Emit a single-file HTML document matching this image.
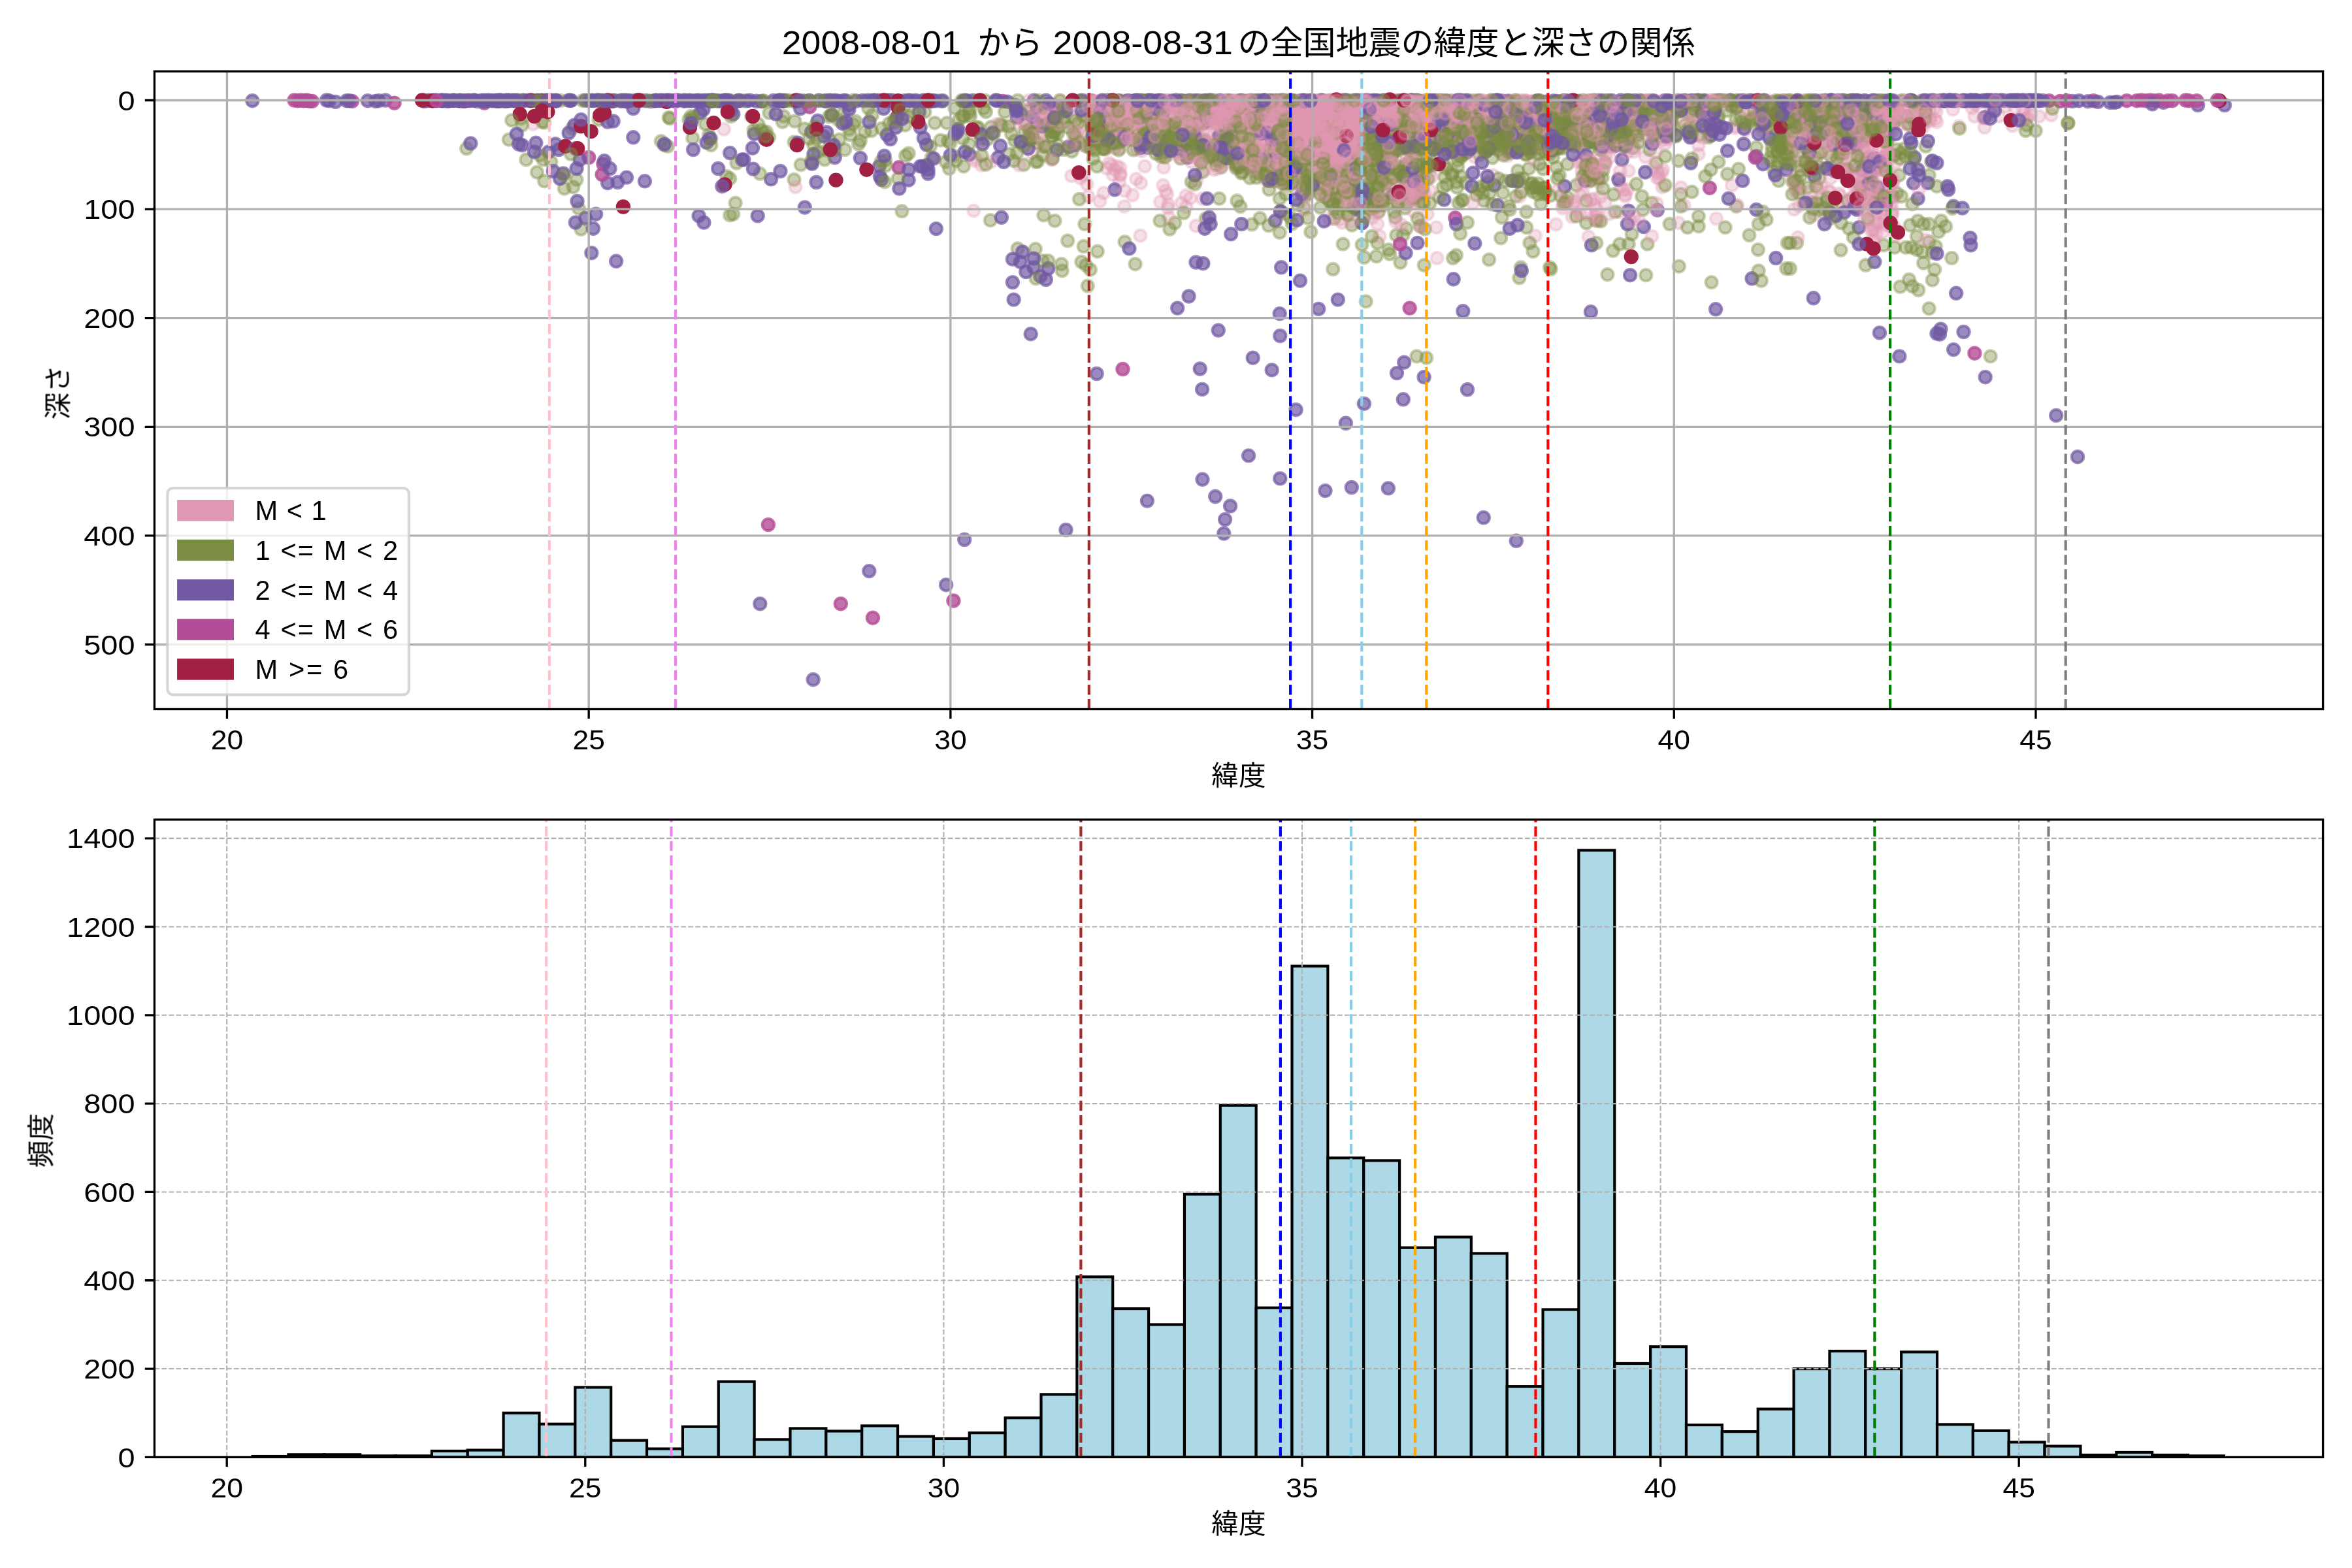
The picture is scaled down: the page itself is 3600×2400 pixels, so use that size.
<!DOCTYPE html>
<html lang="ja"><head><meta charset="utf-8"><title>全国地震の緯度と深さの関係</title>
<style>html,body{margin:0;padding:0;background:#fff}svg{display:block}text{font-family:"Liberation Sans","Noto Sans CJK JP",sans-serif;fill:#000}.t{font-size:41.67px}.tt{font-size:50.00px}circle{stroke-width:4.17px}.k{fill:#e198b4;stroke:#e198b4;fill-opacity:.3;stroke-opacity:.3}.g{fill:#7b8d42;stroke:#7b8d42;fill-opacity:.4;stroke-opacity:.4}.p{fill:#7058a3;stroke:#7058a3;fill-opacity:.7;stroke-opacity:.7}.m{fill:#b44c97;stroke:#b44c97;fill-opacity:.8;stroke-opacity:.8}.r{fill:#a22041;stroke:#a22041}.gr{stroke:#b0b0b0;stroke-width:3.33;fill:none}.gd{stroke:#b0b0b0;stroke-width:2.08;fill:none;stroke-dasharray:7.71 3.33}.vl{stroke-width:4.17;fill:none;stroke-dasharray:15.42 6.67}.sp{stroke:#000;stroke-width:3.33;fill:none}.bar{fill:#add8e6;stroke:#000;stroke-width:4.17;stroke-linejoin:miter}</style></head><body>
<svg width="3600" height="2400" viewBox="0 0 3600 2400">
<rect width="3600" height="2400" fill="#fff"/>
<defs><circle id="k" class="k" r="9.1"/><circle id="g" class="g" r="9.1"/><circle id="p" class="p" r="9.1"/><circle id="m" class="m" r="9.1"/><circle id="r" class="r" r="9.1"/><clipPath id="c1"><rect x="236.4" y="109.2" width="3319.2" height="976.3"/></clipPath><clipPath id="c2"><rect x="236.4" y="1254.4" width="3319.2" height="976"/></clipPath></defs>
<g clip-path="url(#c1)">
<g>
<use href="#g" x="2397.7" y="308.7"/>
<use href="#k" x="1879.7" y="164.9"/>
<use href="#p" x="1645.1" y="222.2"/>
<use href="#g" x="2039.3" y="232.6"/>
<use href="#k" x="1719.2" y="187.3"/>
<use href="#k" x="2184.9" y="327.7"/>
<use href="#k" x="2505.5" y="165.3"/>
<use href="#k" x="2085.4" y="168.8"/>
<use href="#g" x="2096.5" y="320.9"/>
<use href="#p" x="2174.8" y="165.4"/>
<use href="#g" x="1991.1" y="228.7"/>
<use href="#k" x="2030.4" y="159.8"/>
<use href="#g" x="2521.8" y="159.3"/>
<use href="#k" x="1721.4" y="213.7"/>
<use href="#k" x="1996.1" y="235.3"/>
<use href="#g" x="2510.6" y="175"/>
<use href="#k" x="2099.6" y="190.7"/>
<use href="#p" x="855.3" y="229"/>
<use href="#p" x="1758.3" y="154"/>
<use href="#k" x="2110" y="315.7"/>
<use href="#p" x="2385.3" y="175.7"/>
<use href="#k" x="1783.8" y="154.5"/>
<use href="#k" x="2002.4" y="194.2"/>
<use href="#g" x="2174.9" y="190.9"/>
<use href="#p" x="1935.7" y="154"/>
<use href="#k" x="2011.5" y="237.5"/>
<use href="#k" x="2899.9" y="168"/>
<use href="#k" x="1597" y="176.3"/>
<use href="#g" x="2308.2" y="191.2"/>
<use href="#g" x="1673.3" y="242.7"/>
<use href="#k" x="1601.6" y="202.9"/>
<use href="#k" x="2794.1" y="200"/>
<use href="#g" x="2774.3" y="164.9"/>
<use href="#g" x="2182.1" y="187.9"/>
<use href="#k" x="2107.1" y="176.6"/>
<use href="#k" x="1492.9" y="242"/>
<use href="#p" x="2196.3" y="154"/>
<use href="#k" x="2054.1" y="176.6"/>
<use href="#k" x="2043.7" y="203.9"/>
<use href="#g" x="2127.4" y="238.4"/>
<use href="#k" x="2183" y="163.8"/>
<use href="#k" x="2023.8" y="222.3"/>
<use href="#g" x="1216.5" y="185.5"/>
<use href="#g" x="2246.9" y="220.9"/>
<use href="#k" x="1872.7" y="163.1"/>
<use href="#k" x="2051.3" y="199"/>
<use href="#k" x="1746.6" y="213.8"/>
<use href="#k" x="2497.9" y="155.7"/>
<use href="#k" x="1891.8" y="258.1"/>
<use href="#g" x="2084.6" y="341.3"/>
<use href="#g" x="1920.1" y="256.6"/>
<use href="#k" x="2167.9" y="173.4"/>
<use href="#k" x="2096.9" y="246.6"/>
<use href="#k" x="2044.1" y="161.1"/>
<use href="#g" x="1962" y="280.4"/>
<use href="#k" x="2305" y="188"/>
<use href="#g" x="2279" y="166.9"/>
<use href="#g" x="1775.3" y="154.1"/>
<use href="#p" x="1273.3" y="176.3"/>
<use href="#k" x="1752.2" y="221.8"/>
<use href="#k" x="1787.9" y="163.6"/>
<use href="#k" x="2379.3" y="158.4"/>
<use href="#k" x="2144" y="193.6"/>
<use href="#k" x="2107.4" y="175.8"/>
<use href="#k" x="2785.4" y="312.4"/>
<use href="#g" x="2369.6" y="175.1"/>
<use href="#g" x="2039.9" y="279.3"/>
<use href="#k" x="2396.9" y="200.7"/>
<use href="#k" x="2788.7" y="181"/>
<use href="#p" x="2245.2" y="215.1"/>
<use href="#k" x="2839.3" y="164.2"/>
<use href="#g" x="2862.9" y="161.5"/>
<use href="#k" x="2116.9" y="160.1"/>
<use href="#g" x="2354.6" y="154.1"/>
<use href="#g" x="1036.9" y="153.5"/>
<use href="#k" x="2016.3" y="154.4"/>
<use href="#k" x="1944.3" y="191.6"/>
<use href="#k" x="2142.5" y="188.5"/>
<use href="#k" x="2135.1" y="156.3"/>
<use href="#k" x="2521.9" y="154.1"/>
<use href="#k" x="2077.3" y="291.9"/>
<use href="#k" x="2899.5" y="154.4"/>
<use href="#k" x="2040.7" y="185.6"/>
<use href="#k" x="2083.1" y="180.2"/>
<use href="#g" x="2066.1" y="175.2"/>
<use href="#g" x="1774.9" y="155.5"/>
<use href="#k" x="2063.2" y="215.7"/>
<use href="#g" x="2028.9" y="259.9"/>
<use href="#k" x="2511.2" y="159.3"/>
<use href="#g" x="2118.5" y="165.7"/>
<use href="#p" x="2630.9" y="153.6"/>
<use href="#k" x="2895.3" y="329"/>
<use href="#k" x="2071.4" y="192.3"/>
<use href="#k" x="2071.9" y="156.3"/>
<use href="#g" x="2210.5" y="203.5"/>
<use href="#p" x="1310.6" y="154.5"/>
<use href="#k" x="2027.7" y="199.8"/>
<use href="#k" x="2385.9" y="224.8"/>
<use href="#g" x="2078.6" y="322.5"/>
<use href="#g" x="1544.8" y="235.9"/>
<use href="#p" x="1198.6" y="154.7"/>
<use href="#p" x="2817.3" y="176.9"/>
<use href="#g" x="2490" y="202"/>
<use href="#k" x="1943.4" y="185.3"/>
<use href="#k" x="2895.4" y="166"/>
<use href="#k" x="2179.7" y="215.2"/>
<use href="#g" x="1727.8" y="154.1"/>
<use href="#p" x="1151.9" y="226.7"/>
<use href="#g" x="2517.1" y="177"/>
<use href="#g" x="2810.8" y="304.3"/>
<use href="#k" x="2083.1" y="175.8"/>
<use href="#p" x="2214.6" y="154.7"/>
<use href="#g" x="918.9" y="154.5"/>
<use href="#g" x="2802.1" y="154.7"/>
<use href="#g" x="1971.3" y="225"/>
<use href="#g" x="1869.3" y="256.1"/>
<use href="#p" x="1582.2" y="409.3"/>
<use href="#g" x="2412.8" y="283.5"/>
<use href="#k" x="2796.8" y="179.8"/>
<use href="#g" x="863.8" y="288.6"/>
<use href="#g" x="2087.1" y="246.4"/>
<use href="#k" x="2609.5" y="153.6"/>
<use href="#k" x="2258.1" y="172.4"/>
<use href="#k" x="2943.3" y="185.5"/>
<use href="#k" x="2080.2" y="170.5"/>
<use href="#g" x="2320.4" y="300.4"/>
<use href="#k" x="2012" y="201.6"/>
<use href="#p" x="2383" y="163.2"/>
<use href="#k" x="1999.4" y="285.6"/>
<use href="#k" x="2074.8" y="195.2"/>
<use href="#k" x="2025.3" y="212.9"/>
<use href="#g" x="1697.1" y="198.2"/>
<use href="#k" x="2075.2" y="190"/>
<use href="#k" x="2812" y="216.2"/>
<use href="#k" x="2193.6" y="159.7"/>
<use href="#m" x="3291" y="153.5"/>
<use href="#p" x="1674.8" y="192.4"/>
<use href="#k" x="2207.9" y="165.4"/>
<use href="#p" x="2835.2" y="153.8"/>
<use href="#k" x="2037.8" y="244.3"/>
<use href="#p" x="2121.1" y="176.9"/>
<use href="#k" x="2121.2" y="179.2"/>
<use href="#k" x="2554.2" y="201.8"/>
<use href="#g" x="2160.2" y="194.2"/>
<use href="#k" x="1794.3" y="155.2"/>
<use href="#k" x="2244" y="176.1"/>
<use href="#k" x="2039.3" y="160"/>
<use href="#g" x="1780.7" y="154.2"/>
<use href="#k" x="1890.8" y="249.9"/>
<use href="#g" x="2210.1" y="251.3"/>
<use href="#k" x="1644.4" y="199.8"/>
<use href="#g" x="1941.6" y="193.9"/>
<use href="#k" x="2242.2" y="154.1"/>
<use href="#k" x="1606" y="167.8"/>
<use href="#k" x="2422.1" y="246.9"/>
<use href="#k" x="2083.8" y="175.5"/>
<use href="#k" x="1926.5" y="156.4"/>
<use href="#g" x="1955.1" y="211.3"/>
<use href="#k" x="1811.3" y="159"/>
<use href="#p" x="3405" y="161"/>
<use href="#k" x="2094.3" y="182"/>
<use href="#k" x="2814.6" y="296.1"/>
<use href="#p" x="2969.3" y="154.3"/>
<use href="#g" x="2548.8" y="239.3"/>
<use href="#k" x="1996.4" y="164.9"/>
<use href="#k" x="2392.5" y="198.7"/>
<use href="#g" x="1952.7" y="227.6"/>
<use href="#k" x="2041.9" y="166.7"/>
<use href="#p" x="1180.1" y="274.3"/>
<use href="#k" x="2007.9" y="232.2"/>
<use href="#g" x="1871.3" y="161.5"/>
<use href="#p" x="1549.9" y="432.1"/>
<use href="#g" x="2073.5" y="318.3"/>
<use href="#k" x="2054.7" y="166"/>
<use href="#k" x="2066.8" y="220"/>
<use href="#g" x="2140.7" y="181.3"/>
<use href="#k" x="2000.1" y="161.9"/>
<use href="#g" x="2803.3" y="187.2"/>
<use href="#k" x="2001.3" y="201.2"/>
<use href="#k" x="2123.7" y="176.2"/>
<use href="#k" x="1824.7" y="226.3"/>
<use href="#k" x="2547.5" y="164.7"/>
<use href="#k" x="2113.8" y="155.1"/>
<use href="#k" x="2205.8" y="164"/>
<use href="#k" x="2029.8" y="197.9"/>
<use href="#k" x="2844.7" y="282.9"/>
<use href="#p" x="2263.2" y="154.9"/>
<use href="#k" x="2127.8" y="186.6"/>
<use href="#g" x="2434.2" y="196.2"/>
<use href="#g" x="1750.4" y="203.2"/>
<use href="#p" x="2570.4" y="169.6"/>
<use href="#g" x="2249.2" y="165"/>
<use href="#g" x="2373.1" y="215.5"/>
<use href="#g" x="1763" y="182.2"/>
<use href="#k" x="2426.3" y="165.1"/>
<use href="#k" x="2297.8" y="184.3"/>
<use href="#g" x="2099.4" y="304.1"/>
<use href="#p" x="1855.3" y="179.8"/>
<use href="#k" x="2043" y="158.7"/>
<use href="#g" x="2093.2" y="223"/>
<use href="#g" x="2630.3" y="177.5"/>
<use href="#k" x="1978.4" y="154.3"/>
<use href="#k" x="2067.1" y="216.7"/>
<use href="#p" x="862.1" y="265.4"/>
<use href="#k" x="1831.9" y="155.8"/>
<use href="#k" x="1798.9" y="164.1"/>
<use href="#k" x="2023" y="230.2"/>
<use href="#g" x="1804.8" y="228.3"/>
<use href="#k" x="2067.4" y="189.7"/>
<use href="#g" x="1988.1" y="200.6"/>
<use href="#g" x="2201.4" y="221.7"/>
<use href="#g" x="2062.5" y="314.5"/>
<use href="#g" x="2301.8" y="175.1"/>
<use href="#k" x="1990.9" y="155.7"/>
<use href="#p" x="2511.7" y="154.2"/>
<use href="#g" x="2340.8" y="208.7"/>
<use href="#k" x="1787.6" y="318.3"/>
<use href="#k" x="3004.1" y="154.3"/>
<use href="#k" x="1837.2" y="223.5"/>
<use href="#g" x="2027.2" y="154.8"/>
<use href="#k" x="2780.6" y="189.8"/>
<use href="#g" x="2326.5" y="192.6"/>
<use href="#p" x="896.1" y="333.8"/>
<use href="#k" x="2419.1" y="298.2"/>
<use href="#k" x="1999.8" y="155.3"/>
<use href="#k" x="2135.4" y="167.9"/>
<use href="#g" x="2335.9" y="177.5"/>
<use href="#k" x="2054.8" y="205"/>
<use href="#p" x="2681.5" y="426.3"/>
<use href="#k" x="2865.1" y="281.6"/>
<use href="#k" x="2017.8" y="192.9"/>
<use href="#g" x="2670.6" y="154"/>
<use href="#k" x="2010" y="233.3"/>
<use href="#k" x="1825.3" y="182.4"/>
<use href="#k" x="1988.8" y="226.9"/>
<use href="#k" x="1852.8" y="159.5"/>
<use href="#k" x="2006" y="211.6"/>
<use href="#g" x="1460.6" y="238.8"/>
<use href="#k" x="1988" y="156.7"/>
<use href="#p" x="2095.1" y="222.4"/>
<use href="#k" x="2955.2" y="154"/>
<use href="#g" x="1116.3" y="154.1"/>
<use href="#k" x="2004.8" y="184.6"/>
<use href="#k" x="3087.4" y="153.7"/>
<use href="#k" x="3080.1" y="153.7"/>
<use href="#g" x="2530.1" y="184.9"/>
<use href="#k" x="1731.8" y="178.3"/>
<use href="#p" x="2845.4" y="348.1"/>
<use href="#g" x="1844.7" y="228.5"/>
<use href="#k" x="2892.8" y="341.2"/>
<use href="#k" x="1958.8" y="172.9"/>
<use href="#p" x="2295.6" y="186.9"/>
<use href="#p" x="2133.1" y="232.8"/>
<use href="#g" x="1932.5" y="237.5"/>
<use href="#g" x="2071.7" y="154.1"/>
<use href="#k" x="2043.9" y="187.8"/>
<use href="#k" x="2066.4" y="156"/>
<use href="#k" x="1947" y="218.7"/>
<use href="#k" x="1725.9" y="165.8"/>
<use href="#k" x="1768.9" y="215.1"/>
<use href="#k" x="2047.8" y="186"/>
<use href="#k" x="2041.7" y="227.4"/>
<use href="#k" x="2185.5" y="165.1"/>
<use href="#k" x="2300.3" y="188.9"/>
<use href="#k" x="2553.2" y="212.8"/>
<use href="#g" x="2379.5" y="229.3"/>
<use href="#g" x="1858.8" y="183.6"/>
<use href="#g" x="1037.5" y="153.6"/>
<use href="#g" x="1380.5" y="323.3"/>
<use href="#g" x="2311.1" y="185.4"/>
<use href="#k" x="2804.7" y="249.1"/>
<use href="#k" x="2426.3" y="201.5"/>
<use href="#k" x="2087.2" y="176.2"/>
<use href="#k" x="2051.2" y="195.4"/>
<use href="#g" x="2148" y="256.5"/>
<use href="#k" x="2159.4" y="166.4"/>
<use href="#g" x="2933.9" y="382.1"/>
<use href="#k" x="2051.1" y="206.5"/>
<use href="#k" x="2196" y="160.1"/>
<use href="#p" x="2718.2" y="395"/>
<use href="#p" x="1402.6" y="155.1"/>
<use href="#k" x="2821.4" y="153.6"/>
<use href="#g" x="2435" y="264.7"/>
<use href="#k" x="2162.7" y="244.6"/>
<use href="#k" x="2354.5" y="175.9"/>
<use href="#g" x="1823.7" y="278.4"/>
<use href="#p" x="1817.3" y="241.2"/>
<use href="#g" x="1199.5" y="178"/>
<use href="#k" x="2051.7" y="188.7"/>
<use href="#p" x="2849.9" y="260.4"/>
<use href="#k" x="2351" y="166.8"/>
<use href="#k" x="1683.4" y="307.9"/>
<use href="#k" x="2896.5" y="321.7"/>
<use href="#k" x="2007.1" y="208.7"/>
<use href="#k" x="1786.2" y="153.8"/>
<use href="#p" x="2107.5" y="180.7"/>
<use href="#p" x="2990" y="315.8"/>
<use href="#k" x="2010.9" y="219.5"/>
<use href="#p" x="2329.8" y="215.3"/>
<use href="#p" x="2422.3" y="170.4"/>
<use href="#g" x="2401.7" y="166.3"/>
<use href="#p" x="1702.1" y="153.5"/>
<use href="#p" x="2944.2" y="154.1"/>
<use href="#k" x="1741.6" y="181.6"/>
<use href="#k" x="2316.3" y="230.6"/>
<use href="#k" x="2069.3" y="206.3"/>
<use href="#m" x="901.2" y="241"/>
<use href="#g" x="2196.2" y="214.6"/>
<use href="#k" x="2375.5" y="189.1"/>
<use href="#g" x="1530.6" y="190.5"/>
<use href="#g" x="2058.1" y="289.9"/>
<use href="#p" x="1882.5" y="154.2"/>
<use href="#k" x="2170.5" y="160.8"/>
<use href="#g" x="2121.5" y="175.5"/>
<use href="#g" x="1025.4" y="181.4"/>
<use href="#g" x="2370.6" y="193.5"/>
<use href="#p" x="2344.8" y="199.2"/>
<use href="#p" x="821.8" y="153.8"/>
<use href="#k" x="2877" y="174.5"/>
<use href="#g" x="2174.6" y="175.6"/>
<use href="#k" x="2010.3" y="216.4"/>
<use href="#k" x="2025.2" y="197.7"/>
<use href="#g" x="2817.6" y="382.8"/>
<use href="#k" x="1830" y="157.6"/>
<use href="#k" x="2064.3" y="167.4"/>
<use href="#k" x="2169.2" y="300.2"/>
<use href="#g" x="2129.8" y="267.4"/>
<use href="#k" x="1714.6" y="226.9"/>
<use href="#g" x="2170.8" y="278.6"/>
<use href="#k" x="2072.8" y="275.6"/>
<use href="#g" x="2108.4" y="371.9"/>
<use href="#p" x="1407" y="171.2"/>
<use href="#k" x="1885.9" y="239.6"/>
<use href="#g" x="1809.3" y="173.3"/>
<use href="#k" x="1993.4" y="163.5"/>
<use href="#p" x="1117.2" y="234.1"/>
<use href="#g" x="2143.4" y="401.8"/>
<use href="#g" x="2664.5" y="179.8"/>
<use href="#k" x="2045.2" y="202.9"/>
<use href="#k" x="2371.1" y="207.6"/>
<use href="#k" x="2447.4" y="155.8"/>
<use href="#g" x="2462.7" y="175.3"/>
<use href="#k" x="1623.5" y="154.3"/>
<use href="#k" x="2852.6" y="309"/>
<use href="#g" x="2923.7" y="344.7"/>
<use href="#g" x="1919.3" y="254.5"/>
<use href="#k" x="2045.5" y="204.7"/>
<use href="#k" x="1701.2" y="252.9"/>
<use href="#p" x="3068" y="154"/>
<use href="#g" x="2137" y="197.9"/>
<use href="#g" x="1252.2" y="232.4"/>
<use href="#g" x="2281.2" y="175.2"/>
<use href="#g" x="2296.7" y="192.3"/>
<use href="#p" x="2950.9" y="154.2"/>
<use href="#k" x="2040.4" y="213.3"/>
<use href="#g" x="2224.4" y="194.3"/>
<use href="#g" x="2231.1" y="255.3"/>
<use href="#k" x="1654.7" y="222.4"/>
<use href="#k" x="2051.7" y="203.7"/>
<use href="#k" x="2059.1" y="273.3"/>
<use href="#k" x="1831.7" y="276.3"/>
<use href="#k" x="3044" y="153.7"/>
<use href="#g" x="1958.7" y="303.9"/>
<use href="#p" x="2094.7" y="154"/>
<use href="#k" x="2376.8" y="173.1"/>
<use href="#k" x="2090" y="169.7"/>
<use href="#k" x="1711.6" y="153.6"/>
<use href="#k" x="2374.5" y="177"/>
<use href="#k" x="1825.2" y="186.6"/>
<use href="#g" x="3115.9" y="200.1"/>
<use href="#k" x="2224.4" y="154.2"/>
<use href="#g" x="1617.6" y="166.8"/>
<use href="#g" x="2274.4" y="228.3"/>
<use href="#k" x="2181" y="157.8"/>
<use href="#k" x="2009.2" y="169.1"/>
<use href="#k" x="2014.5" y="170.5"/>
<use href="#k" x="2039.8" y="186.1"/>
<use href="#k" x="2453.2" y="208.5"/>
<use href="#g" x="2882.9" y="375.3"/>
<use href="#k" x="1893.5" y="163.4"/>
<use href="#k" x="1991.4" y="193.7"/>
<use href="#g" x="2297.1" y="364.4"/>
<use href="#g" x="2818.7" y="227.6"/>
<use href="#g" x="2078.3" y="227.7"/>
<use href="#g" x="2098.4" y="214.9"/>
<use href="#k" x="2004.9" y="231"/>
<use href="#g" x="1016.9" y="222.2"/>
<use href="#k" x="2032.9" y="235.8"/>
<use href="#k" x="1986.3" y="156.1"/>
<use href="#g" x="2846.8" y="165.4"/>
<use href="#g" x="2494.2" y="210.4"/>
<use href="#p" x="1748.4" y="154.6"/>
<use href="#k" x="2013.3" y="200.7"/>
<use href="#p" x="1245.4" y="235.9"/>
<use href="#g" x="2075.5" y="227.8"/>
<use href="#k" x="1989" y="154.6"/>
<use href="#g" x="1977.1" y="221.7"/>
<use href="#g" x="2771.1" y="153.8"/>
<use href="#g" x="714.1" y="227.3"/>
<use href="#g" x="1011.8" y="216.1"/>
<use href="#g" x="2500.4" y="177"/>
<use href="#g" x="2783" y="186.3"/>
<use href="#p" x="1586.4" y="188.8"/>
<use href="#p" x="2120.7" y="204.2"/>
<use href="#k" x="2734.2" y="207.1"/>
<use href="#g" x="1975.3" y="153.5"/>
<use href="#k" x="2030.4" y="208.7"/>
<use href="#k" x="2014.7" y="204.3"/>
<use href="#k" x="2047.3" y="174.3"/>
<use href="#g" x="2229.1" y="390.6"/>
<use href="#k" x="2143.5" y="157.2"/>
<use href="#g" x="1485.2" y="178"/>
<use href="#g" x="2174.7" y="261.7"/>
<use href="#g" x="2729.1" y="219.6"/>
<use href="#g" x="2003.3" y="295.4"/>
<use href="#g" x="2571.2" y="153.7"/>
<use href="#g" x="2886" y="208.1"/>
<use href="#k" x="1828.8" y="224.4"/>
<use href="#k" x="3061.3" y="154.2"/>
<use href="#k" x="2527.6" y="198.5"/>
<use href="#k" x="2639.9" y="160.4"/>
<use href="#p" x="708.8" y="154.3"/>
<use href="#g" x="1777.2" y="239.8"/>
<use href="#g" x="1812.4" y="171.5"/>
<use href="#g" x="2382.8" y="192.8"/>
<use href="#k" x="2487.6" y="300.5"/>
<use href="#g" x="2058.2" y="188.1"/>
<use href="#p" x="2129" y="225"/>
<use href="#k" x="1994.2" y="185"/>
<use href="#k" x="2016.4" y="220.7"/>
<use href="#p" x="2984.1" y="153.6"/>
<use href="#p" x="2076.8" y="320.4"/>
<use href="#k" x="2182.3" y="186.6"/>
<use href="#p" x="1635.8" y="224.8"/>
<use href="#g" x="2154.1" y="311.4"/>
<use href="#g" x="2227.2" y="170.1"/>
<use href="#g" x="1834.2" y="223.5"/>
<use href="#g" x="1958.4" y="254.9"/>
<use href="#k" x="2034.1" y="228.8"/>
<use href="#g" x="2307.1" y="213.1"/>
<use href="#k" x="2358" y="159.8"/>
<use href="#k" x="2056.8" y="161.2"/>
<use href="#g" x="1386.1" y="238.5"/>
<use href="#g" x="2158.5" y="194.5"/>
<use href="#g" x="2106.7" y="392.3"/>
<use href="#k" x="2024.1" y="210.1"/>
<use href="#k" x="2472.4" y="171.6"/>
<use href="#k" x="2013.2" y="213.8"/>
<use href="#k" x="2009.8" y="265.6"/>
<use href="#g" x="2000.1" y="288.9"/>
<use href="#g" x="2342.3" y="228.7"/>
<use href="#k" x="2158.2" y="167"/>
<use href="#g" x="2119.7" y="226.6"/>
<use href="#k" x="1873" y="172.6"/>
<use href="#g" x="2455.9" y="186.2"/>
<use href="#g" x="1879.4" y="235.7"/>
<use href="#g" x="2303.1" y="189.3"/>
<use href="#g" x="2497.8" y="358.3"/>
<use href="#p" x="2286.9" y="283.5"/>
<use href="#g" x="1676.9" y="213.6"/>
<use href="#g" x="2342" y="232.2"/>
<use href="#p" x="3172" y="154.9"/>
<use href="#k" x="1633.2" y="171.2"/>
<use href="#p" x="1355.4" y="154.6"/>
<use href="#g" x="1060.4" y="211.4"/>
<use href="#p" x="2624.8" y="166.8"/>
<use href="#p" x="2751.7" y="154"/>
<use href="#k" x="2105.4" y="172.4"/>
<use href="#k" x="1992.9" y="273.7"/>
<use href="#p" x="2124.4" y="154.1"/>
<use href="#k" x="2963.9" y="170.9"/>
<use href="#k" x="2045.9" y="174.7"/>
<use href="#k" x="2866" y="244.8"/>
<use href="#p" x="2197.1" y="171.9"/>
<use href="#k" x="2160.7" y="179.4"/>
<use href="#k" x="2470.8" y="168.2"/>
<use href="#g" x="1959.9" y="323"/>
<use href="#p" x="930.1" y="280.1"/>
<use href="#k" x="2453.1" y="176.1"/>
<use href="#g" x="2372.8" y="220.6"/>
<use href="#p" x="2618.7" y="207.3"/>
<use href="#g" x="2857.8" y="154.9"/>
<use href="#g" x="1760.3" y="169.6"/>
<use href="#g" x="2452.5" y="271.9"/>
<use href="#k" x="2380.4" y="215"/>
<use href="#p" x="1200.6" y="153.7"/>
<use href="#g" x="2599.5" y="207.4"/>
<use href="#g" x="2312.2" y="234.2"/>
<use href="#g" x="2323.1" y="261.4"/>
<use href="#k" x="2000.4" y="169.6"/>
<use href="#k" x="1694.1" y="257.6"/>
<use href="#k" x="2079.6" y="194.8"/>
<use href="#g" x="885.9" y="319.2"/>
<use href="#g" x="2008.2" y="250.9"/>
<use href="#k" x="2463.2" y="172.2"/>
<use href="#g" x="1679.8" y="384.8"/>
<use href="#p" x="1957" y="154.5"/>
<use href="#k" x="2025.7" y="217.4"/>
<use href="#g" x="2022.1" y="249.1"/>
<use href="#k" x="2890.5" y="210.4"/>
<use href="#p" x="1193.5" y="154"/>
<use href="#k" x="2058.1" y="155"/>
<use href="#k" x="2170.3" y="269.3"/>
<use href="#k" x="1914.2" y="256.2"/>
<use href="#k" x="3038" y="154.3"/>
<use href="#k" x="1726.3" y="199.5"/>
<use href="#k" x="2902.4" y="248.2"/>
<use href="#p" x="1587.1" y="164.2"/>
<use href="#p" x="1978.2" y="165.7"/>
<use href="#k" x="1991.1" y="166.5"/>
<use href="#k" x="2201.8" y="185"/>
<use href="#p" x="3364.1" y="161"/>
<use href="#k" x="2480.1" y="285.4"/>
<use href="#p" x="943.1" y="399.8"/>
<use href="#k" x="1713.6" y="197.8"/>
<use href="#k" x="2038.7" y="203.6"/>
<use href="#k" x="2163.4" y="153.5"/>
<use href="#p" x="2116.2" y="248.3"/>
<use href="#k" x="2180.2" y="167"/>
<use href="#k" x="1999.9" y="173.9"/>
<use href="#k" x="2025.3" y="164.1"/>
<use href="#k" x="2193.4" y="172.3"/>
<use href="#k" x="2058.6" y="193.9"/>
<use href="#g" x="2149.7" y="153.8"/>
<use href="#k" x="1836.1" y="158"/>
<use href="#k" x="2140.4" y="209.9"/>
<use href="#k" x="2027.1" y="183.2"/>
<use href="#k" x="2293.1" y="188.5"/>
<use href="#g" x="2275.2" y="185.9"/>
<use href="#k" x="1858.8" y="176.1"/>
<use href="#k" x="2253" y="225.4"/>
<use href="#k" x="2083.3" y="158.9"/>
<use href="#k" x="1781.5" y="168.1"/>
<use href="#g" x="1958" y="229.7"/>
<use href="#p" x="2260.9" y="210.4"/>
<use href="#g" x="2352.2" y="154.7"/>
<use href="#g" x="2330.3" y="206.8"/>
<use href="#k" x="1711.8" y="211.5"/>
<use href="#k" x="2071" y="171.7"/>
<use href="#k" x="2493.8" y="210.9"/>
<use href="#p" x="1357.4" y="153.8"/>
<use href="#g" x="1783.1" y="222.3"/>
<use href="#k" x="2155.6" y="157.3"/>
<use href="#k" x="2065.4" y="204"/>
<use href="#g" x="2405.7" y="194.4"/>
<use href="#p" x="840" y="232.4"/>
<use href="#g" x="2241.7" y="202.2"/>
<use href="#k" x="2024.2" y="183.8"/>
<use href="#g" x="2708.7" y="184.5"/>
<use href="#g" x="2308.8" y="194.6"/>
<use href="#k" x="2031.7" y="202.5"/>
<use href="#k" x="2206.1" y="212.7"/>
<use href="#k" x="2467.7" y="208.9"/>
<use href="#p" x="2054.3" y="153.6"/>
<use href="#k" x="1785.6" y="202"/>
<use href="#g" x="2104" y="262.7"/>
<use href="#g" x="2016.6" y="236.2"/>
<use href="#k" x="2043.6" y="210.2"/>
<use href="#g" x="1865.8" y="208.3"/>
<use href="#g" x="2733" y="235.6"/>
<use href="#p" x="2476.9" y="165.1"/>
<use href="#k" x="2051.2" y="335.8"/>
<use href="#p" x="1696.1" y="153.5"/>
<use href="#g" x="2524.4" y="185.6"/>
<use href="#k" x="2375.7" y="184.1"/>
<use href="#g" x="1087.3" y="154.1"/>
<use href="#p" x="2992.8" y="154.2"/>
<use href="#g" x="2735.1" y="227.7"/>
<use href="#k" x="2962.5" y="154"/>
<use href="#k" x="2026.5" y="191.6"/>
<use href="#k" x="2048.5" y="175.6"/>
<use href="#k" x="2037.6" y="158.2"/>
<use href="#g" x="1716.5" y="197.4"/>
<use href="#g" x="2087.2" y="303.9"/>
<use href="#k" x="2052.6" y="186.4"/>
<use href="#p" x="1821" y="153.8"/>
<use href="#k" x="2828.8" y="263.7"/>
<use href="#k" x="2181" y="185.9"/>
<use href="#k" x="2019.7" y="154"/>
<use href="#g" x="2343.1" y="281.8"/>
<use href="#k" x="2028" y="199.5"/>
<use href="#g" x="2695.6" y="180.1"/>
<use href="#k" x="2124.7" y="236.2"/>
<use href="#k" x="2618.1" y="186.6"/>
<use href="#k" x="2078.7" y="207.6"/>
<use href="#p" x="3311.4" y="156.9"/>
<use href="#p" x="2209.4" y="159.6"/>
<use href="#k" x="2048.2" y="245.1"/>
<use href="#k" x="2145.8" y="179"/>
<use href="#k" x="2806.8" y="182.5"/>
<use href="#p" x="2087.5" y="171.5"/>
<use href="#k" x="2938.7" y="193.3"/>
<use href="#g" x="2089.4" y="221.1"/>
<use href="#g" x="2109.5" y="206.1"/>
<use href="#k" x="2048.7" y="202"/>
<use href="#k" x="2055.5" y="171.2"/>
<use href="#k" x="2840.1" y="173.2"/>
<use href="#k" x="1973.5" y="188.6"/>
<use href="#k" x="2098.6" y="181.8"/>
<use href="#p" x="1697.9" y="169.4"/>
<use href="#g" x="1205.9" y="153.8"/>
<use href="#g" x="1412.3" y="153.7"/>
<use href="#k" x="2051" y="194.1"/>
<use href="#k" x="2118.3" y="293"/>
<use href="#k" x="2953.1" y="169.1"/>
<use href="#g" x="2428" y="160.4"/>
<use href="#k" x="1853.4" y="153.8"/>
<use href="#k" x="2114.9" y="230.8"/>
<use href="#k" x="2149" y="168.1"/>
<use href="#g" x="2786.1" y="177.6"/>
<use href="#k" x="2184.6" y="184.8"/>
<use href="#p" x="1418.2" y="221.6"/>
<use href="#m" x="3255.3" y="154.2"/>
<use href="#k" x="2433.7" y="153.9"/>
<use href="#k" x="2948.1" y="153.6"/>
<use href="#k" x="2810.5" y="165.7"/>
<use href="#p" x="1953.4" y="153.9"/>
<use href="#k" x="2862" y="337.2"/>
<use href="#k" x="1744.9" y="192.8"/>
<use href="#k" x="2086.6" y="175.5"/>
<use href="#p" x="2777.4" y="269.9"/>
<use href="#m" x="2616.9" y="287.6"/>
<use href="#g" x="1745.9" y="212.9"/>
<use href="#p" x="1466.5" y="197.8"/>
<use href="#k" x="1996.6" y="158.7"/>
<use href="#g" x="2428.1" y="307.3"/>
<use href="#g" x="778.8" y="213.7"/>
<use href="#k" x="2119.8" y="179.1"/>
<use href="#k" x="2880.5" y="240.8"/>
<use href="#k" x="2311.6" y="169.9"/>
<use href="#p" x="1069.6" y="330.4"/>
<use href="#k" x="2788.3" y="156.2"/>
<use href="#g" x="2499.2" y="165.1"/>
<use href="#k" x="2369.8" y="217.3"/>
<use href="#g" x="1323.7" y="201.8"/>
<use href="#g" x="2506.1" y="207.3"/>
<use href="#k" x="2032.1" y="198.9"/>
<use href="#k" x="2011.1" y="182.5"/>
<use href="#g" x="2159" y="188.8"/>
<use href="#p" x="2350.6" y="204.1"/>
<use href="#g" x="2308.7" y="154.3"/>
<use href="#k" x="2051.5" y="190.7"/>
<use href="#p" x="1601.1" y="153.8"/>
<use href="#p" x="1768.2" y="199.7"/>
<use href="#k" x="2851.9" y="170"/>
<use href="#p" x="835.6" y="153.6"/>
<use href="#p" x="1098.8" y="154.5"/>
<use href="#g" x="2906.7" y="268.2"/>
<use href="#k" x="1814.6" y="234.5"/>
<use href="#k" x="2278.3" y="168.8"/>
<use href="#k" x="2131" y="178"/>
<use href="#g" x="2024.4" y="169"/>
<use href="#k" x="2036.6" y="183.7"/>
<use href="#k" x="2104.9" y="189.4"/>
<use href="#p" x="2236.5" y="153.8"/>
<use href="#g" x="2156.7" y="247.7"/>
<use href="#k" x="1855.1" y="169"/>
<use href="#k" x="2832.7" y="226.2"/>
<use href="#k" x="2141.1" y="165.2"/>
<use href="#k" x="1870.1" y="168.7"/>
<use href="#g" x="2893.4" y="187.7"/>
<use href="#k" x="2019.2" y="207.2"/>
<use href="#g" x="2156.5" y="154"/>
<use href="#k" x="2056.5" y="208.7"/>
<use href="#g" x="2470.1" y="212.3"/>
<use href="#k" x="2065.1" y="161.4"/>
<use href="#g" x="2878.6" y="298.9"/>
<use href="#k" x="2055" y="162.4"/>
<use href="#k" x="2032.7" y="198.9"/>
<use href="#g" x="2225" y="203"/>
<use href="#g" x="1570.6" y="190.9"/>
<use href="#g" x="1846.4" y="153.5"/>
<use href="#k" x="2520.6" y="211.4"/>
<use href="#p" x="2756.2" y="194.2"/>
<use href="#k" x="2036.8" y="177.5"/>
<use href="#k" x="2907.7" y="154.6"/>
<use href="#g" x="2382.2" y="170.9"/>
<use href="#k" x="2003.4" y="235.9"/>
<use href="#k" x="2005.2" y="228.2"/>
<use href="#g" x="2827.2" y="174.2"/>
<use href="#g" x="1914.5" y="153.7"/>
<use href="#p" x="784.6" y="153.6"/>
<use href="#k" x="2030.7" y="165.5"/>
<use href="#g" x="2815.9" y="204.7"/>
<use href="#g" x="2361.9" y="258.6"/>
<use href="#g" x="1533.7" y="192.4"/>
<use href="#g" x="2854.2" y="156.5"/>
<use href="#g" x="2376.6" y="163.7"/>
<use href="#p" x="725.9" y="153.5"/>
<use href="#k" x="2286.8" y="188.7"/>
<use href="#k" x="2011.4" y="179"/>
<use href="#k" x="1898.6" y="190.9"/>
<use href="#k" x="1968.7" y="191.9"/>
<use href="#g" x="1798.2" y="341.3"/>
<use href="#k" x="2181" y="183.6"/>
<use href="#p" x="981.2" y="153.7"/>
<use href="#k" x="2066.2" y="178.1"/>
<use href="#g" x="2397" y="191.9"/>
<use href="#g" x="2171.9" y="197.2"/>
<use href="#k" x="2793.1" y="164.7"/>
<use href="#k" x="1988" y="162.8"/>
<use href="#g" x="2753.9" y="232.4"/>
<use href="#g" x="2774" y="310.7"/>
<use href="#k" x="2599.9" y="235.9"/>
<use href="#g" x="2171.8" y="291.8"/>
<use href="#g" x="2357.8" y="200"/>
<use href="#k" x="2135.6" y="214.2"/>
<use href="#m" x="469.3" y="153.5"/>
<use href="#k" x="2046.2" y="280.6"/>
<use href="#k" x="2455.5" y="154"/>
<use href="#p" x="1337.5" y="153.6"/>
<use href="#k" x="2648" y="153.5"/>
<use href="#g" x="2134.3" y="164.3"/>
<use href="#k" x="2874" y="154.5"/>
<use href="#k" x="2178.3" y="173.5"/>
<use href="#k" x="2023.6" y="227.1"/>
<use href="#p" x="2924.3" y="153.8"/>
<use href="#k" x="1888.8" y="154.1"/>
<use href="#k" x="1720.1" y="154.4"/>
<use href="#k" x="2764.1" y="154.8"/>
<use href="#k" x="2015.4" y="183.1"/>
<use href="#g" x="2381.8" y="158.1"/>
<use href="#k" x="2015.4" y="174.3"/>
<use href="#p" x="2373.2" y="160.1"/>
<use href="#k" x="2671.5" y="199.7"/>
<use href="#p" x="2214.5" y="191.4"/>
<use href="#g" x="2099.5" y="245"/>
<use href="#g" x="2902.2" y="183.5"/>
<use href="#k" x="1785.4" y="194.8"/>
<use href="#p" x="2794.2" y="153.6"/>
<use href="#k" x="2197.6" y="168.7"/>
<use href="#g" x="2377.7" y="176.5"/>
<use href="#g" x="2223.5" y="216.7"/>
<use href="#k" x="2043.7" y="213.6"/>
<use href="#k" x="2000.5" y="155.8"/>
<use href="#k" x="2175" y="254.7"/>
<use href="#g" x="1237.8" y="154.5"/>
<use href="#g" x="2288.7" y="159.4"/>
<use href="#k" x="2029.8" y="191.3"/>
<use href="#k" x="1766.3" y="162.4"/>
<use href="#k" x="2872.6" y="154.6"/>
<use href="#g" x="2255.3" y="154.3"/>
<use href="#p" x="2558.6" y="176"/>
<use href="#k" x="1995.7" y="188"/>
<use href="#k" x="2096.3" y="183.3"/>
<use href="#g" x="2278" y="220.2"/>
<use href="#g" x="2583.8" y="173.8"/>
<use href="#g" x="2166.4" y="202"/>
<use href="#p" x="1372.3" y="181.4"/>
<use href="#g" x="2102.8" y="182"/>
<use href="#k" x="2792.8" y="176.9"/>
<use href="#g" x="2029.6" y="279.5"/>
<use href="#k" x="2019.8" y="242.8"/>
<use href="#k" x="1986.6" y="215.2"/>
<use href="#g" x="2298.8" y="332.8"/>
<use href="#k" x="2066" y="184.8"/>
<use href="#g" x="1919.8" y="212"/>
<use href="#k" x="2174.6" y="269"/>
<use href="#k" x="2076.9" y="191"/>
<use href="#g" x="1999.8" y="298.8"/>
<use href="#g" x="2238.4" y="173.5"/>
<use href="#k" x="2173.4" y="155.6"/>
<use href="#k" x="2162.7" y="173.2"/>
<use href="#g" x="2277" y="177.9"/>
<use href="#k" x="2042.3" y="226.9"/>
<use href="#k" x="2146" y="164.4"/>
<use href="#p" x="1829.8" y="154"/>
<use href="#k" x="2085.9" y="170"/>
<use href="#p" x="1847.8" y="231.1"/>
<use href="#p" x="2802.9" y="153.5"/>
<use href="#k" x="2785.4" y="154"/>
<use href="#k" x="2016.4" y="207.3"/>
<use href="#p" x="1003.7" y="153.8"/>
<use href="#g" x="2380" y="174.6"/>
<use href="#k" x="2022.4" y="188.9"/>
<use href="#p" x="2292" y="314.1"/>
<use href="#k" x="1900.4" y="218.6"/>
<use href="#g" x="1611.1" y="242.7"/>
<use href="#k" x="2038.2" y="183.2"/>
<use href="#k" x="2172.6" y="174.5"/>
<use href="#k" x="2377.4" y="181"/>
<use href="#k" x="2046.1" y="189.9"/>
<use href="#k" x="2544.3" y="154.1"/>
<use href="#p" x="2772" y="213.3"/>
<use href="#k" x="1790.1" y="161.7"/>
<use href="#g" x="1780.2" y="213.1"/>
<use href="#k" x="1951" y="156.3"/>
<use href="#k" x="1840.7" y="190.3"/>
<use href="#k" x="1998.2" y="228.8"/>
<use href="#g" x="2133.6" y="257.5"/>
<use href="#p" x="2373.7" y="228.9"/>
<use href="#k" x="1939.5" y="229.4"/>
<use href="#k" x="2009.3" y="157.7"/>
<use href="#g" x="2380.4" y="215.8"/>
<use href="#g" x="2284.3" y="312.8"/>
<use href="#k" x="1680.5" y="160.9"/>
<use href="#k" x="2022.8" y="192"/>
<use href="#k" x="2886.9" y="187.1"/>
<use href="#k" x="3028.1" y="154.4"/>
<use href="#k" x="2040.2" y="186"/>
<use href="#g" x="2240.3" y="184.4"/>
<use href="#g" x="2209.5" y="229.5"/>
<use href="#k" x="2147.7" y="184.5"/>
<use href="#k" x="2181.5" y="191.5"/>
<use href="#k" x="1913.2" y="154"/>
<use href="#g" x="2077.1" y="310.5"/>
<use href="#k" x="2029.9" y="240.4"/>
<use href="#k" x="2185.5" y="181.6"/>
<use href="#g" x="2602.9" y="172.8"/>
<use href="#k" x="2002" y="156.9"/>
<use href="#k" x="2666.9" y="153.8"/>
<use href="#g" x="2282.5" y="213.6"/>
<use href="#k" x="2438.6" y="272.5"/>
<use href="#p" x="2369.9" y="225.9"/>
<use href="#k" x="2084.5" y="182.6"/>
<use href="#k" x="2608" y="157.6"/>
<use href="#g" x="2203.4" y="154.1"/>
<use href="#g" x="2936.3" y="444"/>
<use href="#k" x="1906.9" y="170.6"/>
<use href="#k" x="2262.4" y="187.8"/>
<use href="#p" x="764.5" y="154.7"/>
<use href="#k" x="2954.4" y="185.1"/>
<use href="#g" x="1724.6" y="205.9"/>
<use href="#g" x="1169" y="202.9"/>
<use href="#g" x="2809.2" y="218.5"/>
<use href="#k" x="2072" y="155.7"/>
<use href="#g" x="2110.1" y="324.3"/>
<use href="#k" x="1995" y="169.1"/>
<use href="#g" x="2750.6" y="154.1"/>
<use href="#g" x="2881.3" y="175.1"/>
<use href="#k" x="1919" y="228.9"/>
<use href="#g" x="2677.4" y="360"/>
<use href="#k" x="2699.4" y="166.6"/>
<use href="#k" x="1674.9" y="181.6"/>
<use href="#k" x="2434.7" y="169"/>
<use href="#k" x="2094.3" y="177.5"/>
<use href="#k" x="1843.7" y="159.7"/>
<use href="#k" x="1722.5" y="162"/>
<use href="#k" x="1832.9" y="213.7"/>
<use href="#g" x="2305.7" y="213"/>
<use href="#k" x="2010.3" y="283.1"/>
<use href="#k" x="2025.9" y="176.1"/>
<use href="#k" x="2108" y="294.9"/>
<use href="#k" x="2069.9" y="187.8"/>
<use href="#k" x="2076.6" y="183.8"/>
<use href="#k" x="2081.1" y="170.8"/>
<use href="#g" x="2956" y="247.8"/>
<use href="#k" x="2303.3" y="155"/>
<use href="#p" x="1779.3" y="222.3"/>
<use href="#g" x="2384.9" y="194.6"/>
<use href="#k" x="2888.9" y="184.6"/>
<use href="#g" x="2925.4" y="378.7"/>
<use href="#k" x="2406.4" y="331.9"/>
<use href="#p" x="1609.1" y="184.9"/>
<use href="#g" x="2171" y="212.6"/>
<use href="#k" x="2012.5" y="188.6"/>
<use href="#k" x="2157.2" y="171.5"/>
<use href="#k" x="2264" y="157"/>
<use href="#k" x="2287.8" y="227"/>
<use href="#p" x="1740.6" y="153.7"/>
<use href="#k" x="2057.9" y="181.9"/>
<use href="#g" x="2467.2" y="223.1"/>
<use href="#g" x="2037" y="252.5"/>
<use href="#k" x="1839.2" y="217.9"/>
<use href="#k" x="1868.3" y="215.2"/>
<use href="#k" x="2042.6" y="235.3"/>
<use href="#k" x="2109" y="169.4"/>
<use href="#k" x="2059.8" y="186.1"/>
<use href="#k" x="2122.3" y="169.5"/>
<use href="#p" x="1242" y="201.8"/>
<use href="#p" x="2688.3" y="239.3"/>
<use href="#p" x="2373.7" y="200.3"/>
<use href="#g" x="1748.9" y="154.6"/>
<use href="#k" x="2709.5" y="183"/>
<use href="#k" x="2010.6" y="183.7"/>
<use href="#p" x="2394.8" y="285.2"/>
<use href="#g" x="2753.6" y="295.4"/>
<use href="#k" x="2751.9" y="254.6"/>
<use href="#k" x="2879.7" y="203.6"/>
<use href="#g" x="1992.9" y="185.5"/>
<use href="#k" x="2076.2" y="174.6"/>
<use href="#k" x="2549.4" y="153.9"/>
<use href="#k" x="2467.6" y="167.4"/>
<use href="#k" x="2210" y="162.2"/>
<use href="#k" x="2073.2" y="186"/>
<use href="#g" x="1888.6" y="181.6"/>
<use href="#k" x="1804.9" y="165"/>
<use href="#k" x="1911.8" y="224.4"/>
<use href="#g" x="2346.5" y="384.8"/>
<use href="#p" x="1239.1" y="153.9"/>
<use href="#p" x="1420.6" y="265.8"/>
<use href="#k" x="2042.2" y="189.8"/>
<use href="#p" x="2669" y="156.1"/>
<use href="#k" x="2007.6" y="220.4"/>
<use href="#k" x="1835.8" y="154.1"/>
<use href="#k" x="2281.1" y="185.2"/>
<use href="#p" x="794.1" y="220.5"/>
<use href="#g" x="2368.4" y="196.3"/>
<use href="#g" x="2443.1" y="177.8"/>
<use href="#k" x="2157.8" y="180.9"/>
<use href="#g" x="1475.4" y="178.3"/>
<use href="#g" x="2126.4" y="194.6"/>
<use href="#k" x="2001.4" y="208.8"/>
<use href="#g" x="2368.9" y="181.4"/>
<use href="#k" x="1932.2" y="170.9"/>
<use href="#g" x="1497.1" y="195"/>
<use href="#g" x="2459.4" y="222.8"/>
<use href="#k" x="1794.7" y="191.7"/>
<use href="#k" x="2161.5" y="167.6"/>
<use href="#p" x="1808" y="153.9"/>
<use href="#g" x="2431.5" y="269.9"/>
<use href="#k" x="2160.2" y="169.5"/>
<use href="#g" x="2922" y="428"/>
<use href="#k" x="2309.2" y="222.2"/>
<use href="#k" x="2129.3" y="190.4"/>
<use href="#p" x="1712.4" y="154.4"/>
<use href="#g" x="2067.8" y="263.1"/>
<use href="#g" x="938.8" y="153.9"/>
<use href="#g" x="2401.7" y="184.2"/>
<use href="#g" x="2246.6" y="222.4"/>
<use href="#k" x="2179.8" y="161.6"/>
<use href="#g" x="2743.2" y="233"/>
<use href="#g" x="2744.2" y="278.5"/>
<use href="#k" x="2014.5" y="197.6"/>
<use href="#k" x="1762.2" y="168.3"/>
<use href="#k" x="2008.1" y="182.1"/>
<use href="#g" x="1293.1" y="229"/>
<use href="#g" x="2110.4" y="282.6"/>
<use href="#g" x="2228.4" y="167.7"/>
<use href="#g" x="2358.5" y="155.5"/>
<use href="#g" x="1748" y="153.6"/>
<use href="#p" x="663.3" y="154.3"/>
<use href="#k" x="2050.8" y="226.3"/>
<use href="#k" x="2429.6" y="252.6"/>
<use href="#k" x="2017.5" y="179.8"/>
<use href="#g" x="1397.6" y="171.8"/>
<use href="#k" x="2042.9" y="205.1"/>
<use href="#k" x="2569.3" y="341.3"/>
<use href="#g" x="1674.2" y="186.9"/>
<use href="#g" x="2216.7" y="209.7"/>
<use href="#p" x="2206.8" y="189.1"/>
<use href="#g" x="1675.8" y="203.9"/>
<use href="#g" x="1927" y="230.7"/>
<use href="#g" x="2408" y="167.9"/>
<use href="#k" x="2673" y="155.7"/>
<use href="#p" x="2197.5" y="225.9"/>
<use href="#p" x="2339.9" y="200"/>
<use href="#p" x="2726.7" y="202.4"/>
<use href="#g" x="2717.9" y="191.4"/>
<use href="#g" x="1507.7" y="153.7"/>
<use href="#k" x="1817.1" y="165"/>
<use href="#k" x="2139.3" y="284.3"/>
<use href="#k" x="2170.8" y="163.7"/>
<use href="#k" x="2058.2" y="161.4"/>
<use href="#k" x="2872.1" y="357.3"/>
<use href="#p" x="1679.1" y="195"/>
<use href="#k" x="2440" y="314.1"/>
<use href="#k" x="2301.8" y="187.1"/>
<use href="#k" x="2045.1" y="161.8"/>
<use href="#k" x="2839.3" y="170"/>
<use href="#g" x="1607.7" y="201.8"/>
<use href="#g" x="2374.4" y="161.1"/>
<use href="#k" x="2097.6" y="238.7"/>
<use href="#g" x="863.8" y="223.9"/>
<use href="#g" x="2750.2" y="371.9"/>
<use href="#p" x="683.4" y="154.3"/>
<use href="#g" x="2433.1" y="154.3"/>
<use href="#k" x="2748.3" y="209.7"/>
<use href="#k" x="2654.6" y="162"/>
<use href="#p" x="1029.1" y="154"/>
<use href="#k" x="2935.6" y="195"/>
<use href="#k" x="2141.8" y="160.9"/>
<use href="#g" x="2172.2" y="222.7"/>
<use href="#g" x="2768.9" y="220"/>
<use href="#p" x="1135.9" y="244.4"/>
<use href="#g" x="2391.7" y="198"/>
<use href="#k" x="2074" y="206.2"/>
<use href="#k" x="2843.4" y="316"/>
<use href="#k" x="2203.6" y="162.2"/>
<use href="#g" x="2405.1" y="193.5"/>
<use href="#k" x="3110.5" y="153.6"/>
<use href="#k" x="2010.7" y="233.1"/>
<use href="#g" x="1668.9" y="412.7"/>
<use href="#g" x="2412.6" y="207.6"/>
<use href="#k" x="2010.3" y="205.7"/>
<use href="#g" x="2170.4" y="222.8"/>
<use href="#k" x="1672.9" y="170.7"/>
<use href="#p" x="2210.4" y="305.6"/>
<use href="#k" x="2556.8" y="188.2"/>
<use href="#k" x="2370.1" y="178.1"/>
<use href="#g" x="2311.3" y="219.7"/>
<use href="#k" x="1929.1" y="154.9"/>
<use href="#g" x="2054.4" y="242.1"/>
<use href="#k" x="2133.1" y="174.3"/>
<use href="#k" x="1726.7" y="215"/>
<use href="#p" x="2411.1" y="195.1"/>
<use href="#p" x="1373.9" y="178.1"/>
<use href="#k" x="1795.8" y="157.7"/>
<use href="#k" x="2260" y="194.4"/>
<use href="#k" x="2024.2" y="224.8"/>
<use href="#g" x="2388.3" y="225.3"/>
<use href="#k" x="1744.8" y="184.7"/>
<use href="#g" x="2771" y="186.9"/>
<use href="#k" x="2003.2" y="192.1"/>
<use href="#g" x="1195.9" y="154.8"/>
<use href="#k" x="2768.1" y="185.7"/>
<use href="#k" x="2080" y="189.1"/>
<use href="#p" x="1563.6" y="174.3"/>
<use href="#k" x="2054.8" y="227.8"/>
<use href="#p" x="2507" y="187.6"/>
<use href="#g" x="2283.7" y="163.4"/>
<use href="#g" x="1088.3" y="212"/>
<use href="#g" x="1801.8" y="167.3"/>
<use href="#k" x="1879.8" y="200.4"/>
<use href="#g" x="2518.6" y="156.2"/>
<use href="#g" x="2189.5" y="176.6"/>
<use href="#p" x="1735.3" y="177.6"/>
<use href="#k" x="2018.3" y="217.4"/>
<use href="#g" x="2129.6" y="165.8"/>
<use href="#g" x="2312.5" y="197.7"/>
<use href="#k" x="1582.2" y="191.6"/>
<use href="#k" x="2016.4" y="183.2"/>
<use href="#k" x="2782.5" y="172.8"/>
<use href="#g" x="1926.7" y="247.2"/>
<use href="#g" x="1276.5" y="229.8"/>
<use href="#g" x="1934.9" y="167.4"/>
<use href="#g" x="1424" y="223.9"/>
<use href="#k" x="2076.7" y="196.9"/>
<use href="#k" x="1789" y="332.8"/>
<use href="#k" x="2834.8" y="302.2"/>
<use href="#k" x="2374.5" y="213.8"/>
<use href="#k" x="1960.7" y="240.6"/>
<use href="#k" x="2090.6" y="189"/>
<use href="#g" x="2262.7" y="165.7"/>
<use href="#g" x="2767.8" y="154.6"/>
<use href="#g" x="1692.8" y="197.3"/>
<use href="#k" x="1951.9" y="164.2"/>
<use href="#k" x="2185" y="178.1"/>
<use href="#k" x="2053.9" y="173.4"/>
<use href="#k" x="1989.8" y="154.4"/>
<use href="#k" x="2481.7" y="180.3"/>
<use href="#p" x="1358" y="154.4"/>
<use href="#k" x="2167.4" y="167"/>
<use href="#k" x="1824" y="248.1"/>
<use href="#k" x="2083.1" y="187.6"/>
<use href="#g" x="2120.6" y="205"/>
<use href="#k" x="2042" y="186.1"/>
<use href="#g" x="2072.1" y="153.7"/>
<use href="#p" x="950.1" y="154.7"/>
<use href="#g" x="2625.6" y="153.7"/>
<use href="#k" x="2162.3" y="178.6"/>
<use href="#k" x="2062.7" y="192"/>
<use href="#p" x="1553.3" y="161"/>
<use href="#g" x="2848.1" y="216.7"/>
<use href="#k" x="1761" y="205.5"/>
<use href="#g" x="1163.1" y="265.8"/>
<use href="#k" x="2866.3" y="351.1"/>
<use href="#k" x="2010.6" y="225.8"/>
<use href="#g" x="1837.1" y="173.5"/>
<use href="#g" x="829.8" y="186.5"/>
<use href="#g" x="2285.8" y="185.9"/>
<use href="#k" x="2040.9" y="237.7"/>
<use href="#p" x="1757" y="225.9"/>
<use href="#k" x="2029.4" y="189.7"/>
<use href="#k" x="1912.7" y="192.8"/>
<use href="#g" x="2399.2" y="251.2"/>
<use href="#k" x="2844.9" y="292.1"/>
<use href="#g" x="1116.6" y="153.5"/>
<use href="#k" x="2542.8" y="185.2"/>
<use href="#k" x="2919.7" y="160.5"/>
<use href="#k" x="2169.6" y="156.5"/>
<use href="#k" x="1713.3" y="278.5"/>
<use href="#g" x="2150.6" y="252.2"/>
<use href="#k" x="2743.7" y="210.8"/>
<use href="#k" x="2178.4" y="170.4"/>
<use href="#p" x="702.4" y="154.3"/>
<use href="#g" x="2122.7" y="208.7"/>
<use href="#k" x="2036.6" y="243.6"/>
<use href="#k" x="2336.5" y="192.1"/>
<use href="#p" x="703.9" y="154"/>
<use href="#g" x="2794.7" y="154.1"/>
<use href="#p" x="2216.7" y="168.3"/>
<use href="#k" x="2433.6" y="163.9"/>
<use href="#p" x="712.1" y="154.3"/>
<use href="#k" x="1815.4" y="299.3"/>
<use href="#k" x="2120.6" y="277.3"/>
<use href="#k" x="1730.8" y="178.3"/>
<use href="#k" x="2661.6" y="155.1"/>
<use href="#p" x="2451.5" y="199.3"/>
<use href="#p" x="2527.1" y="171.4"/>
<use href="#k" x="2130" y="192.8"/>
<use href="#g" x="2103.7" y="316.3"/>
<use href="#k" x="2893.7" y="346.7"/>
<use href="#g" x="2271.6" y="307.3"/>
<use href="#k" x="2025.9" y="241.6"/>
<use href="#k" x="1571" y="188.9"/>
<use href="#p" x="1265.2" y="202.5"/>
<use href="#g" x="2806" y="209.7"/>
<use href="#k" x="3101.3" y="181.4"/>
<use href="#k" x="2064.6" y="162.7"/>
<use href="#g" x="1463.1" y="246.1"/>
<use href="#g" x="2139.3" y="207.8"/>
<use href="#g" x="2817.5" y="188.9"/>
<use href="#p" x="1925.9" y="154.3"/>
<use href="#g" x="2732.4" y="250.1"/>
<use href="#k" x="1928.7" y="190.1"/>
<use href="#k" x="1594.1" y="181.2"/>
<use href="#k" x="2152.2" y="243.3"/>
<use href="#k" x="1959.6" y="169.4"/>
<use href="#p" x="2135.9" y="181.8"/>
<use href="#p" x="2871" y="258"/>
<use href="#k" x="1735.5" y="202.5"/>
<use href="#k" x="2949.3" y="160.7"/>
<use href="#k" x="2799.1" y="220.3"/>
<use href="#g" x="1826.7" y="190"/>
<use href="#k" x="2006.6" y="187.4"/>
<use href="#k" x="1959.1" y="179.2"/>
<use href="#g" x="2266.9" y="214.3"/>
<use href="#k" x="2431.5" y="362.4"/>
<use href="#p" x="2306.9" y="200.6"/>
<use href="#k" x="1845.3" y="216"/>
<use href="#k" x="2010.2" y="175.1"/>
<use href="#k" x="1992.7" y="173.2"/>
<use href="#p" x="976.8" y="153.6"/>
<use href="#g" x="1976.6" y="281.7"/>
<use href="#g" x="2599.9" y="154.3"/>
<use href="#k" x="2038.6" y="198.6"/>
<use href="#g" x="1745.4" y="153.9"/>
<use href="#k" x="2048.5" y="170.1"/>
<use href="#g" x="1195.2" y="153.8"/>
<use href="#k" x="2495.4" y="210.3"/>
<use href="#p" x="2327.1" y="221.2"/>
<use href="#p" x="1582.7" y="153.6"/>
<use href="#k" x="2319.1" y="153.6"/>
<use href="#k" x="3083.9" y="165.3"/>
<use href="#g" x="1897" y="176.5"/>
<use href="#g" x="1454.6" y="218.8"/>
<use href="#k" x="1908.5" y="253.4"/>
<use href="#k" x="2131.6" y="177.4"/>
<use href="#k" x="2175.7" y="154.9"/>
<use href="#p" x="1555" y="164.4"/>
<use href="#g" x="2557.8" y="200.7"/>
<use href="#g" x="2107.9" y="236.6"/>
<use href="#k" x="1749.6" y="192.8"/>
<use href="#k" x="2620" y="193.3"/>
<use href="#k" x="2857" y="243.9"/>
<use href="#k" x="2436" y="185.1"/>
<use href="#g" x="2859.9" y="291.2"/>
<use href="#k" x="1650.2" y="201.8"/>
<use href="#k" x="2780.3" y="243"/>
<use href="#k" x="2026.1" y="210.1"/>
<use href="#k" x="2876" y="305.2"/>
<use href="#k" x="1695.8" y="221"/>
<use href="#k" x="2068.4" y="214.9"/>
<use href="#k" x="2125.1" y="181.4"/>
<use href="#g" x="2362.6" y="206.1"/>
<use href="#k" x="2004.9" y="212.5"/>
<use href="#g" x="2231.3" y="245.5"/>
<use href="#g" x="2784.5" y="273.1"/>
<use href="#k" x="2824.4" y="182.5"/>
<use href="#k" x="2115.5" y="173"/>
<use href="#k" x="2890" y="186.1"/>
<use href="#k" x="1983.1" y="154"/>
<use href="#g" x="2462.4" y="153.8"/>
<use href="#k" x="1991.9" y="202"/>
<use href="#g" x="1823" y="214.5"/>
<use href="#k" x="2832.5" y="157.1"/>
<use href="#g" x="2273.2" y="219"/>
<use href="#p" x="2234.9" y="215.7"/>
<use href="#p" x="799.2" y="222.2"/>
<use href="#k" x="2005.8" y="243.2"/>
<use href="#k" x="2166.6" y="273"/>
<use href="#k" x="2005" y="206"/>
<use href="#g" x="2492.2" y="196.3"/>
<use href="#k" x="2036.7" y="224.7"/>
<use href="#g" x="2336.1" y="193.7"/>
<use href="#g" x="2309.4" y="315.4"/>
<use href="#g" x="2384.8" y="227.4"/>
<use href="#g" x="2563.7" y="157.9"/>
<use href="#g" x="2846.2" y="174.8"/>
<use href="#g" x="1367.9" y="188.2"/>
<use href="#k" x="2045.8" y="157.3"/>
<use href="#g" x="818.3" y="154.3"/>
<use href="#m" x="923.3" y="251.2"/>
<use href="#g" x="2209.2" y="218.2"/>
<use href="#k" x="2776.8" y="328.5"/>
<use href="#p" x="2797.6" y="258"/>
<use href="#k" x="1943.2" y="188.4"/>
<use href="#p" x="912.1" y="327.7"/>
<use href="#k" x="1669.4" y="190.8"/>
<use href="#g" x="2847.4" y="244.4"/>
<use href="#g" x="1333.9" y="200.1"/>
<use href="#k" x="1997.2" y="181.2"/>
<use href="#k" x="2112" y="166.7"/>
<use href="#k" x="2073.2" y="187"/>
<use href="#k" x="2094" y="170.1"/>
<use href="#k" x="2130.8" y="181.7"/>
<use href="#k" x="1716.7" y="168.4"/>
<use href="#k" x="3139.7" y="176.3"/>
<use href="#k" x="2723.3" y="154.4"/>
<use href="#g" x="1907.6" y="220.6"/>
<use href="#k" x="2543.4" y="264.5"/>
<use href="#k" x="1707.6" y="155.8"/>
<use href="#k" x="2843.7" y="269.9"/>
<use href="#k" x="2791.7" y="179.4"/>
<use href="#p" x="725.4" y="153.6"/>
<use href="#k" x="2539.3" y="272"/>
<use href="#k" x="2080.2" y="208.5"/>
<use href="#k" x="2554" y="196.3"/>
<use href="#p" x="2648.5" y="153.6"/>
<use href="#p" x="2203.3" y="224.5"/>
<use href="#k" x="2044.9" y="208.8"/>
<use href="#g" x="2317" y="201.6"/>
<use href="#g" x="2480.3" y="160.3"/>
<use href="#k" x="1574.2" y="154"/>
<use href="#k" x="1919.7" y="163.8"/>
<use href="#k" x="2061.1" y="188.6"/>
<use href="#g" x="2178.9" y="226.4"/>
<use href="#g" x="1954.8" y="245"/>
<use href="#k" x="2197.3" y="182.7"/>
<use href="#k" x="2038" y="181.3"/>
<use href="#p" x="2299" y="154.5"/>
<use href="#k" x="2211.7" y="232.1"/>
<use href="#k" x="2484.6" y="156.1"/>
<use href="#k" x="1938.2" y="155.5"/>
<use href="#k" x="2046.7" y="155.5"/>
<use href="#k" x="2238.2" y="192.3"/>
<use href="#k" x="2008.3" y="168.9"/>
<use href="#k" x="1779.9" y="201.9"/>
<use href="#g" x="2774.4" y="201"/>
<use href="#g" x="1902.2" y="166"/>
<use href="#p" x="1944.2" y="154.3"/>
<use href="#g" x="1613.7" y="201.2"/>
<use href="#k" x="2183.1" y="173.6"/>
<use href="#g" x="1718.5" y="206.1"/>
<use href="#p" x="2801.8" y="189.6"/>
<use href="#k" x="1859.5" y="154.3"/>
<use href="#k" x="2544.4" y="286.4"/>
<use href="#k" x="2752.2" y="183"/>
<use href="#g" x="2787.4" y="233.5"/>
<use href="#k" x="2073.6" y="154.6"/>
<use href="#g" x="1840.7" y="263.1"/>
<use href="#g" x="1473.4" y="177.2"/>
<use href="#k" x="2847.6" y="160.6"/>
<use href="#g" x="2941.3" y="154.6"/>
<use href="#g" x="2535.2" y="249.5"/>
<use href="#k" x="2007" y="204"/>
<use href="#k" x="1732.3" y="156.7"/>
<use href="#k" x="1783.3" y="201.8"/>
<use href="#k" x="2385.1" y="211.8"/>
<use href="#k" x="2026.8" y="239.5"/>
<use href="#k" x="2137" y="157.3"/>
<use href="#g" x="2196" y="193.1"/>
<use href="#g" x="2159.7" y="197.9"/>
<use href="#g" x="2494.9" y="158.1"/>
<use href="#k" x="2657.3" y="193.8"/>
<use href="#k" x="1879.1" y="218.1"/>
<use href="#p" x="1088.8" y="153.8"/>
<use href="#k" x="2543.5" y="192.3"/>
<use href="#k" x="1839" y="157"/>
<use href="#p" x="2508.7" y="171.3"/>
<use href="#k" x="2519.9" y="154.5"/>
<use href="#k" x="3107.3" y="161"/>
<use href="#k" x="1996.5" y="200.1"/>
<use href="#k" x="1986.1" y="193.9"/>
<use href="#g" x="2490.9" y="187.2"/>
<use href="#k" x="2107.6" y="266.7"/>
<use href="#k" x="2650.7" y="162.8"/>
<use href="#k" x="2007" y="215"/>
<use href="#g" x="2555.5" y="191.1"/>
<use href="#k" x="2352" y="167"/>
<use href="#m" x="1033.9" y="154.9"/>
<use href="#k" x="2759.2" y="189.2"/>
<use href="#k" x="2036.5" y="244.5"/>
<use href="#g" x="1509" y="171.2"/>
<use href="#g" x="2150.6" y="226.6"/>
<use href="#g" x="1695" y="208.8"/>
<use href="#k" x="2751.9" y="363.4"/>
<use href="#m" x="741.4" y="157.6"/>
<use href="#p" x="2381.9" y="186.4"/>
<use href="#k" x="2048.1" y="164.7"/>
<use href="#g" x="1773.1" y="216"/>
<use href="#p" x="1531.2" y="223.3"/>
<use href="#k" x="2021.3" y="197.3"/>
<use href="#p" x="1345.8" y="254.6"/>
<use href="#g" x="2376.5" y="219.1"/>
<use href="#k" x="2070.1" y="165.9"/>
<use href="#k" x="2287.4" y="184.2"/>
<use href="#g" x="2755.7" y="180.1"/>
<use href="#p" x="1958.7" y="480.1"/>
<use href="#m" x="465.2" y="154.2"/>
<use href="#k" x="2137.5" y="172.7"/>
<use href="#k" x="2177.1" y="308.5"/>
<use href="#k" x="2077.8" y="175"/>
<use href="#k" x="1733.5" y="298.8"/>
<use href="#g" x="1996.1" y="317.5"/>
<use href="#k" x="1935.4" y="197.3"/>
<use href="#k" x="2830.5" y="170.1"/>
<use href="#g" x="1595.8" y="399.1"/>
<use href="#k" x="2059.5" y="218"/>
<use href="#g" x="2754.3" y="288.6"/>
<use href="#p" x="870.4" y="153.6"/>
<use href="#k" x="2038.3" y="163.8"/>
<use href="#p" x="3003.9" y="154"/>
<use href="#p" x="2688.3" y="320.9"/>
<use href="#p" x="2548.5" y="154"/>
<use href="#k" x="2087.4" y="182.5"/>
<use href="#g" x="2566.4" y="153.5"/>
<use href="#k" x="2947.4" y="175.4"/>
<use href="#p" x="2890.5" y="180.3"/>
<use href="#g" x="2305.9" y="190.8"/>
<use href="#p" x="2200.8" y="166.3"/>
<use href="#k" x="1671.4" y="154.1"/>
<use href="#k" x="2065.9" y="163.9"/>
<use href="#p" x="2426.4" y="276.7"/>
<use href="#k" x="2061.8" y="173.6"/>
<use href="#g" x="2952.6" y="268.2"/>
<use href="#p" x="1814.7" y="154.6"/>
<use href="#g" x="2241.6" y="185.9"/>
<use href="#g" x="1845.8" y="334.5"/>
<use href="#k" x="2051.4" y="239.5"/>
<use href="#g" x="1775.4" y="337.9"/>
<use href="#p" x="2835.8" y="207.6"/>
<use href="#p" x="677.2" y="153.5"/>
<use href="#p" x="908.4" y="154.1"/>
<use href="#g" x="2177.7" y="208.5"/>
<use href="#k" x="816.2" y="189.9"/>
<use href="#k" x="2012.7" y="201.3"/>
<use href="#k" x="2069.1" y="172.2"/>
<use href="#g" x="1726.5" y="154.5"/>
<use href="#g" x="2039.2" y="222"/>
<use href="#g" x="1818.5" y="233.1"/>
<use href="#g" x="1299.5" y="198.1"/>
<use href="#g" x="1986.3" y="174.7"/>
<use href="#g" x="2245" y="208.1"/>
<use href="#k" x="2001.2" y="204.9"/>
<use href="#k" x="2101.4" y="207.4"/>
<use href="#k" x="2165.2" y="171.9"/>
<use href="#g" x="2340.2" y="257.9"/>
<use href="#g" x="2154.1" y="220.7"/>
<use href="#k" x="2029.2" y="156.7"/>
<use href="#k" x="2162.9" y="158"/>
<use href="#g" x="2339.9" y="205.9"/>
<use href="#p" x="2578.8" y="154.7"/>
<use href="#k" x="2041.2" y="218.9"/>
<use href="#g" x="2023.2" y="263.1"/>
<use href="#k" x="1749.7" y="193.2"/>
<use href="#k" x="2172.1" y="176.3"/>
<use href="#k" x="1983.2" y="190"/>
<use href="#g" x="1707.1" y="204.5"/>
<use href="#g" x="2280.5" y="192.5"/>
<use href="#g" x="2821.7" y="174.4"/>
<use href="#g" x="2644.1" y="266.5"/>
<use href="#g" x="2047.2" y="258"/>
<use href="#p" x="2154.1" y="224.3"/>
<use href="#k" x="1939.6" y="177.4"/>
<use href="#k" x="2189.7" y="171.4"/>
<use href="#g" x="2896.7" y="300.5"/>
<use href="#k" x="2599.9" y="222.2"/>
<use href="#k" x="1999.7" y="235.3"/>
<use href="#k" x="1783.9" y="292"/>
<use href="#g" x="2092" y="298.4"/>
<use href="#p" x="2118.7" y="218.6"/>
<use href="#k" x="1806" y="168.4"/>
<use href="#g" x="2492.3" y="165.9"/>
<use href="#k" x="2106.4" y="181.8"/>
<use href="#k" x="2834.6" y="236.4"/>
<use href="#p" x="1901.4" y="154.1"/>
<use href="#k" x="2445.7" y="272"/>
<use href="#m" x="1375.7" y="256.3"/>
<use href="#g" x="792.1" y="154.2"/>
<use href="#g" x="1974.7" y="254.2"/>
<use href="#k" x="1687.8" y="157.8"/>
<use href="#g" x="2492.1" y="189.1"/>
<use href="#k" x="2054.5" y="277.3"/>
<use href="#k" x="1603.3" y="162.3"/>
<use href="#p" x="2131" y="195.6"/>
<use href="#k" x="2376.2" y="220.6"/>
<use href="#p" x="1420.6" y="259.7"/>
<use href="#p" x="2778.5" y="175.1"/>
<use href="#p" x="1075.2" y="154.3"/>
<use href="#p" x="1071.3" y="172.9"/>
<use href="#g" x="2541.3" y="191.6"/>
<use href="#g" x="2871.2" y="156.5"/>
<use href="#k" x="2336" y="219.1"/>
<use href="#k" x="1997.6" y="236.3"/>
<use href="#k" x="2030.6" y="170.5"/>
<use href="#p" x="2260.5" y="168.9"/>
<use href="#k" x="2184" y="194.1"/>
<use href="#p" x="2122.9" y="177.6"/>
<use href="#k" x="2867.2" y="345.7"/>
<use href="#k" x="1982" y="233.1"/>
<use href="#p" x="1391" y="259.7"/>
<use href="#k" x="2035.6" y="235.9"/>
<use href="#g" x="1557.7" y="380.4"/>
<use href="#g" x="2318.7" y="160.5"/>
<use href="#p" x="1277.8" y="241"/>
<use href="#k" x="2034.7" y="155.3"/>
<use href="#k" x="2074.3" y="194.7"/>
<use href="#p" x="1669.2" y="154"/>
<use href="#k" x="2522.8" y="154.6"/>
<use href="#g" x="2355" y="196.3"/>
<use href="#k" x="2045" y="231.7"/>
<use href="#g" x="2032.6" y="258.6"/>
<use href="#g" x="2469.4" y="158.2"/>
<use href="#g" x="2385.3" y="164.6"/>
<use href="#g" x="2335.8" y="226.6"/>
<use href="#g" x="2711.2" y="246.1"/>
<use href="#k" x="1846.9" y="205.4"/>
<use href="#k" x="3053.4" y="153.7"/>
<use href="#p" x="2234.5" y="209.4"/>
<use href="#g" x="2369.8" y="201.4"/>
<use href="#k" x="2008.4" y="201.5"/>
<use href="#p" x="2843" y="198.9"/>
<use href="#g" x="2722.3" y="154.8"/>
<use href="#k" x="2055.2" y="220.2"/>
<use href="#g" x="2021" y="317.5"/>
<use href="#k" x="1923" y="249.9"/>
<use href="#k" x="2025.6" y="164.1"/>
<use href="#k" x="2048.8" y="199.7"/>
<use href="#g" x="2334.9" y="195.4"/>
<use href="#k" x="2074.3" y="176.9"/>
<use href="#k" x="2047.6" y="176.2"/>
<use href="#k" x="1981" y="216.9"/>
<use href="#m" x="1534.6" y="154.9"/>
<use href="#k" x="2077.4" y="211.2"/>
<use href="#g" x="1197.8" y="186.5"/>
<use href="#k" x="2468.5" y="210.1"/>
<use href="#g" x="2239" y="212.6"/>
<use href="#p" x="1595.8" y="193.3"/>
<use href="#k" x="2041.6" y="154.4"/>
<use href="#g" x="1671.5" y="198.7"/>
<use href="#k" x="2335.8" y="183.8"/>
<use href="#k" x="2031.2" y="161"/>
<use href="#k" x="1997.2" y="233.3"/>
<use href="#k" x="2327.5" y="220.4"/>
<use href="#k" x="2380.6" y="217.9"/>
<use href="#g" x="2587.3" y="194.5"/>
<use href="#k" x="2076.1" y="203.8"/>
<use href="#k" x="1798.8" y="154.8"/>
<use href="#p" x="2022.5" y="153.5"/>
<use href="#g" x="2774" y="165.4"/>
<use href="#k" x="1923.9" y="167.4"/>
<use href="#k" x="2477.2" y="273.1"/>
<use href="#p" x="2568.2" y="164"/>
<use href="#p" x="1009.7" y="153.9"/>
<use href="#k" x="2061.4" y="171.8"/>
<use href="#g" x="2139.6" y="254.9"/>
<use href="#k" x="2062.4" y="159"/>
<use href="#k" x="2197.4" y="206.8"/>
<use href="#k" x="1765.1" y="163.3"/>
<use href="#g" x="2961.1" y="412.7"/>
<use href="#p" x="3088.7" y="153.7"/>
<use href="#k" x="1840.4" y="304.1"/>
<use href="#k" x="2873" y="200.8"/>
<use href="#g" x="2150.6" y="318.5"/>
<use href="#k" x="2210.6" y="178.5"/>
<use href="#p" x="1141.9" y="154.4"/>
<use href="#p" x="2274" y="232"/>
<use href="#k" x="1963.1" y="164.1"/>
<use href="#g" x="2389.8" y="173.6"/>
<use href="#g" x="2104.4" y="273.8"/>
<use href="#k" x="2018.8" y="206.7"/>
<use href="#k" x="2006.2" y="227.7"/>
<use href="#p" x="1152.9" y="258.6"/>
<use href="#k" x="2022.9" y="199.2"/>
<use href="#k" x="2066.9" y="214.2"/>
<use href="#g" x="2142.2" y="259.8"/>
<use href="#k" x="2061.8" y="193.3"/>
<use href="#k" x="2577.8" y="314.1"/>
<use href="#k" x="2308.8" y="154"/>
<use href="#k" x="2271.2" y="168.3"/>
<use href="#k" x="2026" y="165.1"/>
<use href="#p" x="2331" y="191.5"/>
<use href="#k" x="2060.3" y="162.7"/>
<use href="#k" x="2006.9" y="172.5"/>
<use href="#k" x="3063.4" y="153.7"/>
<use href="#k" x="1888.3" y="216.7"/>
<use href="#g" x="2056.5" y="158.4"/>
<use href="#k" x="2016.2" y="182.6"/>
<use href="#k" x="2147.6" y="172.1"/>
<use href="#p" x="1757.4" y="153.7"/>
<use href="#p" x="850.6" y="154.7"/>
<use href="#k" x="2381.9" y="186.4"/>
<use href="#g" x="1698.5" y="199.7"/>
<use href="#k" x="1785.3" y="154.3"/>
<use href="#g" x="2418.6" y="194"/>
<use href="#g" x="2108.6" y="194.7"/>
<use href="#g" x="1716.7" y="214.8"/>
<use href="#k" x="2867.1" y="368.4"/>
<use href="#k" x="2055" y="222.4"/>
<use href="#k" x="2006.6" y="158.4"/>
<use href="#k" x="2458.8" y="158.9"/>
<use href="#p" x="3101.8" y="154.3"/>
<use href="#p" x="2472.6" y="223.2"/>
<use href="#k" x="2164.3" y="160"/>
<use href="#g" x="2438.5" y="260.7"/>
<use href="#k" x="1995.6" y="205.7"/>
<use href="#g" x="2318.9" y="208.5"/>
<use href="#k" x="2242.4" y="193.7"/>
<use href="#k" x="1641.3" y="178.9"/>
<use href="#k" x="2410.4" y="158.8"/>
<use href="#g" x="2443.4" y="337.9"/>
<use href="#k" x="2034.4" y="188.7"/>
<use href="#k" x="2787.5" y="304.5"/>
<use href="#p" x="959" y="271.6"/>
<use href="#g" x="1862.8" y="220.5"/>
<use href="#g" x="2070.6" y="245.6"/>
<use href="#k" x="2310.8" y="158.2"/>
<use href="#p" x="778.1" y="153.7"/>
<use href="#k" x="1984.9" y="222.3"/>
<use href="#k" x="1836.4" y="154"/>
<use href="#p" x="2047.8" y="458.6"/>
<use href="#k" x="2216.2" y="159"/>
<use href="#k" x="2848.4" y="278.5"/>
<use href="#k" x="2887.6" y="218.8"/>
<use href="#m" x="3163.5" y="154.2"/>
<use href="#k" x="1780.1" y="166.4"/>
<use href="#k" x="2032.5" y="215.3"/>
<use href="#p" x="2547.3" y="204.2"/>
<use href="#k" x="2051.1" y="204.9"/>
<use href="#g" x="2039" y="181.3"/>
<use href="#k" x="2202" y="162.5"/>
<use href="#k" x="2138.3" y="202"/>
<use href="#k" x="2872" y="259.9"/>
<use href="#k" x="1887.4" y="165.7"/>
<use href="#g" x="2042.2" y="319.8"/>
<use href="#g" x="2761.2" y="311.2"/>
<use href="#g" x="2452.3" y="180.4"/>
<use href="#k" x="2035" y="183.2"/>
<use href="#g" x="2098" y="193.5"/>
<use href="#g" x="1177.2" y="210.1"/>
<use href="#k" x="2235.7" y="172.1"/>
<use href="#k" x="2008.5" y="164.6"/>
<use href="#k" x="2840.2" y="307.4"/>
<use href="#g" x="2221.6" y="154.1"/>
<use href="#g" x="1733.7" y="184.3"/>
<use href="#k" x="2134.8" y="159.2"/>
<use href="#g" x="2283.6" y="218.3"/>
<use href="#g" x="1964.3" y="154.5"/>
<use href="#g" x="2460.7" y="154.4"/>
<use href="#k" x="2027.2" y="250.3"/>
<use href="#k" x="2813.1" y="313.4"/>
<use href="#p" x="1899.1" y="153.8"/>
<use href="#k" x="2184.8" y="154.1"/>
<use href="#m" x="921.6" y="267.1"/>
<use href="#k" x="2154.2" y="172.5"/>
<use href="#k" x="2059.4" y="161.4"/>
<use href="#g" x="2064.5" y="263.8"/>
<use href="#g" x="1867.8" y="248.8"/>
<use href="#p" x="1483.5" y="236.5"/>
<use href="#k" x="1728.3" y="176.6"/>
<use href="#k" x="2579.8" y="154"/>
<use href="#k" x="2203.3" y="202"/>
<use href="#g" x="2622.2" y="173.6"/>
<use href="#k" x="2060.4" y="191.3"/>
<use href="#g" x="2365.1" y="294.2"/>
<use href="#k" x="2038.1" y="201.8"/>
<use href="#k" x="760.1" y="154.2"/>
<use href="#g" x="2042" y="334.5"/>
<use href="#k" x="1948.2" y="172.8"/>
<use href="#k" x="2147" y="292.2"/>
<use href="#k" x="2076" y="220.2"/>
<use href="#k" x="1671.2" y="167.2"/>
<use href="#g" x="2335.3" y="183.1"/>
<use href="#p" x="920.1" y="153.9"/>
<use href="#g" x="2377.1" y="241"/>
<use href="#k" x="2035.6" y="186.5"/>
<use href="#g" x="1548.2" y="205.2"/>
<use href="#k" x="2112.4" y="218.2"/>
<use href="#p" x="1349.2" y="275"/>
<use href="#k" x="1983.6" y="182.3"/>
<use href="#g" x="2157.4" y="284.8"/>
<use href="#k" x="2275.5" y="161.6"/>
<use href="#k" x="2115.4" y="207.3"/>
<use href="#k" x="2040.1" y="260.4"/>
<use href="#k" x="2071" y="284.9"/>
<use href="#p" x="2808.4" y="261.9"/>
<use href="#k" x="2142" y="154.5"/>
<use href="#p" x="2536.9" y="321.6"/>
<use href="#k" x="2349.9" y="361"/>
<use href="#g" x="1596.5" y="165.1"/>
<use href="#k" x="2383.1" y="179.7"/>
<use href="#k" x="2067.7" y="231.2"/>
<use href="#k" x="2068.6" y="193.4"/>
<use href="#k" x="1857.7" y="259.7"/>
<use href="#p" x="1842.8" y="154.8"/>
<use href="#k" x="2023.3" y="195.6"/>
<use href="#k" x="2053.7" y="228.7"/>
<use href="#p" x="901.5" y="154.1"/>
<use href="#g" x="2170.7" y="194.2"/>
<use href="#g" x="2356.2" y="288.7"/>
<use href="#p" x="973.9" y="153.9"/>
<use href="#g" x="2548.8" y="283.5"/>
<use href="#k" x="2040.3" y="226.1"/>
<use href="#k" x="2099.7" y="202.1"/>
<use href="#g" x="2685.5" y="178.4"/>
<use href="#k" x="2181.8" y="180.9"/>
<use href="#k" x="2007.8" y="169.7"/>
<use href="#k" x="2004.8" y="182.5"/>
<use href="#k" x="2111.8" y="361.7"/>
<use href="#k" x="1985.8" y="191.7"/>
<use href="#k" x="1785.4" y="221.1"/>
<use href="#k" x="2826.6" y="165.1"/>
<use href="#p" x="1884.9" y="208.2"/>
<use href="#g" x="2660.5" y="153.6"/>
<use href="#m" x="3297.8" y="154.2"/>
<use href="#g" x="857.9" y="154"/>
<use href="#k" x="2067.9" y="160.2"/>
<use href="#g" x="2507.1" y="161.3"/>
<use href="#k" x="2003.6" y="194"/>
<use href="#g" x="1515.9" y="337.2"/>
<use href="#k" x="2180.8" y="296.5"/>
<use href="#g" x="2739.9" y="186"/>
<use href="#k" x="2994.4" y="154"/>
<use href="#k" x="1781.4" y="174.2"/>
<use href="#p" x="895.7" y="153.6"/>
<use href="#k" x="2219.2" y="165.4"/>
<use href="#p" x="2058.8" y="155.2"/>
<use href="#k" x="2057.8" y="211.8"/>
<use href="#p" x="800.9" y="154"/>
<use href="#p" x="2391.8" y="214.4"/>
<use href="#k" x="2030.5" y="157.6"/>
<use href="#p" x="1728.9" y="154.8"/>
<use href="#k" x="2021.2" y="212.8"/>
<use href="#g" x="1917.7" y="154.6"/>
<use href="#p" x="2186.4" y="251.9"/>
<use href="#g" x="2025.6" y="284.2"/>
<use href="#p" x="1604.3" y="411"/>
<use href="#g" x="2391.2" y="156.6"/>
<use href="#g" x="2572.7" y="166.2"/>
<use href="#k" x="2830.8" y="277.4"/>
<use href="#k" x="2159.7" y="154.8"/>
<use href="#p" x="2230.6" y="154.2"/>
<use href="#g" x="2569.9" y="407.6"/>
<use href="#k" x="2107.9" y="184.3"/>
<use href="#g" x="2162.2" y="297"/>
<use href="#k" x="2060.7" y="207.5"/>
<use href="#k" x="1989.4" y="265.4"/>
<use href="#k" x="2120.2" y="159.2"/>
<use href="#k" x="2063.1" y="168.2"/>
<use href="#g" x="1960.7" y="267"/>
<use href="#k" x="2037.2" y="208.1"/>
<use href="#p" x="2373.2" y="169.5"/>
<use href="#g" x="2100.1" y="296.2"/>
<use href="#k" x="2423" y="295.4"/>
<use href="#g" x="2284.5" y="188.1"/>
<use href="#k" x="2230.9" y="174.4"/>
<use href="#k" x="2769.5" y="308"/>
<use href="#g" x="2274.5" y="231.5"/>
<use href="#k" x="2210.6" y="153.8"/>
<use href="#k" x="2961.9" y="182.7"/>
<use href="#k" x="1953.8" y="186.2"/>
<use href="#k" x="1669" y="177.6"/>
<use href="#g" x="2040.5" y="209.5"/>
<use href="#k" x="1725.3" y="169.8"/>
<use href="#p" x="2893.2" y="154.1"/>
<use href="#k" x="1706.3" y="259.7"/>
<use href="#p" x="937.4" y="155.1"/>
<use href="#p" x="2322.7" y="277.7"/>
<use href="#k" x="1896.6" y="157.8"/>
<use href="#k" x="1985.8" y="173"/>
<use href="#p" x="2882.9" y="195.2"/>
<use href="#k" x="2096.4" y="155"/>
<use href="#g" x="2468.9" y="383.8"/>
<use href="#g" x="1942.7" y="153.8"/>
<use href="#k" x="1993.5" y="201.7"/>
<use href="#k" x="1985" y="176.1"/>
<use href="#k" x="2442.1" y="153.9"/>
<use href="#k" x="2144.5" y="165"/>
<use href="#g" x="2419" y="218.3"/>
<use href="#g" x="2889" y="216.2"/>
<use href="#g" x="1689.1" y="153.9"/>
<use href="#k" x="2067.7" y="158"/>
<use href="#k" x="2113.8" y="158.5"/>
<use href="#g" x="2391.5" y="190.9"/>
<use href="#g" x="1245.4" y="222.2"/>
<use href="#g" x="1291.4" y="172.9"/>
<use href="#k" x="1661.3" y="183.1"/>
<use href="#k" x="2544.6" y="169.1"/>
<use href="#k" x="2327.8" y="153.9"/>
<use href="#g" x="2884.2" y="202.1"/>
<use href="#g" x="1023.4" y="153.6"/>
<use href="#k" x="1990.2" y="175.9"/>
<use href="#k" x="2011.9" y="213.3"/>
<use href="#k" x="2050.4" y="158.2"/>
<use href="#k" x="2054.4" y="203.6"/>
<use href="#g" x="1772.3" y="177.3"/>
<use href="#k" x="2467.2" y="201.4"/>
<use href="#k" x="2017.7" y="177"/>
<use href="#g" x="1783.5" y="223.2"/>
<use href="#g" x="2236.4" y="240.4"/>
<use href="#g" x="2580.9" y="199.5"/>
<use href="#g" x="1678.4" y="204.2"/>
<use href="#g" x="1983.1" y="253.1"/>
<use href="#p" x="2604.3" y="155.3"/>
<use href="#k" x="1668.9" y="173.4"/>
<use href="#k" x="2160.9" y="171.2"/>
<use href="#k" x="2326.1" y="300.5"/>
<use href="#k" x="2210.6" y="172.3"/>
<use href="#p" x="2307.7" y="155.1"/>
<use href="#p" x="2556.3" y="154.6"/>
<use href="#k" x="1834.1" y="185"/>
<use href="#k" x="1720.9" y="315.9"/>
<use href="#k" x="2019.8" y="199.8"/>
<use href="#k" x="1931.5" y="214.5"/>
<use href="#g" x="1909.1" y="239.8"/>
<use href="#g" x="1906.8" y="154.9"/>
<use href="#k" x="2076.3" y="184.8"/>
<use href="#g" x="1824" y="232.9"/>
<use href="#k" x="2225.4" y="165.5"/>
<use href="#g" x="2320.5" y="185"/>
<use href="#g" x="2042.6" y="269.9"/>
<use href="#g" x="2215.1" y="187.6"/>
<use href="#g" x="2135.6" y="332.8"/>
<use href="#k" x="2500.7" y="208.2"/>
<use href="#k" x="1995.5" y="168"/>
<use href="#p" x="2161.8" y="153.7"/>
<use href="#k" x="1678.9" y="167.5"/>
<use href="#g" x="2173.4" y="346"/>
<use href="#p" x="2800.4" y="324.6"/>
<use href="#g" x="2872.8" y="203.4"/>
<use href="#k" x="2889.7" y="300.5"/>
<use href="#k" x="1934.9" y="179.1"/>
<use href="#p" x="2166.2" y="213.9"/>
<use href="#p" x="1710.3" y="209"/>
<use href="#k" x="2050.7" y="196.7"/>
<use href="#g" x="2856.9" y="242"/>
<use href="#g" x="1427.1" y="154.2"/>
<use href="#k" x="1999.5" y="201.2"/>
<use href="#g" x="1886.8" y="235.8"/>
<use href="#k" x="2109.2" y="184.4"/>
<use href="#k" x="2019.8" y="208.2"/>
<use href="#g" x="2331.2" y="273.3"/>
<use href="#k" x="1680.2" y="191"/>
<use href="#k" x="2420.2" y="200.4"/>
<use href="#g" x="2580.7" y="159.2"/>
<use href="#p" x="761.1" y="153.8"/>
<use href="#p" x="1194.4" y="262"/>
<use href="#p" x="2515.9" y="347.1"/>
<use href="#k" x="2063.7" y="174.7"/>
<use href="#p" x="2988.5" y="154"/>
<use href="#g" x="1597.5" y="329.4"/>
<use href="#k" x="2858.9" y="251.1"/>
<use href="#k" x="1749.3" y="188.6"/>
<use href="#k" x="2033.3" y="161.9"/>
<use href="#p" x="829.1" y="153.6"/>
<use href="#g" x="1896.5" y="153.9"/>
<use href="#p" x="513.5" y="155.9"/>
<use href="#g" x="1803" y="230.4"/>
<use href="#k" x="2736.1" y="153.7"/>
<use href="#k" x="2087.8" y="165"/>
<use href="#g" x="1609.3" y="208.5"/>
<use href="#k" x="1592.3" y="181.8"/>
<use href="#k" x="1910" y="201.4"/>
<use href="#k" x="2018.1" y="158.6"/>
<use href="#g" x="1956.9" y="268.6"/>
<use href="#k" x="2050.3" y="189.5"/>
<use href="#k" x="2086.9" y="176.7"/>
<use href="#g" x="2179.8" y="405.9"/>
<use href="#k" x="1776.5" y="234.6"/>
<use href="#g" x="1589.9" y="153.7"/>
<use href="#g" x="2575.2" y="157.6"/>
<use href="#k" x="1991.8" y="203.8"/>
<use href="#k" x="2298.2" y="161.2"/>
<use href="#g" x="1713.8" y="216.2"/>
<use href="#k" x="2070.2" y="168.8"/>
<use href="#p" x="1454.6" y="237.6"/>
<use href="#g" x="2390.2" y="206.3"/>
<use href="#g" x="2446.7" y="157.9"/>
<use href="#g" x="2703.6" y="336.2"/>
<use href="#k" x="1907.9" y="165.9"/>
<use href="#k" x="1781.3" y="171.4"/>
<use href="#k" x="3080.4" y="192.5"/>
<use href="#k" x="2014.1" y="248"/>
<use href="#g" x="2501.3" y="156.4"/>
<use href="#k" x="2460.5" y="155"/>
<use href="#p" x="1931.6" y="243.6"/>
<use href="#g" x="1836" y="183.2"/>
<use href="#k" x="1984.4" y="182.5"/>
<use href="#k" x="2481" y="153.5"/>
<use href="#g" x="2347.2" y="224.4"/>
<use href="#g" x="2141.6" y="262.5"/>
<use href="#k" x="1933.1" y="157.9"/>
<use href="#k" x="2064.2" y="185.3"/>
<use href="#g" x="1977.8" y="342.6"/>
<use href="#g" x="2872.9" y="188.9"/>
<use href="#g" x="2545.8" y="180.1"/>
<use href="#g" x="2121.7" y="188.7"/>
<use href="#k" x="2387.9" y="171.4"/>
<use href="#g" x="1475" y="254.6"/>
<use href="#k" x="2196.7" y="197"/>
<use href="#g" x="1829.6" y="218"/>
<use href="#k" x="2060.1" y="224.5"/>
<use href="#g" x="2314.6" y="188.3"/>
<use href="#p" x="2477.4" y="275"/>
<use href="#k" x="2022.4" y="218.8"/>
<use href="#p" x="2132.6" y="298.1"/>
<use href="#p" x="2314.1" y="276.7"/>
<use href="#k" x="2073.5" y="209.2"/>
<use href="#k" x="1849.4" y="177.2"/>
<use href="#k" x="2837.4" y="211.8"/>
<use href="#g" x="1516.9" y="194.4"/>
<use href="#g" x="2851.9" y="180.5"/>
<use href="#g" x="2032.2" y="278.8"/>
<use href="#g" x="1842.6" y="214.9"/>
<use href="#g" x="1838.2" y="246.1"/>
<use href="#k" x="1999.5" y="225"/>
<use href="#g" x="1903.5" y="223"/>
<use href="#g" x="2009.5" y="277.4"/>
<use href="#g" x="2030.4" y="243.1"/>
<use href="#k" x="2864.9" y="229.3"/>
<use href="#k" x="2008.2" y="220.6"/>
<use href="#g" x="2204.3" y="153.8"/>
<use href="#k" x="2040.2" y="169.2"/>
<use href="#g" x="2172.6" y="193.2"/>
<use href="#g" x="2019.9" y="240.8"/>
<use href="#k" x="2360.4" y="164.4"/>
<use href="#k" x="1799.7" y="202.8"/>
<use href="#g" x="1866" y="224.1"/>
<use href="#k" x="2043.2" y="244.3"/>
<use href="#g" x="2144.5" y="293.1"/>
<use href="#p" x="959.2" y="153.8"/>
<use href="#k" x="1580.1" y="234.7"/>
<use href="#k" x="1718.2" y="161.8"/>
<use href="#k" x="3040.9" y="153.7"/>
<use href="#g" x="2102.2" y="271.4"/>
<use href="#g" x="2311.2" y="200.4"/>
<use href="#k" x="2172" y="170.9"/>
<use href="#g" x="2403.7" y="174.8"/>
<use href="#k" x="1988" y="196.9"/>
<use href="#k" x="2016.6" y="153.9"/>
<use href="#k" x="2068.2" y="159.4"/>
<use href="#k" x="2048.2" y="305.4"/>
<use href="#k" x="2023.1" y="210.3"/>
<use href="#k" x="2898.9" y="275.7"/>
<use href="#g" x="1324.7" y="154.6"/>
<use href="#g" x="2060.2" y="298.4"/>
<use href="#g" x="2555.5" y="171"/>
<use href="#p" x="2668.9" y="220.5"/>
<use href="#k" x="2454" y="161.8"/>
<use href="#k" x="2061.9" y="191.4"/>
<use href="#k" x="2156.4" y="176.6"/>
<use href="#p" x="1527.8" y="241"/>
<use href="#m" x="3304.6" y="153.5"/>
<use href="#g" x="2767.2" y="286.9"/>
<use href="#p" x="1003.3" y="154.3"/>
<use href="#g" x="2222.1" y="167.2"/>
<use href="#p" x="1346.8" y="269.9"/>
<use href="#k" x="2022.7" y="275"/>
<use href="#k" x="2494" y="192.7"/>
<use href="#p" x="2238.8" y="197.6"/>
<use href="#k" x="1987.5" y="185.5"/>
<use href="#k" x="2020.8" y="202.3"/>
<use href="#k" x="2445.6" y="155.5"/>
<use href="#k" x="2050.1" y="188"/>
<use href="#k" x="1760.3" y="153.8"/>
<use href="#g" x="2602.3" y="166.4"/>
<use href="#k" x="1996.9" y="165"/>
<use href="#k" x="2857.5" y="278.9"/>
<use href="#p" x="2462.6" y="206.1"/>
<use href="#g" x="2399.2" y="302.2"/>
<use href="#k" x="2009.1" y="154.6"/>
<use href="#g" x="2381.3" y="187"/>
<use href="#k" x="2282.9" y="165.8"/>
<use href="#k" x="1930.4" y="176.1"/>
<use href="#g" x="2370" y="204"/>
<use href="#g" x="2107" y="243.4"/>
<use href="#g" x="2870" y="199.1"/>
<use href="#k" x="2158.3" y="306.2"/>
<use href="#p" x="1413.8" y="211.4"/>
<use href="#k" x="1978.8" y="201.4"/>
<use href="#g" x="2053" y="259.9"/>
<use href="#k" x="2068.7" y="189.9"/>
<use href="#k" x="1917.3" y="259.4"/>
<use href="#p" x="2924.7" y="153.8"/>
<use href="#k" x="2008.2" y="170.2"/>
<use href="#g" x="2808.9" y="187.8"/>
<use href="#k" x="2012.1" y="241.2"/>
<use href="#k" x="1793.8" y="204.8"/>
<use href="#k" x="2167.2" y="164.7"/>
<use href="#k" x="2378.2" y="185.1"/>
<use href="#k" x="1877.2" y="160"/>
<use href="#g" x="2343.4" y="200.4"/>
<use href="#k" x="2019.8" y="197.9"/>
<use href="#k" x="2019.1" y="167.4"/>
<use href="#g" x="2026.1" y="276.8"/>
<use href="#k" x="2008.8" y="155.7"/>
<use href="#g" x="1866.2" y="303.9"/>
<use href="#k" x="2010.7" y="230"/>
<use href="#k" x="2060.6" y="174"/>
<use href="#k" x="1610.2" y="178.2"/>
<use href="#k" x="1983" y="189.9"/>
<use href="#k" x="2109.9" y="179"/>
<use href="#k" x="1758" y="185.8"/>
<use href="#k" x="2394.9" y="171.3"/>
<use href="#g" x="2028.9" y="301.7"/>
<use href="#k" x="2133.3" y="171.2"/>
<use href="#k" x="2319.1" y="153.5"/>
<use href="#k" x="2889.4" y="202.9"/>
<use href="#k" x="1860.1" y="216"/>
<use href="#g" x="2877.6" y="175.9"/>
<use href="#k" x="1676.1" y="205.5"/>
<use href="#k" x="2043.4" y="236.3"/>
<use href="#g" x="1627.5" y="167.8"/>
<use href="#p" x="1262" y="154.4"/>
<use href="#k" x="2056.3" y="314.3"/>
<use href="#k" x="2049.6" y="173.8"/>
<use href="#p" x="1985.2" y="336.9"/>
<use href="#g" x="2846" y="166.8"/>
<use href="#k" x="2381.5" y="343.5"/>
<use href="#k" x="2447.3" y="278.5"/>
<use href="#k" x="2189.1" y="203.1"/>
<use href="#k" x="1996" y="177.8"/>
<use href="#k" x="2939.3" y="170.9"/>
<use href="#k" x="2746.1" y="320.6"/>
<use href="#p" x="916.4" y="153.6"/>
<use href="#k" x="1992.8" y="166.1"/>
<use href="#p" x="1951.9" y="337.9"/>
<use href="#k" x="2067.4" y="195"/>
<use href="#g" x="2726.9" y="227.8"/>
<use href="#k" x="2136.4" y="153.6"/>
<use href="#g" x="2243.2" y="279.5"/>
<use href="#g" x="2434.9" y="186.9"/>
<use href="#g" x="2838.8" y="201.1"/>
<use href="#k" x="1991.2" y="200.2"/>
<use href="#g" x="2334.7" y="186.7"/>
<use href="#k" x="1918.5" y="178.8"/>
<use href="#k" x="1786.3" y="297.1"/>
<use href="#g" x="2387.4" y="172.5"/>
<use href="#k" x="2055.1" y="171.3"/>
<use href="#k" x="1993.2" y="213.9"/>
<use href="#k" x="2133" y="206.3"/>
<use href="#p" x="1961.2" y="194.3"/>
<use href="#k" x="2057.1" y="165.8"/>
<use href="#k" x="2445.5" y="271"/>
<use href="#p" x="2168.2" y="153.6"/>
<use href="#k" x="2094.4" y="154.2"/>
<use href="#g" x="1953.1" y="268.2"/>
<use href="#k" x="2070.6" y="210.6"/>
<use href="#g" x="2061.4" y="272.2"/>
<use href="#g" x="1022" y="223.9"/>
<use href="#k" x="2509.4" y="203.1"/>
<use href="#g" x="2074.1" y="219.3"/>
<use href="#k" x="1910.4" y="156.4"/>
<use href="#k" x="2061.9" y="169.3"/>
<use href="#k" x="2486.2" y="190.3"/>
<use href="#k" x="2433.9" y="271.4"/>
<use href="#p" x="1357.7" y="206.3"/>
<use href="#g" x="1628" y="180.7"/>
<use href="#k" x="2003.2" y="205.6"/>
<use href="#g" x="2752.2" y="168.3"/>
<use href="#k" x="1704.6" y="212.7"/>
<use href="#k" x="3011.5" y="154.5"/>
<use href="#k" x="2149.9" y="155.9"/>
<use href="#k" x="2116.4" y="182.8"/>
<use href="#k" x="2153.1" y="171.5"/>
<use href="#k" x="2136" y="188.4"/>
<use href="#k" x="2021.7" y="183.8"/>
<use href="#k" x="2251.6" y="196.2"/>
<use href="#k" x="2074.1" y="159.8"/>
<use href="#g" x="2768.4" y="261.1"/>
<use href="#k" x="1815.5" y="317"/>
<use href="#g" x="2589.2" y="172.9"/>
<use href="#g" x="1883.2" y="229.2"/>
<use href="#p" x="2393.6" y="153.9"/>
<use href="#g" x="1316.9" y="215.4"/>
<use href="#g" x="2962.8" y="377"/>
<use href="#g" x="1437.9" y="154.3"/>
<use href="#g" x="2584.9" y="154.7"/>
<use href="#k" x="2094.2" y="174.3"/>
<use href="#k" x="2026" y="181"/>
<use href="#k" x="2177.6" y="163.7"/>
<use href="#k" x="2034.4" y="200"/>
<use href="#g" x="2304.7" y="187"/>
<use href="#p" x="2433" y="217.1"/>
<use href="#k" x="1526.1" y="189.9"/>
<use href="#k" x="1674.3" y="154.1"/>
<use href="#g" x="2260.7" y="202.6"/>
<use href="#g" x="1861.4" y="252.2"/>
<use href="#g" x="2735.9" y="371.9"/>
<use href="#p" x="2124.3" y="175.7"/>
<use href="#k" x="2066.6" y="178.2"/>
<use href="#k" x="1946.9" y="185.1"/>
<use href="#p" x="2534.5" y="181"/>
<use href="#p" x="2090.1" y="154.4"/>
<use href="#g" x="2537.4" y="166"/>
<use href="#g" x="2121.2" y="178.6"/>
<use href="#g" x="2113.1" y="219.9"/>
<use href="#k" x="1668.2" y="197.2"/>
<use href="#k" x="2892.8" y="163.1"/>
<use href="#g" x="2810.6" y="216.3"/>
<use href="#k" x="1852.6" y="164.5"/>
<use href="#g" x="1449.5" y="188.2"/>
<use href="#g" x="2903.3" y="295.4"/>
<use href="#k" x="2821.2" y="214.4"/>
<use href="#k" x="1885.3" y="157.3"/>
<use href="#p" x="2935.6" y="303.9"/>
<use href="#k" x="2296.7" y="233.9"/>
<use href="#k" x="2271.6" y="187.4"/>
<use href="#k" x="2864.3" y="263.7"/>
<use href="#g" x="2432.4" y="164.1"/>
<use href="#k" x="3066.1" y="153.6"/>
<use href="#k" x="2058.6" y="159.5"/>
<use href="#g" x="1225.7" y="252.2"/>
<use href="#k" x="2841.5" y="175.9"/>
<use href="#g" x="2203" y="301.9"/>
<use href="#k" x="2050.9" y="169.9"/>
<use href="#k" x="2095.1" y="200"/>
<use href="#k" x="2040.3" y="178.4"/>
<use href="#k" x="2025.6" y="166.4"/>
<use href="#p" x="2006.1" y="154.1"/>
<use href="#g" x="1966.8" y="190.5"/>
<use href="#p" x="2089" y="172.9"/>
<use href="#k" x="2036.3" y="236.6"/>
<use href="#p" x="1338.1" y="153.9"/>
<use href="#g" x="1724.6" y="203.6"/>
<use href="#k" x="2421.3" y="262.3"/>
<use href="#k" x="2378.7" y="167.9"/>
<use href="#k" x="2211.7" y="175.5"/>
<use href="#k" x="2049.8" y="240.3"/>
<use href="#g" x="2783.6" y="234.2"/>
<use href="#k" x="2038.8" y="213.6"/>
<use href="#k" x="2021" y="166"/>
<use href="#g" x="2097.9" y="243.9"/>
<use href="#g" x="1928.5" y="334"/>
<use href="#p" x="1251.6" y="184.8"/>
<use href="#g" x="2393.3" y="154.2"/>
<use href="#k" x="2186.5" y="164.9"/>
<use href="#k" x="2155.3" y="286.5"/>
<use href="#k" x="2079.4" y="202.2"/>
<use href="#k" x="2056" y="194.5"/>
<use href="#k" x="2002.8" y="187.1"/>
<use href="#k" x="1909.5" y="180.7"/>
<use href="#k" x="2427.4" y="327.9"/>
<use href="#g" x="2123.4" y="180.5"/>
<use href="#k" x="2134" y="159.5"/>
<use href="#k" x="2582.4" y="154.6"/>
<use href="#g" x="2861.4" y="279.1"/>
<use href="#g" x="2220.1" y="224.9"/>
<use href="#k" x="1716.7" y="201.8"/>
<use href="#g" x="1969.7" y="279.1"/>
<use href="#p" x="2435.9" y="375.3"/>
<use href="#k" x="1876.8" y="154.4"/>
<use href="#g" x="2183.4" y="171.6"/>
<use href="#k" x="2898.7" y="302.7"/>
<use href="#g" x="2662" y="154.7"/>
<use href="#k" x="2200" y="180.1"/>
<use href="#g" x="2049.2" y="232.6"/>
<use href="#k" x="2011.9" y="156.9"/>
<use href="#g" x="2908.4" y="438.9"/>
<use href="#g" x="2394.2" y="170.7"/>
<use href="#k" x="2041.1" y="187.5"/>
<use href="#k" x="2029.5" y="233.1"/>
<use href="#g" x="1165.5" y="199.1"/>
<use href="#p" x="1264.6" y="154.8"/>
<use href="#k" x="2019.2" y="156.4"/>
<use href="#g" x="1355.2" y="245.3"/>
<use href="#k" x="2055" y="219.7"/>
<use href="#g" x="1663" y="224.1"/>
<use href="#k" x="2083.8" y="171.8"/>
<use href="#p" x="1927.7" y="163.1"/>
<use href="#k" x="2867.8" y="322.4"/>
<use href="#k" x="2145.9" y="183.7"/>
<use href="#k" x="2057.8" y="154.2"/>
<use href="#k" x="2198.1" y="159.8"/>
<use href="#g" x="1749.6" y="212.6"/>
<use href="#g" x="2199.5" y="164.5"/>
<use href="#k" x="1861.6" y="233.4"/>
<use href="#p" x="1726" y="154.7"/>
<use href="#k" x="2128.2" y="286.1"/>
<use href="#p" x="1066.2" y="153.9"/>
<use href="#k" x="2028.2" y="193.1"/>
<use href="#k" x="2231.8" y="175.7"/>
<use href="#k" x="2185.1" y="171.8"/>
<use href="#g" x="2325.4" y="425.3"/>
<use href="#k" x="2116.5" y="163.5"/>
<use href="#g" x="2114.9" y="228.2"/>
<use href="#k" x="2011.2" y="175.9"/>
<use href="#g" x="1443.5" y="154"/>
<use href="#k" x="3073" y="153.9"/>
<use href="#g" x="1965.4" y="327.1"/>
<use href="#g" x="1972" y="222.3"/>
<use href="#k" x="1714.5" y="256.5"/>
<use href="#g" x="2750.8" y="278.1"/>
<use href="#p" x="2398.7" y="154.2"/>
<use href="#g" x="1781" y="167.6"/>
<use href="#k" x="2891.8" y="286.4"/>
<use href="#k" x="3046.4" y="171.2"/>
<use href="#p" x="687.8" y="154.2"/>
<use href="#g" x="2829" y="307.4"/>
<use href="#k" x="2303.8" y="155.1"/>
<use href="#g" x="2099.2" y="267.3"/>
<use href="#k" x="2039.8" y="193.5"/>
<use href="#g" x="2114.3" y="179.1"/>
<use href="#k" x="2025.6" y="203.1"/>
<use href="#k" x="2133.9" y="164.8"/>
<use href="#g" x="2457.4" y="154.5"/>
<use href="#k" x="2030" y="166.4"/>
<use href="#k" x="2103.9" y="160.5"/>
<use href="#g" x="1941.8" y="255.9"/>
<use href="#k" x="2854.6" y="228.5"/>
<use href="#p" x="1276.9" y="154.9"/>
<use href="#p" x="1037.6" y="153.7"/>
<use href="#k" x="2036.9" y="188.7"/>
<use href="#k" x="1841.7" y="218.5"/>
<use href="#g" x="2447" y="208.7"/>
<use href="#g" x="2177.6" y="212.6"/>
<use href="#g" x="1806.4" y="186.1"/>
<use href="#k" x="2676.3" y="153.7"/>
<use href="#p" x="1165.6" y="155.2"/>
<use href="#g" x="2810.4" y="202.5"/>
<use href="#k" x="2041.2" y="192.6"/>
<use href="#g" x="2649.2" y="153.7"/>
<use href="#k" x="3030.7" y="154"/>
<use href="#p" x="2169.3" y="154.3"/>
<use href="#k" x="2465.6" y="172.7"/>
<use href="#g" x="2092.5" y="290.9"/>
<use href="#k" x="2930.5" y="172.9"/>
<use href="#k" x="2010.6" y="207.6"/>
<use href="#k" x="2031" y="176.4"/>
<use href="#k" x="1998.2" y="217.5"/>
<use href="#k" x="1957.7" y="156.2"/>
<use href="#g" x="1790.3" y="350.8"/>
<use href="#k" x="1700.1" y="219"/>
<use href="#g" x="2165" y="183.9"/>
<use href="#k" x="1990.1" y="206.2"/>
<use href="#p" x="1016.9" y="220.5"/>
<use href="#p" x="2492.7" y="322.6"/>
<use href="#k" x="2036" y="194.8"/>
<use href="#g" x="2284" y="212.1"/>
<use href="#g" x="2024.9" y="228.9"/>
<use href="#k" x="1851.2" y="238.6"/>
<use href="#g" x="1858.3" y="244.5"/>
<use href="#g" x="2089.5" y="223.6"/>
<use href="#p" x="1706.3" y="290.3"/>
<use href="#k" x="1987.6" y="174.8"/>
<use href="#g" x="1657.3" y="177.1"/>
<use href="#k" x="1767.5" y="204.4"/>
<use href="#k" x="2041.7" y="217"/>
<use href="#p" x="2061.5" y="154"/>
<use href="#k" x="1948" y="230.7"/>
<use href="#k" x="1998.8" y="202.2"/>
<use href="#k" x="2877.5" y="206.2"/>
<use href="#k" x="2010.4" y="176.6"/>
<use href="#p" x="1773.9" y="153.8"/>
<use href="#k" x="1691.2" y="154.3"/>
<use href="#p" x="1253.4" y="153.7"/>
<use href="#p" x="2276.8" y="213.9"/>
<use href="#k" x="2010.5" y="193.4"/>
<use href="#k" x="2006.7" y="197.6"/>
<use href="#p" x="2980.8" y="285.2"/>
<use href="#g" x="2769.9" y="332.8"/>
<use href="#k" x="2921.7" y="192.3"/>
<use href="#k" x="1676.8" y="204.7"/>
<use href="#g" x="2796.1" y="307.3"/>
<use href="#k" x="1667.1" y="153.7"/>
<use href="#k" x="1826" y="155.7"/>
<use href="#k" x="1969.9" y="187.7"/>
<use href="#g" x="1751.8" y="207"/>
<use href="#k" x="1771.3" y="221.8"/>
<use href="#p" x="3015.5" y="364.1"/>
<use href="#k" x="2456.5" y="194.4"/>
<use href="#k" x="2053.9" y="164.4"/>
<use href="#g" x="1414.8" y="153.7"/>
<use href="#k" x="2004.2" y="190.4"/>
<use href="#g" x="2096.6" y="194.4"/>
<use href="#k" x="2306.3" y="189.7"/>
<use href="#k" x="2071.8" y="175.5"/>
<use href="#p" x="2606.7" y="160.9"/>
<use href="#g" x="2155" y="204.6"/>
<use href="#g" x="2755.4" y="157.6"/>
<use href="#k" x="2493.6" y="211.4"/>
<use href="#p" x="2885.8" y="155"/>
<use href="#g" x="1696.8" y="205.2"/>
<use href="#p" x="2626.1" y="473.3"/>
<use href="#k" x="2910.2" y="154.4"/>
<use href="#k" x="2550.3" y="169.3"/>
<use href="#g" x="2519.3" y="421.2"/>
<use href="#g" x="1824.5" y="154.5"/>
<use href="#k" x="2655.1" y="195.9"/>
<use href="#k" x="1992.4" y="163.7"/>
<use href="#k" x="2480.2" y="324.4"/>
<use href="#g" x="2473.3" y="218.4"/>
<use href="#k" x="2020.7" y="191.7"/>
<use href="#k" x="2091.5" y="256.1"/>
<use href="#k" x="2010.7" y="199.6"/>
<use href="#k" x="2034" y="227.3"/>
<use href="#k" x="2052" y="195.3"/>
<use href="#k" x="1996.5" y="222.2"/>
<use href="#p" x="996.1" y="155"/>
<use href="#k" x="1838.9" y="228.5"/>
<use href="#k" x="1578.3" y="198.7"/>
<use href="#k" x="2112.5" y="180.3"/>
<use href="#g" x="2460.4" y="420.2"/>
<use href="#k" x="1491.9" y="246"/>
<use href="#k" x="1674.3" y="211"/>
<use href="#g" x="2578.9" y="191.8"/>
<use href="#k" x="1740.3" y="170.6"/>
<use href="#k" x="2001.2" y="248.8"/>
<use href="#g" x="1270.9" y="153.8"/>
<use href="#g" x="2847.5" y="205.4"/>
<use href="#g" x="1672.4" y="207"/>
<use href="#p" x="2144.3" y="154.9"/>
<use href="#k" x="1863.5" y="189.7"/>
<use href="#k" x="2176.4" y="168.8"/>
<use href="#g" x="1361.1" y="188.9"/>
<use href="#p" x="787" y="153.9"/>
<use href="#g" x="2326.5" y="186.2"/>
<use href="#g" x="1567" y="252.2"/>
<use href="#k" x="1583.3" y="191.5"/>
<use href="#k" x="1915.2" y="203.5"/>
<use href="#k" x="2153.6" y="157.3"/>
<use href="#k" x="2015.6" y="169.5"/>
<use href="#k" x="2087.6" y="153.6"/>
<use href="#g" x="1950.2" y="226.7"/>
<use href="#g" x="2261.3" y="193"/>
<use href="#g" x="2226.9" y="234.6"/>
<use href="#g" x="2846.9" y="314.9"/>
<use href="#g" x="2346.6" y="181.3"/>
<use href="#p" x="1592.4" y="422.9"/>
<use href="#k" x="1930.6" y="264.1"/>
<use href="#g" x="799.2" y="191.6"/>
<use href="#p" x="1335.2" y="154.2"/>
<use href="#g" x="1991.6" y="256.3"/>
<use href="#k" x="1847.6" y="188.2"/>
<use href="#k" x="2006.9" y="163"/>
<use href="#k" x="2062.1" y="208.4"/>
<use href="#k" x="2242" y="192.3"/>
<use href="#g" x="1301.6" y="206.3"/>
<use href="#k" x="2023.2" y="240.6"/>
<use href="#g" x="2071.6" y="275.7"/>
<use href="#k" x="1991.2" y="232.6"/>
<use href="#g" x="1646.8" y="208.6"/>
<use href="#k" x="1941.4" y="177.4"/>
<use href="#k" x="2099.4" y="161.5"/>
<use href="#p" x="2874.4" y="286.9"/>
<use href="#g" x="2380.9" y="194.2"/>
<use href="#g" x="2234.8" y="166.9"/>
<use href="#g" x="2248.5" y="153.6"/>
<use href="#k" x="2039.7" y="242.5"/>
<use href="#k" x="1977.6" y="233.8"/>
<use href="#k" x="1996.1" y="236.8"/>
<use href="#k" x="2125.7" y="164.4"/>
<use href="#g" x="2499.3" y="226.2"/>
<use href="#g" x="2206.6" y="153.9"/>
<use href="#g" x="2018.4" y="238.6"/>
<use href="#k" x="2615.4" y="179.3"/>
<use href="#k" x="1747.7" y="231"/>
<use href="#g" x="2245.3" y="223.4"/>
<use href="#g" x="2877.6" y="160.6"/>
<use href="#g" x="1934.7" y="153.5"/>
<use href="#p" x="939.9" y="154"/>
<use href="#g" x="1646.4" y="184.2"/>
<use href="#g" x="2304.1" y="203.7"/>
<use href="#k" x="2196.6" y="160"/>
<use href="#k" x="1843.3" y="189.9"/>
<use href="#k" x="2357.3" y="174"/>
<use href="#k" x="2838" y="181.4"/>
<use href="#k" x="2009" y="194.7"/>
<use href="#g" x="2011.7" y="232.9"/>
<use href="#g" x="2268.1" y="285"/>
<use href="#g" x="1770.1" y="204.7"/>
<use href="#p" x="1852.6" y="343"/>
<use href="#g" x="2589.7" y="293.7"/>
<use href="#k" x="1982.7" y="217.3"/>
<use href="#k" x="2157.1" y="169.2"/>
<use href="#g" x="2169.2" y="153.5"/>
<use href="#k" x="1998.4" y="174"/>
<use href="#k" x="1935.6" y="214.1"/>
<use href="#g" x="2403.5" y="181.2"/>
<use href="#k" x="2139.5" y="184.5"/>
<use href="#k" x="2067.8" y="188.2"/>
<use href="#g" x="2535.9" y="176.6"/>
<use href="#g" x="1866.4" y="227.1"/>
<use href="#g" x="2211.2" y="270.6"/>
<use href="#k" x="2002.1" y="204"/>
<use href="#k" x="1852.1" y="180.1"/>
<use href="#k" x="3047.9" y="153.9"/>
<use href="#p" x="2320" y="206.5"/>
<use href="#p" x="2835.2" y="154.3"/>
<use href="#g" x="2343.7" y="288.2"/>
<use href="#p" x="3105.4" y="154.6"/>
<use href="#k" x="2518.5" y="240.1"/>
<use href="#p" x="1249.5" y="279"/>
<use href="#k" x="2114.6" y="179.8"/>
<use href="#k" x="2237.8" y="207.8"/>
<use href="#k" x="2457" y="310.7"/>
<use href="#k" x="2503" y="158.8"/>
<use href="#k" x="2584.8" y="179.3"/>
<use href="#p" x="1561.8" y="400.8"/>
<use href="#g" x="1721.6" y="370.2"/>
<use href="#g" x="1993.7" y="183.9"/>
<use href="#k" x="2009.4" y="231.6"/>
<use href="#p" x="3015.2" y="154.5"/>
<use href="#k" x="2940.9" y="154.1"/>
<use href="#g" x="1809.1" y="154.3"/>
<use href="#g" x="2118.9" y="220.7"/>
<use href="#g" x="2848.3" y="287.5"/>
<use href="#k" x="2546.9" y="177.6"/>
<use href="#k" x="1846" y="187.6"/>
<use href="#k" x="2064.9" y="190.3"/>
<use href="#p" x="2124" y="156"/>
<use href="#g" x="2236.9" y="212.5"/>
<use href="#g" x="2179.3" y="174.1"/>
<use href="#k" x="1714.6" y="160.8"/>
<use href="#g" x="2630" y="184.9"/>
<use href="#g" x="2413.1" y="186.8"/>
<use href="#g" x="1309.4" y="185.5"/>
<use href="#k" x="2055.7" y="153.6"/>
<use href="#k" x="1935.3" y="211.1"/>
<use href="#k" x="1887.6" y="197.8"/>
<use href="#p" x="2114.1" y="191.6"/>
<use href="#k" x="2003" y="179.4"/>
<use href="#k" x="1725.8" y="171.3"/>
<use href="#k" x="1920.6" y="200"/>
<use href="#k" x="2199.3" y="154.6"/>
<use href="#k" x="2012.3" y="159.3"/>
<use href="#g" x="2100.1" y="178.1"/>
<use href="#g" x="2473.8" y="208.7"/>
<use href="#p" x="1974.7" y="154.7"/>
<use href="#k" x="2016.9" y="164.4"/>
<use href="#k" x="1728.5" y="155.8"/>
<use href="#k" x="2035.7" y="171.6"/>
<use href="#g" x="1893.4" y="307.3"/>
<use href="#g" x="2167.5" y="241.4"/>
<use href="#g" x="1640.6" y="231.7"/>
<use href="#g" x="2386" y="191.7"/>
<use href="#p" x="969.3" y="166.1"/>
<use href="#k" x="1694.9" y="226.1"/>
<use href="#k" x="2059.8" y="231.5"/>
<use href="#g" x="2726.7" y="225.9"/>
<use href="#g" x="2779.5" y="176.8"/>
<use href="#k" x="2345.5" y="198.2"/>
<use href="#g" x="2455.6" y="175"/>
<use href="#k" x="1887.4" y="155.5"/>
<use href="#k" x="1691.4" y="155.1"/>
<use href="#k" x="2828.2" y="226.1"/>
<use href="#p" x="1725.9" y="154.1"/>
<use href="#p" x="1884.2" y="358.3"/>
<use href="#g" x="2148.4" y="159.9"/>
<use href="#k" x="1806.2" y="202.5"/>
<use href="#g" x="2174" y="228.3"/>
<use href="#k" x="1973.5" y="189.9"/>
<use href="#k" x="2593.3" y="174.6"/>
<use href="#g" x="1685.3" y="187.3"/>
<use href="#g" x="2822.3" y="154.3"/>
<use href="#g" x="2365.3" y="233.9"/>
<use href="#g" x="2263.1" y="153.8"/>
<use href="#k" x="2108.2" y="160.2"/>
<use href="#g" x="2064" y="286.3"/>
<use href="#k" x="2051.7" y="157.9"/>
<use href="#k" x="2175.4" y="225.1"/>
<use href="#k" x="2060.5" y="233.3"/>
<use href="#k" x="2066.8" y="154.2"/>
<use href="#p" x="1361.2" y="153.7"/>
<use href="#k" x="2355.1" y="157.5"/>
<use href="#g" x="1575.4" y="198.4"/>
<use href="#p" x="1384.4" y="154.2"/>
<use href="#g" x="2044.5" y="250.8"/>
<use href="#p" x="2101.7" y="163.8"/>
<use href="#p" x="2416.2" y="180.2"/>
<use href="#k" x="1980.7" y="201.2"/>
<use href="#g" x="2373.8" y="177.2"/>
<use href="#g" x="1059.4" y="183.1"/>
<use href="#g" x="2560.1" y="191.7"/>
<use href="#k" x="2824.8" y="258.7"/>
<use href="#p" x="2398.7" y="158.8"/>
<use href="#p" x="2246" y="232.7"/>
<use href="#g" x="1713.5" y="154"/>
<use href="#g" x="2403.1" y="177.1"/>
<use href="#k" x="2052.4" y="176"/>
<use href="#g" x="2298.7" y="176.2"/>
<use href="#g" x="2657.9" y="165.2"/>
<use href="#k" x="2846.6" y="307.8"/>
<use href="#k" x="2035.9" y="214.3"/>
<use href="#k" x="2072.2" y="184.6"/>
<use href="#g" x="1898" y="255.7"/>
<use href="#k" x="2092.6" y="306.6"/>
<use href="#k" x="2010" y="211.2"/>
<use href="#p" x="1115.7" y="154.5"/>
<use href="#m" x="3153.3" y="154.9"/>
<use href="#k" x="1682.9" y="180.1"/>
<use href="#g" x="1553.3" y="215.4"/>
<use href="#k" x="2434.6" y="248.2"/>
<use href="#k" x="2175.8" y="154.9"/>
<use href="#k" x="2837.1" y="283.5"/>
<use href="#k" x="2046.6" y="178.3"/>
<use href="#p" x="772.9" y="154.8"/>
<use href="#k" x="2048.8" y="233"/>
<use href="#k" x="2816.5" y="188.4"/>
<use href="#g" x="2291.1" y="175.2"/>
<use href="#k" x="2141.7" y="269.9"/>
<use href="#g" x="2187.1" y="182.5"/>
<use href="#k" x="2047.5" y="219"/>
<use href="#g" x="1971.2" y="255.3"/>
<use href="#k" x="2023.2" y="171.3"/>
<use href="#k" x="2896.4" y="327.3"/>
<use href="#k" x="2180.3" y="206.3"/>
<use href="#g" x="1473.7" y="211.9"/>
<use href="#k" x="1998.3" y="210.8"/>
<use href="#k" x="2243" y="201.9"/>
<use href="#p" x="2699.9" y="154"/>
<use href="#p" x="1879.7" y="186.9"/>
<use href="#k" x="2305.1" y="181.1"/>
<use href="#p" x="2245.4" y="186.6"/>
<use href="#p" x="499.9" y="153.5"/>
<use href="#k" x="2020.7" y="183.9"/>
<use href="#k" x="1896.2" y="177.6"/>
<use href="#k" x="2438.2" y="258.3"/>
<use href="#k" x="1958.5" y="198.9"/>
<use href="#g" x="2125.4" y="382.1"/>
<use href="#g" x="2440.4" y="153.7"/>
<use href="#g" x="1561.8" y="217.1"/>
<use href="#g" x="2559.1" y="176.2"/>
<use href="#k" x="2040.3" y="212.7"/>
<use href="#k" x="1992.2" y="193.6"/>
<use href="#k" x="2035.1" y="335.4"/>
<use href="#k" x="1870.5" y="252.6"/>
<use href="#p" x="2118.2" y="153.5"/>
<use href="#g" x="2899.5" y="162.7"/>
<use href="#k" x="2115" y="280.6"/>
<use href="#g" x="2269.2" y="165.6"/>
<use href="#g" x="1097.1" y="154"/>
<use href="#k" x="2026.6" y="221.8"/>
<use href="#k" x="1847.3" y="184.2"/>
<use href="#k" x="2190.1" y="156.4"/>
<use href="#g" x="2312.2" y="224.2"/>
<use href="#k" x="2166.6" y="294.7"/>
<use href="#k" x="2108.9" y="325.1"/>
<use href="#p" x="2578.3" y="153.7"/>
<use href="#k" x="2030.6" y="198.7"/>
<use href="#g" x="2858.7" y="250.1"/>
<use href="#g" x="1945.4" y="161.6"/>
<use href="#k" x="2041.1" y="231.5"/>
<use href="#g" x="1084.9" y="206.9"/>
<use href="#k" x="2106.6" y="177.7"/>
<use href="#p" x="2115" y="214"/>
<use href="#g" x="1215.5" y="217.4"/>
<use href="#k" x="2457.8" y="236.8"/>
<use href="#g" x="2755.4" y="191"/>
<use href="#k" x="2163.7" y="171.4"/>
<use href="#k" x="2041.3" y="169.4"/>
<use href="#g" x="2255.7" y="207.8"/>
<use href="#g" x="1598.3" y="224"/>
<use href="#k" x="2826.1" y="319"/>
<use href="#k" x="2069.8" y="180"/>
<use href="#k" x="2083.9" y="178.4"/>
<use href="#g" x="2238.7" y="237.1"/>
<use href="#p" x="2024.1" y="153.9"/>
<use href="#k" x="3033.1" y="154.3"/>
<use href="#g" x="2723.4" y="173.2"/>
<use href="#k" x="2225.2" y="178.3"/>
<use href="#g" x="2320.4" y="223.2"/>
<use href="#k" x="1743" y="155.2"/>
<use href="#g" x="2840.6" y="225.6"/>
<use href="#k" x="2029" y="193.6"/>
<use href="#p" x="2452.4" y="153.9"/>
<use href="#k" x="2416.3" y="157.3"/>
<use href="#p" x="1541.7" y="155.6"/>
<use href="#p" x="3006.3" y="153.6"/>
<use href="#k" x="2783.5" y="213"/>
<use href="#k" x="2102.1" y="176.1"/>
<use href="#k" x="2041.4" y="239.8"/>
<use href="#g" x="2219.3" y="208.1"/>
<use href="#k" x="2819.5" y="241.8"/>
<use href="#g" x="1958.7" y="355.9"/>
<use href="#g" x="838.2" y="153.6"/>
<use href="#p" x="2075" y="278"/>
<use href="#k" x="2563.6" y="155.3"/>
<use href="#k" x="2089.7" y="224.6"/>
<use href="#k" x="1987.2" y="163.8"/>
<use href="#g" x="2115.4" y="205.8"/>
<use href="#g" x="2730.7" y="154"/>
<use href="#k" x="2290" y="167.1"/>
<use href="#k" x="1768.6" y="154.9"/>
<use href="#p" x="1978.7" y="154.3"/>
<use href="#k" x="2041.7" y="218.6"/>
<use href="#k" x="1958.8" y="216.7"/>
<use href="#g" x="2804.6" y="319.2"/>
<use href="#g" x="2708.5" y="193"/>
<use href="#k" x="2053.6" y="260.3"/>
<use href="#k" x="2006.9" y="208.3"/>
<use href="#p" x="2595.7" y="153.9"/>
<use href="#p" x="2845.7" y="167.3"/>
<use href="#k" x="1730.9" y="162.7"/>
<use href="#k" x="1924.2" y="163.2"/>
<use href="#k" x="2344.5" y="159.8"/>
<use href="#k" x="2170.2" y="172"/>
<use href="#p" x="2868.7" y="242.6"/>
<use href="#g" x="2101.1" y="272.1"/>
<use href="#g" x="2144.6" y="215.6"/>
<use href="#k" x="2229.4" y="165.9"/>
<use href="#k" x="2311.6" y="163.8"/>
<use href="#g" x="2343.9" y="191.7"/>
<use href="#k" x="2472.3" y="163.3"/>
<use href="#k" x="2863.6" y="298"/>
<use href="#g" x="2780.5" y="310.5"/>
<use href="#k" x="2228.9" y="159.2"/>
<use href="#k" x="1714.8" y="266.5"/>
<use href="#g" x="1792.6" y="222.2"/>
<use href="#g" x="2316.1" y="211.3"/>
<use href="#k" x="2233.9" y="205"/>
<use href="#k" x="1689.3" y="295.4"/>
<use href="#g" x="2127.1" y="388.9"/>
<use href="#k" x="2008.8" y="247.8"/>
<use href="#k" x="2040" y="155.2"/>
<use href="#k" x="2008.3" y="180.7"/>
<use href="#k" x="2431.6" y="175.5"/>
<use href="#g" x="2383.2" y="211.4"/>
<use href="#k" x="1833.9" y="183.2"/>
<use href="#k" x="2165.5" y="164.2"/>
<use href="#k" x="2150.9" y="283.4"/>
<use href="#p" x="1833.4" y="154.3"/>
<use href="#g" x="2853.9" y="168.4"/>
<use href="#g" x="2400.3" y="216.6"/>
<use href="#p" x="2862.6" y="266.9"/>
<use href="#g" x="2670.4" y="154.5"/>
<use href="#k" x="1734.1" y="166.1"/>
<use href="#g" x="2237.3" y="307"/>
<use href="#k" x="2174.4" y="297"/>
<use href="#g" x="1700.1" y="161"/>
<use href="#k" x="1785.1" y="173.6"/>
<use href="#k" x="2552.4" y="210.6"/>
<use href="#k" x="2085.1" y="188.1"/>
<use href="#g" x="3100.5" y="200.1"/>
<use href="#k" x="2057.7" y="171.7"/>
<use href="#g" x="2890.1" y="188.5"/>
<use href="#p" x="2820.4" y="153.7"/>
<use href="#p" x="820.3" y="218.8"/>
<use href="#k" x="2083.9" y="178.9"/>
<use href="#g" x="1791.2" y="192.7"/>
<use href="#p" x="1081.5" y="218.2"/>
<use href="#p" x="2572" y="155.9"/>
<use href="#k" x="2049.2" y="207.3"/>
<use href="#k" x="2019.1" y="158.5"/>
<use href="#k" x="2143.6" y="184.8"/>
<use href="#k" x="2870.6" y="242.3"/>
<use href="#g" x="2518.4" y="178.8"/>
<use href="#k" x="2002.7" y="173.6"/>
<use href="#g" x="2472.3" y="324.3"/>
<use href="#p" x="2171.8" y="165.4"/>
<use href="#k" x="2164.8" y="296"/>
<use href="#g" x="1842.4" y="187.6"/>
<use href="#p" x="2323.2" y="192.7"/>
<use href="#g" x="2253.7" y="218.9"/>
<use href="#k" x="2825.2" y="192.2"/>
<use href="#k" x="1992.1" y="230.8"/>
<use href="#p" x="776.9" y="154.6"/>
<use href="#g" x="2008" y="283.5"/>
<use href="#g" x="1951.2" y="235.6"/>
<use href="#p" x="1963.5" y="153.5"/>
<use href="#g" x="2355.5" y="225.8"/>
<use href="#k" x="2640.8" y="153.6"/>
<use href="#k" x="2588.9" y="153.9"/>
<use href="#p" x="2491.4" y="160.7"/>
<use href="#k" x="2891.2" y="195.4"/>
<use href="#g" x="2104.4" y="183.1"/>
<use href="#k" x="2368.4" y="171"/>
<use href="#k" x="1936.3" y="273.9"/>
<use href="#k" x="2031" y="163.5"/>
<use href="#g" x="2471.9" y="184.9"/>
<use href="#g" x="2852.4" y="154.7"/>
<use href="#g" x="2734.2" y="411"/>
<use href="#p" x="2374.3" y="230"/>
<use href="#k" x="2801.6" y="293.6"/>
<use href="#p" x="1089.9" y="153.6"/>
<use href="#g" x="2207.2" y="181.6"/>
<use href="#k" x="2017.9" y="176"/>
<use href="#g" x="2453.5" y="260.6"/>
<use href="#k" x="2021" y="196.3"/>
<use href="#k" x="2446.4" y="153.9"/>
<use href="#g" x="1952.8" y="254.1"/>
<use href="#k" x="2513.5" y="196.6"/>
<use href="#k" x="2886.7" y="320.1"/>
<use href="#k" x="2021.9" y="185.2"/>
<use href="#k" x="2276.8" y="190.3"/>
<use href="#g" x="1881.1" y="238.8"/>
<use href="#p" x="1738.4" y="153.9"/>
<use href="#g" x="2721" y="254.3"/>
<use href="#g" x="2084.6" y="374.6"/>
<use href="#k" x="2073.9" y="176.6"/>
<use href="#g" x="2543.7" y="193.8"/>
<use href="#k" x="2150.8" y="165"/>
<use href="#k" x="2017.8" y="262.4"/>
<use href="#k" x="2130.4" y="166"/>
<use href="#g" x="1956" y="161.5"/>
<use href="#k" x="1770.3" y="209.1"/>
<use href="#k" x="2201.4" y="164.7"/>
<use href="#g" x="2191.4" y="192.3"/>
<use href="#k" x="2023.3" y="175"/>
<use href="#g" x="1778.5" y="175.1"/>
<use href="#k" x="2127.5" y="178.7"/>
<use href="#k" x="2056" y="200.7"/>
<use href="#k" x="2053.1" y="202.9"/>
<use href="#g" x="2047.2" y="207.6"/>
<use href="#k" x="3102.5" y="153.7"/>
<use href="#k" x="2175.9" y="290.9"/>
<use href="#k" x="2139.9" y="269.4"/>
<use href="#g" x="1874.5" y="157.3"/>
<use href="#g" x="2944.1" y="402.5"/>
<use href="#g" x="2001.8" y="239.7"/>
<use href="#g" x="2152.6" y="349.8"/>
<use href="#k" x="2523.3" y="187.7"/>
<use href="#p" x="1611.1" y="161"/>
<use href="#k" x="2375" y="215.2"/>
<use href="#g" x="2525" y="229"/>
<use href="#g" x="2001.8" y="153.9"/>
<use href="#k" x="1998.3" y="197.9"/>
<use href="#g" x="1650.2" y="188.2"/>
<use href="#k" x="1826.5" y="165.1"/>
<use href="#k" x="2257.2" y="161"/>
<use href="#k" x="1905" y="159.6"/>
<use href="#k" x="2347.4" y="174.2"/>
<use href="#k" x="1734.1" y="157.5"/>
<use href="#k" x="2008.2" y="163.9"/>
<use href="#g" x="1306.2" y="190.2"/>
<use href="#k" x="1677.7" y="164.1"/>
<use href="#k" x="2806.2" y="198.5"/>
<use href="#k" x="2034.9" y="217.1"/>
<use href="#g" x="1585.6" y="426.3"/>
<use href="#g" x="1167.9" y="154.3"/>
<use href="#k" x="2020.1" y="182.5"/>
<use href="#k" x="2451.5" y="154.6"/>
<use href="#g" x="2722.3" y="276.7"/>
<use href="#k" x="2348.2" y="246.1"/>
<use href="#k" x="2154.8" y="183.6"/>
<use href="#g" x="2090.7" y="247.4"/>
<use href="#k" x="2749.4" y="289.8"/>
<use href="#g" x="1215.5" y="275"/>
<use href="#k" x="2019.3" y="190.2"/>
<use href="#g" x="2073.4" y="286.4"/>
<use href="#g" x="1247.2" y="193.2"/>
<use href="#k" x="2463.8" y="168.9"/>
<use href="#g" x="2468.9" y="217.9"/>
<use href="#k" x="2005.5" y="220.1"/>
<use href="#k" x="2009.7" y="224.7"/>
<use href="#g" x="1495.5" y="195.6"/>
<use href="#k" x="2004.3" y="223.9"/>
<use href="#k" x="2173.1" y="264.9"/>
<use href="#k" x="1781.2" y="256.3"/>
<use href="#k" x="2098.8" y="157"/>
<use href="#g" x="1998.4" y="278"/>
<use href="#p" x="2125.4" y="164.3"/>
<use href="#k" x="2531.9" y="153.7"/>
<use href="#k" x="2567.2" y="181.8"/>
<use href="#k" x="2071.8" y="167.5"/>
<use href="#p" x="590" y="153.5"/>
<use href="#g" x="2769.8" y="235"/>
<use href="#k" x="2991.4" y="154.7"/>
<use href="#g" x="2280.1" y="295.4"/>
<use href="#p" x="1551.6" y="458.6"/>
<use href="#g" x="2015.5" y="282"/>
<use href="#k" x="2018.4" y="197.3"/>
<use href="#p" x="2832.6" y="198.5"/>
<use href="#g" x="2479.1" y="373.6"/>
<use href="#k" x="2192" y="173.6"/>
<use href="#g" x="2031.9" y="243.5"/>
<use href="#g" x="2799.4" y="159.5"/>
<use href="#k" x="2061.8" y="202.7"/>
<use href="#k" x="1986.5" y="197.5"/>
<use href="#k" x="1758.8" y="190.5"/>
<use href="#k" x="2046.8" y="198"/>
<use href="#k" x="1817.1" y="216.1"/>
<use href="#k" x="2022.1" y="185.4"/>
<use href="#k" x="2748.7" y="282.4"/>
<use href="#g" x="2059.4" y="232.8"/>
<use href="#k" x="2030.3" y="154.3"/>
<use href="#k" x="2038" y="186"/>
<use href="#g" x="1452.9" y="258"/>
<use href="#g" x="2824" y="179.3"/>
<use href="#k" x="2368.6" y="163.6"/>
<use href="#g" x="2903.3" y="229"/>
<use href="#g" x="2458.8" y="204.2"/>
<use href="#p" x="1617.6" y="229.5"/>
<use href="#g" x="2395.2" y="155.9"/>
<use href="#g" x="1793.7" y="228.7"/>
<use href="#k" x="1997" y="154.3"/>
<use href="#k" x="1996.9" y="320.6"/>
<use href="#g" x="1959" y="153.8"/>
<use href="#k" x="1667.9" y="154.1"/>
<use href="#g" x="2383.9" y="273.3"/>
<use href="#g" x="2915.2" y="227.3"/>
<use href="#g" x="2122.9" y="246.7"/>
<use href="#g" x="2377.2" y="223.3"/>
<use href="#k" x="2063.9" y="223.7"/>
<use href="#k" x="2177.6" y="176.3"/>
<use href="#k" x="1963.5" y="179.4"/>
<use href="#k" x="1990.3" y="200.6"/>
<use href="#k" x="2014" y="233.4"/>
<use href="#g" x="2173.7" y="186.9"/>
<use href="#p" x="2093.1" y="303.2"/>
<use href="#k" x="2320.7" y="191.8"/>
<use href="#g" x="2833.8" y="214.2"/>
<use href="#p" x="2669.6" y="196.7"/>
<use href="#k" x="2439" y="304.4"/>
<use href="#k" x="2389.1" y="161.1"/>
<use href="#g" x="2775.1" y="216.3"/>
<use href="#k" x="2884.2" y="336.8"/>
<use href="#k" x="2181.8" y="169.7"/>
<use href="#p" x="1942.2" y="276.9"/>
<use href="#k" x="2061.4" y="182.4"/>
<use href="#k" x="2038.5" y="182.8"/>
<use href="#k" x="2053.8" y="157"/>
<use href="#p" x="2084.6" y="341.3"/>
<use href="#g" x="2127.4" y="240.9"/>
<use href="#k" x="1620.2" y="165.5"/>
<use href="#p" x="2817.8" y="181.9"/>
<use href="#g" x="2255.3" y="208.4"/>
<use href="#k" x="1989.6" y="254.9"/>
<use href="#k" x="2004.5" y="165.3"/>
<use href="#k" x="1808.4" y="310.7"/>
<use href="#p" x="1154.6" y="204.9"/>
<use href="#k" x="3018.6" y="165.4"/>
<use href="#k" x="1922.8" y="153.7"/>
<use href="#k" x="2000" y="186.7"/>
<use href="#k" x="2047.8" y="303"/>
<use href="#k" x="1820.6" y="198"/>
<use href="#p" x="2459.5" y="178.7"/>
<use href="#g" x="2332.3" y="185.3"/>
<use href="#g" x="2657.7" y="315.8"/>
<use href="#k" x="2057.4" y="162.1"/>
<use href="#k" x="2247.8" y="208.5"/>
<use href="#g" x="2293.3" y="213.2"/>
<use href="#k" x="1517.5" y="247.7"/>
<use href="#g" x="1415.5" y="171.2"/>
<use href="#g" x="2657" y="182.9"/>
<use href="#g" x="2344.7" y="156.2"/>
<use href="#k" x="1991.4" y="226.7"/>
<use href="#k" x="1889.5" y="214.2"/>
<use href="#k" x="2016.7" y="190.4"/>
<use href="#k" x="2135.9" y="153.7"/>
<use href="#k" x="2037.2" y="233.7"/>
<use href="#g" x="2933.9" y="361.7"/>
<use href="#k" x="2050" y="161.2"/>
<use href="#g" x="2062.4" y="327.7"/>
<use href="#p" x="2148.9" y="268.6"/>
<use href="#k" x="2232.2" y="192.3"/>
<use href="#g" x="1893.2" y="192.5"/>
<use href="#g" x="1837.3" y="179.4"/>
<use href="#g" x="826.4" y="237.6"/>
<use href="#p" x="2527.9" y="198.7"/>
<use href="#k" x="2365.9" y="175.9"/>
<use href="#k" x="2208.2" y="173.2"/>
<use href="#p" x="3040.1" y="153.7"/>
<use href="#g" x="2884.6" y="253.8"/>
<use href="#g" x="1679.8" y="217.9"/>
<use href="#k" x="2047.5" y="155.3"/>
<use href="#k" x="2119.4" y="176.2"/>
<use href="#g" x="2411.2" y="200.9"/>
<use href="#g" x="2224.7" y="232.1"/>
<use href="#g" x="2715.5" y="263.1"/>
<use href="#p" x="2975.3" y="154"/>
<use href="#p" x="2990.5" y="154.1"/>
<use href="#p" x="841.8" y="153.7"/>
<use href="#g" x="2933.9" y="161.7"/>
<use href="#g" x="2885.4" y="154.5"/>
<use href="#k" x="2040.4" y="245"/>
<use href="#k" x="2157.5" y="170"/>
<use href="#g" x="1799.5" y="220"/>
<use href="#g" x="2743.2" y="162.4"/>
<use href="#g" x="2446.2" y="153.8"/>
<use href="#k" x="1967.2" y="282.4"/>
<use href="#g" x="2618.6" y="259.7"/>
<use href="#k" x="2040" y="195.1"/>
<use href="#g" x="1390.8" y="234.8"/>
<use href="#k" x="2334.9" y="154.9"/>
<use href="#g" x="1992.5" y="264.3"/>
<use href="#g" x="2866.8" y="206.7"/>
<use href="#g" x="2281.7" y="153.6"/>
<use href="#k" x="1890.4" y="183"/>
<use href="#p" x="1866.6" y="207.7"/>
<use href="#g" x="2185.5" y="160.9"/>
<use href="#g" x="2101.1" y="298.7"/>
<use href="#k" x="1674.8" y="171.3"/>
<use href="#g" x="2267.9" y="184.1"/>
<use href="#k" x="2058.8" y="193.5"/>
<use href="#k" x="1818.7" y="166"/>
<use href="#g" x="1909.9" y="242.2"/>
<use href="#g" x="2111" y="272.4"/>
<use href="#g" x="1216.6" y="154.5"/>
<use href="#k" x="1986.8" y="236"/>
<use href="#k" x="2876.3" y="228.1"/>
<use href="#g" x="2873.4" y="298.5"/>
<use href="#k" x="2027.2" y="204.4"/>
<use href="#g" x="2045.3" y="205.6"/>
<use href="#k" x="2021.7" y="191.1"/>
<use href="#p" x="1427.5" y="154"/>
<use href="#g" x="2477.4" y="174.9"/>
<use href="#k" x="2005.2" y="238.1"/>
<use href="#g" x="2225.6" y="186.3"/>
<use href="#k" x="1976.9" y="227.7"/>
<use href="#k" x="2191.1" y="270.5"/>
<use href="#k" x="1992.8" y="215.8"/>
<use href="#k" x="1675.7" y="202.1"/>
<use href="#g" x="2038.1" y="169.9"/>
<use href="#g" x="2712.4" y="232.1"/>
<use href="#k" x="2076.7" y="163.1"/>
<use href="#g" x="2287.6" y="206.3"/>
<use href="#k" x="1726.8" y="205.4"/>
<use href="#g" x="2217.2" y="170.6"/>
<use href="#p" x="777.3" y="153.6"/>
<use href="#k" x="2146.4" y="171.4"/>
<use href="#k" x="2033" y="165.9"/>
<use href="#k" x="2327.9" y="159.4"/>
<use href="#g" x="2039.7" y="310.4"/>
<use href="#p" x="2610.1" y="154.5"/>
<use href="#k" x="1772.9" y="190.5"/>
<use href="#k" x="2116.4" y="281.4"/>
<use href="#p" x="2082" y="261.6"/>
<use href="#k" x="2018.4" y="184.1"/>
<use href="#k" x="2078.3" y="175.9"/>
<use href="#g" x="1931.4" y="204"/>
<use href="#g" x="1664.8" y="437.6"/>
<use href="#g" x="2476.4" y="212.8"/>
<use href="#k" x="2069.5" y="187.4"/>
<use href="#g" x="1652.4" y="217.9"/>
<use href="#g" x="1635.1" y="195.1"/>
<use href="#g" x="1277.8" y="227.3"/>
<use href="#p" x="844.5" y="153.6"/>
<use href="#g" x="2275.9" y="281.7"/>
<use href="#k" x="2022.8" y="163.1"/>
<use href="#g" x="2740.3" y="251.5"/>
<use href="#k" x="2078.1" y="176.6"/>
<use href="#k" x="2169.6" y="154.1"/>
<use href="#g" x="2121.7" y="280.9"/>
<use href="#k" x="1830.7" y="241.7"/>
<use href="#k" x="2053.4" y="163.1"/>
<use href="#g" x="1614.5" y="337.9"/>
<use href="#p" x="2046.4" y="250.6"/>
<use href="#g" x="1865.3" y="221.7"/>
<use href="#k" x="2060.3" y="220.2"/>
<use href="#p" x="1580.7" y="178.2"/>
<use href="#g" x="2825.4" y="154.2"/>
<use href="#g" x="2434.9" y="211.7"/>
<use href="#k" x="2037.9" y="241.4"/>
<use href="#k" x="2763.3" y="182.6"/>
<use href="#g" x="2249.2" y="201"/>
<use href="#k" x="2151.6" y="182.9"/>
<use href="#k" x="2020.1" y="204.5"/>
<use href="#k" x="2138.7" y="246.6"/>
<use href="#k" x="2092.4" y="163.8"/>
<use href="#g" x="1355.9" y="253.5"/>
<use href="#p" x="2679.1" y="153.6"/>
<use href="#k" x="2006.2" y="215.1"/>
<use href="#g" x="2351" y="154.5"/>
<use href="#k" x="2192.2" y="176.9"/>
<use href="#k" x="2131.6" y="194.1"/>
<use href="#k" x="2027.6" y="208.6"/>
<use href="#p" x="1556.7" y="179.7"/>
<use href="#g" x="2470.6" y="206.1"/>
<use href="#g" x="2362.3" y="231.5"/>
<use href="#g" x="2375.5" y="227.5"/>
<use href="#g" x="2306.6" y="158.7"/>
<use href="#k" x="2193.3" y="186.3"/>
<use href="#g" x="1265.7" y="230.2"/>
<use href="#g" x="1613.8" y="203.4"/>
<use href="#k" x="2094.9" y="157.2"/>
<use href="#g" x="2056.9" y="169.4"/>
<use href="#g" x="2255.2" y="218"/>
<use href="#g" x="2430" y="181.8"/>
<use href="#k" x="2520.3" y="153.6"/>
<use href="#k" x="2013.1" y="210"/>
<use href="#g" x="1619.6" y="195"/>
<use href="#k" x="2035.8" y="200.2"/>
<use href="#k" x="2659.4" y="314.1"/>
<use href="#g" x="875.7" y="196.7"/>
<use href="#k" x="1931.4" y="198.1"/>
<use href="#k" x="1993.4" y="213.7"/>
<use href="#g" x="1177.4" y="172.9"/>
<use href="#k" x="2497.6" y="181.6"/>
<use href="#k" x="2042.5" y="288"/>
<use href="#k" x="2456.4" y="218.2"/>
<use href="#k" x="2059.7" y="215.3"/>
<use href="#k" x="2013.1" y="243.5"/>
<use href="#p" x="2044.9" y="155"/>
<use href="#p" x="2366.6" y="155.6"/>
<use href="#g" x="2364.2" y="211.8"/>
<use href="#k" x="2801.1" y="203.7"/>
<use href="#k" x="2098.5" y="241.1"/>
<use href="#k" x="1956.3" y="168"/>
<use href="#k" x="2154.3" y="167.1"/>
<use href="#k" x="2157.1" y="165.1"/>
<use href="#g" x="2112.3" y="228.6"/>
<use href="#k" x="2080.2" y="161.7"/>
<use href="#k" x="2044.8" y="203.1"/>
<use href="#g" x="2269.3" y="189.2"/>
<use href="#p" x="1941.1" y="162.8"/>
<use href="#k" x="2008.4" y="200.7"/>
<use href="#k" x="2275.5" y="172.6"/>
<use href="#g" x="1422.8" y="153.6"/>
<use href="#g" x="1970.3" y="274.6"/>
<use href="#k" x="2176.2" y="185.4"/>
<use href="#g" x="2158.6" y="211.5"/>
<use href="#k" x="2153.1" y="291.6"/>
<use href="#k" x="2032.3" y="210.7"/>
<use href="#k" x="2096.4" y="156.2"/>
<use href="#g" x="2313.1" y="213.4"/>
<use href="#k" x="2889.9" y="232.9"/>
<use href="#k" x="2057.5" y="218.3"/>
<use href="#k" x="2391.3" y="195.6"/>
<use href="#k" x="2468.4" y="225"/>
<use href="#k" x="1853.1" y="178.1"/>
<use href="#g" x="1588.6" y="219"/>
<use href="#g" x="1972.9" y="234.1"/>
<use href="#k" x="1993.3" y="197.3"/>
<use href="#g" x="2012.8" y="160.5"/>
<use href="#k" x="2921" y="154.6"/>
<use href="#p" x="1157.5" y="154.8"/>
<use href="#k" x="2012.3" y="155.5"/>
<use href="#g" x="2657.7" y="154"/>
<use href="#k" x="2092.2" y="172.3"/>
<use href="#g" x="2932" y="189.3"/>
<use href="#k" x="2258.1" y="154.2"/>
<use href="#k" x="2002" y="222.6"/>
<use href="#k" x="1898.6" y="216.4"/>
<use href="#k" x="2070.5" y="210.9"/>
<use href="#k" x="2867.6" y="264.3"/>
<use href="#p" x="2252.3" y="205.8"/>
<use href="#g" x="2179.2" y="274.6"/>
<use href="#k" x="2029.2" y="161"/>
<use href="#p" x="3097.1" y="153.5"/>
<use href="#p" x="1575.4" y="213.7"/>
<use href="#g" x="2615.2" y="210.3"/>
<use href="#k" x="2053" y="219.3"/>
<use href="#p" x="2110.2" y="156.8"/>
<use href="#k" x="1901.9" y="192.4"/>
<use href="#k" x="2133.1" y="162.5"/>
<use href="#k" x="1934.7" y="162.9"/>
<use href="#g" x="2421" y="172.6"/>
<use href="#p" x="2224.7" y="427.3"/>
<use href="#k" x="3026.2" y="153.6"/>
<use href="#g" x="1348.8" y="246.9"/>
<use href="#g" x="1898.5" y="316.1"/>
<use href="#g" x="1668.4" y="222.6"/>
<use href="#g" x="1878.6" y="231.4"/>
<use href="#g" x="2456.7" y="248.8"/>
<use href="#g" x="1619.6" y="222.2"/>
<use href="#k" x="2041.2" y="165.9"/>
<use href="#k" x="2786.6" y="168.7"/>
<use href="#g" x="1595.8" y="237.6"/>
<use href="#k" x="2120.6" y="161.9"/>
<use href="#g" x="2236.2" y="179.6"/>
<use href="#k" x="2067.6" y="186.4"/>
<use href="#p" x="2957.7" y="246.1"/>
<use href="#k" x="1735.8" y="169.2"/>
<use href="#g" x="798.1" y="154.4"/>
<use href="#k" x="2446.9" y="337.2"/>
<use href="#k" x="2200.1" y="166"/>
<use href="#g" x="1268.9" y="178.5"/>
<use href="#p" x="2256.5" y="182.1"/>
<use href="#k" x="2313.9" y="170.6"/>
<use href="#g" x="2625.4" y="154.1"/>
<use href="#g" x="2978.1" y="346.4"/>
<use href="#k" x="2136.2" y="156.6"/>
<use href="#g" x="2450.7" y="209.6"/>
<use href="#p" x="1992" y="154"/>
<use href="#k" x="2797.4" y="194.5"/>
<use href="#k" x="3024.3" y="159.8"/>
<use href="#g" x="2050.1" y="246.1"/>
<use href="#k" x="2862.5" y="240.8"/>
<use href="#p" x="1328.8" y="153.7"/>
<use href="#p" x="2822.8" y="325.2"/>
<use href="#g" x="2082.9" y="286.9"/>
<use href="#k" x="2446.8" y="213.1"/>
<use href="#g" x="2251.6" y="198.2"/>
<use href="#k" x="2003.5" y="161.5"/>
<use href="#p" x="1565.2" y="385.5"/>
<use href="#k" x="2009.2" y="245"/>
<use href="#g" x="2355" y="235.6"/>
<use href="#p" x="2698.5" y="251.2"/>
<use href="#k" x="1986.4" y="227.9"/>
<use href="#g" x="2379.2" y="166.8"/>
<use href="#k" x="2823.2" y="252.7"/>
<use href="#k" x="2045.1" y="166"/>
<use href="#k" x="2030.7" y="241.3"/>
<use href="#k" x="2006" y="234.3"/>
<use href="#g" x="2154.8" y="228.2"/>
<use href="#k" x="2156.1" y="166.4"/>
<use href="#k" x="1790.2" y="220.1"/>
<use href="#k" x="2104.7" y="170"/>
<use href="#g" x="2334.5" y="192"/>
<use href="#k" x="2188" y="169.1"/>
<use href="#k" x="2007.9" y="225"/>
<use href="#k" x="1688.5" y="202.6"/>
<use href="#p" x="2115.1" y="246"/>
<use href="#k" x="2195.5" y="157.7"/>
<use href="#p" x="1294.8" y="186.5"/>
<use href="#p" x="1953" y="239.4"/>
<use href="#g" x="2085.3" y="249.4"/>
<use href="#k" x="2060.1" y="213.1"/>
<use href="#k" x="1935.3" y="182.1"/>
<use href="#g" x="2226.8" y="165"/>
<use href="#p" x="2231.8" y="190"/>
<use href="#k" x="2047.2" y="157.9"/>
<use href="#g" x="2442.4" y="219.3"/>
<use href="#k" x="2391.1" y="154.8"/>
<use href="#k" x="2001.2" y="155.5"/>
<use href="#p" x="2415.1" y="154.7"/>
<use href="#k" x="2184.8" y="193.9"/>
<use href="#k" x="2173.7" y="188.7"/>
<use href="#k" x="2569.6" y="154.1"/>
<use href="#g" x="2324.9" y="273.2"/>
<use href="#g" x="2859.8" y="190.9"/>
<use href="#p" x="2194.7" y="191.7"/>
<use href="#p" x="1053.3" y="154.3"/>
<use href="#k" x="2070.7" y="206.3"/>
<use href="#p" x="759" y="154.6"/>
<use href="#g" x="2165.9" y="285.5"/>
<use href="#k" x="1685.2" y="161.9"/>
<use href="#p" x="2205.5" y="209.9"/>
<use href="#g" x="1914" y="234.7"/>
<use href="#k" x="1685.7" y="177.7"/>
<use href="#g" x="1117.2" y="329.4"/>
<use href="#g" x="1806.9" y="242.6"/>
<use href="#k" x="2202.1" y="153.6"/>
<use href="#k" x="2142.2" y="163.2"/>
<use href="#g" x="2768.3" y="199.6"/>
<use href="#g" x="2241.5" y="191.6"/>
<use href="#k" x="1996.1" y="213.2"/>
<use href="#k" x="2029.4" y="189.2"/>
<use href="#g" x="2695.8" y="429.7"/>
<use href="#g" x="1692.3" y="190.2"/>
<use href="#k" x="3108.2" y="175.5"/>
<use href="#k" x="2022.8" y="164"/>
<use href="#p" x="1330.5" y="186.5"/>
<use href="#g" x="1001" y="154"/>
<use href="#k" x="2054.4" y="202"/>
<use href="#p" x="1990" y="429.7"/>
<use href="#k" x="2010.8" y="154.6"/>
<use href="#k" x="2010.2" y="224"/>
<use href="#k" x="1986.7" y="192.6"/>
<use href="#p" x="1929.1" y="201.8"/>
<use href="#k" x="2668.1" y="170.4"/>
<use href="#p" x="2950.9" y="280.1"/>
<use href="#p" x="1420" y="153.6"/>
<use href="#p" x="1108.8" y="153.8"/>
<use href="#k" x="2154.2" y="180.2"/>
<use href="#g" x="1714.5" y="218.1"/>
<use href="#k" x="2059.2" y="193.7"/>
<use href="#k" x="2430.1" y="174.7"/>
<use href="#g" x="2826.3" y="273.8"/>
<use href="#g" x="2111.3" y="234.7"/>
<use href="#p" x="1488.5" y="154"/>
<use href="#k" x="1685.1" y="178.6"/>
<use href="#k" x="1996.2" y="223.6"/>
<use href="#g" x="2096.1" y="220.6"/>
<use href="#g" x="2542.4" y="209.3"/>
<use href="#g" x="1611.1" y="208.6"/>
<use href="#k" x="2010.4" y="153.6"/>
<use href="#k" x="2857.3" y="261.1"/>
<use href="#p" x="2160" y="153.5"/>
<use href="#k" x="2206.2" y="183.7"/>
<use href="#k" x="2883" y="340.2"/>
<use href="#g" x="954.3" y="153.7"/>
<use href="#g" x="2341.4" y="371.9"/>
<use href="#p" x="2842" y="320.9"/>
<use href="#g" x="2175" y="196.9"/>
<use href="#g" x="2516.3" y="179.7"/>
<use href="#k" x="2225.5" y="155.2"/>
<use href="#k" x="1991.2" y="156.5"/>
<use href="#k" x="2144.3" y="167.5"/>
<use href="#k" x="1876.7" y="178.3"/>
<use href="#k" x="2415.4" y="180.9"/>
<use href="#p" x="2734.2" y="259.7"/>
<use href="#p" x="677.9" y="154.4"/>
<use href="#k" x="2857.3" y="198"/>
<use href="#k" x="2026.2" y="175.5"/>
<use href="#k" x="2881.1" y="288.4"/>
<use href="#g" x="2201.1" y="170.8"/>
<use href="#k" x="2001.8" y="200.7"/>
<use href="#g" x="2068.4" y="226.2"/>
<use href="#k" x="2090.5" y="185.6"/>
<use href="#g" x="1944.8" y="227.3"/>
<use href="#g" x="2272.4" y="159.1"/>
<use href="#g" x="2418.5" y="208.9"/>
<use href="#k" x="2069.6" y="221.1"/>
<use href="#k" x="1975.5" y="203"/>
<use href="#k" x="2109.1" y="179.7"/>
<use href="#k" x="1680.5" y="155.4"/>
<use href="#k" x="1998.6" y="198"/>
<use href="#k" x="1839.3" y="153.8"/>
<use href="#k" x="2004.8" y="157.1"/>
<use href="#g" x="2399.4" y="186.8"/>
<use href="#g" x="2330.2" y="192.9"/>
<use href="#k" x="2798.5" y="292.6"/>
<use href="#g" x="2479.2" y="169.8"/>
<use href="#k" x="2070.5" y="165.1"/>
<use href="#k" x="2000.7" y="159.2"/>
<use href="#p" x="1782.1" y="225.4"/>
<use href="#k" x="2042.3" y="201.2"/>
<use href="#m" x="2227.4" y="333.5"/>
<use href="#k" x="1916.8" y="169.8"/>
<use href="#k" x="1848.6" y="162.2"/>
<use href="#g" x="2154.1" y="196.3"/>
<use href="#p" x="2790.6" y="154.6"/>
<use href="#g" x="1801.9" y="226.8"/>
<use href="#g" x="2287.7" y="208.7"/>
<use href="#k" x="2063.9" y="206.8"/>
<use href="#k" x="2929.4" y="168.5"/>
<use href="#g" x="1906" y="240.1"/>
<use href="#p" x="2589.3" y="154"/>
<use href="#k" x="2024.7" y="218"/>
<use href="#k" x="2926.4" y="153.6"/>
<use href="#p" x="3021.6" y="154.4"/>
<use href="#k" x="2849.6" y="274"/>
<use href="#g" x="2022.6" y="238"/>
<use href="#k" x="2449.6" y="301.2"/>
<use href="#k" x="2015.9" y="163.7"/>
<use href="#p" x="1826.6" y="201.1"/>
<use href="#k" x="2429.8" y="256.3"/>
<use href="#k" x="1915.6" y="153.6"/>
<use href="#g" x="1916.2" y="343.5"/>
<use href="#p" x="765.8" y="153.6"/>
<use href="#g" x="2103.1" y="246.9"/>
<use href="#k" x="1984.9" y="174.7"/>
<use href="#g" x="2125" y="153.8"/>
<use href="#g" x="2090.7" y="461.4"/>
<use href="#p" x="1771.6" y="154.7"/>
<use href="#g" x="2269.6" y="167"/>
<use href="#g" x="2752" y="219.6"/>
<use href="#g" x="2608.6" y="153.6"/>
<use href="#k" x="2287" y="176.6"/>
<use href="#k" x="2408.3" y="209.4"/>
<use href="#k" x="2440.1" y="251.1"/>
<use href="#p" x="988.6" y="154.4"/>
<use href="#p" x="1959.7" y="323.6"/>
<use href="#k" x="2248.1" y="218.6"/>
<use href="#k" x="1995.9" y="176.1"/>
<use href="#g" x="822" y="263.7"/>
<use href="#k" x="1998" y="197.9"/>
<use href="#g" x="2436" y="173.5"/>
<use href="#k" x="2049.4" y="194.3"/>
<use href="#k" x="2375.5" y="211.4"/>
<use href="#k" x="2873.2" y="300.9"/>
<use href="#g" x="2030.5" y="177.4"/>
<use href="#k" x="2128.2" y="190"/>
<use href="#k" x="2079.1" y="187.6"/>
<use href="#g" x="2335.8" y="235.5"/>
<use href="#p" x="1996.7" y="153.6"/>
<use href="#g" x="2774.7" y="187.9"/>
<use href="#k" x="2146.9" y="153.9"/>
<use href="#k" x="1697.4" y="154.1"/>
<use href="#g" x="1982.5" y="241.8"/>
<use href="#k" x="2063.3" y="212.7"/>
<use href="#g" x="1778.7" y="233.9"/>
<use href="#k" x="2769.1" y="216.5"/>
<use href="#k" x="2046.2" y="206.3"/>
<use href="#p" x="838.3" y="154.3"/>
<use href="#p" x="1390.7" y="275.6"/>
<use href="#g" x="2899.9" y="181.4"/>
<use href="#g" x="2309.2" y="233.6"/>
<use href="#g" x="2818.2" y="341.3"/>
<use href="#k" x="2158.4" y="300"/>
<use href="#k" x="2144" y="167.2"/>
<use href="#g" x="2607" y="169.2"/>
<use href="#k" x="2066.7" y="178.8"/>
<use href="#k" x="1957.3" y="202.7"/>
<use href="#g" x="1913.7" y="154.3"/>
<use href="#k" x="2031.6" y="297.5"/>
<use href="#g" x="2404.5" y="167.5"/>
<use href="#k" x="2064.2" y="198.1"/>
<use href="#k" x="2830.9" y="259.6"/>
<use href="#k" x="2043.6" y="182"/>
<use href="#k" x="2835" y="302.8"/>
<use href="#k" x="2471.7" y="203.9"/>
<use href="#g" x="2364.5" y="288"/>
<use href="#p" x="2340.9" y="227"/>
<use href="#g" x="2234.7" y="188.5"/>
<use href="#g" x="1721.2" y="209.7"/>
<use href="#g" x="1698.5" y="166"/>
<use href="#k" x="2005.7" y="211.4"/>
<use href="#g" x="2942.4" y="385.5"/>
<use href="#k" x="2320.9" y="231.7"/>
<use href="#k" x="1614.2" y="168.6"/>
<use href="#k" x="1842.9" y="225.5"/>
<use href="#g" x="1876.1" y="212.9"/>
<use href="#g" x="2384.5" y="219.1"/>
<use href="#k" x="2221.1" y="163.7"/>
<use href="#k" x="2125.6" y="169.1"/>
<use href="#k" x="2041.6" y="202.3"/>
<use href="#p" x="1432.9" y="350.1"/>
<use href="#g" x="1937" y="253.4"/>
<use href="#p" x="1078.8" y="153.7"/>
<use href="#g" x="2521.6" y="373.6"/>
<use href="#k" x="2073.4" y="234.3"/>
<use href="#k" x="2665.5" y="156.2"/>
<use href="#k" x="2456.1" y="250"/>
<use href="#k" x="2199.5" y="395"/>
<use href="#k" x="2032.7" y="204.9"/>
<use href="#g" x="2227.4" y="171.4"/>
<use href="#g" x="2285.1" y="224.8"/>
<use href="#k" x="2013.7" y="174.2"/>
<use href="#k" x="2071.2" y="186.1"/>
<use href="#k" x="2989" y="154.3"/>
<use href="#g" x="2555.6" y="343"/>
<use href="#k" x="1857.3" y="176.5"/>
<use href="#k" x="1883.2" y="154.5"/>
<use href="#g" x="2150" y="213.3"/>
<use href="#k" x="2148" y="299.5"/>
<use href="#k" x="2023.6" y="227.2"/>
<use href="#g" x="2006.5" y="233"/>
<use href="#k" x="2075" y="176.4"/>
<use href="#p" x="3229.8" y="156.9"/>
<use href="#k" x="2816.7" y="299.8"/>
<use href="#g" x="2988.3" y="319.2"/>
<use href="#g" x="2264.7" y="237.3"/>
<use href="#p" x="2751.4" y="176.5"/>
<use href="#g" x="2373.3" y="228"/>
<use href="#k" x="1743.1" y="182.4"/>
<use href="#p" x="1320.3" y="153.9"/>
<use href="#k" x="1844.1" y="259.7"/>
<use href="#k" x="1560.1" y="252.9"/>
<use href="#k" x="2040" y="162"/>
<use href="#k" x="3088.7" y="154.2"/>
<use href="#k" x="2054.6" y="296"/>
<use href="#k" x="2176.3" y="294.6"/>
<use href="#p" x="1817.4" y="228.7"/>
<use href="#k" x="2054.1" y="206.5"/>
<use href="#p" x="759.3" y="153.9"/>
<use href="#k" x="2154.9" y="174.9"/>
<use href="#p" x="2635.6" y="195"/>
<use href="#p" x="2205.4" y="204.9"/>
<use href="#g" x="1911.2" y="256.3"/>
<use href="#p" x="1844.2" y="154.3"/>
<use href="#g" x="2085.2" y="284.7"/>
<use href="#k" x="2127.4" y="164.9"/>
<use href="#g" x="2795.3" y="217.5"/>
<use href="#k" x="2751.3" y="154"/>
<use href="#k" x="1677.6" y="157.3"/>
<use href="#k" x="2012.3" y="154.2"/>
<use href="#p" x="2172.5" y="218.9"/>
<use href="#k" x="2354.5" y="223.2"/>
<use href="#g" x="1714.9" y="205"/>
<use href="#g" x="2412.4" y="207.7"/>
<use href="#g" x="2354.6" y="206.4"/>
<use href="#g" x="2115.6" y="305"/>
<use href="#k" x="2881.5" y="191.3"/>
<use href="#k" x="2030.8" y="181.2"/>
<use href="#p" x="2169.6" y="371.9"/>
<use href="#p" x="2960.6" y="154.2"/>
<use href="#k" x="1945.4" y="188.5"/>
<use href="#k" x="2022" y="247.8"/>
<use href="#g" x="2071.5" y="153.9"/>
<use href="#g" x="2543.6" y="171.7"/>
<use href="#k" x="2075.5" y="161.6"/>
<use href="#k" x="2125.2" y="188.3"/>
<use href="#k" x="2892.8" y="155.3"/>
<use href="#g" x="2054.8" y="261.6"/>
<use href="#k" x="2019.1" y="216.2"/>
<use href="#p" x="1122.3" y="174.6"/>
<use href="#k" x="2117.3" y="183.7"/>
<use href="#k" x="1889.1" y="162.3"/>
<use href="#g" x="2238.5" y="212"/>
<use href="#k" x="2180.7" y="184"/>
<use href="#k" x="2155.6" y="273"/>
<use href="#g" x="2171.3" y="154.3"/>
<use href="#k" x="2095.9" y="209.3"/>
<use href="#k" x="1987.7" y="169.6"/>
<use href="#k" x="1726.3" y="201.8"/>
<use href="#k" x="2055.5" y="217.1"/>
<use href="#k" x="1675.3" y="155.1"/>
<use href="#k" x="1780.6" y="187.6"/>
<use href="#g" x="2385.6" y="161.4"/>
<use href="#g" x="2327.4" y="181.7"/>
<use href="#p" x="1344.6" y="153.8"/>
<use href="#k" x="1650.6" y="205.6"/>
<use href="#k" x="2042.5" y="195.3"/>
<use href="#g" x="2082.7" y="319.9"/>
<use href="#k" x="2212.7" y="199.8"/>
<use href="#p" x="934.4" y="154.5"/>
<use href="#g" x="2588.8" y="208.6"/>
<use href="#g" x="2031.8" y="290.3"/>
<use href="#k" x="1716.7" y="194.9"/>
<use href="#p" x="2438" y="173.3"/>
<use href="#k" x="1759" y="214.5"/>
<use href="#g" x="2237.2" y="215.5"/>
<use href="#g" x="2396.5" y="190"/>
<use href="#k" x="2105.5" y="181.3"/>
<use href="#p" x="3007.9" y="154.4"/>
<use href="#p" x="2588" y="249.5"/>
<use href="#g" x="2130" y="240.2"/>
<use href="#g" x="1215.4" y="153.7"/>
<use href="#p" x="2192.5" y="154.2"/>
<use href="#k" x="2032.1" y="163.7"/>
<use href="#g" x="1354.3" y="278.4"/>
<use href="#g" x="1580.4" y="203.1"/>
<use href="#g" x="1483.5" y="172.9"/>
<use href="#k" x="2446.2" y="159.9"/>
<use href="#g" x="1136.3" y="154.3"/>
<use href="#k" x="2211.8" y="170.5"/>
<use href="#g" x="1511.3" y="213"/>
<use href="#k" x="2381.6" y="159.4"/>
<use href="#g" x="2001.9" y="333.8"/>
<use href="#g" x="1877.7" y="153.5"/>
<use href="#p" x="1131.3" y="153.8"/>
<use href="#k" x="2606.1" y="210.5"/>
<use href="#k" x="2829.7" y="184.7"/>
<use href="#k" x="2273.5" y="182.7"/>
<use href="#g" x="2114.7" y="180.6"/>
<use href="#g" x="1960.6" y="264.7"/>
<use href="#g" x="1153.6" y="199.1"/>
<use href="#k" x="2038.4" y="190.6"/>
<use href="#g" x="1821.7" y="216.8"/>
<use href="#g" x="1599.8" y="189.9"/>
<use href="#k" x="1881.6" y="196.5"/>
<use href="#k" x="1998.2" y="160.6"/>
<use href="#p" x="2573.2" y="168.9"/>
<use href="#k" x="1880.7" y="220.3"/>
<use href="#k" x="2052.2" y="173.5"/>
<use href="#k" x="1595.9" y="221.6"/>
<use href="#k" x="2446.5" y="244.9"/>
<use href="#p" x="2783.1" y="186.8"/>
<use href="#p" x="1780.3" y="171.4"/>
<use href="#p" x="2869.3" y="400.8"/>
<use href="#k" x="2178" y="165.5"/>
<use href="#g" x="2642.6" y="169.6"/>
<use href="#k" x="2743.5" y="273.8"/>
<use href="#k" x="2431.9" y="183"/>
<use href="#k" x="1927.9" y="177.1"/>
<use href="#p" x="1221" y="218.8"/>
<use href="#p" x="1979.6" y="260.5"/>
<use href="#p" x="2231.4" y="203.9"/>
<use href="#p" x="2773.6" y="220.9"/>
<use href="#k" x="1987.9" y="169.3"/>
<use href="#p" x="2843.9" y="154.9"/>
<use href="#p" x="2431.1" y="181"/>
<use href="#k" x="2033.9" y="173.6"/>
<use href="#k" x="2862" y="267.2"/>
<use href="#p" x="1219.4" y="154.1"/>
<use href="#g" x="2064.5" y="247.3"/>
<use href="#k" x="2478.2" y="213.9"/>
<use href="#k" x="2895.1" y="242.1"/>
<use href="#p" x="1746" y="226.1"/>
<use href="#k" x="1765.4" y="175.5"/>
<use href="#g" x="2272.8" y="219.1"/>
<use href="#k" x="2007.2" y="159.1"/>
<use href="#k" x="2410.5" y="308.5"/>
<use href="#k" x="2036.9" y="217.9"/>
<use href="#k" x="2174.5" y="161.1"/>
<use href="#k" x="2053.1" y="189.3"/>
<use href="#k" x="2480.4" y="175.5"/>
<use href="#k" x="2008.1" y="176.5"/>
<use href="#k" x="2035.2" y="226.6"/>
<use href="#g" x="1610.2" y="243.2"/>
<use href="#p" x="2291.5" y="153.8"/>
<use href="#k" x="2001.9" y="156.8"/>
<use href="#k" x="1797.9" y="157.2"/>
<use href="#p" x="2047.8" y="245"/>
<use href="#k" x="2306.4" y="162.5"/>
<use href="#p" x="800.8" y="153.8"/>
<use href="#p" x="1092" y="153.5"/>
<use href="#p" x="933.5" y="258"/>
<use href="#k" x="2049" y="221.5"/>
<use href="#k" x="2064.9" y="188.8"/>
<use href="#g" x="2010.6" y="276.4"/>
<use href="#g" x="2372.3" y="235.6"/>
<use href="#p" x="3086.5" y="153.8"/>
<use href="#g" x="2721.6" y="214.6"/>
<use href="#g" x="2015.9" y="272"/>
<use href="#g" x="1856.8" y="233"/>
<use href="#k" x="2112.8" y="162.5"/>
<use href="#k" x="2062.7" y="194.9"/>
<use href="#k" x="2227.4" y="155.3"/>
<use href="#g" x="2125.1" y="246.7"/>
<use href="#k" x="1695.2" y="179.3"/>
<use href="#g" x="2375.2" y="172.6"/>
<use href="#k" x="2023.3" y="190.7"/>
<use href="#k" x="1674.4" y="162.4"/>
<use href="#k" x="2013.8" y="210.5"/>
<use href="#k" x="1825.2" y="200.4"/>
<use href="#k" x="2079.8" y="211.7"/>
<use href="#k" x="2374.1" y="171"/>
<use href="#k" x="1958.7" y="253.3"/>
<use href="#k" x="2039.7" y="157.4"/>
<use href="#p" x="2252.9" y="285.2"/>
<use href="#m" x="3325" y="154.2"/>
<use href="#k" x="1693.9" y="178.4"/>
<use href="#g" x="2718.3" y="220.7"/>
<use href="#k" x="2861.3" y="206.2"/>
<use href="#k" x="1898.6" y="188.4"/>
<use href="#k" x="2385.5" y="156"/>
<use href="#k" x="1894.5" y="184.9"/>
<use href="#k" x="3042.4" y="153.5"/>
<use href="#g" x="2815.3" y="235.2"/>
<use href="#k" x="2039.2" y="202.6"/>
<use href="#g" x="2003.4" y="266.9"/>
<use href="#p" x="2605.4" y="173"/>
<use href="#k" x="2190.6" y="183.9"/>
<use href="#g" x="2189.8" y="190.6"/>
<use href="#g" x="2241.6" y="234.8"/>
<use href="#g" x="2756.9" y="194.4"/>
<use href="#k" x="1986.7" y="234.8"/>
<use href="#k" x="2230.6" y="189.6"/>
<use href="#k" x="2065.8" y="294.2"/>
<use href="#k" x="1757.9" y="185"/>
<use href="#g" x="2173.4" y="183.1"/>
<use href="#k" x="2545.5" y="214.2"/>
<use href="#k" x="1744.9" y="214"/>
<use href="#k" x="2049.9" y="191.2"/>
<use href="#k" x="1989.6" y="173.4"/>
<use href="#g" x="2124.9" y="259"/>
<use href="#k" x="2881.3" y="292"/>
<use href="#k" x="1842.2" y="210.9"/>
<use href="#g" x="1557.7" y="153.6"/>
<use href="#k" x="2863.7" y="279.1"/>
<use href="#p" x="1758.6" y="154.2"/>
<use href="#p" x="1461.8" y="205.2"/>
<use href="#g" x="2812.6" y="185.9"/>
<use href="#g" x="2701.5" y="154.9"/>
<use href="#k" x="1910.4" y="254.2"/>
<use href="#p" x="2112.2" y="186"/>
<use href="#p" x="2877.9" y="154.2"/>
<use href="#k" x="2036.9" y="188.6"/>
<use href="#g" x="2432.6" y="270.9"/>
<use href="#k" x="1665.9" y="222.9"/>
<use href="#k" x="2245.8" y="196.8"/>
<use href="#g" x="2088.6" y="204.2"/>
<use href="#k" x="2079.8" y="206.1"/>
<use href="#k" x="1915.9" y="184.4"/>
<use href="#k" x="2305" y="188.5"/>
<use href="#p" x="879.1" y="191.6"/>
<use href="#p" x="2117.9" y="172.7"/>
<use href="#k" x="2017.5" y="161.8"/>
<use href="#p" x="1994" y="153.6"/>
<use href="#g" x="2054.3" y="232.1"/>
<use href="#p" x="1740.3" y="154.1"/>
<use href="#g" x="1269.9" y="214.3"/>
<use href="#g" x="2490.1" y="196.6"/>
<use href="#g" x="1655.3" y="400.8"/>
<use href="#g" x="2310.2" y="228.8"/>
<use href="#g" x="2265" y="154.1"/>
<use href="#k" x="1766.7" y="167.7"/>
<use href="#k" x="2526.3" y="199.5"/>
<use href="#k" x="3103.3" y="179.6"/>
<use href="#g" x="1942.1" y="154.1"/>
<use href="#k" x="2048.1" y="205.8"/>
<use href="#k" x="2033.2" y="219.6"/>
<use href="#k" x="2407.1" y="174.7"/>
<use href="#k" x="2204.1" y="153.9"/>
<use href="#g" x="2103.1" y="268.2"/>
<use href="#p" x="1573.7" y="227.3"/>
<use href="#k" x="2209.4" y="165.9"/>
<use href="#k" x="2024.2" y="204.2"/>
<use href="#k" x="2158.7" y="300.5"/>
<use href="#g" x="1118.9" y="178"/>
<use href="#g" x="2826.7" y="259.4"/>
<use href="#k" x="2836.1" y="310.6"/>
<use href="#g" x="1619" y="204.3"/>
<use href="#p" x="2751.3" y="154"/>
<use href="#k" x="2022.9" y="299"/>
<use href="#g" x="2246.8" y="216.1"/>
<use href="#k" x="2158.6" y="156"/>
<use href="#k" x="1995.2" y="206.1"/>
<use href="#g" x="2143" y="154.3"/>
<use href="#k" x="1669.8" y="222.1"/>
<use href="#p" x="2878.3" y="161.8"/>
<use href="#k" x="2843.8" y="258.2"/>
<use href="#k" x="1703.7" y="177.6"/>
<use href="#k" x="2904.5" y="168.6"/>
<use href="#k" x="2493" y="154.6"/>
<use href="#g" x="1976.6" y="236.2"/>
<use href="#k" x="2056.2" y="170.7"/>
<use href="#g" x="2466" y="178.7"/>
<use href="#k" x="2395" y="155.2"/>
<use href="#k" x="2140" y="316.2"/>
<use href="#g" x="1695.7" y="163.2"/>
<use href="#k" x="1827.7" y="166.8"/>
<use href="#p" x="1849.8" y="155.3"/>
<use href="#g" x="1859.8" y="178"/>
<use href="#k" x="1992" y="159"/>
<use href="#k" x="1790.5" y="153.6"/>
<use href="#k" x="2187.5" y="165.7"/>
<use href="#k" x="2003.2" y="190.2"/>
<use href="#p" x="1828.8" y="268.2"/>
<use href="#k" x="3097.1" y="167.8"/>
<use href="#k" x="2083.9" y="166.4"/>
<use href="#g" x="2418.9" y="159.1"/>
<use href="#g" x="2433.2" y="216.4"/>
<use href="#m" x="3318.2" y="154.2"/>
<use href="#k" x="2010.2" y="237.6"/>
<use href="#k" x="2032.5" y="198"/>
<use href="#g" x="2840.1" y="180.9"/>
<use href="#g" x="1991.9" y="284.7"/>
<use href="#g" x="2527.5" y="172.8"/>
<use href="#k" x="2452.1" y="225.5"/>
<use href="#k" x="1687.5" y="172.1"/>
<use href="#p" x="955.8" y="153.8"/>
<use href="#k" x="2078.5" y="174.5"/>
<use href="#k" x="1933.2" y="262.5"/>
<use href="#p" x="1412.1" y="254.6"/>
<use href="#p" x="2775.7" y="456.3"/>
<use href="#k" x="2290.8" y="168.4"/>
<use href="#k" x="2014.4" y="204.8"/>
<use href="#g" x="1971.4" y="267"/>
<use href="#k" x="2067.8" y="180"/>
<use href="#g" x="2804.8" y="219.8"/>
<use href="#p" x="2263.2" y="204.9"/>
<use href="#k" x="2016.3" y="289.3"/>
<use href="#g" x="1196.2" y="154.3"/>
<use href="#g" x="2803.2" y="174.3"/>
<use href="#p" x="3082.4" y="153.6"/>
<use href="#p" x="2645.8" y="303.9"/>
<use href="#p" x="2787.3" y="205.5"/>
<use href="#p" x="2859.9" y="281.3"/>
<use href="#p" x="938.6" y="185.5"/>
<use href="#k" x="2010.4" y="218.4"/>
<use href="#p" x="2298.8" y="187.5"/>
<use href="#k" x="2056.1" y="231.1"/>
<use href="#p" x="1476.7" y="232.4"/>
<use href="#g" x="1677.1" y="216.3"/>
<use href="#k" x="2091.7" y="162"/>
<use href="#g" x="2457" y="167.8"/>
<use href="#m" x="2886.3" y="312.4"/>
<use href="#k" x="2004.6" y="186.7"/>
<use href="#p" x="1993.1" y="297"/>
<use href="#g" x="1743.8" y="153.7"/>
<use href="#g" x="2438.2" y="154.5"/>
<use href="#k" x="1502.2" y="252.9"/>
<use href="#k" x="2485.9" y="227.5"/>
<use href="#k" x="1931.2" y="268.8"/>
<use href="#k" x="1762.8" y="169.9"/>
<use href="#p" x="3042" y="153.6"/>
<use href="#k" x="2124.2" y="207.3"/>
<use href="#k" x="2147" y="158.6"/>
<use href="#k" x="2066.5" y="162.2"/>
<use href="#k" x="1698.4" y="154.1"/>
<use href="#k" x="2177.6" y="169.9"/>
<use href="#k" x="2370" y="198"/>
<use href="#k" x="2135.4" y="177"/>
<use href="#k" x="1638.6" y="221.4"/>
<use href="#k" x="1782.3" y="216.8"/>
<use href="#k" x="2044.2" y="241.9"/>
<use href="#g" x="2927.1" y="438.2"/>
<use href="#k" x="1833.6" y="195.4"/>
<use href="#k" x="1739.9" y="228.3"/>
<use href="#k" x="1685.4" y="153.6"/>
<use href="#k" x="2064.3" y="163.5"/>
<use href="#g" x="1838" y="219.5"/>
<use href="#g" x="2072.7" y="300.5"/>
<use href="#g" x="1916.2" y="197.7"/>
<use href="#k" x="2256.8" y="239.9"/>
<use href="#k" x="2027.9" y="193.2"/>
<use href="#k" x="2042" y="216.5"/>
<use href="#k" x="2782.5" y="288.6"/>
<use href="#g" x="2812" y="210.1"/>
<use href="#g" x="2101.8" y="208"/>
<use href="#p" x="1907" y="175.9"/>
<use href="#g" x="2088.3" y="154.1"/>
<use href="#g" x="1242" y="246.1"/>
<use href="#g" x="2373.7" y="221.8"/>
<use href="#k" x="1752.2" y="254.6"/>
<use href="#p" x="2930.5" y="241"/>
<use href="#k" x="2213.8" y="192.9"/>
<use href="#p" x="2804.4" y="154"/>
<use href="#k" x="2057.8" y="195.4"/>
<use href="#p" x="2102.5" y="153.6"/>
<use href="#p" x="685.7" y="154.5"/>
<use href="#k" x="2053" y="177.9"/>
<use href="#g" x="2908.4" y="242.7"/>
<use href="#p" x="2018.2" y="472.9"/>
<use href="#k" x="1996.4" y="164.3"/>
<use href="#k" x="2186" y="162.8"/>
<use href="#p" x="2928.8" y="280.1"/>
<use href="#k" x="2802.3" y="176.7"/>
<use href="#k" x="2048.5" y="191.9"/>
<use href="#k" x="2885.2" y="240.1"/>
<use href="#p" x="2135" y="184.1"/>
<use href="#p" x="2832.8" y="154.1"/>
<use href="#m" x="3284.2" y="154.2"/>
<use href="#k" x="2536.7" y="262.7"/>
<use href="#p" x="2037.7" y="271.6"/>
<use href="#g" x="1048.5" y="153.8"/>
<use href="#k" x="2053.2" y="190.6"/>
<use href="#g" x="2126.7" y="303.3"/>
<use href="#g" x="2201.2" y="211.5"/>
<use href="#k" x="2414.9" y="248.1"/>
<use href="#p" x="2009.6" y="155.4"/>
<use href="#p" x="1953.7" y="268.7"/>
<use href="#g" x="1576.2" y="214.6"/>
<use href="#k" x="2824.3" y="201"/>
<use href="#k" x="2019.5" y="178"/>
<use href="#g" x="2527.5" y="153.7"/>
<use href="#k" x="2013.6" y="174.2"/>
<use href="#g" x="2740.4" y="168.5"/>
<use href="#k" x="2070.2" y="196.6"/>
<use href="#p" x="3047.4" y="153.5"/>
<use href="#k" x="1972.9" y="213.5"/>
<use href="#p" x="2438.4" y="197.4"/>
<use href="#g" x="1836.9" y="154.5"/>
<use href="#p" x="1231" y="154.7"/>
<use href="#k" x="2050.4" y="159.9"/>
<use href="#k" x="1983.3" y="196.6"/>
<use href="#g" x="1284.6" y="213.7"/>
<use href="#k" x="2074.2" y="224.3"/>
<use href="#k" x="1958.1" y="182.9"/>
<use href="#p" x="3017.4" y="153.5"/>
<use href="#p" x="1794" y="154.4"/>
<use href="#k" x="1788" y="312.4"/>
<use href="#p" x="1198.8" y="154.7"/>
<use href="#k" x="2043" y="197"/>
<use href="#k" x="2364" y="177.1"/>
<use href="#g" x="2055.6" y="288.3"/>
<use href="#k" x="1818.9" y="232.2"/>
<use href="#g" x="2149.6" y="175.3"/>
<use href="#k" x="2195.4" y="196.8"/>
<use href="#k" x="2029.5" y="162.2"/>
<use href="#g" x="2899.9" y="378.7"/>
<use href="#p" x="2717.2" y="268.2"/>
<use href="#m" x="3136.3" y="154.2"/>
<use href="#p" x="914.3" y="153.5"/>
<use href="#g" x="2619.6" y="432.1"/>
<use href="#k" x="2341" y="212.6"/>
<use href="#k" x="1935" y="164.6"/>
<use href="#k" x="2053.6" y="191.6"/>
<use href="#k" x="2528.4" y="361.7"/>
<use href="#k" x="1707.9" y="154.4"/>
<use href="#k" x="2036.3" y="191.1"/>
<use href="#k" x="2049" y="184.1"/>
<use href="#k" x="2797.5" y="155.1"/>
<use href="#k" x="1862.9" y="165.3"/>
<use href="#k" x="2751.3" y="154.6"/>
<use href="#k" x="2046.1" y="232.4"/>
<use href="#g" x="2681.2" y="154.2"/>
<use href="#k" x="2468.1" y="167.2"/>
<use href="#g" x="2008.6" y="236.1"/>
<use href="#k" x="2079.6" y="191.1"/>
<use href="#k" x="2024.4" y="154.5"/>
<use href="#k" x="2043.7" y="221.8"/>
<use href="#p" x="1900.2" y="343"/>
<use href="#g" x="1572" y="169.5"/>
<use href="#g" x="2292.4" y="166"/>
<use href="#g" x="1505.6" y="166.1"/>
<use href="#k" x="1830.5" y="345.7"/>
<use href="#g" x="2047.8" y="326.1"/>
<use href="#p" x="1877.9" y="241.9"/>
<use href="#k" x="1919.6" y="154.2"/>
<use href="#g" x="2435.6" y="205.9"/>
<use href="#p" x="2377.8" y="154.4"/>
<use href="#k" x="2894.2" y="298.7"/>
<use href="#m" x="3345.4" y="153.5"/>
<use href="#k" x="2188.9" y="171.7"/>
<use href="#g" x="2740.7" y="161.2"/>
<use href="#g" x="2797.3" y="170"/>
<use href="#k" x="2790.9" y="155"/>
<use href="#p" x="3115.6" y="154"/>
<use href="#k" x="1891" y="178.1"/>
<use href="#g" x="1713.8" y="201.8"/>
<use href="#p" x="2305.7" y="174.3"/>
<use href="#g" x="2079.5" y="303.3"/>
<use href="#k" x="2000" y="193.2"/>
<use href="#p" x="2339.7" y="218.3"/>
<use href="#k" x="2090.6" y="153.8"/>
<use href="#k" x="2050.4" y="203.7"/>
<use href="#k" x="2029.8" y="204.8"/>
<use href="#p" x="2843.1" y="153.7"/>
<use href="#g" x="1264.8" y="153.6"/>
<use href="#k" x="2054.2" y="340.9"/>
<use href="#k" x="2008.5" y="189.6"/>
<use href="#k" x="2018" y="254.4"/>
<use href="#g" x="2599.9" y="331.1"/>
<use href="#k" x="2081.1" y="171.5"/>
<use href="#k" x="2011.9" y="185.4"/>
<use href="#k" x="2333.8" y="153.5"/>
<use href="#p" x="1353.6" y="238.6"/>
<use href="#k" x="2433.9" y="182"/>
<use href="#g" x="2190.3" y="164.7"/>
<use href="#g" x="2300.1" y="213.2"/>
<use href="#k" x="1835.6" y="193.3"/>
<use href="#p" x="1967.6" y="221.3"/>
<use href="#k" x="2943.7" y="194.8"/>
<use href="#k" x="2892.6" y="165.3"/>
<use href="#k" x="2140.3" y="178.3"/>
<use href="#k" x="2197.1" y="178.9"/>
<use href="#g" x="2356.7" y="251.2"/>
<use href="#k" x="1963.5" y="249.1"/>
<use href="#k" x="2030.4" y="220.4"/>
<use href="#k" x="1763" y="155.5"/>
<use href="#g" x="2836.9" y="363.4"/>
<use href="#k" x="2092" y="156.3"/>
<use href="#k" x="2208.7" y="212.1"/>
<use href="#g" x="2691" y="382.1"/>
<use href="#k" x="1985.4" y="208.1"/>
<use href="#k" x="2001" y="162.9"/>
<use href="#k" x="2123.6" y="216.3"/>
<use href="#k" x="2989.2" y="167.6"/>
<use href="#k" x="2125.9" y="252.6"/>
<use href="#p" x="2631.9" y="205.8"/>
<use href="#g" x="2208.7" y="286.9"/>
<use href="#p" x="2761" y="176.8"/>
<use href="#p" x="3103.9" y="153.9"/>
<use href="#k" x="1988.7" y="230"/>
<use href="#k" x="2018.9" y="213.9"/>
<use href="#g" x="2280.4" y="160.9"/>
<use href="#k" x="2003.1" y="174.9"/>
<use href="#k" x="2028.8" y="190.8"/>
<use href="#k" x="2379.5" y="192.2"/>
<use href="#p" x="3054.2" y="153.7"/>
<use href="#g" x="2835.4" y="174.7"/>
<use href="#p" x="1719" y="209.9"/>
<use href="#k" x="2267.4" y="153.7"/>
<use href="#k" x="1817.2" y="155.1"/>
<use href="#k" x="2060.5" y="218.4"/>
<use href="#p" x="3107" y="153.6"/>
<use href="#k" x="2104.5" y="171.4"/>
<use href="#p" x="2229.1" y="343"/>
<use href="#k" x="2089" y="154.7"/>
<use href="#g" x="2556.6" y="156.3"/>
<use href="#p" x="2252.1" y="222.3"/>
<use href="#k" x="1986.4" y="202.5"/>
<use href="#p" x="2080.3" y="154.3"/>
<use href="#g" x="2849.6" y="183.8"/>
<use href="#k" x="2021.5" y="157.2"/>
<use href="#g" x="1334.9" y="176.3"/>
<use href="#k" x="2172.5" y="292.8"/>
<use href="#g" x="1934.6" y="175.2"/>
<use href="#g" x="2847.3" y="197.8"/>
<use href="#p" x="2666.2" y="153.9"/>
<use href="#k" x="2034.8" y="233.8"/>
<use href="#k" x="2000" y="179.8"/>
<use href="#p" x="850.2" y="220.5"/>
<use href="#p" x="1413.9" y="154"/>
<use href="#k" x="2065.8" y="163.3"/>
<use href="#g" x="1672.5" y="173.7"/>
<use href="#k" x="2464.6" y="157.2"/>
<use href="#g" x="2275.1" y="220.8"/>
<use href="#p" x="1069.4" y="153.7"/>
<use href="#k" x="2007.8" y="179.3"/>
<use href="#k" x="1988.9" y="178.9"/>
<use href="#k" x="1797.4" y="160.4"/>
<use href="#k" x="2024.7" y="195.3"/>
<use href="#g" x="1568.6" y="201.8"/>
<use href="#k" x="2536.4" y="272.4"/>
<use href="#k" x="2188.2" y="291.5"/>
<use href="#k" x="1885.1" y="165.6"/>
<use href="#k" x="2446.2" y="192.8"/>
<use href="#p" x="887.6" y="244.4"/>
<use href="#k" x="1881.7" y="167.8"/>
<use href="#k" x="2205.5" y="174.3"/>
<use href="#g" x="2504" y="189.5"/>
<use href="#k" x="2110.7" y="157.1"/>
<use href="#k" x="2173.8" y="287.3"/>
<use href="#k" x="1924.9" y="228"/>
<use href="#k" x="1958.7" y="227.5"/>
<use href="#g" x="2358.7" y="311.8"/>
<use href="#g" x="2246.4" y="217.6"/>
<use href="#g" x="1909.7" y="175"/>
<use href="#g" x="2168" y="194.6"/>
<use href="#k" x="1667.5" y="160.9"/>
<use href="#k" x="2187.1" y="163.4"/>
<use href="#m" x="460.7" y="153.5"/>
<use href="#p" x="1989.7" y="219.9"/>
<use href="#k" x="2342.5" y="166.3"/>
<use href="#p" x="1847.4" y="184.2"/>
<use href="#k" x="2070.9" y="159.2"/>
<use href="#p" x="741.3" y="153.8"/>
<use href="#p" x="2416.6" y="204.8"/>
<use href="#k" x="2055.3" y="180.5"/>
<use href="#k" x="2944.3" y="180.9"/>
<use href="#k" x="1968.2" y="174.8"/>
<use href="#g" x="1715.8" y="213.2"/>
<use href="#p" x="1371.3" y="195"/>
<use href="#p" x="2428.3" y="189.5"/>
<use href="#k" x="1754.2" y="162"/>
<use href="#k" x="2036.3" y="300.7"/>
<use href="#g" x="2174.8" y="204.4"/>
<use href="#k" x="2050.9" y="167.9"/>
<use href="#k" x="1962" y="153.7"/>
<use href="#k" x="2076.8" y="184.4"/>
<use href="#p" x="2369.2" y="208.9"/>
<use href="#k" x="2820.6" y="219"/>
<use href="#g" x="2453.7" y="219.9"/>
<use href="#k" x="1995.5" y="157.9"/>
<use href="#p" x="2807.2" y="221.6"/>
<use href="#k" x="2050.7" y="193.6"/>
<use href="#g" x="1585.6" y="247.8"/>
<use href="#g" x="1189.2" y="154.6"/>
<use href="#k" x="2036" y="233.6"/>
<use href="#g" x="1961.4" y="264.8"/>
<use href="#k" x="2163.6" y="187.4"/>
<use href="#m" x="477.8" y="154.9"/>
<use href="#g" x="2140.8" y="214.1"/>
<use href="#k" x="2039.7" y="209.3"/>
<use href="#p" x="694.3" y="153.9"/>
<use href="#g" x="1876.2" y="215.5"/>
<use href="#k" x="2026.2" y="174.3"/>
<use href="#k" x="2356" y="178.3"/>
<use href="#k" x="2173.2" y="217.1"/>
<use href="#k" x="2343.3" y="156"/>
<use href="#g" x="1965.5" y="280.1"/>
<use href="#k" x="2826.9" y="262.4"/>
<use href="#k" x="2786.6" y="168.2"/>
<use href="#p" x="1830.5" y="401.5"/>
<use href="#g" x="2469.9" y="297.8"/>
<use href="#k" x="2469.8" y="212.3"/>
<use href="#p" x="1570.3" y="416.1"/>
<use href="#k" x="2031" y="168.5"/>
<use href="#k" x="2880.2" y="185.5"/>
<use href="#g" x="2069.3" y="344.7"/>
<use href="#p" x="1393.2" y="153.9"/>
<use href="#g" x="2140.3" y="197.9"/>
<use href="#g" x="1217.3" y="156"/>
<use href="#k" x="1742.9" y="158.9"/>
<use href="#p" x="2809.8" y="330.3"/>
<use href="#p" x="2273.1" y="200.3"/>
<use href="#k" x="2742.5" y="176.4"/>
<use href="#p" x="2405.9" y="193.2"/>
<use href="#k" x="2058" y="231.9"/>
<use href="#k" x="1988.1" y="260.5"/>
<use href="#k" x="2885.1" y="327.6"/>
<use href="#k" x="2002.4" y="154.2"/>
<use href="#k" x="2176.5" y="296.2"/>
<use href="#k" x="2093.2" y="192.1"/>
<use href="#k" x="2394.9" y="187.8"/>
<use href="#k" x="2837.8" y="267"/>
<use href="#g" x="2738.5" y="198.4"/>
<use href="#k" x="1992.7" y="209.2"/>
<use href="#k" x="2998.5" y="193.3"/>
<use href="#g" x="2180.2" y="173"/>
<use href="#k" x="1938.7" y="204"/>
<use href="#k" x="2047.6" y="193.6"/>
<use href="#k" x="2195.8" y="169.3"/>
<use href="#k" x="2008.5" y="157.2"/>
<use href="#g" x="2386.8" y="268.5"/>
<use href="#k" x="2377.4" y="213.8"/>
<use href="#k" x="1703.3" y="155.3"/>
<use href="#p" x="2482.5" y="244.4"/>
<use href="#g" x="2052.2" y="300.5"/>
<use href="#g" x="2099.9" y="211"/>
<use href="#k" x="2086.2" y="174.4"/>
<use href="#k" x="2098.3" y="162.3"/>
<use href="#k" x="2104.4" y="155.8"/>
<use href="#k" x="2015.9" y="224.7"/>
<use href="#k" x="2041" y="161.9"/>
<use href="#p" x="1828.2" y="207.9"/>
<use href="#p" x="3104.5" y="154.5"/>
<use href="#k" x="2026.9" y="159.9"/>
<use href="#p" x="2769.3" y="233.8"/>
<use href="#k" x="2443.4" y="263"/>
<use href="#g" x="2225.3" y="183.1"/>
<use href="#p" x="2009.1" y="283.4"/>
<use href="#k" x="2102.2" y="240.1"/>
<use href="#g" x="2031.5" y="233.2"/>
<use href="#k" x="2190.6" y="163.3"/>
<use href="#g" x="2524.4" y="192.9"/>
<use href="#g" x="2478.7" y="174.7"/>
<use href="#k" x="2011.2" y="212"/>
<use href="#p" x="2193.4" y="190.6"/>
<use href="#k" x="1995.7" y="229"/>
<use href="#k" x="2229.2" y="155.5"/>
<use href="#g" x="2276.8" y="214.6"/>
<use href="#p" x="2062.8" y="236.5"/>
<use href="#k" x="2854.4" y="193.3"/>
<use href="#g" x="2802.1" y="239.6"/>
<use href="#g" x="2684.8" y="171"/>
<use href="#k" x="2863.2" y="304.1"/>
<use href="#k" x="2249.4" y="155.9"/>
<use href="#k" x="2334.7" y="154.6"/>
<use href="#k" x="2826.9" y="161.6"/>
<use href="#g" x="2414" y="208.9"/>
<use href="#k" x="2125.9" y="169"/>
<use href="#g" x="2821.5" y="234.4"/>
<use href="#g" x="1128.9" y="153.9"/>
<use href="#g" x="2999.2" y="196.7"/>
<use href="#k" x="2006.8" y="162"/>
<use href="#k" x="2788.4" y="199.5"/>
<use href="#g" x="2389.6" y="160.8"/>
<use href="#k" x="2608.9" y="176.1"/>
<use href="#k" x="2113.6" y="172.9"/>
<use href="#k" x="2045.2" y="194.1"/>
<use href="#k" x="2080.3" y="203.5"/>
<use href="#k" x="1896.9" y="173.6"/>
<use href="#k" x="2039.1" y="235.5"/>
<use href="#p" x="2280.2" y="188.8"/>
<use href="#k" x="2204.6" y="182.5"/>
<use href="#p" x="2859" y="174.6"/>
<use href="#g" x="1779.7" y="206.2"/>
<use href="#k" x="1566.8" y="187.8"/>
<use href="#k" x="2053.8" y="259.6"/>
<use href="#k" x="2668.6" y="153.8"/>
<use href="#k" x="2060.5" y="221.6"/>
<use href="#g" x="2893.6" y="161.2"/>
<use href="#p" x="2992.3" y="153.5"/>
<use href="#k" x="2091.9" y="173.5"/>
<use href="#g" x="1023.7" y="179.7"/>
<use href="#k" x="2793.9" y="153.8"/>
<use href="#k" x="2843.3" y="225.7"/>
<use href="#k" x="2032.3" y="154"/>
<use href="#p" x="2312.7" y="229.6"/>
<use href="#g" x="2093.6" y="254.7"/>
<use href="#g" x="2610.1" y="269.9"/>
<use href="#k" x="2052.7" y="163.9"/>
<use href="#k" x="2757.6" y="153.5"/>
<use href="#k" x="2827.1" y="248.9"/>
<use href="#g" x="2087.9" y="305.8"/>
<use href="#g" x="2852" y="181.8"/>
<use href="#g" x="2834.3" y="154.1"/>
<use href="#g" x="2341.7" y="192.3"/>
<use href="#g" x="1998.3" y="259.2"/>
<use href="#g" x="1925.6" y="153.8"/>
<use href="#k" x="1721.6" y="292"/>
<use href="#p" x="1736" y="154.6"/>
<use href="#k" x="2126.9" y="229.8"/>
<use href="#k" x="2041.4" y="207.1"/>
<use href="#g" x="2288.5" y="220.4"/>
<use href="#k" x="2056.6" y="155.4"/>
<use href="#k" x="1706.4" y="213.1"/>
<use href="#g" x="1127.4" y="249.5"/>
<use href="#g" x="2039.1" y="246.2"/>
<use href="#p" x="2302.2" y="205.3"/>
<use href="#k" x="2263" y="216.1"/>
<use href="#k" x="2359.2" y="167.5"/>
<use href="#k" x="2429.6" y="197.4"/>
<use href="#g" x="2706.1" y="156.2"/>
<use href="#p" x="2346.9" y="181.4"/>
<use href="#p" x="2369.3" y="221.3"/>
<use href="#g" x="2859" y="334.5"/>
<use href="#g" x="2888.1" y="162.7"/>
<use href="#k" x="2007.3" y="165"/>
<use href="#g" x="1634.2" y="368.5"/>
<use href="#g" x="2131.9" y="173.5"/>
<use href="#g" x="2765.5" y="165.2"/>
<use href="#k" x="2196.2" y="186"/>
<use href="#k" x="1750.7" y="210.7"/>
<use href="#k" x="2441.4" y="336.8"/>
<use href="#g" x="1857.9" y="240.8"/>
<use href="#p" x="2244.2" y="153.7"/>
<use href="#k" x="2013.7" y="177.2"/>
<use href="#g" x="2336.3" y="324.3"/>
<use href="#k" x="2013.4" y="200.8"/>
<use href="#p" x="2267.3" y="191.1"/>
<use href="#k" x="2395.4" y="213.5"/>
<use href="#p" x="2026.7" y="338.6"/>
<use href="#g" x="2431.7" y="228.8"/>
<use href="#k" x="2727.2" y="156.2"/>
<use href="#k" x="1917.7" y="219.4"/>
<use href="#k" x="2402.2" y="195.8"/>
<use href="#g" x="1895.5" y="254.9"/>
<use href="#k" x="2338.6" y="174.9"/>
<use href="#p" x="2528.8" y="220.2"/>
<use href="#g" x="2671.3" y="188.6"/>
<use href="#k" x="2042.1" y="229.7"/>
<use href="#g" x="2335" y="157"/>
<use href="#k" x="1896.6" y="184.3"/>
<use href="#k" x="2471" y="159"/>
<use href="#k" x="2121.9" y="161.7"/>
<use href="#g" x="2797.7" y="199.9"/>
<use href="#k" x="1881.5" y="183.5"/>
<use href="#g" x="2630.5" y="247.8"/>
<use href="#k" x="1992.6" y="169.3"/>
<use href="#k" x="2020.5" y="174"/>
<use href="#k" x="2133.9" y="187.7"/>
<use href="#k" x="1653.9" y="272.6"/>
<use href="#k" x="2173.8" y="186.4"/>
<use href="#k" x="2195.4" y="163.8"/>
<use href="#k" x="2009.5" y="231.1"/>
<use href="#k" x="2025" y="219.1"/>
<use href="#g" x="2338.5" y="171.9"/>
<use href="#p" x="945.4" y="279"/>
<use href="#g" x="2752.1" y="193.5"/>
<use href="#k" x="2019.8" y="226.5"/>
<use href="#k" x="2419.5" y="225"/>
<use href="#k" x="1998.9" y="301.5"/>
<use href="#g" x="2605.7" y="153.6"/>
<use href="#p" x="1748.4" y="178.2"/>
<use href="#k" x="2021.3" y="185.5"/>
<use href="#k" x="2886.1" y="244.6"/>
<use href="#k" x="2010.3" y="242.7"/>
<use href="#g" x="2328" y="294.2"/>
<use href="#p" x="2028.8" y="236.7"/>
<use href="#k" x="2413.5" y="173.9"/>
<use href="#g" x="2707.3" y="207.9"/>
<use href="#g" x="1808.2" y="193.1"/>
<use href="#k" x="2021.4" y="179.3"/>
<use href="#k" x="2851.4" y="202.6"/>
<use href="#k" x="2855.4" y="154.9"/>
<use href="#k" x="2063.2" y="201.3"/>
<use href="#p" x="1020.5" y="153.6"/>
<use href="#k" x="2104.5" y="171.4"/>
<use href="#p" x="2142.9" y="155.5"/>
<use href="#k" x="2124.8" y="157.6"/>
<use href="#k" x="2960.6" y="165.9"/>
<use href="#k" x="2748.4" y="293"/>
<use href="#k" x="1677.3" y="196.5"/>
<use href="#g" x="2115.4" y="190"/>
<use href="#k" x="2102.8" y="155.2"/>
<use href="#g" x="2912.2" y="153.6"/>
<use href="#k" x="1891.9" y="153.9"/>
<use href="#p" x="1930.3" y="204.4"/>
<use href="#k" x="1764.4" y="203.3"/>
<use href="#k" x="2880" y="153.8"/>
<use href="#k" x="1832.4" y="185.9"/>
<use href="#p" x="3294.4" y="159.3"/>
<use href="#g" x="2360.5" y="196.6"/>
<use href="#k" x="3032.1" y="155.3"/>
<use href="#k" x="2159" y="291.5"/>
<use href="#p" x="2975.1" y="154.4"/>
<use href="#g" x="2730.7" y="209.3"/>
<use href="#k" x="2036.8" y="193.6"/>
<use href="#g" x="2634" y="153.8"/>
<use href="#k" x="2858.2" y="315.2"/>
<use href="#k" x="2135.2" y="167.7"/>
<use href="#k" x="1705.9" y="227.1"/>
<use href="#g" x="2389" y="191.3"/>
<use href="#p" x="2824.1" y="173.6"/>
<use href="#k" x="2172.4" y="162.8"/>
<use href="#k" x="1743.7" y="163"/>
<use href="#k" x="1554.6" y="188.8"/>
<use href="#p" x="648.1" y="153.6"/>
<use href="#k" x="1677.8" y="219.3"/>
<use href="#g" x="2249" y="169.6"/>
<use href="#g" x="1770.6" y="211.4"/>
<use href="#k" x="2509.9" y="187"/>
<use href="#g" x="1939.2" y="261.3"/>
<use href="#k" x="1665.4" y="154.3"/>
<use href="#g" x="2964.5" y="285.2"/>
<use href="#g" x="1931" y="179.4"/>
<use href="#p" x="773.5" y="153.7"/>
<use href="#p" x="2795.4" y="257.6"/>
<use href="#g" x="2425.7" y="169.8"/>
<use href="#k" x="2030.2" y="229.3"/>
<use href="#k" x="2026.4" y="239.7"/>
<use href="#k" x="1926.2" y="153.7"/>
<use href="#k" x="2870.9" y="309.3"/>
<use href="#g" x="1792.3" y="205.1"/>
<use href="#g" x="1579.2" y="206.2"/>
<use href="#k" x="2220.8" y="160.3"/>
<use href="#g" x="2003.3" y="154.3"/>
<use href="#k" x="2490" y="155.1"/>
<use href="#k" x="2054.5" y="180.3"/>
<use href="#p" x="823.9" y="154.6"/>
<use href="#g" x="843.4" y="247.8"/>
<use href="#k" x="1989" y="180.1"/>
<use href="#k" x="1840.5" y="186.1"/>
<use href="#k" x="1864.7" y="155.5"/>
<use href="#k" x="1780.2" y="283.7"/>
<use href="#p" x="2262.9" y="185"/>
<use href="#k" x="2869.5" y="370.2"/>
<use href="#k" x="2106.8" y="165.2"/>
<use href="#p" x="1930.1" y="175.9"/>
<use href="#p" x="2427.1" y="237.6"/>
<use href="#g" x="1928.3" y="250.3"/>
<use href="#k" x="2024.4" y="209.2"/>
<use href="#g" x="2595.6" y="193"/>
<use href="#k" x="2487.6" y="297.7"/>
<use href="#g" x="1660.4" y="343"/>
<use href="#k" x="2095.4" y="173.2"/>
<use href="#k" x="2074.3" y="203.1"/>
<use href="#g" x="2492.7" y="373.6"/>
<use href="#g" x="2691.7" y="414.4"/>
<use href="#k" x="2842.5" y="285.9"/>
<use href="#k" x="2055.6" y="205.1"/>
<use href="#k" x="2050" y="201"/>
<use href="#k" x="2372.6" y="227.9"/>
<use href="#k" x="2468.3" y="209.3"/>
<use href="#g" x="2225" y="228.3"/>
<use href="#p" x="1867.4" y="153.8"/>
<use href="#k" x="2801.9" y="272.8"/>
<use href="#k" x="2443.5" y="320"/>
<use href="#k" x="2250.1" y="176.6"/>
<use href="#g" x="2548.2" y="159.8"/>
<use href="#p" x="2837.1" y="154.8"/>
<use href="#k" x="2348.7" y="157.7"/>
<use href="#g" x="2814.3" y="153.9"/>
<use href="#p" x="1841.4" y="403.2"/>
<use href="#k" x="1728.2" y="154"/>
<use href="#k" x="2022.4" y="243.2"/>
<use href="#k" x="1988.5" y="227.7"/>
<use href="#g" x="2237.5" y="190"/>
<use href="#g" x="2524" y="176.9"/>
<use href="#g" x="2868.7" y="310.7"/>
<use href="#k" x="2437.5" y="269.4"/>
<use href="#g" x="2249.6" y="190.6"/>
<use href="#k" x="2765.7" y="212.3"/>
<use href="#g" x="2739.4" y="153.8"/>
<use href="#k" x="2054" y="175.2"/>
<use href="#k" x="2432.1" y="243.5"/>
<use href="#g" x="2378.9" y="205.5"/>
<use href="#g" x="2141.3" y="302.8"/>
<use href="#g" x="1679.1" y="254.6"/>
<use href="#g" x="2200.7" y="173.2"/>
<use href="#k" x="2029.5" y="199.9"/>
<use href="#g" x="2010.5" y="233.2"/>
<use href="#g" x="2957.7" y="428.7"/>
<use href="#k" x="2212.5" y="205.4"/>
<use href="#k" x="2455.5" y="154.1"/>
<use href="#g" x="2082.4" y="261.4"/>
<use href="#k" x="1745.6" y="187.7"/>
<use href="#k" x="2048.5" y="218.5"/>
<use href="#k" x="2845.9" y="179.6"/>
<use href="#p" x="1425.1" y="154.8"/>
<use href="#g" x="2225.6" y="220.4"/>
<use href="#g" x="2346.7" y="184.8"/>
<use href="#g" x="1582.2" y="212"/>
<use href="#g" x="2048.8" y="314.1"/>
<use href="#g" x="2220.8" y="196.3"/>
<use href="#k" x="2411.2" y="183.2"/>
<use href="#p" x="3089.5" y="153.9"/>
<use href="#k" x="2008.6" y="192.2"/>
<use href="#p" x="2106.9" y="153.9"/>
<use href="#k" x="2004.9" y="163"/>
<use href="#k" x="2855.5" y="199.4"/>
<use href="#k" x="2838.6" y="216.8"/>
<use href="#g" x="2388.8" y="300.1"/>
<use href="#p" x="3005.1" y="154.1"/>
<use href="#k" x="3036.8" y="155"/>
<use href="#k" x="2071.3" y="179.7"/>
<use href="#g" x="2496.2" y="191.5"/>
<use href="#k" x="2772.3" y="292"/>
<use href="#k" x="2035.3" y="239.8"/>
<use href="#k" x="1922.6" y="180.8"/>
<use href="#k" x="1992.2" y="158.7"/>
<use href="#g" x="2117.2" y="252.4"/>
<use href="#p" x="1418.9" y="252.9"/>
<use href="#p" x="2110.8" y="155.6"/>
<use href="#k" x="2431" y="278.5"/>
<use href="#k" x="2129.8" y="168.9"/>
<use href="#k" x="2067.8" y="220.1"/>
<use href="#k" x="1907.3" y="172.8"/>
<use href="#g" x="2214.5" y="282.7"/>
<use href="#g" x="2484.2" y="172.2"/>
<use href="#k" x="2275.6" y="154.9"/>
<use href="#k" x="2175.2" y="347.5"/>
<use href="#g" x="2209.5" y="201.2"/>
<use href="#p" x="986.9" y="277.3"/>
<use href="#k" x="2131.1" y="198.5"/>
<use href="#p" x="386.3" y="154.2"/>
<use href="#g" x="2163.3" y="303.9"/>
<use href="#k" x="1990.6" y="230.6"/>
<use href="#k" x="1999.8" y="211.5"/>
<use href="#k" x="2436.6" y="261.4"/>
<use href="#k" x="3047.1" y="174.3"/>
<use href="#k" x="1877.4" y="160"/>
<use href="#p" x="1283.7" y="154.7"/>
<use href="#g" x="2240.8" y="197.7"/>
<use href="#k" x="2529.8" y="215.3"/>
<use href="#k" x="2231.5" y="153.8"/>
<use href="#k" x="1987.7" y="154.2"/>
<use href="#g" x="1734.6" y="229.5"/>
<use href="#g" x="1652.6" y="154.2"/>
<use href="#k" x="2149.2" y="173.6"/>
<use href="#g" x="1125.7" y="310.7"/>
<use href="#k" x="2082.3" y="164.9"/>
<use href="#k" x="2835.5" y="193.6"/>
<use href="#g" x="2306" y="203.5"/>
<use href="#g" x="2244.2" y="207.5"/>
<use href="#k" x="2288.1" y="215.9"/>
<use href="#p" x="2377.5" y="164.2"/>
<use href="#k" x="2392.2" y="313.1"/>
<use href="#g" x="1891.3" y="171"/>
<use href="#g" x="2489.9" y="215.9"/>
<use href="#g" x="2174.6" y="310.2"/>
<use href="#p" x="731.2" y="155.1"/>
<use href="#k" x="2187.2" y="177.8"/>
<use href="#p" x="1170.6" y="212"/>
<use href="#k" x="2061.2" y="206"/>
<use href="#g" x="2640.7" y="348.1"/>
<use href="#g" x="2910.1" y="300.5"/>
<use href="#k" x="1696.4" y="161.6"/>
<use href="#k" x="2009.4" y="170.4"/>
<use href="#g" x="2303.6" y="178.4"/>
<use href="#k" x="2007.5" y="168.2"/>
<use href="#k" x="2003.6" y="157.8"/>
<use href="#p" x="2841.9" y="169.4"/>
<use href="#g" x="2277.7" y="207.1"/>
<use href="#g" x="1628.9" y="187.3"/>
<use href="#p" x="2268.2" y="248.8"/>
<use href="#g" x="2339.2" y="228.2"/>
<use href="#k" x="1999.3" y="172.5"/>
<use href="#g" x="2952.6" y="370.2"/>
<use href="#k" x="2800.2" y="209.9"/>
<use href="#g" x="1913.2" y="272.3"/>
<use href="#k" x="1801.1" y="207.5"/>
<use href="#k" x="2261.1" y="171.7"/>
<use href="#k" x="2037.1" y="221.1"/>
<use href="#k" x="2863.6" y="352.5"/>
<use href="#p" x="2887.9" y="159.5"/>
<use href="#g" x="889.3" y="350.8"/>
<use href="#g" x="1891.6" y="251.5"/>
<use href="#g" x="2290.3" y="203.7"/>
<use href="#p" x="2434.9" y="477.3"/>
<use href="#g" x="2405.5" y="213.1"/>
<use href="#g" x="2096.4" y="203.2"/>
<use href="#g" x="2332.8" y="203.5"/>
<use href="#k" x="2090.3" y="171.2"/>
<use href="#g" x="2277.5" y="278.9"/>
<use href="#k" x="1851.6" y="163.3"/>
<use href="#k" x="2323" y="191.5"/>
<use href="#g" x="2853.8" y="214.6"/>
<use href="#g" x="1468.2" y="183.1"/>
<use href="#g" x="1879.5" y="227.8"/>
<use href="#k" x="2060.6" y="214.2"/>
<use href="#p" x="2802.4" y="153.8"/>
<use href="#k" x="1941.5" y="189.6"/>
<use href="#k" x="2137.8" y="154.4"/>
<use href="#k" x="1790.4" y="224.2"/>
<use href="#p" x="1627.1" y="165"/>
<use href="#g" x="2741.9" y="188.7"/>
<use href="#p" x="1003.9" y="153.9"/>
<use href="#k" x="1707.7" y="204.4"/>
<use href="#k" x="2050.9" y="171.4"/>
<use href="#g" x="1769.9" y="201.7"/>
<use href="#g" x="1099.9" y="154"/>
<use href="#k" x="2071.2" y="166.5"/>
<use href="#p" x="2287.2" y="154.2"/>
<use href="#k" x="2831" y="206.4"/>
<use href="#p" x="674.7" y="153.7"/>
<use href="#k" x="2873.5" y="168.6"/>
<use href="#g" x="2224.3" y="193.6"/>
<use href="#k" x="2129.8" y="170.8"/>
<use href="#g" x="1934" y="174.5"/>
<use href="#g" x="2392.6" y="195.3"/>
<use href="#k" x="2052.2" y="231.4"/>
<use href="#g" x="1760.4" y="216.8"/>
<use href="#p" x="2839.3" y="221.2"/>
<use href="#g" x="2638.2" y="153.7"/>
<use href="#k" x="2010.2" y="158.5"/>
<use href="#k" x="2047.6" y="169.8"/>
<use href="#g" x="2116.1" y="197.5"/>
<use href="#k" x="2187.2" y="174.3"/>
<use href="#k" x="2089.1" y="166.4"/>
<use href="#p" x="530.5" y="154.2"/>
<use href="#k" x="1869.5" y="226.5"/>
<use href="#g" x="2104.9" y="235.8"/>
<use href="#k" x="2376.8" y="182.7"/>
<use href="#p" x="1138.3" y="244.4"/>
<use href="#k" x="1674.6" y="165.6"/>
<use href="#g" x="1835.4" y="230.1"/>
<use href="#k" x="2155.9" y="296.5"/>
<use href="#g" x="2237.3" y="201.5"/>
<use href="#k" x="2043.2" y="242.2"/>
<use href="#p" x="1655.4" y="168.8"/>
<use href="#k" x="2384.7" y="180.8"/>
<use href="#k" x="1894.1" y="178.8"/>
<use href="#k" x="2429.2" y="201.7"/>
<use href="#p" x="2590.1" y="154.1"/>
<use href="#k" x="2489.9" y="166.9"/>
<use href="#g" x="2399.3" y="164.7"/>
<use href="#k" x="2020.4" y="161.3"/>
<use href="#k" x="2074.6" y="195.5"/>
<use href="#k" x="2436.1" y="187"/>
<use href="#p" x="1017.6" y="154.2"/>
<use href="#p" x="1077.4" y="340.6"/>
<use href="#k" x="2069.4" y="181.5"/>
<use href="#p" x="2386.3" y="173.3"/>
<use href="#k" x="2856.2" y="324.7"/>
<use href="#k" x="2022.7" y="220.7"/>
<use href="#g" x="2383.2" y="156"/>
<use href="#k" x="2009.9" y="189.2"/>
<use href="#p" x="2813.4" y="154"/>
<use href="#k" x="2218.8" y="154.7"/>
<use href="#g" x="1770.3" y="158"/>
<use href="#k" x="2006.3" y="216.6"/>
<use href="#g" x="2857.5" y="160.4"/>
<use href="#g" x="1835.7" y="226.1"/>
<use href="#p" x="2925.4" y="218.8"/>
<use href="#k" x="2101.7" y="325.4"/>
<use href="#g" x="2109.9" y="287.4"/>
<use href="#k" x="2024.8" y="180.9"/>
<use href="#g" x="2171.9" y="270"/>
<use href="#k" x="1804.2" y="234.1"/>
<use href="#p" x="2684.2" y="156"/>
<use href="#p" x="1276.1" y="222.2"/>
<use href="#g" x="2358.3" y="207.6"/>
<use href="#g" x="2190.1" y="232.8"/>
<use href="#g" x="2899.1" y="188.4"/>
<use href="#p" x="1066.6" y="154.3"/>
<use href="#k" x="1975.1" y="249"/>
<use href="#k" x="2848.8" y="196.8"/>
<use href="#k" x="1661.6" y="153.9"/>
<use href="#k" x="2124" y="164"/>
<use href="#k" x="2061.7" y="189.4"/>
<use href="#p" x="2923.7" y="212"/>
<use href="#k" x="2947.8" y="186.2"/>
<use href="#k" x="2470.5" y="195.7"/>
<use href="#k" x="1993.4" y="234.1"/>
<use href="#k" x="2108.5" y="158.1"/>
<use href="#k" x="1716" y="183.2"/>
<use href="#g" x="2469.6" y="190.9"/>
<use href="#p" x="1745.6" y="221.3"/>
<use href="#k" x="2006.1" y="197.4"/>
<use href="#p" x="1961.1" y="409.3"/>
<use href="#g" x="1964.3" y="274.3"/>
<use href="#p" x="2408.9" y="192"/>
<use href="#k" x="2365.9" y="160.4"/>
<use href="#k" x="2282.4" y="163.8"/>
<use href="#k" x="2176" y="155.7"/>
<use href="#g" x="1947.5" y="176.4"/>
<use href="#k" x="1816.6" y="158.5"/>
<use href="#p" x="2076.4" y="316"/>
<use href="#k" x="2790.7" y="189.5"/>
<use href="#k" x="2016" y="234.3"/>
<use href="#k" x="2052.8" y="197.9"/>
<use href="#g" x="2422.8" y="200.4"/>
<use href="#g" x="891.9" y="154"/>
<use href="#p" x="1852.3" y="153.5"/>
<use href="#g" x="2070.1" y="231.1"/>
<use href="#k" x="2056.9" y="156.5"/>
<use href="#p" x="2382.9" y="155"/>
<use href="#g" x="805.3" y="244.4"/>
<use href="#k" x="2057.4" y="188.2"/>
<use href="#k" x="2389.3" y="214.6"/>
<use href="#k" x="2147.3" y="175.2"/>
<use href="#k" x="2881.3" y="241.6"/>
<use href="#g" x="2502.8" y="197.8"/>
<use href="#k" x="2923" y="189.2"/>
<use href="#p" x="2194.1" y="228.3"/>
<use href="#k" x="2757.8" y="173.2"/>
<use href="#k" x="2945.9" y="167"/>
<use href="#g" x="1821.8" y="155.3"/>
<use href="#p" x="1365.7" y="153.7"/>
<use href="#m" x="2157.7" y="471.6"/>
<use href="#k" x="2059.5" y="234.1"/>
<use href="#p" x="736.8" y="153.7"/>
<use href="#g" x="2176.9" y="228.5"/>
<use href="#g" x="1902.5" y="250"/>
<use href="#k" x="1911.5" y="162.4"/>
<use href="#g" x="2059.7" y="251.1"/>
<use href="#p" x="2091.8" y="153.5"/>
<use href="#k" x="2052.9" y="182.2"/>
<use href="#k" x="2080.4" y="158.8"/>
<use href="#g" x="2715.5" y="165.5"/>
<use href="#k" x="2073.4" y="205.2"/>
<use href="#k" x="2470.4" y="196"/>
<use href="#g" x="2149.7" y="296.1"/>
<use href="#g" x="2594.3" y="168.4"/>
<use href="#g" x="2183.3" y="193.6"/>
<use href="#k" x="1984.9" y="183.7"/>
<use href="#p" x="1979.2" y="157.8"/>
<use href="#k" x="2136.6" y="158.6"/>
<use href="#p" x="1278.3" y="153.6"/>
<use href="#k" x="2028.6" y="156.2"/>
<use href="#g" x="2280.2" y="228"/>
<use href="#g" x="2708.4" y="242.3"/>
<use href="#k" x="2048.5" y="155.3"/>
<use href="#p" x="2185.4" y="175.1"/>
<use href="#p" x="850.4" y="153.8"/>
<use href="#g" x="2381.9" y="199.3"/>
<use href="#g" x="1268.7" y="154.3"/>
<use href="#k" x="2484.9" y="290.7"/>
<use href="#g" x="2801.2" y="334.5"/>
<use href="#p" x="2463.8" y="207.5"/>
<use href="#k" x="3036.1" y="155"/>
<use href="#k" x="1715.6" y="181.1"/>
<use href="#k" x="2031.6" y="172.2"/>
<use href="#k" x="2035.1" y="234.1"/>
<use href="#k" x="2072.5" y="207.7"/>
<use href="#k" x="2029.7" y="200.3"/>
<use href="#p" x="905.3" y="387.2"/>
<use href="#k" x="2049" y="214.3"/>
<use href="#g" x="2411" y="177.2"/>
<use href="#k" x="1705.1" y="193"/>
<use href="#k" x="2014.6" y="184.6"/>
<use href="#k" x="2047.1" y="179.9"/>
<use href="#k" x="2020.5" y="186.9"/>
<use href="#g" x="2009.1" y="241.8"/>
<use href="#k" x="2464.3" y="240.9"/>
<use href="#g" x="2365.7" y="158"/>
<use href="#k" x="2028.3" y="213.3"/>
<use href="#k" x="2036.9" y="171.3"/>
<use href="#k" x="2029" y="197.8"/>
<use href="#g" x="1706.6" y="175.6"/>
<use href="#g" x="2875.4" y="170.1"/>
<use href="#k" x="2550.4" y="179"/>
<use href="#g" x="2698.5" y="324.3"/>
<use href="#g" x="1668.6" y="214.2"/>
<use href="#k" x="1996.4" y="173.6"/>
<use href="#k" x="2059.3" y="172.7"/>
<use href="#k" x="1989.5" y="230.9"/>
<use href="#g" x="2133.9" y="324.3"/>
<use href="#g" x="2142.4" y="262.9"/>
<use href="#k" x="1986.8" y="164.6"/>
<use href="#k" x="1914.1" y="246.2"/>
<use href="#k" x="2100.3" y="179.9"/>
<use href="#k" x="2937.3" y="290.3"/>
<use href="#g" x="2253.2" y="225.8"/>
<use href="#p" x="2439.1" y="181.1"/>
<use href="#k" x="2440.7" y="153.5"/>
<use href="#p" x="922.5" y="153.9"/>
<use href="#k" x="2120.8" y="180.4"/>
<use href="#k" x="2014.7" y="214.1"/>
<use href="#k" x="2232.9" y="153.7"/>
<use href="#g" x="2389.1" y="159.3"/>
<use href="#k" x="1838.9" y="245.7"/>
<use href="#k" x="2047.1" y="166.8"/>
<use href="#k" x="2054.2" y="155.2"/>
<use href="#k" x="2103.1" y="157.6"/>
<use href="#g" x="2774.8" y="156.1"/>
<use href="#k" x="2434.2" y="245.7"/>
<use href="#k" x="2881.4" y="267.9"/>
<use href="#g" x="3141.4" y="166.1"/>
<use href="#g" x="2323.2" y="165.8"/>
<use href="#g" x="2139.4" y="312.2"/>
<use href="#m" x="450.5" y="153.5"/>
<use href="#k" x="2491" y="290.3"/>
<use href="#k" x="2893.7" y="266.4"/>
<use href="#p" x="1655.9" y="153.7"/>
<use href="#k" x="2023.2" y="202"/>
<use href="#k" x="2018.7" y="233.3"/>
<use href="#g" x="2128.1" y="153.7"/>
<use href="#k" x="2003.7" y="169.4"/>
<use href="#k" x="1853.6" y="180.3"/>
<use href="#k" x="1768.4" y="157"/>
<use href="#k" x="2057.8" y="201.3"/>
<use href="#k" x="2106.6" y="169.3"/>
<use href="#g" x="2514.8" y="320.9"/>
<use href="#p" x="2351.6" y="183.8"/>
<use href="#k" x="2895.5" y="235.1"/>
<use href="#p" x="2586.9" y="210.4"/>
<use href="#k" x="2035.9" y="200.6"/>
<use href="#g" x="793.2" y="153.5"/>
<use href="#k" x="2077.9" y="178.1"/>
<use href="#k" x="1980.9" y="214.2"/>
<use href="#g" x="1967.9" y="296.7"/>
<use href="#g" x="2079.7" y="154.3"/>
<use href="#k" x="2899.1" y="346.8"/>
<use href="#k" x="1995" y="179.7"/>
<use href="#p" x="2994.1" y="448.8"/>
<use href="#g" x="2185.7" y="273.8"/>
<use href="#g" x="2899.9" y="237.6"/>
<use href="#k" x="1746.1" y="280.1"/>
<use href="#k" x="2692" y="177"/>
<use href="#p" x="2480.7" y="177.4"/>
<use href="#g" x="2258.2" y="220.2"/>
<use href="#g" x="1538" y="171.2"/>
<use href="#k" x="2049.1" y="237.6"/>
<use href="#p" x="1474.6" y="154.5"/>
<use href="#g" x="1782.4" y="217.1"/>
<use href="#k" x="2021.1" y="217"/>
<use href="#g" x="2151.1" y="266.9"/>
<use href="#k" x="2444.5" y="330.7"/>
<use href="#k" x="2070.4" y="216.8"/>
<use href="#k" x="2153.1" y="157.3"/>
<use href="#k" x="2174.2" y="179.4"/>
<use href="#g" x="1882.6" y="198"/>
<use href="#k" x="2888.6" y="163.1"/>
<use href="#k" x="2032.3" y="203.5"/>
<use href="#k" x="1705.7" y="160.5"/>
<use href="#g" x="1734.9" y="214.1"/>
<use href="#p" x="1086.6" y="212"/>
<use href="#k" x="2281.5" y="155"/>
<use href="#p" x="2172.8" y="213.2"/>
<use href="#k" x="2751.4" y="153.7"/>
<use href="#k" x="1830.4" y="170.1"/>
<use href="#k" x="2131" y="154.4"/>
<use href="#k" x="2397.5" y="166.8"/>
<use href="#k" x="2058.7" y="187.3"/>
<use href="#g" x="2037.1" y="153.5"/>
<use href="#k" x="2070.4" y="191.4"/>
<use href="#g" x="1669.6" y="227.9"/>
<use href="#g" x="2344.7" y="280.1"/>
<use href="#p" x="2838.1" y="317.3"/>
<use href="#k" x="3075.9" y="154.4"/>
<use href="#k" x="2003.4" y="171.6"/>
<use href="#k" x="2001.1" y="210.9"/>
<use href="#p" x="2599.2" y="153.6"/>
<use href="#k" x="2527.4" y="153.8"/>
<use href="#g" x="1895.1" y="238.2"/>
<use href="#p" x="1526.2" y="153.9"/>
<use href="#g" x="2073.5" y="273.1"/>
<use href="#g" x="2883.7" y="300.2"/>
<use href="#k" x="2236.9" y="154.5"/>
<use href="#k" x="2785.9" y="154.3"/>
<use href="#k" x="2190.1" y="174.4"/>
<use href="#g" x="2865.5" y="279.1"/>
<use href="#k" x="2032.4" y="221.1"/>
<use href="#k" x="1987.9" y="195.7"/>
<use href="#p" x="2923.4" y="154"/>
<use href="#g" x="2650.5" y="162.6"/>
<use href="#g" x="1912.6" y="252.8"/>
<use href="#k" x="1785.9" y="219.1"/>
<use href="#k" x="1694.8" y="175.2"/>
<use href="#g" x="1881.4" y="158.2"/>
<use href="#g" x="2229" y="278.9"/>
<use href="#k" x="1673.6" y="167.7"/>
<use href="#k" x="1784.1" y="167.6"/>
<use href="#g" x="2091.2" y="283.2"/>
<use href="#g" x="1673.1" y="168.7"/>
<use href="#k" x="1903.3" y="153.7"/>
<use href="#p" x="2162.8" y="258.1"/>
<use href="#k" x="2092.1" y="153.7"/>
<use href="#g" x="2181.1" y="350.7"/>
<use href="#g" x="2756.1" y="269.5"/>
<use href="#p" x="1293.9" y="153.9"/>
<use href="#k" x="2068" y="201"/>
<use href="#g" x="1813.8" y="162.9"/>
<use href="#k" x="1761.7" y="226.6"/>
<use href="#k" x="1998.1" y="204.2"/>
<use href="#p" x="1401.4" y="153.8"/>
<use href="#p" x="1408.7" y="195"/>
<use href="#g" x="2371.6" y="193.7"/>
<use href="#k" x="2089.6" y="181.3"/>
<use href="#p" x="1846.4" y="178.8"/>
<use href="#g" x="1622" y="153.6"/>
<use href="#k" x="2373.1" y="181.1"/>
<use href="#g" x="1807.7" y="155.1"/>
<use href="#k" x="2895.8" y="310.1"/>
<use href="#g" x="2336.3" y="348.1"/>
<use href="#k" x="2029.3" y="244.3"/>
<use href="#k" x="1742.3" y="184.9"/>
<use href="#g" x="1827.9" y="219.7"/>
<use href="#k" x="2019.7" y="194.8"/>
<use href="#k" x="2022.1" y="187.7"/>
<use href="#p" x="2854.1" y="154"/>
<use href="#k" x="2059.5" y="186.4"/>
<use href="#g" x="2367.7" y="191.2"/>
<use href="#p" x="969.3" y="210.3"/>
<use href="#p" x="1046.9" y="153.7"/>
<use href="#g" x="2774.9" y="319.5"/>
<use href="#k" x="2027.9" y="181.3"/>
<use href="#k" x="2861.1" y="243.8"/>
<use href="#g" x="2528.4" y="310.7"/>
<use href="#k" x="2073.1" y="165.8"/>
<use href="#k" x="2080.3" y="186.1"/>
<use href="#k" x="1995.8" y="232.3"/>
<use href="#k" x="2009" y="238"/>
<use href="#k" x="2083.8" y="165.4"/>
<use href="#k" x="2075.4" y="154.5"/>
<use href="#k" x="2164.5" y="324.2"/>
<use href="#k" x="2910.2" y="177.3"/>
<use href="#p" x="2841.6" y="212.5"/>
<use href="#k" x="2272.6" y="181.3"/>
<use href="#g" x="2210.7" y="219.5"/>
<use href="#g" x="2147.5" y="360"/>
<use href="#k" x="2171.1" y="174.4"/>
<use href="#k" x="2083.1" y="153.9"/>
<use href="#g" x="2300.5" y="295.4"/>
<use href="#k" x="2051.3" y="171.4"/>
<use href="#k" x="2084.6" y="185.9"/>
<use href="#k" x="1708.7" y="169.5"/>
<use href="#g" x="2450.2" y="338.6"/>
<use href="#k" x="2013.6" y="243.1"/>
<use href="#g" x="2220" y="184.3"/>
<use href="#p" x="1850.9" y="332.8"/>
<use href="#k" x="2056.8" y="178.5"/>
<use href="#k" x="2435.2" y="273.9"/>
<use href="#k" x="2441.1" y="169.7"/>
<use href="#k" x="1806" y="173.8"/>
<use href="#p" x="1755.7" y="173.1"/>
<use href="#k" x="1747.4" y="162.9"/>
<use href="#g" x="2450.2" y="229"/>
<use href="#k" x="2188" y="166.2"/>
<use href="#k" x="2285.2" y="268.2"/>
<use href="#k" x="2888.3" y="229.8"/>
<use href="#g" x="1079.8" y="189.9"/>
<use href="#k" x="2003.6" y="163.7"/>
<use href="#k" x="2006.7" y="177.6"/>
<use href="#g" x="2118.5" y="249"/>
<use href="#k" x="2868.7" y="282.2"/>
<use href="#k" x="2573.6" y="154.3"/>
<use href="#p" x="846.8" y="262"/>
<use href="#p" x="1978.3" y="155.2"/>
<use href="#k" x="2141.5" y="154.2"/>
<use href="#k" x="2307.8" y="159.9"/>
<use href="#p" x="1500.5" y="205.2"/>
<use href="#k" x="1922.6" y="221.5"/>
<use href="#g" x="2293.7" y="273.3"/>
<use href="#k" x="2138.8" y="165"/>
<use href="#k" x="2025.8" y="199.8"/>
<use href="#k" x="2029.7" y="195.9"/>
<use href="#g" x="2161.9" y="232.6"/>
<use href="#p" x="824.6" y="154.2"/>
<use href="#k" x="2947.5" y="366.8"/>
<use href="#k" x="2038.7" y="274.5"/>
<use href="#k" x="2174.1" y="162.7"/>
<use href="#g" x="2437.7" y="154.1"/>
<use href="#g" x="1150.4" y="178.2"/>
<use href="#g" x="2383" y="208.5"/>
<use href="#k" x="2438.6" y="153.9"/>
<use href="#k" x="2100.2" y="156.1"/>
<use href="#k" x="2142.3" y="204.1"/>
<use href="#g" x="2354.1" y="297.7"/>
<use href="#g" x="1696.6" y="176.8"/>
<use href="#g" x="2190.4" y="156.7"/>
<use href="#g" x="2580.8" y="155.5"/>
<use href="#p" x="1738" y="154"/>
<use href="#g" x="1483.5" y="220.5"/>
<use href="#k" x="2016.7" y="184.3"/>
<use href="#g" x="2349.4" y="214.8"/>
<use href="#p" x="683.1" y="153.7"/>
<use href="#p" x="1631.5" y="169.5"/>
<use href="#k" x="2073" y="215.9"/>
<use href="#k" x="1862.3" y="158.8"/>
<use href="#k" x="2451.4" y="153.8"/>
<use href="#g" x="2088" y="394"/>
<use href="#p" x="1231.8" y="317.5"/>
<use href="#k" x="2160.8" y="205.3"/>
<use href="#g" x="2098.7" y="235.5"/>
<use href="#g" x="1965.9" y="208.3"/>
<use href="#g" x="1737.6" y="404.2"/>
<use href="#g" x="2787.6" y="161.7"/>
<use href="#p" x="978.1" y="154.2"/>
<use href="#g" x="2408.4" y="200.8"/>
<use href="#g" x="1425.7" y="241"/>
<use href="#k" x="2080.3" y="193.4"/>
<use href="#k" x="2052.7" y="176"/>
<use href="#k" x="2547.1" y="154.3"/>
<use href="#g" x="2346.5" y="293.7"/>
<use href="#k" x="1685.7" y="180.8"/>
<use href="#k" x="2673.8" y="153.9"/>
<use href="#k" x="2000.6" y="178"/>
<use href="#k" x="2234.9" y="214.9"/>
<use href="#g" x="1879.5" y="219.7"/>
<use href="#k" x="2034.3" y="247.9"/>
<use href="#k" x="2115.8" y="190.9"/>
<use href="#k" x="1963.3" y="218"/>
<use href="#p" x="1183.9" y="154"/>
<use href="#g" x="2728.5" y="154.2"/>
<use href="#p" x="3120.5" y="154.4"/>
<use href="#g" x="1450.9" y="215.8"/>
<use href="#p" x="1316.9" y="242"/>
<use href="#p" x="1684.3" y="170.7"/>
<use href="#k" x="2619.8" y="153.9"/>
<use href="#g" x="1374.7" y="273.3"/>
<use href="#k" x="2316.1" y="156.4"/>
<use href="#g" x="2109.7" y="201.2"/>
<use href="#k" x="1924.5" y="229.4"/>
<use href="#k" x="2363.4" y="178.6"/>
<use href="#p" x="663" y="153.6"/>
<use href="#g" x="2796.7" y="302.5"/>
<use href="#k" x="2130.3" y="153.9"/>
<use href="#k" x="2030.1" y="157.7"/>
<use href="#k" x="2054" y="218.8"/>
<use href="#g" x="2154.8" y="165.2"/>
<use href="#g" x="2626" y="155.2"/>
<use href="#k" x="2043" y="263"/>
<use href="#k" x="2269.6" y="216"/>
<use href="#k" x="2273.3" y="174.6"/>
<use href="#k" x="1906" y="245.3"/>
<use href="#k" x="2053.5" y="199.9"/>
<use href="#k" x="1892.9" y="216.5"/>
<use href="#g" x="2222.1" y="223.1"/>
<use href="#k" x="2037.5" y="163.3"/>
<use href="#p" x="2855.1" y="175"/>
<use href="#k" x="2178" y="165.4"/>
<use href="#p" x="874.4" y="153.9"/>
<use href="#k" x="2164" y="307.4"/>
<use href="#g" x="2167.8" y="278.1"/>
<use href="#k" x="2008.5" y="182.6"/>
<use href="#k" x="2059" y="176.7"/>
<use href="#g" x="2694.2" y="172"/>
<use href="#k" x="2043.3" y="225.6"/>
<use href="#k" x="2010.1" y="160.2"/>
<use href="#k" x="2049.9" y="244.2"/>
<use href="#k" x="1995.6" y="238.3"/>
<use href="#k" x="2258.6" y="181.1"/>
<use href="#g" x="2777.2" y="160.3"/>
<use href="#k" x="2020.9" y="175.1"/>
<use href="#k" x="1948.8" y="263.1"/>
<use href="#p" x="2355.4" y="164.3"/>
<use href="#p" x="2129.2" y="154"/>
<use href="#p" x="2229.1" y="182.2"/>
<use href="#k" x="2188.8" y="175.2"/>
<use href="#g" x="2293.2" y="221.7"/>
<use href="#p" x="3008.3" y="154.2"/>
<use href="#k" x="2535" y="321.2"/>
<use href="#g" x="1173" y="201.6"/>
<use href="#m" x="3350.5" y="154.2"/>
<use href="#g" x="1701.7" y="158.5"/>
<use href="#k" x="1697.8" y="249.5"/>
<use href="#g" x="1349.6" y="196.8"/>
<use href="#k" x="1986.5" y="168.5"/>
<use href="#p" x="2802.9" y="154.1"/>
<use href="#k" x="2035.6" y="158.3"/>
<use href="#g" x="2840.3" y="153.6"/>
<use href="#g" x="2342.2" y="179.2"/>
<use href="#g" x="2154.6" y="192.2"/>
<use href="#g" x="797.5" y="181.4"/>
<use href="#g" x="1926.4" y="192.7"/>
<use href="#k" x="2054.7" y="170"/>
<use href="#k" x="2765.2" y="191.4"/>
<use href="#g" x="1950.3" y="277.7"/>
<use href="#p" x="2205.8" y="191.6"/>
<use href="#k" x="2005.4" y="179.1"/>
<use href="#p" x="1720.3" y="212.1"/>
<use href="#k" x="2107.5" y="195.9"/>
<use href="#k" x="1922.8" y="194.1"/>
<use href="#k" x="1999.6" y="212.4"/>
<use href="#k" x="2849.4" y="215.5"/>
<use href="#k" x="2041.8" y="208.9"/>
<use href="#g" x="2790.8" y="319.1"/>
<use href="#k" x="2059.5" y="186.1"/>
<use href="#g" x="940.6" y="153.6"/>
<use href="#k" x="2139.6" y="170.2"/>
<use href="#k" x="1994.6" y="181.6"/>
<use href="#k" x="2011.3" y="221.7"/>
<use href="#k" x="2446.3" y="178.8"/>
<use href="#k" x="2115.3" y="158.3"/>
<use href="#k" x="2197.6" y="165.5"/>
<use href="#p" x="1061.1" y="229"/>
<use href="#k" x="2011.6" y="217"/>
<use href="#m" x="539" y="154.9"/>
<use href="#k" x="2143.1" y="164.3"/>
<use href="#k" x="2618.6" y="153.9"/>
<use href="#k" x="1993.8" y="200.3"/>
<use href="#g" x="2365.1" y="292.7"/>
<use href="#k" x="2999.9" y="154.5"/>
<use href="#p" x="534.6" y="154.2"/>
<use href="#k" x="2090" y="153.7"/>
<use href="#k" x="1803" y="167.7"/>
<use href="#k" x="2067" y="226.9"/>
<use href="#k" x="2001.6" y="201.3"/>
<use href="#k" x="2951.9" y="154.4"/>
<use href="#g" x="2715" y="156.5"/>
<use href="#p" x="3063.2" y="153.5"/>
<use href="#k" x="1710.3" y="155.8"/>
<use href="#g" x="2430.5" y="201.6"/>
<use href="#k" x="2175.1" y="166.5"/>
<use href="#k" x="2235.9" y="181"/>
<use href="#p" x="812.1" y="154.4"/>
<use href="#g" x="1054.3" y="183.1"/>
<use href="#k" x="2724.9" y="175.3"/>
<use href="#k" x="1723.4" y="179.9"/>
<use href="#k" x="1883.4" y="188.1"/>
<use href="#p" x="2194.1" y="187.2"/>
<use href="#p" x="2272.8" y="160.5"/>
<use href="#k" x="2053.5" y="202"/>
<use href="#p" x="1289.7" y="188.9"/>
<use href="#k" x="1984.9" y="229.2"/>
<use href="#k" x="1992.3" y="162.9"/>
<use href="#g" x="972.4" y="153.5"/>
<use href="#p" x="857" y="273.3"/>
<use href="#k" x="2036.8" y="192"/>
<use href="#p" x="1982.6" y="255.7"/>
<use href="#k" x="2031.3" y="160.5"/>
<use href="#k" x="2011.2" y="223.1"/>
<use href="#k" x="1974.7" y="226.5"/>
<use href="#k" x="2399.4" y="158.2"/>
<use href="#k" x="2004.4" y="186.6"/>
<use href="#k" x="2106.8" y="177"/>
<use href="#k" x="2883.4" y="178.2"/>
<use href="#k" x="2010.7" y="161.7"/>
<use href="#p" x="747.4" y="153.5"/>
<use href="#k" x="2457" y="187.4"/>
<use href="#p" x="2495.1" y="421.2"/>
<use href="#g" x="1584.9" y="381.1"/>
<use href="#k" x="2075.9" y="208.4"/>
<use href="#k" x="2045.4" y="157.7"/>
<use href="#k" x="2024.1" y="267.8"/>
<use href="#g" x="2602.2" y="155.2"/>
<use href="#k" x="2616" y="159.5"/>
<use href="#k" x="2803.7" y="183.3"/>
<use href="#k" x="2798.2" y="219.4"/>
<use href="#p" x="2880.2" y="185.8"/>
<use href="#g" x="2827.3" y="216.8"/>
<use href="#g" x="2102.5" y="317.8"/>
<use href="#k" x="1760.6" y="176.3"/>
<use href="#p" x="1362.8" y="213.1"/>
<use href="#g" x="1672.9" y="213.5"/>
<use href="#k" x="2720.3" y="171.3"/>
<use href="#p" x="2617.3" y="190.7"/>
<use href="#p" x="1872" y="240.5"/>
<use href="#k" x="2860.5" y="222.2"/>
<use href="#p" x="880.8" y="340.6"/>
<use href="#g" x="2766.1" y="162.7"/>
<use href="#g" x="2365.2" y="188.4"/>
<use href="#g" x="1867.2" y="225.7"/>
<use href="#p" x="720.3" y="219.5"/>
<use href="#p" x="2388.5" y="162"/>
<use href="#k" x="2155.1" y="302.3"/>
<use href="#k" x="2295.7" y="206.6"/>
<use href="#k" x="1722.8" y="182.2"/>
<use href="#k" x="2426.7" y="153.5"/>
<use href="#p" x="1819.6" y="453.5"/>
<use href="#k" x="1948" y="154.1"/>
<use href="#k" x="2158" y="245.3"/>
<use href="#k" x="2064.3" y="310.7"/>
<use href="#g" x="2181.3" y="154.2"/>
<use href="#g" x="2258.4" y="195.7"/>
<use href="#k" x="2163" y="155.9"/>
<use href="#k" x="1783" y="192.8"/>
<use href="#m" x="3270.6" y="154.2"/>
<use href="#g" x="2109.6" y="288.2"/>
<use href="#k" x="2060" y="187.1"/>
<use href="#g" x="1828.8" y="281.8"/>
<use href="#k" x="2466" y="171.2"/>
<use href="#k" x="2172.6" y="245.1"/>
<use href="#g" x="1937.1" y="248"/>
<use href="#p" x="1076.4" y="167.8"/>
<use href="#k" x="2138.9" y="174.3"/>
<use href="#k" x="1923.9" y="240.8"/>
<use href="#g" x="1763.5" y="153.6"/>
<use href="#p" x="2926.6" y="154.1"/>
<use href="#g" x="3165.2" y="188.2"/>
<use href="#k" x="1897.5" y="228.2"/>
<use href="#g" x="1497.9" y="154.1"/>
<use href="#k" x="1855.3" y="179.7"/>
<use href="#g" x="2812.2" y="212.3"/>
<use href="#g" x="1750.9" y="214.9"/>
<use href="#p" x="1431.5" y="154.4"/>
<use href="#g" x="2919.9" y="178.3"/>
<use href="#k" x="2018.1" y="255"/>
<use href="#k" x="1859.4" y="153.8"/>
<use href="#g" x="2952.6" y="472.2"/>
<use href="#k" x="2006.2" y="239.1"/>
<use href="#g" x="1834" y="188.9"/>
<use href="#k" x="2169" y="169.1"/>
<use href="#g" x="2809.8" y="196.6"/>
<use href="#k" x="1776.1" y="153.6"/>
<use href="#k" x="2094.8" y="268.5"/>
<use href="#k" x="2057.5" y="153.5"/>
<use href="#k" x="2143.1" y="176.7"/>
<use href="#k" x="2848.1" y="280.7"/>
<use href="#g" x="1969.2" y="224.4"/>
<use href="#k" x="2004.5" y="237.5"/>
<use href="#g" x="1803.1" y="216.6"/>
<use href="#k" x="2037.4" y="157.3"/>
<use href="#p" x="2151.6" y="387.2"/>
<use href="#k" x="1858.7" y="220.3"/>
<use href="#k" x="2021.6" y="165.3"/>
<use href="#k" x="2284.8" y="200.9"/>
<use href="#k" x="1860.7" y="239.7"/>
<use href="#k" x="2010.7" y="179.7"/>
<use href="#k" x="2461.4" y="154.7"/>
<use href="#k" x="2709" y="158.3"/>
<use href="#g" x="2701.3" y="188.7"/>
<use href="#k" x="2060.1" y="161.9"/>
<use href="#g" x="2038.7" y="232.8"/>
<use href="#g" x="1769.2" y="235.1"/>
<use href="#k" x="2960.3" y="153.9"/>
<use href="#g" x="1946.5" y="158.9"/>
<use href="#g" x="2267.4" y="204.5"/>
<use href="#g" x="2496.2" y="166.9"/>
<use href="#g" x="1942.5" y="290.2"/>
<use href="#k" x="2058.5" y="187.3"/>
<use href="#p" x="2261.1" y="183.5"/>
<use href="#g" x="2354.3" y="281"/>
<use href="#k" x="2075.5" y="159.4"/>
<use href="#k" x="2450.7" y="210.2"/>
<use href="#k" x="2176.7" y="195.5"/>
<use href="#k" x="1988.6" y="198.7"/>
<use href="#k" x="2850.4" y="182.7"/>
<use href="#k" x="2314.9" y="175.2"/>
<use href="#k" x="2384.7" y="172.6"/>
<use href="#k" x="2031.3" y="241.9"/>
<use href="#g" x="2722.7" y="155.6"/>
<use href="#k" x="2144.9" y="161.1"/>
<use href="#g" x="2871.2" y="153.8"/>
<use href="#g" x="2440" y="266.5"/>
<use href="#k" x="2795" y="200.7"/>
<use href="#k" x="1989" y="282"/>
<use href="#g" x="2333" y="161.5"/>
<use href="#k" x="2073.2" y="197.4"/>
<use href="#k" x="2067" y="191.4"/>
<use href="#k" x="2993.4" y="153.8"/>
<use href="#g" x="2220" y="198.2"/>
<use href="#p" x="2775.8" y="257.9"/>
<use href="#k" x="2007" y="212.5"/>
<use href="#k" x="2046.6" y="201.7"/>
<use href="#k" x="2130.7" y="182.4"/>
<use href="#g" x="1787.3" y="193.7"/>
<use href="#k" x="2034.5" y="159.3"/>
<use href="#p" x="2384.8" y="185.2"/>
<use href="#k" x="2084.7" y="170.4"/>
<use href="#k" x="2067.6" y="196.6"/>
<use href="#p" x="2386.9" y="201.1"/>
<use href="#g" x="2394.1" y="161.9"/>
<use href="#k" x="2377.9" y="202"/>
<use href="#k" x="2039" y="173.2"/>
<use href="#k" x="2162.1" y="291.7"/>
<use href="#k" x="2872.8" y="200.2"/>
<use href="#k" x="2844.3" y="159.2"/>
<use href="#g" x="1662.1" y="405.9"/>
<use href="#g" x="2766.9" y="168"/>
<use href="#g" x="2569.3" y="246.1"/>
<use href="#g" x="1483.8" y="167.5"/>
<use href="#p" x="694.8" y="153.6"/>
<use href="#g" x="2000.9" y="290.7"/>
<use href="#p" x="3042.7" y="154"/>
<use href="#k" x="2053.3" y="177.2"/>
<use href="#k" x="1773.2" y="185.4"/>
<use href="#p" x="667.1" y="153.6"/>
<use href="#g" x="1671.5" y="192.7"/>
<use href="#g" x="2043.2" y="288.7"/>
<use href="#k" x="2881.5" y="314.4"/>
<use href="#k" x="2382.1" y="166.9"/>
<use href="#g" x="2419.8" y="179.1"/>
<use href="#k" x="1892.1" y="169.3"/>
<use href="#k" x="2169.1" y="294"/>
<use href="#g" x="2816.3" y="213.4"/>
<use href="#g" x="1816.6" y="237.2"/>
<use href="#g" x="2189.6" y="159.6"/>
<use href="#k" x="2028.7" y="239.9"/>
<use href="#p" x="1813.1" y="230"/>
<use href="#k" x="2760.9" y="249.5"/>
<use href="#k" x="2422.1" y="199.5"/>
<use href="#k" x="2040.8" y="195.7"/>
<use href="#k" x="2079.1" y="187.3"/>
<use href="#k" x="2039.4" y="202.5"/>
<use href="#k" x="1992.5" y="181.7"/>
<use href="#k" x="2126.6" y="159.6"/>
<use href="#k" x="1952" y="175.8"/>
<use href="#k" x="2072.8" y="207.6"/>
<use href="#g" x="2572.7" y="315.8"/>
<use href="#k" x="1988.9" y="156.7"/>
<use href="#p" x="3024.9" y="154.1"/>
<use href="#k" x="1956.9" y="238"/>
<use href="#p" x="3025" y="154.2"/>
<use href="#k" x="2443.4" y="252.9"/>
<use href="#k" x="2042.9" y="195.2"/>
<use href="#g" x="1924.8" y="265.5"/>
<use href="#k" x="2010.8" y="206.1"/>
<use href="#g" x="2383.8" y="183.3"/>
<use href="#g" x="2327.8" y="228.9"/>
<use href="#k" x="2064.2" y="227.3"/>
<use href="#k" x="2028.9" y="244.1"/>
<use href="#k" x="2005.2" y="169.9"/>
<use href="#k" x="2193.7" y="154.5"/>
<use href="#g" x="1783.3" y="187.8"/>
<use href="#k" x="2206.7" y="166.7"/>
<use href="#k" x="2397.2" y="308.5"/>
<use href="#k" x="1986.8" y="155.6"/>
<use href="#p" x="2083.3" y="303"/>
<use href="#g" x="2449.4" y="206.5"/>
<use href="#k" x="3075.8" y="153.7"/>
<use href="#p" x="2708.7" y="212"/>
<use href="#g" x="2008" y="206"/>
<use href="#p" x="2461.7" y="165"/>
<use href="#k" x="2857.9" y="304.1"/>
<use href="#p" x="2162.9" y="186.1"/>
<use href="#g" x="2034.9" y="307.6"/>
<use href="#k" x="2044.3" y="201.2"/>
<use href="#k" x="2019" y="199.2"/>
<use href="#p" x="2437.6" y="195.8"/>
<use href="#g" x="1885.5" y="242.6"/>
<use href="#k" x="1914.2" y="154.2"/>
<use href="#k" x="2117.2" y="173.5"/>
<use href="#k" x="1867.6" y="173.7"/>
<use href="#k" x="1833" y="160.4"/>
<use href="#g" x="2391.7" y="191.6"/>
<use href="#p" x="1299.5" y="167.4"/>
<use href="#p" x="2254.6" y="264.8"/>
<use href="#k" x="1850.3" y="180.9"/>
<use href="#k" x="2018.1" y="183.9"/>
<use href="#g" x="2138.8" y="205.2"/>
<use href="#k" x="2398.1" y="197.7"/>
<use href="#g" x="2849.4" y="182.1"/>
<use href="#k" x="2152.5" y="169.2"/>
<use href="#k" x="1723.4" y="212.4"/>
<use href="#g" x="2250.1" y="173.4"/>
<use href="#g" x="2830.1" y="349.8"/>
<use href="#g" x="2171.3" y="193.5"/>
<use href="#k" x="2072.2" y="216.6"/>
<use href="#g" x="2819.6" y="165.4"/>
<use href="#k" x="1872.2" y="182.9"/>
<use href="#k" x="2304" y="158.9"/>
<use href="#k" x="2027.2" y="192.4"/>
<use href="#g" x="1509" y="251.8"/>
<use href="#g" x="2296.3" y="205.1"/>
<use href="#g" x="2189.1" y="163.6"/>
<use href="#k" x="2074.6" y="264"/>
<use href="#p" x="2644.1" y="230.7"/>
<use href="#p" x="2076.6" y="153.5"/>
<use href="#k" x="1108" y="197.8"/>
<use href="#k" x="2077.2" y="187.3"/>
<use href="#g" x="2732.7" y="190.3"/>
<use href="#k" x="1731.6" y="210.4"/>
<use href="#g" x="2375.3" y="210.5"/>
<use href="#k" x="2033.9" y="195"/>
<use href="#k" x="1908.8" y="164"/>
<use href="#p" x="935.4" y="154"/>
<use href="#k" x="2210.5" y="173.9"/>
<use href="#g" x="2784" y="157.9"/>
<use href="#g" x="1752.5" y="205.9"/>
<use href="#k" x="2346.7" y="154.6"/>
<use href="#k" x="2194.3" y="173.1"/>
<use href="#k" x="2118.4" y="268.2"/>
<use href="#p" x="1352.6" y="166.1"/>
<use href="#k" x="1695.7" y="224.1"/>
<use href="#k" x="2052.8" y="176.1"/>
<use href="#k" x="2063.5" y="301.3"/>
<use href="#g" x="1492.2" y="154"/>
<use href="#k" x="1749.7" y="166.1"/>
<use href="#k" x="2255.5" y="185.1"/>
<use href="#g" x="2335.1" y="236.7"/>
<use href="#k" x="2229.3" y="231.8"/>
<use href="#k" x="2159.6" y="237"/>
<use href="#k" x="1961" y="278.3"/>
<use href="#g" x="2849.9" y="200"/>
<use href="#k" x="1940.1" y="167.1"/>
<use href="#k" x="2017.8" y="191.9"/>
<use href="#k" x="2779.8" y="210.2"/>
<use href="#g" x="2750.2" y="153.8"/>
<use href="#g" x="2443.4" y="371.9"/>
<use href="#p" x="3084.3" y="154"/>
<use href="#g" x="2230.2" y="286.9"/>
<use href="#p" x="2381.1" y="201.2"/>
<use href="#k" x="2057.1" y="213.7"/>
<use href="#k" x="1991.4" y="193.5"/>
<use href="#g" x="2726.3" y="227"/>
<use href="#k" x="2795.6" y="230.2"/>
<use href="#g" x="2513.1" y="300.5"/>
<use href="#g" x="2593.3" y="160.5"/>
<use href="#k" x="1605.4" y="158.3"/>
<use href="#k" x="2167.9" y="160.4"/>
<use href="#g" x="2785.4" y="321.9"/>
<use href="#g" x="882.5" y="275"/>
<use href="#k" x="2502.5" y="226.8"/>
<use href="#k" x="1954.2" y="230.5"/>
<use href="#k" x="2872.6" y="167.3"/>
<use href="#k" x="2028.8" y="239.5"/>
<use href="#g" x="2268.4" y="184.3"/>
<use href="#k" x="2414.5" y="220.4"/>
<use href="#k" x="2081.5" y="228.1"/>
<use href="#p" x="1225" y="166.1"/>
<use href="#k" x="2535.1" y="233.3"/>
<use href="#g" x="2283.7" y="153.7"/>
<use href="#k" x="2366.1" y="198.8"/>
<use href="#p" x="719.3" y="154"/>
<use href="#k" x="2242.6" y="162.5"/>
<use href="#p" x="790" y="153.6"/>
<use href="#p" x="2452.3" y="224.3"/>
<use href="#k" x="1935.9" y="180.1"/>
<use href="#p" x="2215.4" y="178.3"/>
<use href="#g" x="2342.8" y="234.2"/>
<use href="#k" x="2897" y="280.5"/>
<use href="#k" x="2462.6" y="327.6"/>
<use href="#k" x="1987.4" y="225.9"/>
<use href="#k" x="2501.2" y="331.1"/>
<use href="#g" x="2149.8" y="226.2"/>
<use href="#k" x="1857.6" y="204.8"/>
<use href="#k" x="2036.8" y="227.4"/>
<use href="#g" x="1941.4" y="254.4"/>
<use href="#g" x="1832.8" y="218.7"/>
<use href="#g" x="2371.5" y="169.5"/>
<use href="#p" x="2171.2" y="184.5"/>
<use href="#k" x="2157.5" y="155"/>
<use href="#k" x="2813.4" y="154.1"/>
<use href="#g" x="2355.5" y="221.7"/>
<use href="#g" x="2884.3" y="154.5"/>
<use href="#k" x="1698.5" y="204"/>
<use href="#g" x="2379" y="183.1"/>
<use href="#p" x="2102.3" y="154.4"/>
<use href="#g" x="2434.6" y="208.3"/>
<use href="#k" x="2013.3" y="173.1"/>
<use href="#g" x="1748.5" y="153.8"/>
<use href="#k" x="2033.6" y="176.1"/>
<use href="#k" x="1990" y="159.9"/>
<use href="#k" x="2068.3" y="220.5"/>
<use href="#p" x="1772.6" y="229"/>
<use href="#g" x="2319.1" y="158.7"/>
<use href="#p" x="3113.6" y="154.2"/>
<use href="#p" x="1270" y="153.6"/>
<use href="#k" x="2017.3" y="239.8"/>
<use href="#g" x="1968.3" y="179.8"/>
<use href="#p" x="2682.5" y="154.7"/>
<use href="#g" x="1112.1" y="269.9"/>
<use href="#p" x="2276.7" y="269.9"/>
<use href="#p" x="1442.1" y="154.5"/>
<use href="#g" x="1811.2" y="206.3"/>
<use href="#k" x="1702.5" y="202.3"/>
<use href="#k" x="1725.9" y="159"/>
<use href="#g" x="1743" y="214.4"/>
<use href="#k" x="2073.7" y="191.7"/>
<use href="#k" x="2045.3" y="179.4"/>
<use href="#k" x="2074.3" y="217"/>
<use href="#k" x="1936.8" y="200.2"/>
<use href="#k" x="2508.7" y="338.1"/>
<use href="#k" x="1997.5" y="190.9"/>
<use href="#g" x="1699" y="194.9"/>
<use href="#g" x="2342.1" y="215.9"/>
<use href="#g" x="1652.7" y="155"/>
<use href="#k" x="1806.6" y="213.4"/>
<use href="#g" x="2358.3" y="157.6"/>
<use href="#k" x="1723.3" y="183.3"/>
<use href="#g" x="1057.7" y="178"/>
<use href="#k" x="1976.4" y="156.4"/>
<use href="#k" x="2072.6" y="230.1"/>
<use href="#k" x="2751.3" y="186.4"/>
<use href="#p" x="2007.4" y="153.8"/>
<use href="#k" x="2032" y="188.4"/>
<use href="#g" x="2327.8" y="409.3"/>
<use href="#k" x="2194.5" y="158.9"/>
<use href="#k" x="1952.9" y="185.1"/>
<use href="#g" x="2491.7" y="213.5"/>
<use href="#k" x="2055.1" y="209.3"/>
<use href="#g" x="953.2" y="154"/>
<use href="#g" x="2035.5" y="234.6"/>
<use href="#g" x="2328.1" y="178.6"/>
<use href="#k" x="2002.6" y="227.2"/>
<use href="#g" x="2051.8" y="246.6"/>
<use href="#g" x="2392.5" y="197.4"/>
<use href="#k" x="2315.6" y="219.9"/>
<use href="#k" x="2382" y="176.2"/>
<use href="#g" x="1461.4" y="165.4"/>
<use href="#p" x="656.3" y="153.6"/>
<use href="#g" x="2688.3" y="225.6"/>
<use href="#k" x="2062.1" y="220.9"/>
<use href="#k" x="2163.8" y="298.4"/>
<use href="#k" x="2065.3" y="153.9"/>
<use href="#g" x="1952.2" y="221.3"/>
<use href="#k" x="2050.3" y="189"/>
<use href="#g" x="2260.9" y="183.1"/>
<use href="#k" x="2625.8" y="153.7"/>
<use href="#g" x="2373.5" y="168.4"/>
<use href="#g" x="2187.6" y="153.6"/>
<use href="#k" x="2028.6" y="155"/>
<use href="#k" x="2163.6" y="286.2"/>
<use href="#p" x="1014.1" y="153.8"/>
<use href="#p" x="2282.4" y="200.4"/>
<use href="#k" x="1930.9" y="196.6"/>
<use href="#k" x="2243.7" y="215"/>
<use href="#p" x="3016.5" y="375.3"/>
<use href="#p" x="870.6" y="203.5"/>
<use href="#k" x="2006.5" y="154.6"/>
<use href="#m" x="3204.3" y="154.2"/>
<use href="#k" x="2027.5" y="203.9"/>
<use href="#k" x="2051.8" y="217.9"/>
<use href="#k" x="2821.5" y="174.1"/>
<use href="#g" x="1642.9" y="204.8"/>
<use href="#k" x="2054.2" y="165.6"/>
<use href="#p" x="503.9" y="154.2"/>
<use href="#k" x="2022.7" y="226.2"/>
<use href="#g" x="2319.7" y="229.5"/>
<use href="#g" x="916.5" y="183.1"/>
<use href="#g" x="1969.6" y="208.5"/>
<use href="#k" x="2077.4" y="185.3"/>
<use href="#k" x="2057.4" y="198.6"/>
<use href="#k" x="2049.3" y="187.2"/>
<use href="#k" x="2887.2" y="262"/>
<use href="#k" x="2533.8" y="170"/>
<use href="#k" x="2390.7" y="192.4"/>
<use href="#p" x="962.9" y="154.6"/>
<use href="#p" x="3126.3" y="153.9"/>
<use href="#k" x="2578.8" y="153.9"/>
<use href="#k" x="2567.9" y="159.9"/>
<use href="#k" x="2057.2" y="220.1"/>
<use href="#g" x="1658.7" y="377"/>
<use href="#k" x="1920.8" y="165.9"/>
<use href="#k" x="1620.7" y="190.2"/>
<use href="#g" x="2406.9" y="154.3"/>
<use href="#k" x="1703.8" y="163.4"/>
<use href="#g" x="2438.3" y="196.2"/>
<use href="#g" x="2110.4" y="202.7"/>
<use href="#k" x="1665.5" y="300.5"/>
<use href="#p" x="1844.1" y="349.8"/>
<use href="#k" x="1615.1" y="161.4"/>
<use href="#g" x="1671.7" y="196.2"/>
<use href="#k" x="2075.1" y="188"/>
<use href="#k" x="2265.3" y="212.1"/>
<use href="#k" x="2124.3" y="153.6"/>
<use href="#g" x="2779.5" y="285"/>
<use href="#k" x="2121.1" y="182.3"/>
<use href="#g" x="2296.2" y="206.2"/>
<use href="#k" x="2978.5" y="154"/>
<use href="#g" x="2163.8" y="195.6"/>
<use href="#g" x="2108.5" y="308"/>
<use href="#g" x="2420.8" y="213.3"/>
<use href="#k" x="2066.3" y="222.7"/>
<use href="#k" x="2884.6" y="186"/>
<use href="#g" x="1764.3" y="200.9"/>
<use href="#g" x="2373.7" y="412"/>
<use href="#g" x="2235.2" y="357.6"/>
<use href="#k" x="2023.5" y="181.4"/>
<use href="#k" x="2026.8" y="204"/>
<use href="#k" x="1909.2" y="191.1"/>
<use href="#k" x="2020.5" y="227.2"/>
<use href="#k" x="1861.2" y="170"/>
<use href="#m" x="1239.3" y="163.7"/>
<use href="#k" x="2168.5" y="168.3"/>
<use href="#g" x="1712.3" y="229.7"/>
<use href="#p" x="2269.5" y="200.4"/>
<use href="#g" x="1886.9" y="232.4"/>
<use href="#k" x="2074.1" y="193.7"/>
<use href="#g" x="2868.3" y="153.9"/>
<use href="#k" x="1902.2" y="187.2"/>
<use href="#k" x="2037.8" y="159.8"/>
<use href="#p" x="1939.1" y="203.2"/>
<use href="#k" x="2129.1" y="183.3"/>
<use href="#k" x="2164.3" y="167.9"/>
<use href="#k" x="2073" y="202.6"/>
<use href="#g" x="2520.9" y="168.9"/>
<use href="#p" x="2491.7" y="153.9"/>
<use href="#k" x="2318.4" y="186.1"/>
<use href="#k" x="2022.3" y="225.3"/>
<use href="#k" x="2018.6" y="233.8"/>
<use href="#g" x="2238.2" y="171.1"/>
<use href="#g" x="1369.3" y="182.8"/>
<use href="#k" x="1987.5" y="183"/>
<use href="#k" x="2065" y="179.7"/>
<use href="#p" x="930.1" y="186.5"/>
<use href="#k" x="2007.8" y="196.3"/>
<use href="#k" x="2218.4" y="175.4"/>
<use href="#p" x="1020" y="153.9"/>
<use href="#p" x="3003.6" y="318.5"/>
<use href="#k" x="2196.5" y="181.4"/>
<use href="#g" x="1604.3" y="399.1"/>
<use href="#k" x="2413.7" y="203.9"/>
<use href="#g" x="2161" y="217.7"/>
<use href="#p" x="653.3" y="154.1"/>
<use href="#k" x="2765" y="199.5"/>
<use href="#k" x="2818.2" y="265"/>
<use href="#k" x="2055.5" y="216.6"/>
<use href="#k" x="1705.1" y="189.7"/>
<use href="#k" x="2740.4" y="153.6"/>
<use href="#g" x="1238.6" y="154.2"/>
<use href="#g" x="2828" y="205.1"/>
<use href="#k" x="1846.6" y="170.7"/>
<use href="#p" x="2279.5" y="226.7"/>
<use href="#g" x="1986.1" y="248.2"/>
<use href="#p" x="2971.3" y="153.9"/>
<use href="#k" x="2074.5" y="170.8"/>
<use href="#k" x="2045.7" y="190.8"/>
<use href="#k" x="2936.9" y="178"/>
<use href="#g" x="2222.3" y="268.2"/>
<use href="#k" x="1968.1" y="153.7"/>
<use href="#g" x="1703.3" y="218.9"/>
<use href="#k" x="2053" y="233.8"/>
<use href="#g" x="2509" y="186.4"/>
<use href="#k" x="2017.4" y="235.4"/>
<use href="#k" x="2206.4" y="165.1"/>
<use href="#k" x="2106.7" y="164.1"/>
<use href="#g" x="2176.4" y="225.7"/>
<use href="#k" x="2041.2" y="154.3"/>
<use href="#k" x="2063.8" y="172.4"/>
<use href="#k" x="2035.1" y="158.8"/>
<use href="#p" x="3107.4" y="153.6"/>
<use href="#k" x="2060.1" y="220.6"/>
<use href="#k" x="1609.4" y="244.4"/>
<use href="#k" x="1955.6" y="170.8"/>
<use href="#k" x="3121" y="178"/>
<use href="#p" x="1147.4" y="153.7"/>
<use href="#p" x="2143.8" y="154.4"/>
<use href="#p" x="2491" y="343"/>
<use href="#p" x="2693.3" y="160.4"/>
<use href="#g" x="2254.7" y="200.4"/>
<use href="#k" x="1699.8" y="171.4"/>
<use href="#k" x="2015" y="216.7"/>
<use href="#k" x="2295.1" y="154.3"/>
<use href="#g" x="1932" y="168.8"/>
<use href="#g" x="2094.5" y="204.5"/>
<use href="#k" x="2872.7" y="259.2"/>
<use href="#g" x="2239.3" y="305.6"/>
<use href="#k" x="1787" y="215.8"/>
<use href="#k" x="2454.1" y="184.3"/>
<use href="#k" x="2364.8" y="184.5"/>
<use href="#k" x="2124.7" y="157.5"/>
<use href="#k" x="2188.4" y="265.2"/>
<use href="#k" x="2015.8" y="165.8"/>
<use href="#g" x="2006.3" y="354.9"/>
<use href="#g" x="1960.6" y="265.9"/>
<use href="#k" x="2892.1" y="182.9"/>
<use href="#p" x="1047.1" y="154.7"/>
<use href="#k" x="2057.1" y="170.6"/>
<use href="#k" x="2147.9" y="174.5"/>
<use href="#k" x="2083.5" y="175.6"/>
<use href="#g" x="2232.8" y="200.4"/>
<use href="#k" x="2003.5" y="169.6"/>
<use href="#g" x="1651.9" y="304.9"/>
<use href="#k" x="2061.3" y="190.9"/>
<use href="#p" x="2244.6" y="206.5"/>
<use href="#k" x="2024.3" y="165.3"/>
<use href="#k" x="2044.4" y="191.8"/>
<use href="#g" x="2860.4" y="192.1"/>
<use href="#p" x="933.4" y="154.5"/>
<use href="#g" x="2141.1" y="261.7"/>
<use href="#g" x="2239.5" y="214"/>
<use href="#g" x="1241.6" y="249.5"/>
<use href="#k" x="2002.6" y="198"/>
<use href="#p" x="1111.6" y="153.5"/>
<use href="#p" x="2094.6" y="170.5"/>
<use href="#g" x="2873.4" y="193.2"/>
<use href="#k" x="1992.3" y="168"/>
<use href="#k" x="1665.6" y="162.8"/>
<use href="#k" x="2014.7" y="242.2"/>
<use href="#r" x="1702.9" y="153.5"/>
<use href="#p" x="2353.6" y="154.4"/>
<use href="#k" x="1997.8" y="155.1"/>
<use href="#g" x="1600.3" y="224.5"/>
<use href="#p" x="837.1" y="154.6"/>
<use href="#p" x="649.5" y="154.9"/>
<use href="#g" x="1803.3" y="211.9"/>
<use href="#g" x="2363.5" y="297.1"/>
<use href="#r" x="918.2" y="176.3"/>
<use href="#k" x="2069" y="183.6"/>
<use href="#k" x="2456.9" y="252.8"/>
<use href="#k" x="2366.6" y="176.6"/>
<use href="#k" x="2001.8" y="186.3"/>
<use href="#k" x="2140.5" y="185.3"/>
<use href="#k" x="2066.1" y="169.5"/>
<use href="#k" x="2895.8" y="281.6"/>
<use href="#g" x="1811.8" y="326"/>
<use href="#k" x="2000.5" y="183.1"/>
<use href="#k" x="2088.9" y="193.7"/>
<use href="#r" x="2718.9" y="174.6"/>
<use href="#g" x="2260.3" y="199.8"/>
<use href="#k" x="2037" y="202"/>
<use href="#k" x="1719.7" y="183.3"/>
<use href="#k" x="2168.2" y="155.4"/>
<use href="#p" x="1778.7" y="214.6"/>
<use href="#g" x="1693" y="198.9"/>
<use href="#k" x="2100.7" y="333.3"/>
<use href="#g" x="2419.5" y="188.1"/>
<use href="#k" x="2063.4" y="188"/>
<use href="#g" x="2168.4" y="252"/>
<use href="#g" x="2740.9" y="246.6"/>
<use href="#k" x="2083.2" y="186.1"/>
<use href="#g" x="1742.2" y="206"/>
<use href="#p" x="716.8" y="153.6"/>
<use href="#k" x="2518.9" y="154.2"/>
<use href="#k" x="2092.5" y="181.7"/>
<use href="#k" x="2391.7" y="318.6"/>
<use href="#g" x="1698" y="185.3"/>
<use href="#k" x="2027.2" y="169"/>
<use href="#k" x="1982.1" y="217.4"/>
<use href="#p" x="2607.8" y="155.6"/>
<use href="#g" x="2737.6" y="219.5"/>
<use href="#k" x="2009.7" y="220.2"/>
<use href="#g" x="1789.1" y="205.2"/>
<use href="#g" x="1706" y="191.2"/>
<use href="#g" x="2311" y="231.7"/>
<use href="#p" x="2763.8" y="310.7"/>
<use href="#k" x="2015.3" y="157"/>
<use href="#g" x="2052" y="231.8"/>
<use href="#k" x="2073.5" y="162.4"/>
<use href="#k" x="2114.9" y="175.5"/>
<use href="#r" x="1374.7" y="154.2"/>
<use href="#g" x="1800.1" y="216.1"/>
<use href="#g" x="1799" y="210.4"/>
<use href="#k" x="2045.5" y="196.2"/>
<use href="#g" x="1419.3" y="154"/>
<use href="#k" x="2831.9" y="264.9"/>
<use href="#k" x="2064.4" y="164.4"/>
<use href="#k" x="1843.4" y="214.2"/>
<use href="#k" x="1834.4" y="165.1"/>
<use href="#m" x="603.6" y="157.6"/>
<use href="#g" x="1819.4" y="234.3"/>
<use href="#k" x="2033.1" y="191.7"/>
<use href="#p" x="2623.7" y="172.7"/>
<use href="#r" x="2690" y="153.5"/>
<use href="#k" x="1870.1" y="174.5"/>
<use href="#k" x="2093.9" y="181.7"/>
<use href="#k" x="2764.9" y="211.1"/>
<use href="#g" x="2514.9" y="198.2"/>
<use href="#k" x="2004" y="167.9"/>
<use href="#r" x="1173.3" y="213.7"/>
<use href="#g" x="2087.7" y="333.3"/>
<use href="#g" x="2263.2" y="214.9"/>
<use href="#g" x="1817.2" y="183.6"/>
<use href="#p" x="1099.2" y="258"/>
<use href="#k" x="2074.7" y="216.4"/>
<use href="#k" x="2178.1" y="156.7"/>
<use href="#g" x="2177.6" y="287.8"/>
<use href="#k" x="2010.3" y="167.7"/>
<use href="#k" x="2145.4" y="213.7"/>
<use href="#r" x="865.5" y="223.9"/>
<use href="#p" x="1055.5" y="153.7"/>
<use href="#k" x="2409.7" y="213.5"/>
<use href="#k" x="2515.2" y="190.8"/>
<use href="#k" x="2168.2" y="178.7"/>
<use href="#g" x="2831.5" y="154.4"/>
<use href="#k" x="2198.9" y="195"/>
<use href="#r" x="1020.3" y="155.9"/>
<use href="#k" x="2048" y="193.1"/>
<use href="#g" x="2406.5" y="200.4"/>
<use href="#p" x="2238.2" y="228.4"/>
<use href="#k" x="2057.1" y="185.6"/>
<use href="#g" x="1865.3" y="243.4"/>
<use href="#p" x="2935.6" y="259.7"/>
<use href="#g" x="2221.7" y="187"/>
<use href="#k" x="1999.1" y="217.9"/>
<use href="#r" x="1352.6" y="153.5"/>
<use href="#g" x="2264.5" y="202.8"/>
<use href="#k" x="2062.6" y="206"/>
<use href="#r" x="1326.4" y="259.7"/>
<use href="#k" x="2039.4" y="199.3"/>
<use href="#g" x="1842.4" y="156"/>
<use href="#k" x="2078.7" y="165.1"/>
<use href="#k" x="1830.5" y="194.3"/>
<use href="#k" x="2698.1" y="200.8"/>
<use href="#k" x="2031.9" y="247"/>
<use href="#g" x="2431" y="269"/>
<use href="#p" x="1084.9" y="153.6"/>
<use href="#g" x="2107.4" y="255.6"/>
<use href="#k" x="3070.1" y="163.1"/>
<use href="#p" x="3043.3" y="153.6"/>
<use href="#k" x="2867.1" y="223"/>
<use href="#g" x="2224" y="395"/>
<use href="#k" x="2612.6" y="158.3"/>
<use href="#k" x="2127.4" y="236.4"/>
<use href="#p" x="2439.8" y="167.6"/>
<use href="#g" x="2272.8" y="227.6"/>
<use href="#k" x="2191.9" y="165.9"/>
<use href="#p" x="2550.8" y="208.6"/>
<use href="#k" x="2000.2" y="233.5"/>
<use href="#k" x="2008" y="227.7"/>
<use href="#p" x="2403.6" y="220.3"/>
<use href="#k" x="2919.2" y="153.8"/>
<use href="#g" x="2074.1" y="255.8"/>
<use href="#k" x="2156.9" y="171.2"/>
<use href="#k" x="2929.2" y="174.3"/>
<use href="#g" x="2195.6" y="153.8"/>
<use href="#g" x="2729" y="179.5"/>
<use href="#p" x="906.1" y="153.7"/>
<use href="#k" x="1736.2" y="156.9"/>
<use href="#p" x="2384.5" y="211.1"/>
<use href="#p" x="1879.8" y="212.4"/>
<use href="#g" x="1543.8" y="193.2"/>
<use href="#g" x="2666.8" y="186.1"/>
<use href="#g" x="2486.2" y="168.4"/>
<use href="#k" x="2134.4" y="229"/>
<use href="#g" x="2406" y="184.1"/>
<use href="#k" x="1944.1" y="190.4"/>
<use href="#r" x="2893.1" y="276"/>
<use href="#k" x="1760.2" y="176.7"/>
<use href="#k" x="2063.3" y="174.4"/>
<use href="#k" x="2881.8" y="355.2"/>
<use href="#k" x="2067.4" y="210.6"/>
<use href="#k" x="2064.7" y="169.1"/>
<use href="#k" x="2164.7" y="186.1"/>
<use href="#g" x="2086.9" y="219.9"/>
<use href="#g" x="1910.3" y="154.3"/>
<use href="#k" x="1910.6" y="186.3"/>
<use href="#r" x="1056" y="195"/>
<use href="#k" x="2538.6" y="266.5"/>
<use href="#p" x="2091.4" y="161.5"/>
<use href="#k" x="2036.6" y="205.7"/>
<use href="#k" x="2038.9" y="217.8"/>
<use href="#r" x="2867.6" y="380.4"/>
<use href="#p" x="2239.3" y="476.3"/>
<use href="#g" x="1117.2" y="273.3"/>
<use href="#k" x="2016.2" y="187"/>
<use href="#k" x="2531.1" y="255.3"/>
<use href="#p" x="1260.7" y="208.6"/>
<use href="#g" x="1061.1" y="179.7"/>
<use href="#g" x="2944.1" y="343"/>
<use href="#k" x="2759.9" y="174.7"/>
<use href="#k" x="2185.8" y="184.2"/>
<use href="#p" x="1920.8" y="154.6"/>
<use href="#p" x="2240.3" y="155.1"/>
<use href="#p" x="1771.4" y="154.3"/>
<use href="#g" x="2884.8" y="217.1"/>
<use href="#k" x="2013.9" y="242.1"/>
<use href="#k" x="2016.7" y="187.5"/>
<use href="#k" x="2623.4" y="158"/>
<use href="#g" x="2423.1" y="179.6"/>
<use href="#k" x="2283.5" y="185.5"/>
<use href="#k" x="2389.5" y="184.7"/>
<use href="#g" x="2279.1" y="397.4"/>
<use href="#g" x="2247.9" y="202.8"/>
<use href="#g" x="2177.9" y="170.8"/>
<use href="#g" x="2045.5" y="303.1"/>
<use href="#g" x="1852.2" y="183.3"/>
<use href="#g" x="2947" y="171.1"/>
<use href="#k" x="1710.9" y="176.2"/>
<use href="#k" x="2143.9" y="179.5"/>
<use href="#k" x="2635.8" y="154.6"/>
<use href="#k" x="2187.5" y="173.8"/>
<use href="#k" x="2000.3" y="214.8"/>
<use href="#g" x="2180.6" y="184.6"/>
<use href="#k" x="2408.9" y="200.6"/>
<use href="#k" x="2053.5" y="207.5"/>
<use href="#k" x="1734.7" y="170.4"/>
<use href="#g" x="1168.9" y="154.6"/>
<use href="#g" x="2812.1" y="242.3"/>
<use href="#k" x="2267.6" y="186.9"/>
<use href="#g" x="2568.3" y="171.4"/>
<use href="#k" x="1977.6" y="231.7"/>
<use href="#g" x="1238.6" y="212"/>
<use href="#k" x="1640" y="269.2"/>
<use href="#k" x="2129.9" y="174.7"/>
<use href="#g" x="1967.1" y="230.2"/>
<use href="#k" x="2026.7" y="171.7"/>
<use href="#p" x="2552.8" y="153.9"/>
<use href="#k" x="2011.3" y="254"/>
<use href="#k" x="2104.4" y="167.4"/>
<use href="#p" x="562.8" y="154.2"/>
<use href="#r" x="2725.7" y="195"/>
<use href="#g" x="2008.1" y="172.4"/>
<use href="#p" x="2782.1" y="203.8"/>
<use href="#k" x="2338.5" y="173"/>
<use href="#k" x="2031.5" y="156.1"/>
<use href="#k" x="2901.6" y="361"/>
<use href="#k" x="1861.6" y="189.8"/>
<use href="#g" x="2128.7" y="153.6"/>
<use href="#r" x="930.1" y="153.5"/>
<use href="#k" x="1952.5" y="202.1"/>
<use href="#k" x="2065.4" y="196.9"/>
<use href="#k" x="2189.7" y="163.1"/>
<use href="#p" x="1777" y="154"/>
<use href="#g" x="2504.6" y="281.8"/>
<use href="#k" x="2161.2" y="175.8"/>
<use href="#k" x="2135.4" y="197.8"/>
<use href="#r" x="1092.4" y="188.2"/>
<use href="#k" x="1663.8" y="281.8"/>
<use href="#k" x="1747.7" y="157.2"/>
<use href="#p" x="2821.6" y="157.6"/>
<use href="#k" x="2120.4" y="165"/>
<use href="#r" x="2813.1" y="263.1"/>
<use href="#k" x="2307.6" y="238.6"/>
<use href="#g" x="2720.9" y="232.6"/>
<use href="#r" x="1374.7" y="164.4"/>
<use href="#k" x="2182.2" y="153.7"/>
<use href="#p" x="2839.7" y="153.9"/>
<use href="#k" x="2085.3" y="185.1"/>
<use href="#k" x="2113.8" y="313.1"/>
<use href="#k" x="2000.7" y="195.4"/>
<use href="#g" x="2061.8" y="266.5"/>
<use href="#g" x="1778.5" y="208.9"/>
<use href="#p" x="1946.8" y="154.8"/>
<use href="#k" x="2066.9" y="199.3"/>
<use href="#p" x="2786.1" y="206.6"/>
<use href="#k" x="1714.7" y="268.2"/>
<use href="#g" x="2372" y="409.3"/>
<use href="#p" x="1770.3" y="166.6"/>
<use href="#k" x="1917.4" y="183.7"/>
<use href="#g" x="1975.1" y="333"/>
<use href="#p" x="1104.3" y="154.8"/>
<use href="#k" x="1681.2" y="157.9"/>
<use href="#k" x="2203.6" y="185.4"/>
<use href="#k" x="2189.1" y="186"/>
<use href="#k" x="2185.6" y="179.9"/>
<use href="#g" x="2790.4" y="177.8"/>
<use href="#k" x="2892.6" y="175.4"/>
<use href="#g" x="2426.9" y="170.3"/>
<use href="#k" x="2011.9" y="233.9"/>
<use href="#p" x="668" y="153.6"/>
<use href="#k" x="2051.7" y="195.1"/>
<use href="#p" x="2957.5" y="153.5"/>
<use href="#g" x="2179.1" y="311.1"/>
<use href="#g" x="2730.4" y="242"/>
<use href="#g" x="2185.3" y="164"/>
<use href="#k" x="2003.3" y="201.5"/>
<use href="#p" x="1159.7" y="330.4"/>
<use href="#k" x="2325.2" y="154.8"/>
<use href="#p" x="2488.3" y="223.9"/>
<use href="#k" x="1895.6" y="221"/>
<use href="#k" x="2065.9" y="163.9"/>
<use href="#g" x="2137.3" y="360"/>
<use href="#p" x="2351.5" y="179.7"/>
<use href="#g" x="2036.7" y="238.3"/>
<use href="#k" x="2028" y="180.5"/>
<use href="#g" x="1439.6" y="214.7"/>
<use href="#k" x="2212.1" y="184.1"/>
<use href="#g" x="2805.6" y="163.1"/>
<use href="#k" x="2190.7" y="178.6"/>
<use href="#g" x="2391.4" y="227.1"/>
<use href="#k" x="2185.6" y="198.5"/>
<use href="#r" x="1249.5" y="197.8"/>
<use href="#k" x="2879.5" y="162.2"/>
<use href="#g" x="2130.5" y="231.6"/>
<use href="#p" x="3057.6" y="153.9"/>
<use href="#k" x="2057.3" y="187"/>
<use href="#r" x="829.8" y="154.2"/>
<use href="#g" x="1752.8" y="173.5"/>
<use href="#g" x="2428.1" y="341.3"/>
<use href="#p" x="2293" y="153.8"/>
<use href="#m" x="709" y="154.9"/>
<use href="#k" x="2167.6" y="178.4"/>
<use href="#k" x="1996.6" y="227.9"/>
<use href="#p" x="2974.5" y="153.5"/>
<use href="#k" x="2174.1" y="170.5"/>
<use href="#g" x="2344.9" y="171"/>
<use href="#p" x="2792.7" y="343"/>
<use href="#k" x="2177.9" y="180.3"/>
<use href="#g" x="2152.1" y="156.1"/>
<use href="#k" x="2151.4" y="171.8"/>
<use href="#k" x="1905.7" y="208"/>
<use href="#p" x="1947" y="214.3"/>
<use href="#g" x="2712.1" y="223.9"/>
<use href="#g" x="2659.2" y="163.1"/>
<use href="#g" x="2040.3" y="412"/>
<use href="#k" x="1689.9" y="211.8"/>
<use href="#k" x="1822" y="303.2"/>
<use href="#g" x="2117.5" y="237"/>
<use href="#k" x="2012" y="171.3"/>
<use href="#k" x="2744.5" y="235.8"/>
<use href="#k" x="2073.1" y="166"/>
<use href="#g" x="2075.4" y="284.3"/>
<use href="#g" x="1249.7" y="211.6"/>
<use href="#p" x="2151.1" y="224.4"/>
<use href="#k" x="2813.8" y="165.8"/>
<use href="#k" x="2413.4" y="168.1"/>
<use href="#k" x="1987.8" y="156.1"/>
<use href="#k" x="2123.7" y="176"/>
<use href="#g" x="2678.1" y="188.2"/>
<use href="#p" x="3049.7" y="153.9"/>
<use href="#k" x="2331.3" y="194.9"/>
<use href="#k" x="2162.8" y="169.5"/>
<use href="#g" x="2847.8" y="298.7"/>
<use href="#r" x="2857.3" y="373.6"/>
<use href="#g" x="1819" y="209.4"/>
<use href="#k" x="2100" y="157.4"/>
<use href="#g" x="2070.7" y="317.3"/>
<use href="#k" x="2037.5" y="231.3"/>
<use href="#k" x="2377.2" y="198.7"/>
<use href="#p" x="3118.4" y="153.5"/>
<use href="#g" x="2034.8" y="254"/>
<use href="#p" x="3056.3" y="153.9"/>
<use href="#g" x="2426.4" y="263.1"/>
<use href="#k" x="2010.1" y="175.9"/>
<use href="#p" x="2554.7" y="188.2"/>
<use href="#k" x="2768.8" y="217.6"/>
<use href="#k" x="2000.1" y="212.2"/>
<use href="#p" x="1109.5" y="154"/>
<use href="#g" x="2308.1" y="212.7"/>
<use href="#k" x="1985.2" y="201"/>
<use href="#g" x="2055.6" y="373.6"/>
<use href="#k" x="2061.7" y="249.1"/>
<use href="#g" x="2058.7" y="235.2"/>
<use href="#k" x="2545.4" y="259.7"/>
<use href="#p" x="1800.1" y="153.5"/>
<use href="#k" x="2812.2" y="175"/>
<use href="#g" x="1898.9" y="164.2"/>
<use href="#p" x="880.8" y="227.3"/>
<use href="#k" x="2172.9" y="157.8"/>
<use href="#k" x="2022.1" y="214.7"/>
<use href="#k" x="1987.6" y="164"/>
<use href="#k" x="1998" y="180.3"/>
<use href="#g" x="1378.1" y="167.8"/>
<use href="#g" x="2445.4" y="218.3"/>
<use href="#g" x="1675.2" y="229.7"/>
<use href="#k" x="1865.4" y="180.7"/>
<use href="#g" x="2141.3" y="153.9"/>
<use href="#k" x="2164.4" y="188.1"/>
<use href="#g" x="1671.7" y="193.9"/>
<use href="#k" x="2136.4" y="339.4"/>
<use href="#p" x="1429.1" y="242.7"/>
<use href="#k" x="2069.9" y="238.5"/>
<use href="#g" x="1754.1" y="160.2"/>
<use href="#g" x="2032.5" y="207.3"/>
<use href="#k" x="1721.9" y="177.7"/>
<use href="#k" x="2969.4" y="153.7"/>
<use href="#g" x="2247" y="201.7"/>
<use href="#r" x="904.6" y="201.2"/>
<use href="#g" x="2987.3" y="395"/>
<use href="#g" x="1860.3" y="221.7"/>
<use href="#k" x="2162.1" y="171.5"/>
<use href="#k" x="2384.6" y="291.7"/>
<use href="#r" x="1109.4" y="282.4"/>
<use href="#k" x="2093.3" y="175.5"/>
<use href="#g" x="2404.7" y="185.2"/>
<use href="#k" x="2471.5" y="162.6"/>
<use href="#k" x="1948.6" y="251.8"/>
<use href="#p" x="2518.2" y="263.7"/>
<use href="#k" x="1939.6" y="225.9"/>
<use href="#k" x="2018.5" y="178.6"/>
<use href="#k" x="2030.1" y="161"/>
<use href="#g" x="2916.9" y="378.7"/>
<use href="#g" x="2530.8" y="207.1"/>
<use href="#g" x="2855.6" y="405.9"/>
<use href="#g" x="2448.4" y="153.6"/>
<use href="#k" x="2430.1" y="165.7"/>
<use href="#k" x="2005.3" y="206.6"/>
<use href="#k" x="2879.4" y="214.1"/>
<use href="#g" x="833.2" y="187.6"/>
<use href="#k" x="1945.2" y="174"/>
<use href="#k" x="2038.5" y="157.2"/>
<use href="#k" x="1932.4" y="219.7"/>
<use href="#k" x="2873.6" y="164.1"/>
<use href="#k" x="2054" y="198.5"/>
<use href="#k" x="2072.8" y="165.2"/>
<use href="#p" x="2490.7" y="154"/>
<use href="#k" x="2010.1" y="205.9"/>
<use href="#k" x="2016.1" y="176.3"/>
<use href="#k" x="2021.1" y="211.8"/>
<use href="#g" x="2269.7" y="295.5"/>
<use href="#k" x="2895.8" y="193.1"/>
<use href="#p" x="1946.8" y="273.9"/>
<use href="#p" x="2977" y="154.3"/>
<use href="#k" x="2130.7" y="180.4"/>
<use href="#k" x="1827.2" y="193.1"/>
<use href="#p" x="2196.3" y="192"/>
<use href="#p" x="2964.5" y="249.5"/>
<use href="#g" x="2374.5" y="180.2"/>
<use href="#k" x="1871.3" y="154.2"/>
<use href="#k" x="2136" y="161"/>
<use href="#k" x="1879.9" y="164.7"/>
<use href="#g" x="2101.9" y="228.4"/>
<use href="#g" x="2508.8" y="153.8"/>
<use href="#p" x="1118.9" y="169.5"/>
<use href="#k" x="2220.9" y="185.4"/>
<use href="#r" x="1488.6" y="198.4"/>
<use href="#p" x="762.7" y="154.2"/>
<use href="#r" x="2496.8" y="393"/>
<use href="#k" x="2045.3" y="194.6"/>
<use href="#g" x="2412.8" y="331.1"/>
<use href="#k" x="2102.9" y="179.2"/>
<use href="#k" x="2840.2" y="226.1"/>
<use href="#k" x="2075.3" y="193.4"/>
<use href="#k" x="2045.3" y="234.7"/>
<use href="#g" x="2373.1" y="197.2"/>
<use href="#r" x="3397.1" y="154.2"/>
<use href="#k" x="2126.6" y="161.4"/>
<use href="#g" x="1694.5" y="215.4"/>
<use href="#k" x="1675.6" y="209.6"/>
<use href="#k" x="2902.2" y="168"/>
<use href="#p" x="2290" y="153.7"/>
<use href="#k" x="2418.9" y="247.8"/>
<use href="#k" x="2413.5" y="220.2"/>
<use href="#g" x="2062" y="216"/>
<use href="#g" x="1088.3" y="222.2"/>
<use href="#k" x="2148.5" y="154"/>
<use href="#g" x="1610.6" y="185.9"/>
<use href="#p" x="3016.1" y="153.6"/>
<use href="#g" x="2363.5" y="286.9"/>
<use href="#g" x="2609.4" y="195.5"/>
<use href="#p" x="2293.6" y="188.2"/>
<use href="#g" x="2721.5" y="232.1"/>
<use href="#p" x="1519.3" y="203.5"/>
<use href="#g" x="2266.4" y="223.9"/>
<use href="#k" x="1729.8" y="169.1"/>
<use href="#k" x="1915.1" y="153.6"/>
<use href="#k" x="1779.6" y="171.4"/>
<use href="#p" x="1695" y="214.3"/>
<use href="#k" x="2006.3" y="235.2"/>
<use href="#g" x="1778.4" y="177.7"/>
<use href="#k" x="2093.6" y="155.9"/>
<use href="#k" x="2037.8" y="284.1"/>
<use href="#k" x="2843.3" y="306.1"/>
<use href="#k" x="2015.1" y="190.9"/>
<use href="#g" x="877.4" y="286.2"/>
<use href="#k" x="2156.7" y="164.8"/>
<use href="#g" x="2388.9" y="157.8"/>
<use href="#g" x="2350" y="285.7"/>
<use href="#g" x="2624" y="161.4"/>
<use href="#g" x="2390.4" y="198.1"/>
<use href="#g" x="2872.6" y="195.5"/>
<use href="#g" x="2836.9" y="210.7"/>
<use href="#k" x="1608" y="184.3"/>
<use href="#k" x="2036.5" y="195.2"/>
<use href="#p" x="1464.8" y="201.8"/>
<use href="#p" x="2700.6" y="153.7"/>
<use href="#p" x="1673.1" y="207.7"/>
<use href="#k" x="2501.2" y="232.4"/>
<use href="#k" x="2781.3" y="212.5"/>
<use href="#g" x="1798.5" y="198.4"/>
<use href="#k" x="2065.9" y="188.7"/>
<use href="#p" x="2877.1" y="247.5"/>
<use href="#k" x="2010.5" y="223.4"/>
<use href="#p" x="1057.7" y="188.2"/>
<use href="#k" x="2040.4" y="193.3"/>
<use href="#r" x="2750.2" y="155.9"/>
<use href="#g" x="2682.7" y="181.4"/>
<use href="#k" x="1739.1" y="273.9"/>
<use href="#g" x="2446.8" y="273.3"/>
<use href="#g" x="2321.6" y="184.7"/>
<use href="#g" x="2712.8" y="164.9"/>
<use href="#g" x="2487.1" y="214.2"/>
<use href="#k" x="2202.1" y="179.3"/>
<use href="#g" x="1474.3" y="155.2"/>
<use href="#k" x="2023.7" y="234"/>
<use href="#k" x="2132" y="165.3"/>
<use href="#k" x="2031.2" y="202.5"/>
<use href="#p" x="1479.5" y="154.3"/>
<use href="#k" x="2063.4" y="176.2"/>
<use href="#k" x="2002.4" y="239.1"/>
<use href="#g" x="2064.4" y="294.9"/>
<use href="#k" x="1884.4" y="165.1"/>
<use href="#k" x="2052.6" y="206.1"/>
<use href="#k" x="2255.1" y="158"/>
<use href="#k" x="1879.5" y="167.9"/>
<use href="#k" x="1775.9" y="195.6"/>
<use href="#k" x="2169.3" y="177.3"/>
<use href="#g" x="1961.6" y="275.2"/>
<use href="#k" x="2039.1" y="202.2"/>
<use href="#g" x="2031.6" y="251.6"/>
<use href="#k" x="2187.9" y="158.7"/>
<use href="#g" x="2124.1" y="255.5"/>
<use href="#k" x="3059.6" y="177.9"/>
<use href="#k" x="3097.7" y="176"/>
<use href="#k" x="2072.5" y="165.8"/>
<use href="#k" x="2041.6" y="229.7"/>
<use href="#g" x="1172.3" y="208.6"/>
<use href="#g" x="1873.8" y="191.6"/>
<use href="#g" x="2303.9" y="276.7"/>
<use href="#k" x="1973.8" y="265.8"/>
<use href="#g" x="2348.2" y="286.9"/>
<use href="#g" x="1876.3" y="206.2"/>
<use href="#k" x="2039.2" y="202.5"/>
<use href="#p" x="2564.6" y="207.2"/>
<use href="#k" x="2028.2" y="156.9"/>
<use href="#r" x="953.9" y="316.5"/>
<use href="#p" x="2468.2" y="196.7"/>
<use href="#g" x="2287.8" y="221.4"/>
<use href="#k" x="2018.8" y="174.6"/>
<use href="#k" x="1942.1" y="159.4"/>
<use href="#k" x="2890.3" y="197.3"/>
<use href="#k" x="2360.2" y="195.9"/>
<use href="#p" x="3211.1" y="155.9"/>
<use href="#k" x="2126.2" y="246.1"/>
<use href="#g" x="1385.3" y="191.6"/>
<use href="#k" x="2005.9" y="226.6"/>
<use href="#g" x="2000.8" y="287"/>
<use href="#g" x="2002.9" y="278"/>
<use href="#k" x="2061.5" y="157.3"/>
<use href="#k" x="2058.8" y="191.9"/>
<use href="#g" x="2920.3" y="189.7"/>
<use href="#g" x="1850.7" y="153.6"/>
<use href="#k" x="2174.7" y="344.7"/>
<use href="#g" x="1878.5" y="211.1"/>
<use href="#g" x="2084.5" y="212.3"/>
<use href="#p" x="1582.2" y="395.7"/>
<use href="#g" x="2387.1" y="155.6"/>
<use href="#k" x="2036.2" y="233.6"/>
<use href="#g" x="1928.7" y="255"/>
<use href="#k" x="1988.7" y="204.3"/>
<use href="#g" x="2738.8" y="154.4"/>
<use href="#k" x="2071.1" y="202"/>
<use href="#k" x="2439.8" y="331.6"/>
<use href="#k" x="2048.2" y="217.8"/>
<use href="#k" x="2490.5" y="233.5"/>
<use href="#k" x="2016.8" y="225.8"/>
<use href="#k" x="1987.3" y="288.8"/>
<use href="#k" x="2074.8" y="218.9"/>
<use href="#g" x="2262.7" y="202"/>
<use href="#g" x="1986.2" y="313.8"/>
<use href="#g" x="2232.5" y="310.7"/>
<use href="#p" x="2310.4" y="202"/>
<use href="#g" x="2296.4" y="202.9"/>
<use href="#k" x="2043.3" y="174.5"/>
<use href="#k" x="2588.9" y="188.7"/>
<use href="#k" x="2964.5" y="186.5"/>
<use href="#g" x="2857.6" y="210.1"/>
<use href="#k" x="2619.1" y="153.8"/>
<use href="#g" x="1967.2" y="247.7"/>
<use href="#g" x="2188.5" y="311.2"/>
<use href="#g" x="2946.2" y="182.2"/>
<use href="#g" x="2055.6" y="285.2"/>
<use href="#p" x="2231.9" y="153.5"/>
<use href="#g" x="2147.3" y="271.7"/>
<use href="#g" x="1923.1" y="271.9"/>
<use href="#k" x="2846.6" y="233.9"/>
<use href="#k" x="1897.8" y="210.7"/>
<use href="#k" x="2021.1" y="219.7"/>
<use href="#g" x="2082.4" y="249.9"/>
<use href="#p" x="1105.3" y="285.2"/>
<use href="#g" x="2485.9" y="223"/>
<use href="#g" x="2284.3" y="241.6"/>
<use href="#k" x="2231.7" y="176.6"/>
<use href="#g" x="2774.3" y="166.3"/>
<use href="#k" x="2235.4" y="156.1"/>
<use href="#p" x="1741.5" y="155"/>
<use href="#p" x="963.7" y="153.9"/>
<use href="#k" x="2853.9" y="304.2"/>
<use href="#g" x="1677.8" y="206.3"/>
<use href="#g" x="2928.8" y="244.4"/>
<use href="#k" x="2014.4" y="186.3"/>
<use href="#g" x="2740" y="371.9"/>
<use href="#g" x="2807.1" y="172"/>
<use href="#k" x="2198.9" y="177.7"/>
<use href="#p" x="2479.3" y="201.7"/>
<use href="#g" x="2356.3" y="153.6"/>
<use href="#g" x="1958.9" y="206.8"/>
<use href="#k" x="2063.2" y="155"/>
<use href="#k" x="2060.1" y="180.1"/>
<use href="#g" x="2935.6" y="337.9"/>
<use href="#k" x="2026.8" y="182"/>
<use href="#k" x="1984.8" y="184.3"/>
<use href="#g" x="2957.7" y="387.2"/>
<use href="#p" x="2729.4" y="169.7"/>
<use href="#p" x="2223.6" y="231.9"/>
<use href="#k" x="2851.4" y="227.5"/>
<use href="#k" x="2157" y="167"/>
<use href="#p" x="1032.3" y="153.9"/>
<use href="#k" x="1821.8" y="201.2"/>
<use href="#k" x="2048.1" y="212.6"/>
<use href="#p" x="1088.1" y="154.8"/>
<use href="#g" x="2136" y="230.2"/>
<use href="#g" x="1846.2" y="230.6"/>
<use href="#r" x="812.8" y="153.5"/>
<use href="#k" x="1490.3" y="322.6"/>
<use href="#k" x="2004.8" y="187.4"/>
<use href="#g" x="1566.3" y="222.9"/>
<use href="#k" x="2078" y="170.3"/>
<use href="#k" x="2179.5" y="172.4"/>
<use href="#g" x="2781.3" y="207"/>
<use href="#k" x="2154.1" y="291.7"/>
<use href="#p" x="2373.8" y="189.2"/>
<use href="#p" x="753.6" y="154"/>
<use href="#k" x="2030.6" y="220.8"/>
<use href="#k" x="2097.3" y="162.6"/>
<use href="#k" x="2249.5" y="182.2"/>
<use href="#g" x="1588.3" y="247.1"/>
<use href="#g" x="2092.5" y="288.2"/>
<use href="#g" x="2821.9" y="203.9"/>
<use href="#k" x="2015.7" y="161.9"/>
<use href="#k" x="2014.8" y="184.8"/>
<use href="#k" x="2045.8" y="218.7"/>
<use href="#p" x="2235.5" y="153.8"/>
<use href="#g" x="2321.9" y="190.1"/>
<use href="#g" x="2565.2" y="208.5"/>
<use href="#k" x="2180.4" y="181.3"/>
<use href="#g" x="2374" y="220"/>
<use href="#p" x="2751.5" y="154.4"/>
<use href="#g" x="2709" y="181.8"/>
<use href="#g" x="2386.6" y="164.1"/>
<use href="#m" x="2143.1" y="373.6"/>
<use href="#g" x="2211" y="165"/>
<use href="#k" x="2001.9" y="169.5"/>
<use href="#k" x="2022.9" y="173.3"/>
<use href="#g" x="2310.4" y="215.2"/>
<use href="#g" x="1835.3" y="225.7"/>
<use href="#g" x="2394.1" y="311"/>
<use href="#k" x="2078.1" y="156.6"/>
<use href="#g" x="2453.1" y="203.2"/>
<use href="#k" x="2425.6" y="170.8"/>
<use href="#k" x="2407.7" y="312.4"/>
<use href="#k" x="2903.3" y="171.2"/>
<use href="#g" x="2118.3" y="307.7"/>
<use href="#k" x="2478.9" y="214.2"/>
<use href="#g" x="1959.6" y="154.2"/>
<use href="#g" x="2377.3" y="171.1"/>
<use href="#p" x="1874.3" y="227.4"/>
<use href="#k" x="1577.4" y="207.6"/>
<use href="#k" x="1790.3" y="180.7"/>
<use href="#k" x="1698.7" y="189.5"/>
<use href="#g" x="1752.3" y="203.3"/>
<use href="#k" x="2006.7" y="157.6"/>
<use href="#g" x="1914.4" y="181.3"/>
<use href="#k" x="2078.8" y="169.1"/>
<use href="#k" x="2773" y="242.8"/>
<use href="#g" x="1820.6" y="219.2"/>
<use href="#k" x="2853.6" y="262.5"/>
<use href="#k" x="2061.9" y="214.4"/>
<use href="#r" x="2772.3" y="256.3"/>
<use href="#g" x="2039.1" y="237.2"/>
<use href="#g" x="2375.6" y="157.6"/>
<use href="#g" x="1939.6" y="157.9"/>
<use href="#p" x="2488.7" y="172.3"/>
<use href="#p" x="2059.3" y="153.5"/>
<use href="#k" x="2782.8" y="166.7"/>
<use href="#k" x="2211.9" y="165.6"/>
<use href="#k" x="1737.1" y="184"/>
<use href="#k" x="2868.5" y="182.3"/>
<use href="#p" x="2641.8" y="196.4"/>
<use href="#p" x="3037.6" y="179.7"/>
<use href="#p" x="2471.8" y="171.6"/>
<use href="#k" x="2184.9" y="158.1"/>
<use href="#p" x="2321.6" y="233.3"/>
<use href="#k" x="2881.4" y="329.7"/>
<use href="#k" x="2175.2" y="166.8"/>
<use href="#k" x="2077.1" y="161.7"/>
<use href="#g" x="2171.6" y="183.8"/>
<use href="#k" x="1987.6" y="221.6"/>
<use href="#g" x="1958.3" y="199.2"/>
<use href="#k" x="2016.4" y="194.7"/>
<use href="#g" x="1160.6" y="189.9"/>
<use href="#g" x="1979.2" y="279.3"/>
<use href="#p" x="2109" y="154.1"/>
<use href="#p" x="1418.2" y="154.8"/>
<use href="#k" x="2545.3" y="180"/>
<use href="#k" x="1996.1" y="166.1"/>
<use href="#k" x="2015.9" y="237.7"/>
<use href="#k" x="2748.4" y="210"/>
<use href="#k" x="1679.3" y="205"/>
<use href="#k" x="1729.8" y="183.8"/>
<use href="#k" x="1860.4" y="190.7"/>
<use href="#k" x="1938.7" y="154.3"/>
<use href="#k" x="2024.5" y="188.2"/>
<use href="#g" x="1521" y="205.2"/>
<use href="#k" x="2428.2" y="250.1"/>
<use href="#p" x="2305.4" y="206.3"/>
<use href="#k" x="2074" y="159.7"/>
<use href="#p" x="1477.6" y="153.7"/>
<use href="#k" x="2765.1" y="223"/>
<use href="#k" x="1789.5" y="236.7"/>
<use href="#g" x="1966.9" y="154.3"/>
<use href="#k" x="2008.2" y="169.9"/>
<use href="#k" x="2008.1" y="179.4"/>
<use href="#k" x="2077.3" y="197.2"/>
<use href="#g" x="2216.7" y="233.9"/>
<use href="#k" x="2003.1" y="194.5"/>
<use href="#g" x="2100.6" y="314.4"/>
<use href="#k" x="1657" y="268.2"/>
<use href="#k" x="2033.2" y="160.6"/>
<use href="#p" x="2861" y="254.7"/>
<use href="#k" x="2046.7" y="235.1"/>
<use href="#g" x="2063" y="329.1"/>
<use href="#p" x="2314.3" y="206.5"/>
<use href="#g" x="2410.3" y="164.5"/>
<use href="#k" x="1922.7" y="184"/>
<use href="#g" x="1999.3" y="285"/>
<use href="#p" x="2494.2" y="153.9"/>
<use href="#g" x="2514.1" y="192.2"/>
<use href="#g" x="990.3" y="153.5"/>
<use href="#k" x="1589.3" y="207.2"/>
<use href="#g" x="2572.7" y="297.1"/>
<use href="#g" x="1680" y="207"/>
<use href="#k" x="2058.4" y="239.2"/>
<use href="#k" x="2059.7" y="155.7"/>
<use href="#g" x="2274.8" y="218.4"/>
<use href="#k" x="2839.6" y="199.5"/>
<use href="#g" x="1892.1" y="256.3"/>
<use href="#k" x="2479.8" y="261.8"/>
<use href="#p" x="2374.6" y="217.9"/>
<use href="#k" x="2074" y="179.3"/>
<use href="#p" x="2166.9" y="223.7"/>
<use href="#k" x="2010.7" y="179.2"/>
<use href="#g" x="2390.9" y="157.4"/>
<use href="#k" x="2026.5" y="244.3"/>
<use href="#k" x="1988.5" y="229"/>
<use href="#g" x="2116.9" y="314.1"/>
<use href="#p" x="1291.4" y="153.9"/>
<use href="#k" x="1898.2" y="157"/>
<use href="#g" x="1091.7" y="154.6"/>
<use href="#g" x="2850.7" y="196.9"/>
<use href="#g" x="2120.7" y="179.7"/>
<use href="#g" x="2032.2" y="289.9"/>
<use href="#k" x="2248.9" y="183.5"/>
<use href="#g" x="2372.7" y="299.5"/>
<use href="#k" x="2105.9" y="159.2"/>
<use href="#k" x="2044.9" y="248.4"/>
<use href="#m" x="3362.4" y="154.2"/>
<use href="#k" x="1992.8" y="237.5"/>
<use href="#g" x="2444.1" y="210.1"/>
<use href="#k" x="2753.8" y="315.3"/>
<use href="#g" x="2455.3" y="181.1"/>
<use href="#k" x="2766.8" y="246.3"/>
<use href="#k" x="2115.2" y="193.8"/>
<use href="#k" x="2282.7" y="154.2"/>
<use href="#r" x="1680.8" y="197.8"/>
<use href="#p" x="1408.7" y="254.6"/>
<use href="#p" x="2696.7" y="165.2"/>
<use href="#k" x="1709.7" y="254.6"/>
<use href="#k" x="1741.5" y="154.1"/>
<use href="#k" x="2019.2" y="242"/>
<use href="#g" x="2045.3" y="214.2"/>
<use href="#g" x="1828.6" y="229.8"/>
<use href="#p" x="2625.4" y="189.7"/>
<use href="#g" x="1725.8" y="190.2"/>
<use href="#k" x="2005" y="231.7"/>
<use href="#r" x="2407.7" y="153.5"/>
<use href="#g" x="1551.6" y="246.1"/>
<use href="#k" x="1992.5" y="182"/>
<use href="#p" x="2322.7" y="344.7"/>
<use href="#g" x="2211.1" y="162.3"/>
<use href="#k" x="2185.2" y="186.5"/>
<use href="#k" x="1944.5" y="189.3"/>
<use href="#k" x="2910.1" y="174.6"/>
<use href="#k" x="1807.2" y="185.3"/>
<use href="#k" x="2430.7" y="154.4"/>
<use href="#k" x="2046.2" y="203.6"/>
<use href="#r" x="2190" y="199.1"/>
<use href="#k" x="2354.5" y="172.7"/>
<use href="#p" x="2923.7" y="258"/>
<use href="#p" x="1983.5" y="305.6"/>
<use href="#p" x="3023.2" y="153.5"/>
<use href="#k" x="2036" y="201.8"/>
<use href="#k" x="2435" y="306"/>
<use href="#g" x="1986" y="219.2"/>
<use href="#k" x="2173.9" y="167.2"/>
<use href="#g" x="2679.3" y="184.3"/>
<use href="#g" x="2023.7" y="204.9"/>
<use href="#g" x="1625.7" y="414.4"/>
<use href="#k" x="2055.8" y="228.9"/>
<use href="#k" x="1951.6" y="158.1"/>
<use href="#r" x="889.3" y="193.3"/>
<use href="#k" x="2048" y="175.9"/>
<use href="#k" x="2144.6" y="176.4"/>
<use href="#k" x="2032.3" y="221.4"/>
<use href="#g" x="2437" y="251.2"/>
<use href="#k" x="1579.5" y="163.9"/>
<use href="#k" x="2037" y="224.4"/>
<use href="#k" x="2452.5" y="219.9"/>
<use href="#g" x="2300.5" y="224.3"/>
<use href="#g" x="2788.1" y="154.7"/>
<use href="#k" x="2061.9" y="306.8"/>
<use href="#k" x="2383.8" y="193.2"/>
<use href="#g" x="2696.8" y="192.6"/>
<use href="#p" x="2946.1" y="153.6"/>
<use href="#g" x="2923.7" y="232.4"/>
<use href="#k" x="1902.2" y="163.6"/>
<use href="#p" x="1728.4" y="380.4"/>
<use href="#g" x="2589.7" y="242.7"/>
<use href="#g" x="2061.6" y="294.2"/>
<use href="#g" x="1956.4" y="200.3"/>
<use href="#k" x="1994.5" y="194.8"/>
<use href="#k" x="2034.7" y="162.7"/>
<use href="#k" x="2006.2" y="221.7"/>
<use href="#g" x="2757.2" y="158.7"/>
<use href="#g" x="2286.8" y="189.6"/>
<use href="#p" x="2866.5" y="153.7"/>
<use href="#p" x="2697.1" y="173.1"/>
<use href="#r" x="2045.4" y="152.5"/>
<use href="#k" x="2942" y="179.1"/>
<use href="#r" x="1152.2" y="178"/>
<use href="#g" x="2735" y="227.7"/>
<use href="#p" x="1752.3" y="220.5"/>
<use href="#g" x="2137.4" y="190.3"/>
<use href="#k" x="2007.6" y="183.2"/>
<use href="#k" x="2022" y="185.7"/>
<use href="#k" x="2852.5" y="215.8"/>
<use href="#g" x="1838.7" y="249.5"/>
<use href="#k" x="2012.5" y="181"/>
<use href="#k" x="1718" y="185.2"/>
<use href="#k" x="2057.8" y="236.1"/>
<use href="#g" x="2362.4" y="183.6"/>
<use href="#r" x="795.8" y="174.6"/>
<use href="#g" x="2722.1" y="247.4"/>
<use href="#k" x="2005.5" y="194.3"/>
<use href="#g" x="2480.8" y="176.5"/>
<use href="#k" x="2898.9" y="153.8"/>
<use href="#g" x="2389.2" y="218.7"/>
<use href="#k" x="2873.1" y="194.8"/>
<use href="#k" x="2182.9" y="224.7"/>
<use href="#g" x="1857.1" y="153.6"/>
<use href="#p" x="2092.7" y="172.9"/>
<use href="#p" x="790.7" y="205.2"/>
<use href="#p" x="764.8" y="153.5"/>
<use href="#g" x="2377.7" y="197.1"/>
<use href="#k" x="2811.9" y="153.6"/>
<use href="#p" x="2316.5" y="167.9"/>
<use href="#g" x="2019.8" y="224.8"/>
<use href="#k" x="2071.1" y="168.4"/>
<use href="#k" x="1784.8" y="174.3"/>
<use href="#g" x="2744.9" y="201.6"/>
<use href="#k" x="2069.2" y="339.4"/>
<use href="#k" x="3097.5" y="182.4"/>
<use href="#k" x="1888.6" y="155.3"/>
<use href="#k" x="2125.3" y="179.6"/>
<use href="#k" x="2023" y="221.6"/>
<use href="#k" x="2056.7" y="190.2"/>
<use href="#g" x="1947.9" y="153.6"/>
<use href="#g" x="2803.9" y="184.8"/>
<use href="#k" x="2028.7" y="178.9"/>
<use href="#k" x="2301.6" y="166.3"/>
<use href="#g" x="2285.3" y="155"/>
<use href="#g" x="2422.6" y="269.9"/>
<use href="#g" x="2129.8" y="198.4"/>
<use href="#g" x="2474.6" y="204.7"/>
<use href="#k" x="2021.1" y="207.2"/>
<use href="#p" x="2367.7" y="182.8"/>
<use href="#g" x="2045.5" y="158.6"/>
<use href="#p" x="1976.8" y="154.4"/>
<use href="#p" x="1524.2" y="153.5"/>
<use href="#k" x="1900.1" y="185.7"/>
<use href="#k" x="2982.9" y="153.5"/>
<use href="#k" x="1956.7" y="248"/>
<use href="#p" x="1562.8" y="217.2"/>
<use href="#p" x="676.1" y="154.1"/>
<use href="#k" x="2869.9" y="155.9"/>
<use href="#k" x="1875.6" y="179.7"/>
<use href="#k" x="2105.6" y="182.7"/>
<use href="#r" x="2872" y="214.8"/>
<use href="#k" x="1928.6" y="154.3"/>
<use href="#k" x="2083" y="311.1"/>
<use href="#g" x="2263.9" y="208"/>
<use href="#g" x="2246.1" y="340.6"/>
<use href="#g" x="2393" y="207.8"/>
<use href="#k" x="2139.4" y="301.6"/>
<use href="#k" x="2050.9" y="230.3"/>
<use href="#k" x="1981.2" y="216.7"/>
<use href="#g" x="2748.2" y="177.1"/>
<use href="#k" x="2023.8" y="188.7"/>
<use href="#g" x="2762.3" y="247"/>
<use href="#p" x="1802.2" y="471.6"/>
<use href="#k" x="1991.4" y="224.6"/>
<use href="#k" x="2268.1" y="182.7"/>
<use href="#p" x="779.6" y="153.9"/>
<use href="#k" x="2030.6" y="280.5"/>
<use href="#k" x="2128.3" y="289"/>
<use href="#g" x="2195.4" y="229.5"/>
<use href="#k" x="2055.2" y="222"/>
<use href="#k" x="1683" y="204.1"/>
<use href="#p" x="2328.8" y="414.4"/>
<use href="#g" x="2453.6" y="288.6"/>
<use href="#r" x="925" y="172.9"/>
<use href="#k" x="2051.7" y="230.7"/>
<use href="#p" x="2376.4" y="207.3"/>
<use href="#g" x="1917.6" y="245.6"/>
<use href="#k" x="2046.1" y="240.3"/>
<use href="#p" x="2896.8" y="154.3"/>
<use href="#p" x="883.5" y="308"/>
<use href="#k" x="2678.6" y="171.7"/>
<use href="#p" x="2076.3" y="257.4"/>
<use href="#k" x="1852.3" y="236.9"/>
<use href="#k" x="2729.2" y="154.6"/>
<use href="#g" x="1765.8" y="225.9"/>
<use href="#g" x="1447.8" y="247.8"/>
<use href="#g" x="2730.8" y="215.9"/>
<use href="#p" x="1867.6" y="225.7"/>
<use href="#k" x="2490.5" y="217.1"/>
<use href="#r" x="2828.4" y="276.7"/>
<use href="#g" x="2427.2" y="252.9"/>
<use href="#k" x="1899.7" y="247.8"/>
<use href="#g" x="2359.1" y="168.5"/>
<use href="#g" x="2486.3" y="203.4"/>
<use href="#p" x="2105.2" y="184.3"/>
<use href="#k" x="2502.7" y="154.8"/>
<use href="#k" x="1991.7" y="184"/>
<use href="#k" x="2156.9" y="175.4"/>
<use href="#k" x="2743.7" y="207.1"/>
<use href="#g" x="2717.8" y="153.9"/>
<use href="#p" x="1841.6" y="222.6"/>
<use href="#k" x="1876.6" y="189.6"/>
<use href="#k" x="1887" y="154.2"/>
<use href="#r" x="1405.3" y="186.5"/>
<use href="#g" x="2737.7" y="186.8"/>
<use href="#g" x="2764" y="226.2"/>
<use href="#p" x="2672.4" y="156"/>
<use href="#k" x="2063.5" y="219.6"/>
<use href="#k" x="2019" y="180.5"/>
<use href="#g" x="2764.3" y="248.7"/>
<use href="#g" x="1688.8" y="227.2"/>
<use href="#r" x="2824.4" y="221.6"/>
<use href="#k" x="2119.6" y="158"/>
<use href="#k" x="1643.9" y="199.1"/>
<use href="#g" x="2715.9" y="172.9"/>
<use href="#k" x="2227.9" y="190.6"/>
<use href="#k" x="2884.6" y="165.2"/>
<use href="#k" x="1868.1" y="194.7"/>
<use href="#k" x="2039.9" y="225.9"/>
<use href="#k" x="2311.6" y="206.3"/>
<use href="#k" x="2873.3" y="341.3"/>
<use href="#g" x="1272.7" y="174.6"/>
<use href="#g" x="863.8" y="268.2"/>
<use href="#r" x="3077.8" y="184.1"/>
<use href="#k" x="2359.7" y="195"/>
<use href="#g" x="2518.1" y="171.5"/>
<use href="#k" x="2149.3" y="154.1"/>
<use href="#g" x="2173.9" y="193.7"/>
<use href="#p" x="704.1" y="153.7"/>
<use href="#k" x="2038.5" y="200"/>
<use href="#k" x="2837.5" y="174"/>
<use href="#p" x="2776.1" y="207.5"/>
<use href="#p" x="2756.6" y="218.8"/>
<use href="#k" x="2170.7" y="288.1"/>
<use href="#r" x="2842" y="303.9"/>
<use href="#k" x="1776.1" y="309"/>
<use href="#k" x="2020.6" y="233.8"/>
<use href="#r" x="1641.7" y="153.5"/>
<use href="#k" x="1848" y="163.4"/>
<use href="#k" x="1956.4" y="225.3"/>
<use href="#m" x="2686.6" y="241"/>
<use href="#k" x="2029.9" y="250.5"/>
<use href="#g" x="2196" y="168.4"/>
<use href="#g" x="2267" y="203.4"/>
<use href="#k" x="2398.6" y="154.3"/>
<use href="#p" x="1697" y="212.9"/>
<use href="#g" x="1920.7" y="185.6"/>
<use href="#p" x="2471.6" y="166.5"/>
<use href="#k" x="2705.5" y="153.9"/>
<use href="#k" x="2098.4" y="178.3"/>
<use href="#p" x="2391" y="188.6"/>
<use href="#k" x="2246.7" y="161.2"/>
<use href="#p" x="1801" y="227.1"/>
<use href="#k" x="1742.8" y="167"/>
<use href="#k" x="2495.9" y="339.1"/>
<use href="#g" x="2854.9" y="173.5"/>
<use href="#g" x="2843.2" y="239"/>
<use href="#g" x="1471.9" y="153.8"/>
<use href="#p" x="2126.5" y="190.7"/>
<use href="#k" x="2022.8" y="171.1"/>
<use href="#k" x="2886.3" y="344.7"/>
<use href="#k" x="1997.4" y="197.4"/>
<use href="#k" x="1680.3" y="177"/>
<use href="#p" x="2181.6" y="218.8"/>
<use href="#p" x="745.6" y="154.4"/>
<use href="#k" x="2911.8" y="165"/>
<use href="#k" x="2215.5" y="160.9"/>
<use href="#k" x="2004.8" y="157"/>
<use href="#p" x="1771.9" y="155.7"/>
<use href="#p" x="579.8" y="154.2"/>
<use href="#k" x="1691.4" y="192.4"/>
<use href="#g" x="2216.7" y="224.5"/>
<use href="#p" x="2329.6" y="179.2"/>
<use href="#g" x="2303.9" y="208.4"/>
<use href="#p" x="3036" y="153.7"/>
<use href="#g" x="2421.9" y="153.8"/>
<use href="#k" x="2005.1" y="160.1"/>
<use href="#m" x="3277.4" y="153.5"/>
<use href="#g" x="1314.1" y="220.5"/>
<use href="#p" x="2828" y="189.2"/>
<use href="#g" x="2099.9" y="361.7"/>
<use href="#p" x="702.9" y="154.1"/>
<use href="#k" x="2530.4" y="186.4"/>
<use href="#k" x="2152.2" y="176.8"/>
<use href="#k" x="2079.9" y="210.6"/>
<use href="#k" x="2075.8" y="312.7"/>
<use href="#p" x="2985.9" y="153.7"/>
<use href="#k" x="1920.7" y="250.5"/>
<use href="#k" x="2051" y="194.5"/>
<use href="#k" x="2926.1" y="175.4"/>
<use href="#g" x="2310.7" y="320.9"/>
<use href="#g" x="2298.6" y="161.8"/>
<use href="#g" x="1936.3" y="268"/>
<use href="#p" x="3076.4" y="153.9"/>
<use href="#g" x="2558.8" y="185.7"/>
<use href="#p" x="2621.8" y="200.2"/>
<use href="#k" x="2359.8" y="156.3"/>
<use href="#g" x="1836.4" y="226.3"/>
<use href="#g" x="1898.9" y="195.6"/>
<use href="#p" x="3236.6" y="156.9"/>
<use href="#g" x="2115.8" y="276.6"/>
<use href="#g" x="2293.8" y="207.3"/>
<use href="#g" x="2829.2" y="170.1"/>
<use href="#p" x="1187.6" y="174.6"/>
<use href="#g" x="2410.6" y="223.9"/>
<use href="#g" x="2725.3" y="214.4"/>
<use href="#k" x="2449.3" y="153.5"/>
<use href="#p" x="1390.7" y="153.7"/>
<use href="#p" x="872.5" y="153.8"/>
<use href="#g" x="2275.9" y="195.7"/>
<use href="#p" x="2480.6" y="153.8"/>
<use href="#k" x="2031.5" y="201.8"/>
<use href="#k" x="1217.6" y="286.2"/>
<use href="#g" x="2081.3" y="256.7"/>
<use href="#g" x="2695.4" y="188"/>
<use href="#k" x="2040" y="159.8"/>
<use href="#k" x="2062.7" y="169.7"/>
<use href="#g" x="2316.5" y="277.2"/>
<use href="#g" x="1691.2" y="228.3"/>
<use href="#g" x="2804.8" y="158.2"/>
<use href="#r" x="2127.1" y="152.5"/>
<use href="#k" x="2033.9" y="154"/>
<use href="#p" x="1130.1" y="154.3"/>
<use href="#k" x="2159.6" y="174.1"/>
<use href="#g" x="2770.4" y="176"/>
<use href="#k" x="2234.5" y="153.5"/>
<use href="#p" x="1761.2" y="209.2"/>
<use href="#p" x="2699.5" y="189.6"/>
<use href="#k" x="2042.9" y="234"/>
<use href="#k" x="2045" y="223.5"/>
<use href="#p" x="2118.5" y="256.7"/>
<use href="#k" x="2202.8" y="163.9"/>
<use href="#g" x="1892.6" y="186"/>
<use href="#k" x="2423.4" y="156.6"/>
<use href="#p" x="2257.3" y="372.6"/>
<use href="#k" x="2864.2" y="313.3"/>
<use href="#r" x="1218.9" y="153.5"/>
<use href="#p" x="788.1" y="154.4"/>
<use href="#r" x="2142.4" y="210.3"/>
<use href="#k" x="1989.9" y="210.9"/>
<use href="#k" x="2016.8" y="188.5"/>
<use href="#p" x="693.4" y="153.8"/>
<use href="#k" x="2853.7" y="211.2"/>
<use href="#k" x="1990.8" y="170.8"/>
<use href="#g" x="1768.2" y="210"/>
<use href="#p" x="2005.2" y="233.2"/>
<use href="#k" x="1817.9" y="194.7"/>
<use href="#p" x="1682.2" y="183.1"/>
<use href="#p" x="2502.2" y="154"/>
<use href="#k" x="1675.1" y="159.6"/>
<use href="#k" x="2404" y="208.7"/>
<use href="#g" x="2599.9" y="346.4"/>
<use href="#k" x="1702.5" y="160.4"/>
<use href="#g" x="1821.1" y="202.8"/>
<use href="#k" x="2357.3" y="181.3"/>
<use href="#k" x="2025.5" y="233.7"/>
<use href="#p" x="2984.2" y="153.5"/>
<use href="#k" x="2064" y="185.4"/>
<use href="#g" x="2598.9" y="153.6"/>
<use href="#g" x="2160" y="225.3"/>
<use href="#k" x="2548.9" y="219.7"/>
<use href="#k" x="2046.7" y="166.6"/>
<use href="#k" x="1854.9" y="224"/>
<use href="#g" x="2150.9" y="193.3"/>
<use href="#k" x="2051.9" y="204.1"/>
<use href="#g" x="1802.7" y="213"/>
<use href="#k" x="2158.3" y="160.2"/>
<use href="#k" x="2347.8" y="183.6"/>
<use href="#g" x="2952.6" y="343"/>
<use href="#g" x="1994.5" y="247.6"/>
<use href="#g" x="2210.9" y="206.4"/>
<use href="#k" x="2106.8" y="173.2"/>
<use href="#k" x="2012.9" y="188.7"/>
<use href="#k" x="2414.8" y="166"/>
<use href="#k" x="2040.1" y="162.5"/>
<use href="#g" x="2081.1" y="252.3"/>
<use href="#g" x="2434.9" y="276.7"/>
<use href="#k" x="2381.2" y="186.8"/>
<use href="#k" x="2042.2" y="238"/>
<use href="#p" x="2735.9" y="162.6"/>
<use href="#k" x="2254.4" y="198.6"/>
<use href="#k" x="2064.4" y="203.1"/>
<use href="#k" x="2278.3" y="169.8"/>
<use href="#g" x="2382.2" y="256.3"/>
<use href="#g" x="3102.2" y="191.6"/>
<use href="#g" x="2277.1" y="199.3"/>
<use href="#k" x="2222.8" y="170.2"/>
<use href="#k" x="1991" y="187.5"/>
<use href="#k" x="2124.4" y="163.2"/>
<use href="#g" x="1962.6" y="226.7"/>
<use href="#k" x="1952.8" y="153.6"/>
<use href="#k" x="2743.8" y="162.4"/>
<use href="#k" x="2887" y="173.8"/>
<use href="#k" x="1791.5" y="156.5"/>
<use href="#r" x="2809" y="303.2"/>
<use href="#k" x="2454.1" y="232.1"/>
<use href="#g" x="2389.7" y="177.7"/>
<use href="#g" x="2761.4" y="198.7"/>
<use href="#k" x="2419.4" y="277.6"/>
<use href="#g" x="833.2" y="277.3"/>
<use href="#g" x="2699.9" y="168.8"/>
<use href="#g" x="1849.9" y="240"/>
<use href="#k" x="2174.3" y="168.4"/>
<use href="#k" x="1837.7" y="246.7"/>
<use href="#k" x="1999.7" y="185.3"/>
<use href="#p" x="2691.7" y="205.2"/>
<use href="#k" x="2442.3" y="262.3"/>
<use href="#p" x="2287" y="194"/>
<use href="#k" x="2064.3" y="218.5"/>
<use href="#g" x="1670.2" y="184.9"/>
<use href="#m" x="455.6" y="154.2"/>
<use href="#k" x="1926.7" y="204.2"/>
<use href="#g" x="1703.1" y="153.7"/>
<use href="#g" x="2141.1" y="178.9"/>
<use href="#k" x="2058.5" y="220.7"/>
<use href="#k" x="2911.6" y="174.6"/>
<use href="#g" x="2398.3" y="185.1"/>
<use href="#k" x="2074.7" y="189.8"/>
<use href="#g" x="2029.1" y="193.6"/>
<use href="#r" x="2776.7" y="218.8"/>
<use href="#k" x="2552.3" y="186.2"/>
<use href="#k" x="2032.8" y="222.8"/>
<use href="#p" x="1536.3" y="247.8"/>
<use href="#p" x="2467" y="153.9"/>
<use href="#p" x="1600.9" y="428"/>
<use href="#g" x="2045.9" y="203.7"/>
<use href="#r" x="1499.9" y="153.5"/>
<use href="#r" x="2937.3" y="189.9"/>
<use href="#p" x="882.5" y="258"/>
<use href="#g" x="1282.9" y="183.1"/>
<use href="#k" x="2070" y="211.4"/>
<use href="#g" x="2855.6" y="164.5"/>
<use href="#k" x="2535.7" y="311.1"/>
<use href="#p" x="2450.8" y="154.9"/>
<use href="#k" x="1839.6" y="166.9"/>
<use href="#p" x="2125.3" y="217.7"/>
<use href="#g" x="1900.6" y="208.9"/>
<use href="#g" x="2192.2" y="163.3"/>
<use href="#p" x="976.2" y="153.5"/>
<use href="#k" x="1998.4" y="228.4"/>
<use href="#g" x="2151.6" y="186.4"/>
<use href="#k" x="2043.9" y="166.6"/>
<use href="#g" x="2544.8" y="179.2"/>
<use href="#g" x="2718.7" y="216"/>
<use href="#k" x="2189.8" y="189.1"/>
<use href="#g" x="2110.2" y="198"/>
<use href="#k" x="1985.6" y="187.7"/>
<use href="#p" x="1338.4" y="153.9"/>
<use href="#k" x="1861.4" y="188.4"/>
<use href="#g" x="2735.6" y="237.1"/>
<use href="#k" x="1850.5" y="184.8"/>
<use href="#k" x="2119.4" y="168.1"/>
<use href="#g" x="1262.4" y="244.4"/>
<use href="#p" x="2728.1" y="157"/>
<use href="#g" x="2740" y="411"/>
<use href="#p" x="3112.9" y="153.6"/>
<use href="#p" x="2407.7" y="236.5"/>
<use href="#p" x="2401.1" y="155.1"/>
<use href="#p" x="2845.4" y="373.6"/>
<use href="#k" x="2140.4" y="167.4"/>
<use href="#k" x="2789.4" y="153.7"/>
<use href="#p" x="1193.6" y="153.5"/>
<use href="#k" x="2008.1" y="193.2"/>
<use href="#k" x="2194.6" y="163.3"/>
<use href="#g" x="2765.7" y="153.8"/>
<use href="#g" x="2769.4" y="176.5"/>
<use href="#p" x="766.9" y="154.1"/>
<use href="#p" x="2164" y="277.3"/>
<use href="#k" x="1909.9" y="156.1"/>
<use href="#g" x="1799.6" y="225"/>
<use href="#g" x="1794.1" y="191.3"/>
<use href="#g" x="831.5" y="244.4"/>
<use href="#p" x="2335.5" y="187.5"/>
<use href="#g" x="2213.7" y="257.9"/>
<use href="#k" x="2888.5" y="237.7"/>
<use href="#g" x="1122.3" y="327.7"/>
<use href="#g" x="922.8" y="154.6"/>
<use href="#p" x="2826.9" y="219.6"/>
<use href="#p" x="1059.6" y="154.2"/>
<use href="#p" x="2448.9" y="177.1"/>
<use href="#k" x="1943.7" y="223.2"/>
<use href="#k" x="2136.1" y="172.3"/>
<use href="#k" x="3022.3" y="178"/>
<use href="#k" x="2003.4" y="207"/>
<use href="#k" x="2004.2" y="171.9"/>
<use href="#k" x="2070.7" y="158.3"/>
<use href="#k" x="2129.4" y="188.2"/>
<use href="#k" x="1808.2" y="210.7"/>
<use href="#k" x="2192.9" y="174.2"/>
<use href="#k" x="2896.1" y="200.1"/>
<use href="#k" x="2799.7" y="219.2"/>
<use href="#g" x="2927.1" y="312.4"/>
<use href="#g" x="1430.8" y="188.2"/>
<use href="#k" x="2020.3" y="191.6"/>
<use href="#g" x="2212.4" y="153.7"/>
<use href="#g" x="2117.7" y="223.6"/>
<use href="#k" x="2163.5" y="155"/>
<use href="#g" x="1865.7" y="245.4"/>
<use href="#p" x="2778.1" y="153.9"/>
<use href="#p" x="1243.1" y="250.5"/>
<use href="#k" x="2175.5" y="289.8"/>
<use href="#k" x="2051.1" y="240.7"/>
<use href="#k" x="2167.3" y="278.4"/>
<use href="#p" x="2203.1" y="182.5"/>
<use href="#g" x="2540.9" y="168.4"/>
<use href="#g" x="2254.9" y="206.3"/>
<use href="#g" x="2354.7" y="153.9"/>
<use href="#g" x="2080" y="251.6"/>
<use href="#k" x="2008.9" y="202.8"/>
<use href="#k" x="1967" y="153.9"/>
<use href="#k" x="2778.3" y="211.1"/>
<use href="#k" x="2853.8" y="335.8"/>
<use href="#k" x="2196.3" y="170.8"/>
<use href="#p" x="1605.5" y="158.8"/>
<use href="#p" x="2310.7" y="349.8"/>
<use href="#g" x="2178" y="226"/>
<use href="#k" x="2500.9" y="188.7"/>
<use href="#k" x="2040.3" y="169.9"/>
<use href="#g" x="2000.3" y="269.3"/>
<use href="#g" x="1227.2" y="153.7"/>
<use href="#g" x="2246.1" y="206.8"/>
<use href="#k" x="1729.6" y="165.9"/>
<use href="#g" x="2176.7" y="251"/>
<use href="#g" x="2910.1" y="234.1"/>
<use href="#g" x="1676.4" y="185"/>
<use href="#k" x="2322.7" y="182.9"/>
<use href="#g" x="1967.4" y="183.7"/>
<use href="#k" x="2060.4" y="290.7"/>
<use href="#k" x="2046.3" y="153.7"/>
<use href="#g" x="2947.5" y="223.9"/>
<use href="#k" x="1817.9" y="189.9"/>
<use href="#g" x="1502.2" y="212"/>
<use href="#k" x="2116.5" y="179.9"/>
<use href="#r" x="838.3" y="171.2"/>
<use href="#k" x="2743.7" y="220.7"/>
<use href="#g" x="2021.3" y="271.1"/>
<use href="#k" x="1978.3" y="153.6"/>
<use href="#k" x="2047.9" y="251"/>
<use href="#g" x="2410.3" y="218.3"/>
<use href="#g" x="1834" y="162.7"/>
<use href="#k" x="2011.9" y="164.2"/>
<use href="#k" x="2042.7" y="167.6"/>
<use href="#k" x="1963.1" y="206.1"/>
<use href="#k" x="2016.4" y="232.6"/>
<use href="#k" x="1839.4" y="180.9"/>
<use href="#k" x="2627.1" y="334.5"/>
<use href="#k" x="2246.2" y="204.6"/>
<use href="#p" x="2554.6" y="157.4"/>
<use href="#k" x="1768.2" y="209.2"/>
<use href="#g" x="2582.9" y="348.1"/>
<use href="#k" x="2309.8" y="167.2"/>
<use href="#p" x="1299.7" y="160.7"/>
<use href="#k" x="2155.2" y="281.6"/>
<use href="#k" x="2760.9" y="200.1"/>
<use href="#k" x="2026.3" y="295.4"/>
<use href="#g" x="2260.7" y="187.4"/>
<use href="#g" x="2298.5" y="218.7"/>
<use href="#k" x="2104.5" y="188"/>
<use href="#p" x="889.3" y="183.1"/>
<use href="#k" x="2526.3" y="204.3"/>
<use href="#g" x="1574.8" y="209.2"/>
<use href="#g" x="2452.9" y="158.4"/>
<use href="#k" x="2021.7" y="188"/>
<use href="#k" x="2209.9" y="155.7"/>
<use href="#k" x="1942.8" y="175.7"/>
<use href="#k" x="1724.9" y="211"/>
<use href="#k" x="2870.7" y="326.5"/>
<use href="#k" x="1986.2" y="163.8"/>
<use href="#r" x="1113.8" y="171.2"/>
<use href="#g" x="783.2" y="184.1"/>
<use href="#g" x="1783.9" y="220.1"/>
<use href="#k" x="2003.6" y="177.3"/>
<use href="#k" x="2058.1" y="157.9"/>
<use href="#p" x="925" y="246.1"/>
<use href="#k" x="2396.1" y="171.6"/>
<use href="#g" x="2325.4" y="222.5"/>
<use href="#g" x="2003" y="242.1"/>
<use href="#g" x="2181.8" y="256.8"/>
<use href="#k" x="2110.2" y="163.3"/>
<use href="#k" x="1995.2" y="239"/>
<use href="#g" x="1090.6" y="154.3"/>
<use href="#k" x="2060.9" y="169.9"/>
<use href="#k" x="2068.1" y="160.9"/>
<use href="#g" x="1693.8" y="208.9"/>
<use href="#k" x="1699.2" y="177.4"/>
<use href="#k" x="2020.2" y="167"/>
<use href="#g" x="1921.2" y="190"/>
<use href="#r" x="817.9" y="178"/>
<use href="#k" x="2023.4" y="205.3"/>
<use href="#g" x="2061.3" y="153.7"/>
<use href="#k" x="2890.1" y="235.8"/>
<use href="#p" x="851.5" y="154"/>
<use href="#g" x="1983.6" y="239.6"/>
<use href="#g" x="1687.9" y="228.1"/>
<use href="#g" x="1782.9" y="207"/>
<use href="#g" x="2025.6" y="241.7"/>
<use href="#k" x="2357" y="176.3"/>
<use href="#g" x="2864.2" y="199.9"/>
<use href="#g" x="2916.9" y="239.3"/>
<use href="#k" x="2110.6" y="303.9"/>
<use href="#k" x="1932.9" y="180.1"/>
<use href="#k" x="2471.8" y="156.2"/>
<use href="#g" x="1780.7" y="191.6"/>
<use href="#r" x="2201.9" y="251.2"/>
<use href="#g" x="2386.6" y="188.1"/>
<use href="#k" x="2887.3" y="254.2"/>
<use href="#k" x="1804.8" y="234.9"/>
<use href="#p" x="2531.3" y="154.5"/>
<use href="#g" x="2073" y="154.1"/>
<use href="#k" x="2044.6" y="229.2"/>
<use href="#p" x="2872.5" y="317.6"/>
<use href="#k" x="1591.3" y="184.9"/>
<use href="#k" x="2129.2" y="163.1"/>
<use href="#g" x="2778.5" y="188.9"/>
<use href="#g" x="2374.8" y="186.6"/>
<use href="#k" x="1801" y="192.3"/>
<use href="#p" x="3052.9" y="169.5"/>
<use href="#p" x="1847.5" y="303.9"/>
<use href="#g" x="2390.5" y="193.6"/>
<use href="#r" x="2893.7" y="341.3"/>
<use href="#k" x="2001.1" y="191.6"/>
<use href="#g" x="2967.2" y="354.9"/>
<use href="#r" x="1279.5" y="275.6"/>
<use href="#g" x="2390.5" y="211.1"/>
<use href="#p" x="824.7" y="153.9"/>
<use href="#k" x="2088.4" y="245"/>
<use href="#k" x="3054.1" y="153.5"/>
<use href="#k" x="2175.1" y="192.1"/>
<use href="#k" x="2589.6" y="153.7"/>
<use href="#g" x="2772.9" y="153.6"/>
<use href="#g" x="1253.2" y="154"/>
<use href="#g" x="1900.1" y="265"/>
<use href="#p" x="1687.5" y="153.6"/>
<use href="#k" x="2057.5" y="235.9"/>
<use href="#g" x="2748.4" y="194.7"/>
<use href="#p" x="1376.4" y="288.6"/>
<use href="#r" x="1651.2" y="264.1"/>
<use href="#k" x="2439.1" y="153.7"/>
<use href="#g" x="1628.1" y="229"/>
<use href="#g" x="1817.6" y="220.7"/>
<use href="#k" x="1877.1" y="184.4"/>
<use href="#g" x="2013.9" y="217.9"/>
<use href="#g" x="2169.8" y="334.5"/>
<use href="#k" x="1671.4" y="183.2"/>
<use href="#g" x="2140.9" y="229"/>
<use href="#g" x="1306.1" y="153.5"/>
<use href="#p" x="1555.6" y="169.5"/>
<use href="#k" x="2018" y="154"/>
<use href="#g" x="2158.2" y="194.5"/>
<use href="#p" x="2191.2" y="154.3"/>
<use href="#g" x="2466.1" y="212.1"/>
<use href="#p" x="1024.7" y="153.8"/>
<use href="#p" x="2249.1" y="218.4"/>
<use href="#p" x="2249.9" y="228"/>
<use href="#k" x="2433.6" y="194.7"/>
<use href="#p" x="2584.6" y="202.6"/>
<use href="#k" x="2052.9" y="173.8"/>
<use href="#k" x="2412.5" y="317.6"/>
<use href="#k" x="3035.9" y="181.4"/>
<use href="#g" x="1329.2" y="165.6"/>
<use href="#k" x="1737.9" y="184.6"/>
<use href="#k" x="2107" y="183.2"/>
<use href="#r" x="661.4" y="154.2"/>
<use href="#g" x="2051.1" y="163.7"/>
<use href="#g" x="1707.1" y="219.1"/>
<use href="#k" x="1907.4" y="154.1"/>
<use href="#p" x="760.8" y="154.4"/>
<use href="#k" x="2009.2" y="173.3"/>
<use href="#g" x="2508.4" y="217.5"/>
<use href="#g" x="2049.4" y="185.9"/>
<use href="#g" x="2184.9" y="255"/>
<use href="#g" x="2320" y="170.3"/>
<use href="#g" x="2791.9" y="202.6"/>
<use href="#g" x="1786.8" y="232.4"/>
<use href="#k" x="2270.3" y="154.2"/>
<use href="#k" x="1874" y="154.8"/>
<use href="#g" x="2278.2" y="187.9"/>
<use href="#r" x="977.8" y="153.5"/>
<use href="#k" x="2058.5" y="207.2"/>
<use href="#k" x="2425" y="156.2"/>
<use href="#k" x="1755.5" y="168.9"/>
<use href="#k" x="2073.1" y="193.5"/>
<use href="#r" x="2060.7" y="208"/>
<use href="#k" x="2071.6" y="262.6"/>
<use href="#k" x="2029.2" y="181.9"/>
<use href="#g" x="1795.5" y="210.9"/>
<use href="#g" x="2782.8" y="205.3"/>
<use href="#g" x="2460.6" y="153.9"/>
<use href="#g" x="2271.9" y="231.3"/>
<use href="#k" x="2872" y="166.3"/>
<use href="#p" x="2210.9" y="236.3"/>
<use href="#g" x="2886.3" y="261.4"/>
<use href="#g" x="2483.7" y="208.5"/>
<use href="#k" x="2446.4" y="198.4"/>
<use href="#g" x="2770.8" y="251.6"/>
<use href="#g" x="1739.9" y="169.1"/>
<use href="#g" x="1743.7" y="181.2"/>
<use href="#k" x="2034.5" y="207.3"/>
<use href="#k" x="2136.6" y="302"/>
<use href="#k" x="2136.5" y="160.9"/>
<use href="#k" x="2057.5" y="218.3"/>
<use href="#p" x="2085.4" y="290.8"/>
<use href="#k" x="2697" y="181.3"/>
<use href="#g" x="2876.7" y="156.1"/>
<use href="#p" x="3182.2" y="154.2"/>
<use href="#k" x="2100.1" y="160.2"/>
<use href="#k" x="2113.7" y="170.3"/>
<use href="#k" x="2281.3" y="180.6"/>
<use href="#k" x="2128.1" y="168.5"/>
<use href="#k" x="2045.3" y="200.2"/>
<use href="#k" x="1690.4" y="160.9"/>
<use href="#r" x="1271" y="229"/>
<use href="#g" x="1231.6" y="197.2"/>
<use href="#g" x="2432.1" y="216.5"/>
<use href="#p" x="2672.7" y="156.2"/>
<use href="#g" x="2210.1" y="182.8"/>
<use href="#g" x="2263.1" y="290.3"/>
<use href="#p" x="1810" y="206.5"/>
<use href="#k" x="2891.7" y="180.6"/>
<use href="#p" x="2395.9" y="161.4"/>
<use href="#g" x="2746.8" y="276.7"/>
<use href="#k" x="1781.4" y="154.6"/>
<use href="#g" x="2351" y="199.8"/>
<use href="#k" x="1807" y="241.6"/>
<use href="#p" x="817.9" y="232.4"/>
<use href="#k" x="1611" y="174.7"/>
<use href="#g" x="817" y="154.1"/>
<use href="#k" x="1999" y="201.4"/>
<use href="#g" x="2149.4" y="167.9"/>
<use href="#k" x="2011.4" y="169.5"/>
<use href="#p" x="1929.7" y="154.5"/>
<use href="#g" x="2327.3" y="225.1"/>
<use href="#g" x="2399.3" y="212.6"/>
<use href="#k" x="2425.8" y="191.4"/>
<use href="#p" x="2468.9" y="186.6"/>
<use href="#k" x="2891.5" y="154.1"/>
<use href="#g" x="2787.4" y="187.1"/>
<use href="#g" x="1853.2" y="237.2"/>
<use href="#k" x="2471.9" y="173.2"/>
<use href="#p" x="2350" y="163.5"/>
<use href="#g" x="2301.2" y="237.9"/>
<use href="#k" x="2799.8" y="202.6"/>
<use href="#g" x="1556.7" y="234.1"/>
<use href="#p" x="2605.8" y="192.3"/>
<use href="#k" x="2762.6" y="211"/>
<use href="#p" x="753.5" y="154.1"/>
<use href="#k" x="2340.6" y="169"/>
<use href="#g" x="1628.3" y="167.9"/>
<use href="#g" x="2389" y="181.4"/>
<use href="#g" x="2589.5" y="201.2"/>
<use href="#p" x="2891.6" y="153.9"/>
<use href="#g" x="2711.9" y="165.4"/>
<use href="#k" x="2198.5" y="348.1"/>
<use href="#k" x="2650.9" y="283.5"/>
<use href="#k" x="2392.9" y="168.8"/>
<use href="#g" x="1782.9" y="240.9"/>
<use href="#g" x="2971.3" y="337.9"/>
<use href="#g" x="2235.9" y="269.9"/>
<use href="#k" x="2855.3" y="291.8"/>
<use href="#p" x="2937.3" y="268.2"/>
<use href="#k" x="2230.1" y="177.2"/>
<use href="#g" x="2306.8" y="211.1"/>
<use href="#k" x="2847.2" y="180.5"/>
<use href="#k" x="2169.4" y="158.1"/>
<use href="#k" x="1890" y="226.1"/>
<use href="#r" x="2149.2" y="153.5"/>
<use href="#k" x="2060.8" y="169.9"/>
<use href="#g" x="2169.4" y="165.5"/>
<use href="#k" x="2063.8" y="173.5"/>
<use href="#p" x="908" y="349.8"/>
<use href="#g" x="2040.3" y="313.3"/>
<use href="#p" x="2727.6" y="176"/>
<use href="#r" x="646.1" y="153.5"/>
<use href="#k" x="1792.8" y="163.7"/>
<use href="#k" x="1987.5" y="194.6"/>
<use href="#k" x="1935.2" y="245.5"/>
<use href="#k" x="2691.5" y="153.5"/>
<use href="#g" x="1712" y="170.1"/>
<use href="#g" x="2879.6" y="194.5"/>
<use href="#k" x="1581.8" y="177.3"/>
<use href="#m" x="668.2" y="154.2"/>
<use href="#g" x="2098.5" y="268.1"/>
<use href="#p" x="738.5" y="155.4"/>
<use href="#p" x="2667.2" y="276.7"/>
<use href="#k" x="2071.1" y="207.7"/>
<use href="#k" x="2044.5" y="190"/>
<use href="#k" x="3098.7" y="153.6"/>
<use href="#g" x="2298.5" y="183.1"/>
<use href="#g" x="2112.8" y="199.2"/>
<use href="#k" x="2036.5" y="158.3"/>
<use href="#p" x="1995.7" y="155"/>
<use href="#k" x="1964.2" y="172.5"/>
<use href="#p" x="2099" y="193.8"/>
<use href="#k" x="2064.8" y="177.2"/>
<use href="#k" x="2103.9" y="185.9"/>
<use href="#p" x="2096.6" y="167.4"/>
<use href="#k" x="3037.6" y="195"/>
<use href="#k" x="2175.2" y="176.4"/>
<use href="#k" x="2045.7" y="238.1"/>
<use href="#g" x="1678.8" y="200.1"/>
<use href="#k" x="2058.2" y="189.7"/>
<use href="#k" x="1965.8" y="163.3"/>
<use href="#k" x="2034" y="217.3"/>
<use href="#p" x="2982.2" y="290.3"/>
<use href="#k" x="2075.6" y="224.3"/>
<use href="#k" x="2003.7" y="206.1"/>
<use href="#k" x="2153.9" y="154"/>
<use href="#p" x="2391.9" y="219.1"/>
<use href="#k" x="2167.9" y="162.4"/>
<use href="#p" x="713" y="154.3"/>
<use href="#g" x="2009" y="244.4"/>
<use href="#g" x="2308.2" y="202.7"/>
<use href="#k" x="2130.7" y="247.9"/>
<use href="#p" x="1503.9" y="220.5"/>
<use href="#r" x="2140.7" y="293.7"/>
<use href="#p" x="3090.3" y="184.1"/>
<use href="#k" x="2844.8" y="199"/>
<use href="#k" x="2497.5" y="172.6"/>
<use href="#g" x="1789.7" y="223.6"/>
<use href="#k" x="2164.2" y="191.4"/>
<use href="#g" x="2406.3" y="206.7"/>
<use href="#k" x="2134.4" y="184"/>
<use href="#k" x="2894.9" y="181.6"/>
<use href="#k" x="2026.5" y="199.8"/>
<use href="#k" x="2182.1" y="172.3"/>
<use href="#k" x="2048.8" y="197.2"/>
<use href="#k" x="2226.7" y="167.4"/>
<use href="#g" x="1680.7" y="181.9"/>
<use href="#k" x="1910.6" y="184"/>
<use href="#p" x="1010.7" y="153.6"/>
<use href="#g" x="1763" y="190.1"/>
<use href="#k" x="2145" y="343.6"/>
<use href="#k" x="2116.8" y="166.7"/>
<use href="#g" x="2697.5" y="154.2"/>
<use href="#k" x="2114" y="157.8"/>
<use href="#k" x="2787.5" y="285.2"/>
<use href="#r" x="1219.9" y="222.2"/>
<use href="#p" x="3195.8" y="155.2"/>
<use href="#g" x="2691.7" y="343"/>
<use href="#p" x="1893.9" y="234.6"/>
<use href="#k" x="2849.5" y="296.2"/>
<use href="#p" x="2289" y="171.2"/>
<use href="#k" x="1745.4" y="360.7"/>
<use href="#g" x="2361.3" y="169.8"/>
<use href="#p" x="2207.2" y="183.6"/>
<use href="#k" x="2439.3" y="206.7"/>
<use href="#g" x="2259.8" y="298.5"/>
<use href="#k" x="1781.8" y="189.1"/>
<use href="#k" x="1988.4" y="165.7"/>
<use href="#g" x="829.2" y="153.6"/>
<use href="#k" x="2954.1" y="180.9"/>
<use href="#k" x="2907.3" y="190"/>
<use href="#g" x="1624.7" y="404.2"/>
<use href="#p" x="2571.9" y="155.1"/>
<use href="#g" x="2241.2" y="175.3"/>
<use href="#k" x="2022.9" y="237.3"/>
<use href="#g" x="1682.6" y="203.9"/>
<use href="#k" x="1995.9" y="180.3"/>
<use href="#k" x="1638.4" y="160.7"/>
<use href="#p" x="574.7" y="154.9"/>
<use href="#k" x="1893" y="164.4"/>
<use href="#g" x="2234.2" y="172.8"/>
<use href="#k" x="2220.9" y="160.5"/>
<use href="#k" x="1878.7" y="178.4"/>
<use href="#k" x="2822.9" y="232.3"/>
<use href="#g" x="2391.7" y="189.6"/>
<use href="#k" x="1703.5" y="267.3"/>
<use href="#p" x="950.5" y="153.6"/>
<use href="#k" x="2018.8" y="185.1"/>
<use href="#p" x="925.2" y="154.4"/>
<use href="#p" x="1532.9" y="332.8"/>
<use href="#g" x="2117.6" y="153.6"/>
<use href="#k" x="2868.7" y="351.6"/>
<use href="#g" x="2175.8" y="229"/>
<use href="#k" x="2010.8" y="186.4"/>
<use href="#g" x="1920.3" y="154.4"/>
<use href="#k" x="1916" y="153.8"/>
<use href="#g" x="2320.2" y="153.8"/>
<use href="#p" x="838.5" y="153.9"/>
<use href="#g" x="1912" y="212.8"/>
<use href="#k" x="1909.7" y="180.8"/>
<use href="#g" x="1974.4" y="153.9"/>
<use href="#k" x="2184.6" y="175.8"/>
<use href="#k" x="1858.4" y="185.4"/>
<use href="#p" x="2364.2" y="184.2"/>
<use href="#k" x="2045.3" y="160"/>
<use href="#p" x="2057.2" y="230"/>
<use href="#p" x="2514" y="185.9"/>
<use href="#g" x="1887.2" y="216.6"/>
<use href="#g" x="2184.9" y="248.6"/>
<use href="#g" x="2397.6" y="185.6"/>
<use href="#k" x="1760" y="160.7"/>
<use href="#g" x="2488.2" y="200.8"/>
<use href="#g" x="2196.5" y="172.7"/>
<use href="#k" x="2055.3" y="280.8"/>
<use href="#k" x="2046.2" y="183.5"/>
<use href="#k" x="1823.6" y="239.9"/>
<use href="#k" x="2054.3" y="174.6"/>
<use href="#k" x="2026.1" y="157.8"/>
<use href="#k" x="2177.3" y="208.6"/>
<use href="#g" x="2661.1" y="258.6"/>
<use href="#k" x="2052.2" y="181.6"/>
<use href="#g" x="1842.4" y="168.6"/>
<use href="#k" x="1863.5" y="258.3"/>
<use href="#k" x="2101.6" y="167.2"/>
<use href="#g" x="2191.4" y="253.9"/>
<use href="#k" x="2125.7" y="222.6"/>
<use href="#p" x="3079.1" y="153.7"/>
<use href="#p" x="2381.4" y="215.1"/>
<use href="#k" x="1940.9" y="155"/>
<use href="#k" x="1993.3" y="163.4"/>
<use href="#r" x="2936.6" y="199.1"/>
<use href="#g" x="1206.2" y="154.4"/>
<use href="#g" x="2395.2" y="179.7"/>
<use href="#k" x="2075" y="220.7"/>
<use href="#k" x="2962.1" y="153.6"/>
<use href="#p" x="2116.1" y="208.3"/>
<use href="#k" x="2026.5" y="167.5"/>
<use href="#p" x="2950.9" y="216.1"/>
<use href="#p" x="929.1" y="154.8"/>
<use href="#k" x="2033.4" y="223.9"/>
<use href="#k" x="2250.9" y="216.4"/>
<use href="#k" x="2033.9" y="155.4"/>
<use href="#k" x="2866.8" y="289.4"/>
<use href="#p" x="3240" y="155.9"/>
<use href="#g" x="2288.1" y="201.6"/>
<use href="#k" x="2050.1" y="183.8"/>
<use href="#p" x="1792.4" y="230.9"/>
<use href="#k" x="2466.3" y="163.1"/>
<use href="#k" x="2001.7" y="234.7"/>
<use href="#k" x="2846.7" y="315.3"/>
<use href="#p" x="2482.3" y="182.6"/>
<use href="#k" x="1843.8" y="185.4"/>
<use href="#k" x="2017.2" y="174.2"/>
<use href="#k" x="2064.4" y="239.2"/>
<use href="#k" x="2246.8" y="161.1"/>
<use href="#g" x="2736.5" y="249.4"/>
<use href="#k" x="1952.9" y="156.4"/>
<use href="#k" x="2524" y="195.6"/>
<use href="#p" x="1549.9" y="396.7"/>
<use href="#k" x="2009.4" y="236.1"/>
<use href="#k" x="2198" y="173.3"/>
<use href="#p" x="1191.9" y="154.2"/>
<use href="#p" x="1934.8" y="153.5"/>
<use href="#k" x="1917.6" y="258.5"/>
<use href="#g" x="2489.8" y="153.6"/>
<use href="#k" x="2089.9" y="156.2"/>
<use href="#r" x="884.2" y="227.3"/>
<use href="#k" x="2043.5" y="211.2"/>
<use href="#k" x="1595.3" y="168.9"/>
<use href="#k" x="2016.6" y="171.4"/>
<use href="#g" x="2238.1" y="201.8"/>
<use href="#g" x="1677.2" y="184.6"/>
<use href="#k" x="1998.6" y="238.4"/>
<use href="#p" x="2188.9" y="154"/>
<use href="#k" x="2037.8" y="221.4"/>
<use href="#p" x="808.1" y="153.6"/>
<use href="#k" x="1984.3" y="165.3"/>
<use href="#g" x="2091" y="184.7"/>
<use href="#k" x="2549.7" y="196.9"/>
<use href="#k" x="2438.1" y="261.2"/>
<use href="#k" x="2418.4" y="326.9"/>
<use href="#k" x="2129" y="180.2"/>
<use href="#p" x="2901.6" y="205.2"/>
<use href="#k" x="2944.1" y="167.8"/>
<use href="#g" x="1390" y="178"/>
<use href="#k" x="2053.4" y="163.2"/>
<use href="#g" x="2623.2" y="160.8"/>
<use href="#g" x="2727.1" y="222.5"/>
<use href="#p" x="3094.2" y="153.6"/>
<use href="#p" x="1380.8" y="181.8"/>
<use href="#k" x="1732.7" y="164.3"/>
<use href="#k" x="2010" y="234"/>
<use href="#k" x="2337.3" y="154.8"/>
<use href="#k" x="2413.8" y="178.1"/>
<use href="#k" x="1816.8" y="180.7"/>
<use href="#r" x="829.8" y="169.5"/>
<use href="#g" x="2195.5" y="224.7"/>
<use href="#g" x="2374.2" y="162.3"/>
<use href="#k" x="2212" y="173.8"/>
<use href="#p" x="2964.5" y="388.2"/>
<use href="#k" x="2379.8" y="160.7"/>
<use href="#g" x="2866.8" y="197.4"/>
<use href="#g" x="2743.3" y="297.2"/>
<use href="#k" x="1863.8" y="171.5"/>
<use href="#k" x="1820.3" y="167.3"/>
<use href="#g" x="1798.1" y="213.6"/>
<use href="#g" x="1832" y="227.5"/>
<use href="#k" x="2108.4" y="342.9"/>
<use href="#k" x="2045.6" y="244.7"/>
<use href="#k" x="2306" y="189.4"/>
<use href="#r" x="2905" y="355.6"/>
<use href="#k" x="1768.1" y="193.6"/>
<use href="#k" x="2065.4" y="204"/>
<use href="#g" x="2131.7" y="272.7"/>
<use href="#g" x="2024.9" y="250.6"/>
<use href="#k" x="2187" y="187.9"/>
<use href="#g" x="2020.2" y="297.3"/>
<use href="#k" x="2023" y="208.2"/>
<use href="#k" x="1992.5" y="176.8"/>
<use href="#g" x="2783.7" y="254.8"/>
<use href="#p" x="958.5" y="155.3"/>
<use href="#k" x="1908.8" y="227.8"/>
<use href="#k" x="2004.5" y="198.6"/>
<use href="#k" x="2068.2" y="166.6"/>
<use href="#k" x="2254.6" y="310.7"/>
<use href="#k" x="2185.9" y="169.7"/>
<use href="#k" x="1780.4" y="187.2"/>
<use href="#g" x="1686.3" y="198.4"/>
<use href="#g" x="2222.9" y="265.5"/>
<use href="#k" x="2834" y="168"/>
<use href="#p" x="3046.1" y="181.4"/>
<use href="#k" x="2432.2" y="202.8"/>
<use href="#p" x="1741.5" y="154"/>
<use href="#g" x="1979.9" y="154.1"/>
<use href="#g" x="2719.3" y="175.4"/>
<use href="#g" x="2399.8" y="164"/>
<use href="#k" x="2142.4" y="298.6"/>
<use href="#k" x="2154.1" y="154.2"/>
<use href="#k" x="2328.4" y="156.2"/>
<use href="#g" x="1502.5" y="238"/>
<use href="#k" x="2889.1" y="171.2"/>
<use href="#r" x="2116.9" y="199.1"/>
<use href="#k" x="2129.6" y="184.9"/>
<use href="#g" x="2428.9" y="201.5"/>
<use href="#k" x="2073.9" y="271.4"/>
<use href="#k" x="1738.3" y="213.9"/>
<use href="#k" x="2010.3" y="235.4"/>
<use href="#g" x="2309.8" y="188.8"/>
<use href="#k" x="2150.1" y="204.6"/>
<use href="#k" x="2048.1" y="246.9"/>
<use href="#g" x="2928.9" y="155.8"/>
<use href="#k" x="1737.8" y="190.8"/>
<use href="#m" x="473.3" y="154.6"/>
<use href="#k" x="2005.8" y="157.3"/>
<use href="#k" x="2022.5" y="229.8"/>
<use href="#g" x="2495" y="154.7"/>
<use href="#p" x="2544" y="162.5"/>
<use href="#p" x="1222.7" y="154"/>
<use href="#r" x="1420.6" y="153.5"/>
<use href="#k" x="2572.7" y="286.9"/>
<use href="#k" x="2028.3" y="186.4"/>
<use href="#k" x="2492.7" y="261.4"/>
<use href="#g" x="1901.9" y="263.5"/>
<use href="#k" x="2019" y="202.4"/>
<use href="#k" x="2875.9" y="260.4"/>
<use href="#k" x="2166.4" y="173.5"/>
<use href="#p" x="1613.9" y="180"/>
<use href="#g" x="2839.2" y="253.4"/>
<use href="#g" x="2756.4" y="260.9"/>
<use href="#g" x="1617" y="181.4"/>
<use href="#k" x="2808.7" y="215.8"/>
<use href="#k" x="1812.9" y="161.1"/>
<use href="#g" x="2293.3" y="229.9"/>
<use href="#p" x="2005.8" y="154.1"/>
<use href="#k" x="2031.9" y="206.9"/>
<use href="#k" x="2034.9" y="163.5"/>
<use href="#g" x="874" y="235.9"/>
<use href="#p" x="1761.7" y="153.6"/>
<use href="#g" x="1798.2" y="188"/>
<use href="#k" x="1801" y="174.1"/>
<use href="#k" x="1992.7" y="229"/>
<use href="#k" x="2004.6" y="234.4"/>
<use href="#g" x="2184.6" y="160.4"/>
<use href="#g" x="1917.5" y="230.1"/>
<use href="#g" x="2036.7" y="267.4"/>
<use href="#g" x="1941.8" y="345.3"/>
<use href="#g" x="2000.9" y="236.9"/>
<use href="#g" x="2080.8" y="260.2"/>
<use href="#p" x="1917.7" y="547.7"/>
<use href="#p" x="1836.8" y="564.5"/>
<use href="#p" x="1946.7" y="566.4"/>
<use href="#p" x="1678.7" y="572"/>
<use href="#m" x="1718.5" y="565"/>
<use href="#p" x="1840.1" y="595.9"/>
<use href="#p" x="1983.6" y="627.2"/>
<use href="#p" x="1577.7" y="511.2"/>
<use href="#p" x="1864.8" y="505.6"/>
<use href="#p" x="1959.3" y="514"/>
<use href="#p" x="1911.1" y="697.4"/>
<use href="#p" x="1840.5" y="733.8"/>
<use href="#p" x="1959.3" y="732.4"/>
<use href="#p" x="1755.9" y="766.6"/>
<use href="#p" x="1860.2" y="760"/>
<use href="#p" x="1883.1" y="774.5"/>
<use href="#p" x="1875.1" y="795.1"/>
<use href="#p" x="1873.3" y="816.6"/>
<use href="#p" x="1631.5" y="811"/>
<use href="#p" x="1476.2" y="826"/>
<use href="#m" x="1175.9" y="803.1"/>
<use href="#p" x="1330.3" y="874.1"/>
<use href="#p" x="1448.1" y="895.2"/>
<use href="#m" x="1459.4" y="919.5"/>
<use href="#p" x="1163.3" y="924.2"/>
<use href="#m" x="1286.8" y="924.2"/>
<use href="#m" x="1335.9" y="945.7"/>
<use href="#p" x="1244.7" y="1040.2"/>
<use href="#p" x="2876.9" y="509.4"/>
<use href="#p" x="2964.4" y="510.3"/>
<use href="#p" x="2969" y="511.7"/>
<use href="#p" x="2970.5" y="503.7"/>
<use href="#p" x="3005.5" y="508"/>
<use href="#p" x="2990.1" y="535.1"/>
<use href="#p" x="2907.3" y="545.4"/>
<use href="#m" x="3022.4" y="540.7"/>
<use href="#g" x="3046.7" y="545.4"/>
<use href="#p" x="3038.7" y="577.2"/>
<use href="#g" x="2168.4" y="545.4"/>
<use href="#g" x="2183.3" y="547.7"/>
<use href="#p" x="2149.2" y="554.7"/>
<use href="#p" x="2138" y="571.1"/>
<use href="#p" x="2179.6" y="577.2"/>
<use href="#p" x="2246" y="596.3"/>
<use href="#p" x="2147.8" y="611.3"/>
<use href="#p" x="2087.9" y="617.9"/>
<use href="#p" x="2059.9" y="647.8"/>
<use href="#p" x="2028.5" y="751.1"/>
<use href="#p" x="2068.8" y="746"/>
<use href="#p" x="2124.9" y="747.4"/>
<use href="#p" x="2270.8" y="792.3"/>
<use href="#p" x="2320.8" y="827.8"/>
<use href="#p" x="3147.2" y="635.9"/>
<use href="#p" x="3180" y="699.2"/>
<use href="#m" x="3393.8" y="153.5"/>
<use href="#g" x="3165.5" y="188.5"/>
</g>
<path class="gr" d="M347.47 1085.5V109.2M901.17 1085.5V109.2M1454.87 1085.5V109.2M2008.57 1085.5V109.2M2562.27 1085.5V109.2M3115.97 1085.5V109.2M236.4 153.5H3555.6M236.4 320.1H3555.6M236.4 486.7H3555.6M236.4 653.3H3555.6M236.4 819.9H3555.6M236.4 986.5H3555.6"/>
<path class="vl" stroke="#ffc0cb" d="M840.93 1085.5V109.2"/>
<path class="vl" stroke="#ee82ee" d="M1034.06 1085.5V109.2"/>
<path class="vl" stroke="#a52a2a" d="M1666.83 1085.5V109.2"/>
<path class="vl" stroke="#0000ff" d="M1975.13 1085.5V109.2"/>
<path class="vl" stroke="#87ceeb" d="M2084.32 1085.5V109.2"/>
<path class="vl" stroke="#ffa500" d="M2183.32 1085.5V109.2"/>
<path class="vl" stroke="#ff0000" d="M2369.36 1085.5V109.2"/>
<path class="vl" stroke="#008000" d="M2893.05 1085.5V109.2"/>
<path class="vl" stroke="#808080" d="M3161.71 1085.5V109.2"/>
</g>
<rect class="sp" x="236.4" y="109.2" width="3319.2" height="976.3"/>
<path class="sp" d="M347.47 1085.5v14.6M901.17 1085.5v14.6M1454.87 1085.5v14.6M2008.57 1085.5v14.6M2562.27 1085.5v14.6M3115.97 1085.5v14.6M236.4 153.5h-14.6M236.4 320.1h-14.6M236.4 486.7h-14.6M236.4 653.3h-14.6M236.4 819.9h-14.6M236.4 986.5h-14.6"/>
<g opacity=".999">
<text class="t" x="347.5" y="1146.6" text-anchor="middle" textLength="49.5" lengthAdjust="spacingAndGlyphs">20</text>
<text class="t" x="901.2" y="1146.6" text-anchor="middle" textLength="49.5" lengthAdjust="spacingAndGlyphs">25</text>
<text class="t" x="1454.9" y="1146.6" text-anchor="middle" textLength="49.5" lengthAdjust="spacingAndGlyphs">30</text>
<text class="t" x="2008.6" y="1146.6" text-anchor="middle" textLength="49.5" lengthAdjust="spacingAndGlyphs">35</text>
<text class="t" x="2562.3" y="1146.6" text-anchor="middle" textLength="49.5" lengthAdjust="spacingAndGlyphs">40</text>
<text class="t" x="3116" y="1146.6" text-anchor="middle" textLength="49.5" lengthAdjust="spacingAndGlyphs">45</text>
<text class="t" x="206.5" y="168.6" text-anchor="end" textLength="26.1" lengthAdjust="spacingAndGlyphs">0</text>
<text class="t" x="206.5" y="335.2" text-anchor="end" textLength="78.3" lengthAdjust="spacingAndGlyphs">100</text>
<text class="t" x="206.5" y="501.8" text-anchor="end" textLength="78.3" lengthAdjust="spacingAndGlyphs">200</text>
<text class="t" x="206.5" y="668.4" text-anchor="end" textLength="78.3" lengthAdjust="spacingAndGlyphs">300</text>
<text class="t" x="206.5" y="835" text-anchor="end" textLength="78.3" lengthAdjust="spacingAndGlyphs">400</text>
<text class="t" x="206.5" y="1001.6" text-anchor="end" textLength="78.3" lengthAdjust="spacingAndGlyphs">500</text>
<text class="t" x="1896" y="1202.3" text-anchor="middle">緯度</text>
<text class="t" transform="translate(103.6 600.6) rotate(-90)" text-anchor="middle">深さ</text>
<text class="tt" y="82.8"><tspan x="1196.8" textLength="274" lengthAdjust="spacingAndGlyphs">2008-08-01</tspan> <tspan x="1496">から</tspan> <tspan x="1611.6" textLength="275.4" lengthAdjust="spacingAndGlyphs">2008-08-31</tspan><tspan x="1894.6">の全国地震の緯度と深さの関係</tspan></text>
</g>
<rect x="256.4" y="747.2" width="369.5" height="316.1" rx="8.3" ry="8.3" fill="#fff" fill-opacity=".8" stroke="#ccc" stroke-opacity=".8" stroke-width="4.17"/>
<rect x="271.1" y="765" width="86.9" height="32.6" fill="#e198b4"/>
<rect x="271.1" y="825.8" width="86.9" height="32.6" fill="#7b8d42"/>
<rect x="271.1" y="886.6" width="86.9" height="32.6" fill="#7058a3"/>
<rect x="271.1" y="947.3" width="86.9" height="32.6" fill="#b44c97"/>
<rect x="271.1" y="1008.1" width="86.9" height="32.6" fill="#a22041"/>
<g opacity=".999">
<text class="t" x="390.6" y="796.1" textLength="109" lengthAdjust="spacing">M &lt; 1</text>
<text class="t" x="390.6" y="856.9" textLength="218.5" lengthAdjust="spacing">1 &lt;= M &lt; 2</text>
<text class="t" x="390.6" y="917.7" textLength="218.5" lengthAdjust="spacing">2 &lt;= M &lt; 4</text>
<text class="t" x="390.6" y="978.4" textLength="218.5" lengthAdjust="spacing">4 &lt;= M &lt; 6</text>
<text class="t" x="390.6" y="1039.2" textLength="142.5" lengthAdjust="spacing">M &gt;= 6</text>
</g>
<g clip-path="url(#c2)">
<rect class="bar" x="386.59" y="2229.05" width="54.86" height="1.35"/>
<rect class="bar" x="441.45" y="2226.34" width="54.86" height="4.06"/>
<rect class="bar" x="496.31" y="2226.34" width="54.86" height="4.06"/>
<rect class="bar" x="551.17" y="2228.37" width="54.86" height="2.03"/>
<rect class="bar" x="606.03" y="2228.37" width="54.86" height="2.03"/>
<rect class="bar" x="660.89" y="2220.93" width="54.86" height="9.47"/>
<rect class="bar" x="715.75" y="2219.57" width="54.86" height="10.83"/>
<rect class="bar" x="770.61" y="2162.74" width="54.86" height="67.66"/>
<rect class="bar" x="825.47" y="2179.66" width="54.86" height="50.74"/>
<rect class="bar" x="880.33" y="2123.5" width="54.86" height="106.9"/>
<rect class="bar" x="935.19" y="2204.69" width="54.86" height="25.71"/>
<rect class="bar" x="990.05" y="2217.54" width="54.86" height="12.86"/>
<rect class="bar" x="1044.91" y="2183.71" width="54.86" height="46.69"/>
<rect class="bar" x="1099.77" y="2114.7" width="54.86" height="115.7"/>
<rect class="bar" x="1154.63" y="2203.34" width="54.86" height="27.06"/>
<rect class="bar" x="1209.49" y="2186.42" width="54.86" height="43.98"/>
<rect class="bar" x="1264.35" y="2190.48" width="54.86" height="39.92"/>
<rect class="bar" x="1319.21" y="2182.36" width="54.86" height="48.04"/>
<rect class="bar" x="1374.07" y="2198.6" width="54.86" height="31.8"/>
<rect class="bar" x="1428.93" y="2201.98" width="54.86" height="28.42"/>
<rect class="bar" x="1483.79" y="2193.19" width="54.86" height="37.21"/>
<rect class="bar" x="1538.65" y="2170.18" width="54.86" height="60.22"/>
<rect class="bar" x="1593.51" y="2134.32" width="54.86" height="96.08"/>
<rect class="bar" x="1648.37" y="1954.35" width="54.86" height="276.05"/>
<rect class="bar" x="1703.23" y="2003.06" width="54.86" height="227.34"/>
<rect class="bar" x="1758.09" y="2027.42" width="54.86" height="202.98"/>
<rect class="bar" x="1812.95" y="1827.82" width="54.86" height="402.58"/>
<rect class="bar" x="1867.81" y="1691.83" width="54.86" height="538.57"/>
<rect class="bar" x="1922.67" y="2001.71" width="54.86" height="228.69"/>
<rect class="bar" x="1977.53" y="1478.7" width="54.86" height="751.7"/>
<rect class="bar" x="2032.39" y="1772.34" width="54.86" height="458.06"/>
<rect class="bar" x="2087.25" y="1776.4" width="54.86" height="454"/>
<rect class="bar" x="2142.11" y="1909.69" width="54.86" height="320.71"/>
<rect class="bar" x="2196.97" y="1893.45" width="54.86" height="336.95"/>
<rect class="bar" x="2251.83" y="1918.49" width="54.86" height="311.91"/>
<rect class="bar" x="2306.69" y="2122.14" width="54.86" height="108.26"/>
<rect class="bar" x="2361.55" y="2004.42" width="54.86" height="225.98"/>
<rect class="bar" x="2416.41" y="1301.43" width="54.86" height="928.97"/>
<rect class="bar" x="2471.27" y="2086.96" width="54.86" height="143.44"/>
<rect class="bar" x="2526.13" y="2061.25" width="54.86" height="169.15"/>
<rect class="bar" x="2580.99" y="2181.01" width="54.86" height="49.39"/>
<rect class="bar" x="2635.85" y="2191.16" width="54.86" height="39.24"/>
<rect class="bar" x="2690.71" y="2156.65" width="54.86" height="73.75"/>
<rect class="bar" x="2745.57" y="2095.08" width="54.86" height="135.32"/>
<rect class="bar" x="2800.43" y="2068.02" width="54.86" height="162.38"/>
<rect class="bar" x="2855.29" y="2095.08" width="54.86" height="135.32"/>
<rect class="bar" x="2910.15" y="2069.37" width="54.86" height="161.03"/>
<rect class="bar" x="2965.01" y="2180.33" width="54.86" height="50.07"/>
<rect class="bar" x="3019.87" y="2189.8" width="54.86" height="40.6"/>
<rect class="bar" x="3074.73" y="2207.4" width="54.86" height="23"/>
<rect class="bar" x="3129.59" y="2213.49" width="54.86" height="16.91"/>
<rect class="bar" x="3184.45" y="2227.02" width="54.86" height="3.38"/>
<rect class="bar" x="3239.31" y="2222.96" width="54.86" height="7.44"/>
<rect class="bar" x="3294.17" y="2227.02" width="54.86" height="3.38"/>
<rect class="bar" x="3349.03" y="2228.37" width="54.86" height="2.03"/>
<path class="gd" d="M347.2 2230.4V1254.4M895.8 2230.4V1254.4M1444.4 2230.4V1254.4M1993 2230.4V1254.4M2541.6 2230.4V1254.4M3090.2 2230.4V1254.4M236.4 2230.4H3555.6M236.4 2095.08H3555.6M236.4 1959.76H3555.6M236.4 1824.44H3555.6M236.4 1689.12H3555.6M236.4 1553.8H3555.6M236.4 1418.48H3555.6M236.4 1283.16H3555.6"/>
<path class="vl" stroke="#ffc0cb" d="M836.11 2230.4V1254.4"/>
<path class="vl" stroke="#ee82ee" d="M1027.46 2230.4V1254.4"/>
<path class="vl" stroke="#a52a2a" d="M1654.4 2230.4V1254.4"/>
<path class="vl" stroke="#0000ff" d="M1959.86 2230.4V1254.4"/>
<path class="vl" stroke="#87ceeb" d="M2068.05 2230.4V1254.4"/>
<path class="vl" stroke="#ffa500" d="M2166.14 2230.4V1254.4"/>
<path class="vl" stroke="#ff0000" d="M2350.47 2230.4V1254.4"/>
<path class="vl" stroke="#008000" d="M2869.33 2230.4V1254.4"/>
<path class="vl" stroke="#808080" d="M3135.51 2230.4V1254.4"/>
</g>
<rect class="sp" x="236.4" y="1254.4" width="3319.2" height="976"/>
<path class="sp" d="M347.2 2230.4v14.6M895.8 2230.4v14.6M1444.4 2230.4v14.6M1993 2230.4v14.6M2541.6 2230.4v14.6M3090.2 2230.4v14.6M236.4 2230.4h-14.6M236.4 2095.08h-14.6M236.4 1959.76h-14.6M236.4 1824.44h-14.6M236.4 1689.12h-14.6M236.4 1553.8h-14.6M236.4 1418.48h-14.6M236.4 1283.16h-14.6"/>
<g opacity=".999">
<text class="t" x="347.2" y="2292.1" text-anchor="middle" textLength="49.5" lengthAdjust="spacingAndGlyphs">20</text>
<text class="t" x="895.8" y="2292.1" text-anchor="middle" textLength="49.5" lengthAdjust="spacingAndGlyphs">25</text>
<text class="t" x="1444.4" y="2292.1" text-anchor="middle" textLength="49.5" lengthAdjust="spacingAndGlyphs">30</text>
<text class="t" x="1993" y="2292.1" text-anchor="middle" textLength="49.5" lengthAdjust="spacingAndGlyphs">35</text>
<text class="t" x="2541.6" y="2292.1" text-anchor="middle" textLength="49.5" lengthAdjust="spacingAndGlyphs">40</text>
<text class="t" x="3090.2" y="2292.1" text-anchor="middle" textLength="49.5" lengthAdjust="spacingAndGlyphs">45</text>
<text class="t" x="206.5" y="2245.5" text-anchor="end" textLength="26.1" lengthAdjust="spacingAndGlyphs">0</text>
<text class="t" x="206.5" y="2110.2" text-anchor="end" textLength="78.3" lengthAdjust="spacingAndGlyphs">200</text>
<text class="t" x="206.5" y="1974.9" text-anchor="end" textLength="78.3" lengthAdjust="spacingAndGlyphs">400</text>
<text class="t" x="206.5" y="1839.5" text-anchor="end" textLength="78.3" lengthAdjust="spacingAndGlyphs">600</text>
<text class="t" x="206.5" y="1704.2" text-anchor="end" textLength="78.3" lengthAdjust="spacingAndGlyphs">800</text>
<text class="t" x="206.5" y="1568.9" text-anchor="end" textLength="104.4" lengthAdjust="spacingAndGlyphs">1000</text>
<text class="t" x="206.5" y="1433.6" text-anchor="end" textLength="104.4" lengthAdjust="spacingAndGlyphs">1200</text>
<text class="t" x="206.5" y="1298.3" text-anchor="end" textLength="104.4" lengthAdjust="spacingAndGlyphs">1400</text>
<text class="t" x="1896" y="2347.2" text-anchor="middle">緯度</text>
<text class="t" transform="translate(77.6 1745.6) rotate(-90)" text-anchor="middle">頻度</text>
</g>
</svg></body></html>
